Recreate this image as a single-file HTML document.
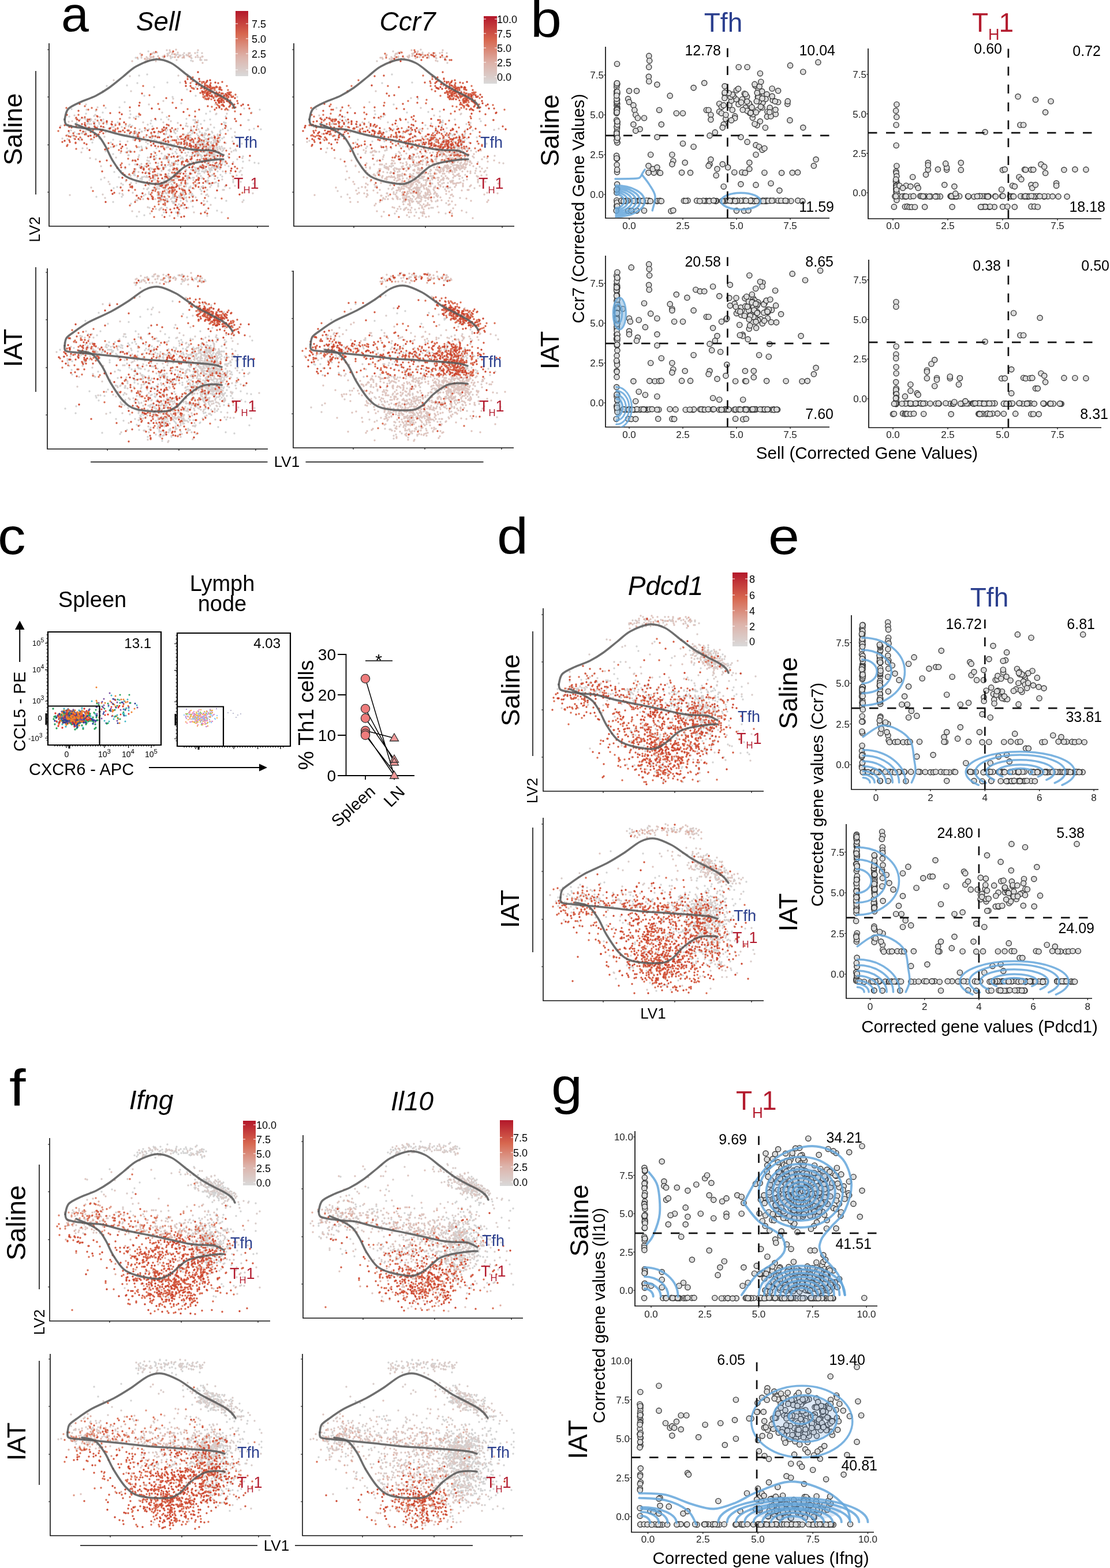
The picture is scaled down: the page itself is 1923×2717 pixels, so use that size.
<!DOCTYPE html><html><head><meta charset="utf-8"><style>html,body{margin:0;padding:0;background:#fff;overflow:hidden}svg{display:block}text{font-family:"Liberation Sans",Arial,sans-serif}</style></head><body>
<svg width="1923" height="2717" viewBox="0 0 1923 2717">
<rect width="1923" height="2717" fill="#fff"/>
<text transform="translate(106 54) scale(1.0 1)" font-size="86">a</text>
<text transform="translate(919 64) scale(1.09 1)" font-size="89">b</text>
<text transform="translate(-4 960) scale(1.09 1)" font-size="89">c</text>
<text transform="translate(861 960) scale(1.09 1)" font-size="89">d</text>
<text transform="translate(1331 960) scale(1.09 1)" font-size="89">e</text>
<text transform="translate(16 1916) scale(1.15 1)" font-size="89">f</text>
<text transform="translate(955 1912) scale(1.09 1)" font-size="89">g</text>
<path d="M85 75V392H466" fill="none" stroke="#111" stroke-width="1.6"/>
<path d="M85 86h-3M85 168h-3M85 251h-3M85 333h-3M189 392v3M313 392v3M446 392v3" stroke="#111" stroke-width="1.2"/>
<path d="M266 104h0m-31 -4h0m22 -11h0m75 12h0m-78 6h0m54 -8h0m23 6h0m-23 -11h0m-12 7h0m15 -4h0m36 6h0m-5 -12h0m7 13h0m-50 -5h0m-6 -7h0m-19 5h0m-35 5h0m128 59h0m20 4h0m11 14h0m-43 -13h0m29 4h0m-11 11h0m38 -13h0m-40 -16h0m3 17h0m-18 1h0m-11 -34h0m30 22h0m-8 1h0m8 8h0m19 5h0m-6 -9h0m20 1h0m-96 -21h0m70 19h0m-92 -19h0m-105 6h0m114 19h0m-116 19h0m156 -21h0m-89 0h0m-43 20h0m48 -57h0m-77 29h0m166 -9h0m-20 6h0m-10 24h0m-76 -35h0m-18 4h0m16 54h0m-20 -25h0m-67 20h0m190 -46h0m-176 50h0m78 -70h0m-4 101h0m-71 -40h0m102 50h0m-96 -29h0m170 38h0m-108 -24h0m134 3h0m-61 7h0m-67 -7h0m-34 -2h0m47 -4h0m-33 9h0m84 -2h0m-86 -13h0m89 9h0m-84 -9h0m-73 -9h0m19 10h0m57 -21h0m58 23h0m68 24h0m-107 -17h0m26 16h0m-40 -13h0m-53 -36h0m115 42h0m31 2h0m36 11h0m-205 -29h0m16 -9h0m56 8h0m69 24h0m-115 -23h0m166 30h0m-122 -47h0m98 2h0m-165 1h0m175 24h0m-69 -12h0m-79 -4h0m123 32h0m-50 -10h0m65 15h0m-53 -44h0m-119 7h0m129 12h0m80 29h0m-65 -20h0m-21 -5h0m-126 -25h0m165 41h0m-134 -40h0m-21 1h0m75 23h0m-8 -3h0m-21 -16h0m-46 3h0m174 27h0m33 14h0m-24 -5h0m-79 -21h0m24 3h0m71 8h0m-96 -27h0m-19 23h0m-48 -17h0m160 18h0m-225 -9h0m9 -11h0m26 -6h0m-11 1h0m7 34h0m-10 -22h0m-33 9h0m22 -27h0m44 55h0m-59 -73h0m26 45h0m-16 -2h0m7 8h0m5 -12h0m33 -3h0m-16 10h0m-10 -9h0m-15 17h0m19 -1h0m-27 -6h0m25 -1h0m17 5h0m-57 -23h0m5 -15h0m42 23h0m-10 -2h0m-27 12h0m-5 -5h0m21 1h0m20 11h0m3 -26h0m-5 12h0m143 22h0m8 89h0m72 -36h0m-86 -53h0m-9 -10h0m1 32h0m0 -16h0m-43 -2h0m128 89h0m-133 -88h0m76 25h0m31 48h0m6 -72h0m-15 -43h0m-71 30h0m111 78h0m-167 -101h0m23 84h0m-9 16h0m38 -80h0m-30 62h0m37 -28h0m-29 -19h0m109 16h0m-144 36h0m52 29h0m43 -44h0m-79 -23h0m102 -35h0m-26 80h0m-7 -36h0m-60 -36h0m50 95h0m-85 -82h0m-4 0h0m68 42h0m34 -1h0m29 -1h0m-1 22h0m23 -50h0m-2 34h0m-41 7h0m15 -33h0m-88 4h0m13 11h0m-4 16h0m13 -18h0m3 11h0m56 68h0m-3 -10h0m-60 -50h0m87 -48h0m81 39h0m-100 -12h0m-52 7h0m48 49h0m-17 -107h0m-34 56h0m33 -7h0m-1 17h0m-19 0h0m-20 -46h0m-11 -10h0m17 76h0m123 -64h0m-180 -5h0m-6 -10h0m170 79h0m-92 -33h0m16 -63h0m-30 48h0m56 6h0m-8 1h0m-98 16h0m25 -3h0m-38 33h0m74 -57h0m110 -41h0m-33 17h0m-72 30h0m-30 36h0m21 -160h0m5 173h0m-34 -16h0m198 -113h0m-238 103h0m65 32h0m-45 -66h0m-1 28h0m56 13h0m40 -30h0m-9 -12h0m-15 -60h0m-18 54h0m81 -13h0m-50 99h0m11 -3h0m-18 -14h0m12 -28h0m44 25h0m-126 -62h0m-29 89h0m110 -84h0m-27 -59h0m83 32h0m-56 82h0m52 -69h0m-108 54h0m-39 35h0m77 -113h0m102 58h0m-122 -34h0m-93 59h0m65 -109h0m41 82h0m4 -11h0m-3 17h0m35 -9h0m-10 10h0m-53 -3h0m78 -8h0m-135 -51h0m94 44h0m42 -2h0m-130 53h0m40 -63h0m159 44h0m-16 -48h0m-20 36h0m-8 -9h0m-149 40h0m135 -27h0m-75 14h0m60 -82h0m-44 44h0m-17 33h0m35 -25h0m-40 -45h0m-34 -18h0m56 72h0m-51 -5h0m93 -2h0m18 7h0m-69 32h0m-52 -37h0m31 -2h0m123 3h0m-101 -40h0m-18 114h0m-14 -117h0m45 31h0m95 10h0m-97 -9h0m4 20h0m54 -27h0m-80 25h0m-25 -24h0m39 55h0m139 -75h0m-111 36h0m-141 56h0m174 -109h0m19 83h0m-55 -15h0m-21 -8h0m70 -83h0m-162 38h0m99 30h0m40 -20h0m-72 50h0m-37 -45h0m70 55h0m67 12h0m-146 -9h0m43 -71h0m67 -12h0m-77 20h0m-50 10h0m166 24h0m-52 9h0m-16 -6h0m97 -81h0m-90 13h0m-70 9h0m105 23h0m-68 52h0m-44 -76h0m120 5h0m-124 18h0m82 16h0m-2 -17h0m9 52h0m-84 -92h0m121 13h0m-106 115h0m28 -26h0m17 -46h0m46 -49h0m-9 97h0m24 -19h0m-138 -56h0m55 -11h0m-31 69h0m52 -54h0m36 1h0m-29 -5h0m-17 38h0m5 61h0m23 8h0m-28 -19h0m28 -52h0m-5 47h0m-13 -1h0m-27 -1h0m31 -8h0m1 42h0m18 -69h0m-8 30h0m-23 2h0m-33 -13h0m75 18h0m-17 11h0m-23 23h0m30 12h0m15 -27h0m-57 -35h0m0 13h0m65 24h0m-29 -10h0m-1 -38h0m-25 38h0m59 0h0m-35 1h0m30 -31h0m-30 33h0m92 6h0m-117 -12h0m-19 8h0m-29 9h0m53 -15h0m54 20h0m-51 -65h0m66 38h0m-65 -12h0m41 -1h0m-67 15h0m5 8h0m71 6h0m-97 28h0m63 -36h0m5 5h0m-59 -9h0m37 0h0m6 -6h0m-63 -25h0m77 45h0m31 -41h0m-89 1h0m72 24h0m-32 8h0m26 29h0m-11 -55h0m-10 35h0m38 -14h0m-41 -47h0m-3 23h0m-12 15h0m41 7h0m-8 34h0m22 -60h0m1 17h0m-44 43h0m5 -45h0m28 32h0m-19 -12h0m2 7h0m-19 23h0m-1 -30h0m6 -18h0m0 31h0m43 -22h0m-38 -29h0m39 20h0m2 14h0m1 -3h0m-44 12h0m-12 -9h0m20 -20h0m53 -10h0m-37 39h0m40 -51h0m-103 76h0m-4 -65h0m46 41h0m31 -7h0m-95 -33h0m102 14h0m-26 -14h0m15 33h0m-2 -7h0m-41 12h0m47 -42h0m3 0h0m-40 -3h0m-6 58h0m-2 -11h0m-11 -21h0m7 11h0m102 26h0m5 -96h0m-18 -11h0m2 7h0m-22 -23h0m29 50h0m-24 -23h0m37 -7h0m-24 -38h0m19 22h0m8 -34h0m-10 106h0m-9 -49h0m-23 -41h0m25 50h0m-28 -66h0m18 75h0m-7 -18h0m-28 15h0m16 -29h0m22 43h0m4 -22h0m-28 -11h0m-6 29h0m16 -7h0m16 7h0m-14 -46h0m8 26h0m10 15h0m-4 -25h0m12 27h0m-46 -45h0m54 83h0m-35 -65h0m31 -38h0m-33 49h0m6 -13h0m41 -71h0m-38 77h0m9 -15h0m19 27h0m-72 -16h0m78 -44h0m-51 61h0m35 -30h0m-61 31h0m106 -11h0m-34 -3h0m-19 35h0m14 -72h0m-28 33h0m-15 27h0m52 9h0m-11 -113h0m-32 28h0m2 72h0m64 24h0m-68 -33h0m25 27h0m-10 13h0m1 -73h0m12 -2h0m-4 44h0m-7 -20h0m11 19h0m-6 -19h0m-49 -19h0m50 33h0m-29 -15h0m20 10h0m4 -83h0m-15 79h0m14 -3h0m-6 -19h0m14 10h0m-24 9h0m13 12h0m-45 -8h0m24 -5h0m57 20h0m-31 4h0m4 -26h0m35 50h0m-50 -24h0m5 22h0m-2 -35h0m-21 -31h0m32 40h0m-18 9h0m7 -71h0m0 68h0m19 -36h0m19 -32h0m-23 46h0m-23 -9h0m6 0h0m1 -22h0m-22 -15h0m37 -5h0m4 57h0m5 -24h0m-36 2h0m61 5h0m-28 36h0m-19 -52h0m7 60h0m9 -107h0m-43 96h0m25 2h0m20 -41h0m-50 31h0m63 -70h0m-30 68h0m18 -49h0m8 5h0m-4 -2h0m-34 49h0m-7 -35h0m0 39h0m20 -25h0m-34 -35h0m38 -24h0m-10 36h0m57 8h0m-44 44h0m-7 -31h0m-13 -10h0m-23 55h0m57 -66h0m-4 65h0m-7 -17h0m-11 58h0m18 -99h0m-13 -17h0m-3 42h0m2 -19h0m-16 5h0m17 -7h0m3 32h0m-3 9h0m26 -14h0m13 25h0m-78 5h0m28 -65h0m20 18h0m-13 -39h0m49 36h0m-39 10h0m-5 -24h0m-21 8h0m-6 -2h0m52 26h0m-32 -22h0m19 3h0m-24 65h0m14 -86h0m-6 74h0m8 -63h0m-29 28h0m13 -23h0m-3 33h0m15 -49h0m9 30h0m-28 -19h0m24 5h0m-12 2h0m-32 7h0m27 -16h0m-8 -2h0m-12 22h0m27 8h0m-10 -45h0m29 58h0m-50 -18h0m66 0h0m-35 -36h0m9 33h0m-32 22h0m48 16h0m-10 -32h0m-23 16h0m15 -26h0m-1 -15h0m-31 -41h0m-16 25h0m83 5h0m-60 21h0m28 8h0m-61 4h0m40 -22h0m8 -52h0m64 83h0m19 -57h0m-36 91h0m26 -106h0m18 75h0m-9 35h0m-8 -110h0m-26 41h0m45 -59h0m-9 92h0m11 -58h0m-30 123h0m-31 -145h0" stroke="#d2d2d2" stroke-width="3.4" stroke-linecap="round"/>
<path d="M327 92h0m4 4h0m12 3h0m-80 5h0m28 -8h0m43 10h0m-79 -2h0m64 -12h0m0 8h0m-21 -6h0m52 -2h0m-61 -5h0m7 12h0m-6 -6h0m-45 7h0m18 -1h0m20 0h0m-38 -3h0m11 10h0m-4 0h0m4 -5h0m6 -8h0m9 9h0m1 -11h0m51 4h0m-39 5h0m21 -5h0m0 1h0m24 2h0m-12 -3h0m38 9h0m-5 -6h0m-84 2h0m47 -4h0m45 8h0m-39 -7h0m-51 -5h0m38 12h0m80 79h0m-17 -27h0m-9 -2h0m-28 -12h0m18 18h0m54 26h0m-49 -14h0m27 5h0m-11 -14h0m1 5h0m-110 41h0m21 3h0m-114 -26h0m140 -55h0m-82 27h0m31 23h0m-33 -49h0m-28 7h0m86 36h0m17 -4h0m-150 19h0m75 2h0m-60 7h0m70 31h0m118 4h0m-95 -10h0m114 18h0m-98 -6h0m73 16h0m-170 -26h0m20 -6h0m45 4h0m-96 -19h0m176 38h0m-10 7h0m-156 -40h0m174 24h0m15 3h0m-57 -5h0m-52 -3h0m-79 -23h0m105 31h0m49 13h0m-9 -21h0m38 -4h0m-118 2h0m118 23h0m-107 -22h0m51 -8h0m-52 -16h0m19 22h0m2 11h0m-53 -22h0m124 26h0m26 9h0m-127 -31h0m87 23h0m-14 -32h0m-50 18h0m-84 -17h0m173 42h0m-99 -17h0m118 15h0m-31 -37h0m-151 1h0m136 8h0m-128 -11h0m-5 13h0m94 12h0m20 -16h0m-89 8h0m108 11h0m-17 7h0m-118 -44h0m18 25h0m131 -10h0m14 30h0m-181 -33h0m203 26h0m-188 -8h0m-65 -15h0m62 3h0m16 8h0m-65 -13h0m33 41h0m37 -34h0m-55 -11h0m16 8h0m-6 11h0m-14 -31h0m19 30h0m-31 11h0m34 -20h0m-3 7h0m28 -18h0m-53 16h0m-4 -15h0m44 8h0m18 18h0m-73 3h0m20 0h0m37 -33h0m-16 -26h0m-8 83h0m-16 -54h0m6 -5h0m12 52h0m-11 -39h0m128 65h0m23 -8h0m9 -20h0m-62 79h0m78 -42h0m11 69h0m-42 -115h0m-24 0h0m-46 89h0m85 -128h0m106 119h0m-108 -6h0m-50 -48h0m83 -26h0m-142 62h0m99 -12h0m71 -3h0m10 47h0m-63 -87h0m14 17h0m1 -10h0m-49 -22h0m79 72h0m-74 -34h0m44 -14h0m-10 33h0m-37 8h0m32 -20h0m-177 55h0m174 -50h0m-47 -76h0m39 36h0m-131 26h0m111 -46h0m55 66h0m-99 9h0m-35 12h0m171 59h0m12 -57h0m-47 -81h0m-11 85h0m-33 -55h0m-122 59h0m169 -45h0m-73 25h0m-20 -9h0m123 1h0m12 -36h0m-37 -2h0m-76 14h0m67 3h0m23 13h0m-53 17h0m-37 -23h0m2 -4h0m117 -82h0m-89 78h0m-63 -6h0m67 -14h0m1 63h0m21 40h0m-91 -113h0m138 51h0m-68 -29h0m-14 47h0m12 -10h0m7 -45h0m-29 4h0m-101 13h0m161 29h0m17 -41h0m-56 59h0m-52 -6h0m55 -31h0m-82 -21h0m-8 8h0m68 3h0m-43 29h0m33 -10h0m-3 12h0m60 -34h0m-9 36h0m32 33h0m12 -99h0m-124 74h0m14 50h0m113 -98h0m-98 -53h0m48 79h0m-66 -62h0m124 42h0m-37 -56h0m38 51h0m-49 50h0m50 4h0m-28 3h0m-108 -64h0m93 2h0m-56 38h0m13 -74h0m20 58h0m-2 39h0m-33 -34h0m43 29h0m2 -43h0m-96 58h0m100 -78h0m-14 1h0m-6 12h0m16 -58h0m-6 13h0m21 44h0m22 25h0m-55 -41h0m-6 -9h0m98 32h0m-78 7h0m36 -22h0m-39 21h0m56 82h0m-55 -73h0m-25 10h0m9 -32h0m9 16h0m-40 -8h0m81 90h0m-100 -83h0m-61 3h0m35 30h0m59 27h0m41 -21h0m-75 23h0m-7 -24h0m99 5h0m-82 -44h0m-21 -80h0m22 88h0m106 31h0m-41 -24h0m-12 0h0m0 -33h0m-13 43h0m51 -12h0m37 -52h0m-78 -18h0m-1 88h0m58 -60h0m-122 43h0m100 -21h0m-84 13h0m46 -72h0m64 98h0m25 -57h0m-104 102h0m20 -79h0m110 -23h0m-132 75h0m53 -48h0m-81 59h0m-59 -123h0m73 48h0m-80 73h0m104 -37h0m-4 -54h0m83 16h0m-23 3h0m-43 29h0m3 3h0m-112 16h0m2 -31h0m72 25h0m101 42h0m-65 -64h0m107 31h0m-92 -8h0m-45 -78h0m100 7h0m-132 104h0m49 -13h0m24 -75h0m80 63h0m-78 19h0m-32 -146h0m81 60h0m48 49h0m-192 10h0m62 -69h0m-102 92h0m151 -99h0m61 85h0m-122 -18h0m64 -31h0m-29 42h0m-74 50h0m114 -157h0m14 60h0m-115 18h0m24 -15h0m27 6h0m1 96h0m6 -45h0m-67 -30h0m43 65h0m56 -28h0m4 -16h0m-51 28h0m15 4h0m-44 7h0m30 -7h0m5 -20h0m-15 31h0m86 -45h0m-59 8h0m-15 9h0m-14 15h0m2 -4h0m1 -13h0m21 16h0m7 -9h0m-15 5h0m-7 -4h0m-24 -29h0m-19 -14h0m56 47h0m-19 -42h0m37 -4h0m-68 8h0m54 20h0m-27 7h0m12 15h0m1 -21h0m-14 -12h0m87 21h0m-110 -10h0m66 -1h0m-40 1h0m13 -7h0m12 16h0m-9 -2h0m19 -13h0m43 27h0m-84 -43h0m44 38h0m36 -7h0m-6 -42h0m-21 49h0m-6 -7h0m6 -13h0m-64 -22h0m43 32h0m-2 3h0m-4 -29h0m16 33h0m44 14h0m-107 -64h0m109 48h0m-25 -37h0m-14 32h0m-21 1h0m-44 -36h0m73 62h0m-31 -48h0m-19 8h0m-24 17h0m32 -17h0m11 -11h0m-46 30h0m-36 -1h0m47 32h0m13 -32h0m-15 -19h0m33 20h0m-14 9h0m-2 -26h0m1 5h0m41 10h0m-40 -45h0m-22 36h0m123 -5h0m-76 -7h0m82 52h0m-84 -32h0m35 -24h0m-48 32h0m37 5h0m-72 -28h0m-16 18h0m79 17h0m-5 -2h0m-57 -47h0m39 9h0m-22 46h0m50 -24h0m21 -118h0m25 49h0m-25 -48h0m-14 18h0m26 16h0m5 11h0m9 -38h0m-43 41h0m79 -24h0m-60 -10h0m5 26h0m-4 50h0m18 -78h0m-3 17h0m14 -9h0m-34 53h0m38 -61h0m-35 85h0m28 -16h0m-13 -28h0m75 -49h0m-88 25h0m49 -53h0m-51 69h0m-1 39h0m19 -82h0m-9 57h0m11 1h0m38 -58h0m-32 16h0m-18 42h0m-16 -53h0m52 -4h0m-28 28h0m5 42h0m-8 -20h0m0 -40h0m29 43h0m-23 31h0m27 21h0m-21 -68h0m-37 -16h0m21 5h0m24 26h0m-16 37h0m-17 -96h0m39 76h0m-14 -3h0m-45 -41h0m82 62h0m-97 -3h0m100 -79h0m-82 50h0m26 29h0m-13 -100h0m37 84h0m-18 -60h0m15 58h0m-6 -44h0m-19 8h0m-6 -7h0m-18 -8h0m54 21h0m-1 -4h0m-7 11h0m-16 -23h0m-24 55h0m34 -18h0m17 -24h0m-32 48h0m1 -59h0m-9 51h0m7 -19h0m38 33h0m-20 -95h0m9 48h0m-32 -14h0m33 3h0m-32 16h0m24 -31h0m-16 -2h0m-13 32h0m53 -20h0m-47 -24h0m21 37h0m-42 -20h0m37 1h0m11 25h0m-21 24h0m-11 -33h0m68 -22h0m-50 20h0m20 -9h0m-38 -36h0m40 74h0m-13 -9h0m2 -4h0m-43 36h0m19 -62h0m-16 4h0m35 31h0m-5 -24h0m29 3h0m-30 0h0m21 -24h0m-8 12h0m-64 11h0m60 59h0m-35 -98h0m55 77h0m-35 -6h0m33 -37h0m-30 -8h0m15 17h0m2 -28h0m-34 63h0m80 17h0m-72 -23h0m39 -7h0m-22 -17h0m19 5h0m-9 37h0m29 -47h0m-49 12h0m67 28h0m-83 5h0m19 -77h0m17 25h0m-18 43h0m57 -23h0m-29 8h0m-46 -22h0m36 8h0m-22 11h0m2 -30h0m5 45h0m-24 -32h0m6 -7h0m37 -6h0m-22 3h0m29 36h0m-18 -13h0m-15 -16h0m14 -8h0m8 4h0m-10 -17h0m-63 85h0m72 -79h0m-49 55h0m36 -22h0m16 37h0m-14 -68h0m14 -1h0m-49 9h0m50 18h0m-24 -21h0m4 38h0m14 -31h0m30 40h0m-68 -61h0m17 -5h0m1 90h0m68 -28h0m3 54h0m18 -15h0m-15 -147h0m-35 50h0m32 36h0m-31 -17h0m10 0h0m5 24h0m16 10h0m-32 -23h0m44 10h0" stroke="#d8cbc8" stroke-width="3.4" stroke-linecap="round"/>
<path d="M311 96h0m-50 4h0m34 -3h0m-35 0h0m31 -2h0m-9 3h0m-53 8h0m65 -19h0m1 3h0m0 7h0m34 -5h0m-77 16h0m72 -12h0m-70 7h0m20 -5h0m53 -5h0m-11 7h0m31 0h0m-88 2h0m26 -6h0m53 -4h0m1 7h0m-69 7h0m61 -6h0m-23 -9h0m43 7h0m-47 -4h0m1 -8h0m-62 7h0m83 3h0m-62 -3h0m83 11h0m-5 -8h0m-80 3h0m-17 -2h0m45 0h0m53 -10h0m-89 12h0m97 10h0m-85 -18h0" stroke="#dec4be" stroke-width="3.4" stroke-linecap="round"/>
<path d="M299 91h0m-33 7h0m62 0h0m-90 2h0m71 -1h0m-58 3h0m52 -3h0m-1 -5h0m16 5h0" stroke="#deada0" stroke-width="3.4" stroke-linecap="round"/>
<path d="M246 95h0m30 6h0m58 39h0m51 31h0m-7 2h0m-14 -18h0m-16 -2h0m27 8h0m-17 1h0m49 31h0m-9 -31h0m-45 7h0m4 -26h0m9 29h0m28 18h0m-60 -56h0m36 26h0m4 -9h0m1 0h0m5 1h0m-4 29h0m-41 -41h0m32 45h0m26 -20h0m-36 -8h0m-2 -4h0m18 10h0m17 9h0m-55 -19h0m61 23h0m-24 -20h0m-31 -12h0m10 17h0m6 0h0m10 -8h0m-8 14h0m24 8h0m10 -26h0m-37 22h0m39 5h0m-13 -24h0m10 15h0m-14 -5h0m-44 -9h0m59 15h0m-9 -6h0m-24 -3h0m-28 -7h0m46 31h0m12 7h0m-9 -24h0m-5 1h0m3 -3h0m-27 4h0m10 -6h0m-6 -4h0m39 -2h0m-45 -12h0m10 27h0m48 -7h0m-29 12h0m20 -2h0m-34 -18h0m0 3h0m4 9h0m35 -1h0m-24 17h0m0 -30h0m4 28h0m-54 -38h0m49 29h0m-15 -26h0m-3 16h0m8 -10h0m15 36h0m19 -2h0m-9 -22h0m5 17h0m-16 -10h0m-33 -30h0m32 23h0m12 7h0m-58 -18h0m69 32h0m-146 -21h0m66 -32h0m-77 16h0m90 44h0m-52 32h0m-117 -16h0m103 13h0m55 13h0m-65 -5h0m3 6h0m-24 -38h0m-94 5h0m173 45h0m-35 -7h0m-106 -27h0m193 23h0m-12 10h0m-152 -41h0m46 28h0m-38 -5h0m-9 -13h0m-60 -32h0m92 49h0m-6 -2h0m-65 -30h0m157 34h0m13 5h0m31 13h0m-78 -9h0m-56 -38h0m136 56h0m-171 -45h0m104 7h0m-11 -23h0m-93 23h0m41 -27h0m-23 18h0m16 7h0m-30 1h0m125 20h0m-12 -10h0m-36 -5h0m0 -4h0m-48 4h0m77 19h0m-106 -25h0m-81 -4h0m62 -6h0m-70 23h0m38 -45h0m-20 17h0m-16 44h0m50 -61h0m-25 30h0m-6 -21h0m22 42h0m-1 -12h0m37 -18h0m-79 -24h0m32 26h0m-15 45h0m-1 -11h0m47 -22h0m-39 13h0m20 -51h0m-27 50h0m48 -54h0m-52 52h0m33 -9h0m-60 1h0m319 107h0m-128 -53h0m63 -2h0m20 -28h0m-37 64h0m-43 -90h0m19 11h0m61 52h0m-69 -41h0m-3 90h0m13 -26h0m-70 -51h0m97 51h0m-94 -73h0m56 41h0m-54 -57h0m57 28h0m35 19h0m-118 51h0m11 -67h0m-6 47h0m61 20h0m26 -79h0m-129 16h0m120 14h0m-54 -14h0m31 59h0m49 -21h0m-75 22h0m13 -13h0m-74 -51h0m36 76h0m86 -74h0m-44 7h0m-7 3h0m48 87h0m-50 -81h0m-40 -51h0m6 43h0m36 30h0m75 15h0m-1 -51h0m-81 -26h0m-40 44h0m71 66h0m100 -58h0m-187 -23h0m74 21h0m-6 -101h0m61 63h0m18 45h0m-95 5h0m-19 -56h0m29 -8h0m-43 127h0m81 -64h0m26 -20h0m-68 -36h0m46 20h0m-36 59h0m-82 -28h0m11 4h0m51 -2h0m20 -35h0m54 -54h0m-11 80h0m18 37h0m-36 -74h0m59 26h0m-41 60h0m36 -85h0m-15 19h0m-34 37h0m-69 -21h0m118 -25h0m-129 48h0m77 -16h0m-2 -108h0m79 68h0m-165 54h0m72 -41h0m-124 72h0m164 -142h0m-88 66h0m-17 9h0m88 106h0m63 -98h0m-161 -10h0m2 68h0m-1 -47h0m64 71h0m-32 -9h0m55 -46h0m55 56h0m-39 -38h0m70 27h0m-3 -61h0m-99 -29h0m19 52h0m1 11h0m71 -12h0m-75 7h0m-37 -3h0m58 14h0m15 -35h0m61 90h0m-114 -43h0m-18 31h0m29 -39h0m14 -8h0m-13 15h0m5 0h0m7 15h0m8 -13h0m-38 13h0m-7 9h0m7 -65h0m18 39h0m-19 1h0m-1 -20h0m38 -7h0m-47 38h0m5 -13h0m45 25h0m1 -28h0m-29 24h0m-67 -40h0m95 26h0m-29 3h0m-10 -5h0m29 -1h0m-41 -1h0m75 -35h0m-68 29h0m38 32h0m-7 -35h0m-18 38h0m56 -40h0m-54 8h0m-10 6h0m26 -6h0m-32 -28h0m10 43h0m12 -37h0m-5 46h0m-3 -30h0m35 -16h0m-15 31h0m25 2h0m-61 34h0m30 -50h0m6 -21h0m60 -35h0m-21 -8h0m-16 -23h0m66 22h0m-21 40h0m-7 -36h0m9 29h0m18 -14h0m-20 -27h0m11 27h0m-14 6h0m-8 12h0m-16 -59h0m-3 -27h0m36 28h0m-8 12h0m22 45h0m-30 -19h0m30 -46h0m-53 24h0m35 27h0m-20 -8h0m26 -36h0m-50 62h0m36 -26h0m-27 -35h0m23 43h0m36 -16h0m-57 -42h0m71 67h0m24 -96h0" stroke="#da6c50" stroke-width="3.4" stroke-linecap="round"/>
<path d="M300 89h0m-39 5h0m9 -4h0m15 8h0m90 69h0m-3 23h0m15 -16h0m-6 -4h0m-3 -4h0m-11 -1h0m-5 5h0m13 -10h0m33 26h0m-50 -24h0m-3 -17h0m-5 7h0m5 15h0m25 -12h0m-25 -9h0m20 4h0m7 16h0m3 8h0m-1 -12h0m0 -6h0m-11 10h0m23 -4h0m36 26h0m-54 -44h0m-26 20h0m34 -2h0m-3 7h0m-28 -11h0m34 8h0m-8 -15h0m6 19h0m-8 1h0m-15 -19h0m39 16h0m-29 10h0m-8 -24h0m15 23h0m0 -2h0m-21 9h0m13 -22h0m-13 -13h0m37 36h0m-9 -1h0m-8 -6h0m-18 -20h0m6 1h0m-9 -8h0m-34 -14h0m55 23h0m31 15h0m-57 -21h0m40 7h0m-36 11h0m18 -21h0m6 4h0m15 5h0m21 23h0m-72 -42h0m18 21h0m34 22h0m-38 -24h0m3 -2h0m37 7h0m-42 -23h0m18 20h0m24 18h0m1 -12h0m-32 -16h0m25 19h0m-47 -10h0m3 -3h0m15 -8h0m-4 22h0m24 -30h0m7 46h0m-9 -22h0m-6 0h0m-6 -14h0m-3 0h0m7 35h0m-10 -27h0m-7 3h0m48 18h0m-41 -23h0m47 21h0m-40 -26h0m-7 -9h0m-16 6h0m25 28h0m-4 -8h0m-12 -22h0m40 30h0m-39 -12h0m24 1h0m-25 -11h0m-4 5h0m32 20h0m14 -21h0m-55 30h0m-103 -12h0m73 -5h0m-69 -11h0m99 28h0m-57 -20h0m-82 58h0m-37 -26h0m151 41h0m-113 -29h0m132 41h0m-34 -12h0m-82 -17h0m82 18h0m45 -10h0m-176 -9h0m95 11h0m-78 -40h0m-27 23h0m57 7h0m71 20h0m-28 -22h0m2 -1h0m81 28h0m-64 -8h0m-129 -22h0m53 -26h0m124 48h0m-118 -17h0m78 12h0m-112 -18h0m119 2h0m31 30h0m-1 1h0m-4 -2h0m-115 -23h0m51 10h0m15 -10h0m-50 3h0m121 10h0m-68 -12h0m-51 0h0m108 25h0m-128 -39h0m-52 -8h0m-3 0h0m-36 -8h0m63 32h0m-31 -13h0m-18 23h0m33 -3h0m4 -2h0m-4 2h0m-55 8h0m28 -54h0m14 58h0m-28 -13h0m-6 16h0m4 -33h0m24 8h0m29 52h0m-35 -100h0m-1 52h0m5 -17h0m0 27h0m5 -9h0m-23 -12h0m18 -6h0m-3 11h0m-18 20h0m-2 -10h0m12 12h0m1 -44h0m-20 13h0m30 25h0m31 -13h0m-2 4h0m-25 15h0m3 -16h0m-29 11h0m12 -24h0m2 -12h0m-7 24h0m173 63h0m25 -14h0m-76 12h0m-17 5h0m29 -51h0m61 33h0m-27 -21h0m55 -36h0m-53 50h0m-58 33h0m76 -41h0m29 60h0m-77 -30h0m55 -57h0m62 -22h0m-54 61h0m-44 10h0m-98 -38h0m125 -31h0m1 32h0m23 21h0m-7 63h0m-88 -89h0m-44 90h0m163 -75h0m-69 -42h0m-3 -1h0m67 62h0m-1 90h0m-103 -47h0m66 -61h0m20 -58h0m-23 82h0m-119 -58h0m103 106h0m8 -38h0m-74 -1h0m123 32h0m-126 -47h0m17 21h0m101 71h0m-132 -67h0m18 -25h0m45 -24h0m47 -13h0m-100 22h0m-49 34h0m106 -4h0m-73 -3h0m83 -22h0m-4 6h0m-28 63h0m-44 -47h0m56 -52h0m88 64h0m-40 -5h0m-69 3h0m-27 -114h0m59 71h0m-75 29h0m136 23h0m-69 -120h0m-79 65h0m120 58h0m66 -26h0m-167 -64h0m119 60h0m-58 -7h0m60 -45h0m-23 146h0m-26 -61h0m13 -31h0m-116 -6h0m104 -6h0m19 29h0m-34 14h0m76 -34h0m4 51h0m-20 -6h0m-67 -50h0m45 25h0m-83 24h0m68 -88h0m-13 -5h0m-39 57h0m69 -48h0m38 85h0m-11 -68h0m-24 72h0m4 -12h0m14 -23h0m-101 -52h0m38 46h0m-49 41h0m63 -24h0m-51 -65h0m162 32h0m-135 -6h0m93 14h0m-90 17h0m98 7h0m-168 -55h0m124 0h0m-17 49h0m32 -34h0m-51 -22h0m19 118h0m-45 -16h0m54 -18h0m3 -80h0m93 42h0m-55 28h0m38 -95h0m-32 55h0m-51 -5h0m-28 -23h0m22 76h0m-2 4h0m13 -69h0m-32 26h0m-18 -34h0m113 -3h0m-136 27h0m59 55h0m23 -15h0m-48 -24h0m48 -37h0m-78 -56h0m-17 125h0m-16 -67h0m136 20h0m-10 -58h0m-66 99h0m4 -9h0m20 16h0m27 -20h0m-76 36h0m56 -29h0m-44 7h0m98 24h0m-86 -23h0m41 -14h0m-23 16h0m15 56h0m-19 -87h0m-3 49h0m18 -16h0m23 9h0m-47 10h0m60 -2h0m-39 22h0m-30 -21h0m98 -24h0m-57 -13h0m-23 41h0m27 17h0m-47 -23h0m58 -27h0m-33 8h0m-34 -37h0m56 28h0m49 58h0m-125 -20h0m81 -12h0m-8 4h0m-13 -11h0m-26 -6h0m-59 0h0m97 -33h0m-8 33h0m13 -29h0m-71 47h0m94 5h0m5 -27h0m17 -7h0m-70 11h0m-7 -22h0m7 44h0m31 -38h0m-61 35h0m24 -5h0m-15 23h0m96 -1h0m-71 -12h0m-7 5h0m45 -46h0m-12 35h0m1 -35h0m-80 31h0m66 -10h0m19 7h0m35 -82h0m22 10h0m-25 13h0m15 -18h0m-18 27h0m38 -39h0m-65 1h0m58 42h0m-7 -8h0m29 24h0m-38 -41h0m15 -31h0m-38 12h0m4 43h0m29 0h0m-34 -12h0m17 -28h0m-11 13h0m5 0h0m-18 -16h0m5 16h0m28 -10h0m-39 32h0m11 -30h0m17 5h0m-8 -16h0m24 18h0m-11 -28h0m-1 18h0m11 -12h0m5 5h0m9 27h0m-33 39h0m-22 -57h0m116 -34h0m-38 -9h0m-2 -4h0m10 11h0" stroke="#d2573e" stroke-width="3.4" stroke-linecap="round"/>
<path d="M391 163h0m5 5h0m-32 -29h0m16 47h0m4 -9h0m-22 -26h0m18 24h0m-5 -13h0m-11 -14h0m15 30h0m14 -3h0m-16 -1h0m-26 -14h0m47 18h0m-26 -4h0m35 -4h0m-86 -29h0m34 8h0m-10 -2h0m7 12h0m-7 -22h0m-3 17h0m-2 -8h0m23 20h0m21 7h0m-43 -27h0m18 15h0m8 6h0m-2 -9h0m-6 -18h0m-5 12h0m25 24h0m-13 -9h0m14 -1h0m-50 -17h0m47 16h0m20 -1h0m-4 1h0m-33 -1h0m-30 -6h0m91 23h0m-78 -56h0m10 17h0m77 40h0m-99 -45h0m86 61h0m-29 -32h0m-1 17h0m-14 -40h0m15 34h0m-30 -12h0m-36 -21h0m0 5h0m-81 34h0m22 5h0m-52 10h0m-17 18h0m89 10h0m4 19h0m15 -2h0m-150 -33h0m115 19h0m29 -1h0m43 23h0m-10 -2h0m22 9h0m-82 -52h0m-84 4h0m56 20h0m-50 -8h0m97 0h0m-98 1h0m-15 -4h0m197 19h0m-179 -23h0m138 37h0m2 -11h0m-12 -2h0m-146 -31h0m-18 27h0m-2 25h0m-13 -56h0m26 18h0m-21 -6h0m-11 25h0m28 -8h0m-45 -6h0m-15 -6h0m61 0h0m-53 23h0m41 -8h0m-16 -27h0m39 18h0m-13 -13h0m206 43h0m-51 44h0m-31 1h0m-19 -5h0m-5 17h0m-80 36h0m228 -97h0m-173 32h0m63 -14h0m-62 -35h0m27 13h0m-54 59h0m158 -46h0m-51 -17h0m17 39h0m-78 16h0m-76 -41h0m107 48h0m-9 10h0m-39 -76h0m-42 -14h0m120 59h0m25 -30h0m-63 53h0m22 -4h0m-85 -54h0m182 45h0m-156 -5h0m148 -86h0m-118 87h0m-25 2h0m27 -56h0m-61 -26h0m90 -25h0m-21 34h0m119 63h0m-210 46h0m15 -80h0m156 36h0m-169 50h0m122 -113h0m40 52h0m-45 -38h0m-55 50h0m63 68h0m-18 -63h0m-46 -49h0m41 125h0m31 -78h0m-30 35h0m10 -19h0m-20 0h0m-23 2h0m111 22h0m-164 -76h0m180 67h0m-114 1h0m130 -25h0m-152 -71h0m-1 90h0m113 1h0m-109 -11h0m56 -25h0m-6 -3h0m9 -84h0m-59 107h0m2 -29h0m50 -17h0m2 57h0m102 -40h0m-105 34h0m-41 -53h0m35 102h0m41 -38h0m-22 43h0m-35 8h0m31 7h0m-72 -40h0m30 8h0m-12 -13h0m42 -8h0m-1 24h0m18 -69h0m25 75h0m-41 16h0m-1 -8h0m-2 -36h0m15 6h0m-2 15h0m-53 -40h0m76 42h0m-56 29h0m-4 -55h0m25 11h0m-36 -50h0m12 50h0m5 32h0m-22 -19h0m15 -23h0m-51 1h0m99 7h0m12 -18h0m3 -20h0m-13 9h0m61 -83h0m-59 57h0m20 16h0m25 -21h0m5 0h0m-31 -20h0m-7 62h0m11 -42h0m-24 -15h0m38 -3h0m-36 38h0m12 -46h0m34 69h0m-12 -48h0m5 10h0m-41 -49h0m32 38h0m8 23h0m-10 -46h0m-12 49h0m33 -12h0m-31 -21h0m6 32h0m44 3h0m32 -22h0m-18 67h0m-10 -88h0" stroke="#cb422c" stroke-width="3.4" stroke-linecap="round"/>
<path d="M112 207C113 204 113.5 194 118 189C122.5 184 131 180.8 139 177C147 173.2 157.7 170.2 166 166C174.3 161.8 181.2 157.5 189 152C196.8 146.5 205.2 139.2 213 133C220.8 126.8 226.7 120 236 115C245.3 110 259 104 269 103C279 102 287 104.7 296 109C305 113.3 314.5 122.7 323 129C331.5 135.3 339.2 141.8 347 147C354.8 152.2 363.5 156.5 370 160C376.5 163.5 381.5 165.5 386 168C390.5 170.5 394.2 172.8 397 175C399.8 177.2 401.5 179 403 181C404.5 183 405.5 186 406 187" fill="none" stroke="#5a5a5a" stroke-opacity="0.88" stroke-width="3.5" stroke-linecap="round"/>
<path d="M112 207C112.5 208.5 112 213.8 115 216C118 218.2 123.5 218.8 130 220C136.5 221.2 146.2 222.2 154 223C161.8 223.8 168.2 223.3 177 225C185.8 226.7 197.2 230.7 207 233C216.8 235.3 226.2 237 236 239C245.8 241 255.7 242.8 266 245C276.3 247.2 288.2 249.8 298 252C307.8 254.2 317.5 256.7 325 258C332.5 259.3 335.7 259.5 343 260C350.3 260.5 361.7 259.5 369 261C376.3 262.5 384 267.7 387 269" fill="none" stroke="#5a5a5a" stroke-opacity="0.88" stroke-width="3.5" stroke-linecap="round"/>
<path d="M131 215C134.8 216.7 147.3 221.5 154 225C160.7 228.5 166.2 231.2 171 236C175.8 240.8 179 247 183 254C187 261 190 270 195 278C200 286 206.2 296.2 213 302C219.8 307.8 226.2 310.2 236 313C245.8 315.8 263 319 272 319C281 319 285.3 315.2 290 313C294.7 310.8 295 310 300 306C305 302 313.5 293 320 289C326.5 285 330.8 284 339 282C347.2 280 361 278 369 277C377 276 384 276.2 387 276" fill="none" stroke="#5a5a5a" stroke-opacity="0.88" stroke-width="3.5" stroke-linecap="round"/>
<path d="M509 75V392H891" fill="none" stroke="#111" stroke-width="1.6"/>
<path d="M509 86h-3M509 168h-3M509 251h-3M509 333h-3M613 392v3M737 392v3M870 392v3" stroke="#111" stroke-width="1.2"/>
<path d="M820 168h0m-21 -7h0m23 18h0m-12 -17h0m-12 -11h0m-15 0h0m17 11h0m-1 -4h0m33 6h0m-118 -21h0m-7 69h0m-28 -83h0m3 52h0m-20 -37h0m62 27h0m38 22h0m-73 43h0m-7 -12h0m-111 -21h0m221 27h0m-48 18h0m-141 -34h0m126 30h0m55 3h0m-68 -1h0m-66 -48h0m-69 8h0m88 22h0m94 23h0m-46 -14h0m-139 -16h0m177 22h0m16 8h0m-124 -32h0m10 12h0m-65 -30h0m78 27h0m92 12h0m-187 -25h0m178 37h0m-6 -38h0m37 42h0m-56 -32h0m-30 7h0m-14 7h0m29 -17h0m-114 -2h0m190 37h0m-24 -5h0m-50 -4h0m-118 -44h0m160 38h0m-100 -13h0m-29 -6h0m-34 11h0m-22 -15h0m9 17h0m10 1h0m-47 -16h0m33 -7h0m14 -23h0m-25 30h0m0 -5h0m-18 -26h0m26 45h0m8 7h0m-7 -20h0m28 4h0m-43 16h0m-4 -37h0m46 21h0m-13 -18h0m-6 -20h0m-25 20h0m30 9h0m-5 12h0m133 27h0m-15 -9h0m45 -9h0m-55 6h0m117 -28h0m-71 2h0m1 32h0m-72 -5h0m-1 11h0m38 -1h0m-58 -9h0m21 0h0m-46 -3h0m152 3h0m-151 9h0m42 -17h0m123 2h0m-74 -11h0m-20 24h0m-28 -50h0m62 24h0m-28 28h0m23 -17h0m17 4h0m15 -12h0m-94 12h0m-23 13h0m207 -5h0m-123 -22h0m-3 -9h0m-62 17h0m87 -41h0m28 35h0m-65 -34h0m-12 58h0m51 -3h0m23 -41h0m-2 11h0m12 35h0m-10 -13h0m14 12h0m-13 -4h0m24 -11h0m-13 -5h0m-13 -17h0m15 15h0m9 14h0m-35 9h0m22 -11h0m28 -10h0m-40 -22h0m34 41h0m20 -27h0m-61 0h0m43 21h0m-1 8h0m-22 -12h0m27 0h0m-50 -23h0m40 15h0m-7 19h0m-2 -21h0m5 6h0m9 12h0m-22 3h0m18 3h0m-26 -7h0m28 -3h0m-14 -12h0m42 3h0m7 -28h0m-4 39h0" stroke="#d2d2d2" stroke-width="3.4" stroke-linecap="round"/>
<path d="M690 104h0m-5 -4h0m73 6h0m-77 -17h0m-2 15h0m-1 3h0m65 -7h0m-90 6h0m121 -14h0m-26 4h0m-63 -2h0m50 3h0m-28 2h0m-38 -3h0m82 -3h0m-71 8h0m15 1h0m37 -11h0m-4 3h0m1 -8h0m-54 16h0m78 -4h0m-67 1h0m4 1h0m85 9h0m-66 -11h0m-19 -7h0m37 8h0m15 0h0m66 63h0m-7 12h0m1 -12h0m-6 6h0m-12 3h0m-177 16h0m44 -29h0m117 -9h0m-128 28h0m72 -7h0m-125 31h0m123 24h0m-61 -33h0m117 59h0m-148 -35h0m113 21h0m-33 -1h0m-68 -8h0m144 6h0m-81 2h0m38 -9h0m-110 -7h0m45 4h0m42 -3h0m-48 8h0m104 -4h0m-133 -9h0m44 10h0m-80 -14h0m56 8h0m102 29h0m-129 -34h0m25 -11h0m39 15h0m44 28h0m17 -12h0m44 18h0m-78 -9h0m-56 -38h0m119 45h0m-113 -21h0m-50 -8h0m122 25h0m-138 -22h0m154 18h0m17 -2h0m-65 -13h0m-54 1h0m54 -5h0m-77 -12h0m-13 16h0m130 11h0m36 2h0m-21 7h0m-161 -40h0m8 21h0m-75 17h0m21 -46h0m19 30h0m-14 2h0m42 -22h0m-8 12h0m-3 -1h0m-53 23h0m20 -25h0m9 45h0m20 -38h0m-18 31h0m118 -11h0m61 33h0m-27 -21h0m13 34h0m42 -70h0m-63 80h0m95 1h0m-9 40h0m25 -17h0m-51 2h0m-24 -82h0m-55 51h0m38 -50h0m24 29h0m-84 -16h0m66 10h0m31 40h0m-80 -70h0m38 31h0m-53 -59h0m39 36h0m-48 -12h0m-16 67h0m13 -50h0m120 25h0m-32 -42h0m-66 100h0m43 -44h0m17 -32h0m20 -58h0m31 59h0m-173 -35h0m97 80h0m-33 -9h0m62 20h0m-66 -34h0m100 42h0m19 -128h0m-73 111h0m-120 -49h0m135 16h0m-70 24h0m-18 -20h0m13 11h0m106 80h0m-94 -71h0m35 5h0m7 -45h0m-33 34h0m48 49h0m-17 -107h0m50 21h0m-84 35h0m21 18h0m11 -8h0m-1 -15h0m-82 -21h0m99 15h0m-75 -17h0m-36 63h0m124 -29h0m-14 12h0m-33 -17h0m77 -49h0m-133 21h0m-1 28h0m97 28h0m-99 -108h0m90 -25h0m-89 35h0m68 -1h0m29 119h0m-6 -42h0m-79 -35h0m37 40h0m31 23h0m10 -5h0m-17 -49h0m17 20h0m-42 -56h0m-52 100h0m152 -50h0m-90 29h0m-99 -4h0m79 -22h0m58 12h0m16 -101h0m-21 91h0m-53 -3h0m30 -56h0m-39 57h0m-48 -60h0m94 44h0m-48 -12h0m74 -38h0m-5 14h0m-55 50h0m129 -30h0m-28 12h0m-122 16h0m61 83h0m-122 -80h0m94 57h0m-1 -39h0m-5 -70h0m134 37h0m-112 17h0m42 -7h0m-65 -16h0m93 14h0m-10 9h0m-69 32h0m-52 -37h0m66 -11h0m-77 26h0m53 -7h0m-25 -24h0m-74 72h0m-6 -10h0m31 -84h0m139 30h0m0 -20h0m51 2h0m-104 102h0m45 -124h0m6 49h0m78 3h0m-55 28h0m-109 28h0m-47 -78h0m169 1h0m-65 23h0m91 -78h0m-90 13h0m-2 103h0m16 -15h0m-6 -6h0m4 33h0m-11 -24h0m-63 -41h0m-61 61h0m154 -63h0m-89 -75h0m-1 88h0m24 -15h0m-40 52h0m-16 -67h0m69 87h0m21 -15h0m-26 4h0m30 22h0m-4 -3h0m-8 -25h0m-1 5h0m32 28h0m-24 -39h0m-12 1h0m-13 28h0m2 -4h0m42 -18h0m-40 34h0m27 -22h0m26 9h0m-41 -4h0m-7 -4h0m18 -40h0m34 38h0m-58 -36h0m-31 4h0m49 56h0m-46 -36h0m57 -22h0m-23 -12h0m42 25h0m-62 23h0m20 5h0m17 -7h0m5 5h0m-59 -9h0m-20 -31h0m88 34h0m-45 -33h0m80 47h0m-46 -3h0m-58 -40h0m9 -25h0m56 28h0m18 24h0m-41 -47h0m-24 45h0m42 34h0m0 -44h0m22 -16h0m-12 30h0m-26 -15h0m-21 2h0m30 18h0m2 7h0m-2 -25h0m10 35h0m-22 -4h0m40 4h0m-40 -35h0m0 22h0m47 -11h0m-48 40h0m-4 -55h0m-32 18h0m11 31h0m90 -61h0m-44 23h0m-15 7h0m22 9h0m-37 -21h0m41 10h0m-62 -9h0m129 40h0m-92 -19h0m8 -13h0m-72 -27h0m102 14h0m-26 -14h0m-52 12h0m51 19h0m25 2h0m-5 -37h0m5 25h0m-58 32h0m-33 -23h0m66 -10h0m-25 20h0m68 -121h0m-3 -16h0m-1 43h0m20 -22h0m29 -15h0m-51 47h0m-6 29h0m39 -53h0m-21 7h0m-10 70h0m0 -56h0m28 40h0m-10 -28h0m10 15h0m-13 -15h0m9 -10h0m66 -39h0m-106 14h0m66 22h0m-10 -35h0m7 21h0m-48 58h0m26 -52h0m-53 11h0m62 -13h0m-25 -1h0m33 27h0m-2 -46h0m-52 14h0m45 31h0m-2 18h0m-14 19h0m21 -126h0m-36 125h0m18 -67h0m-55 63h0m67 -22h0m-2 4h0m-32 -24h0m7 -12h0m-6 -7h0m30 13h0m-32 8h0m30 -2h0m35 50h0m-60 -77h0m33 1h0m-30 49h0m29 -31h0m-25 -22h0m-3 26h0m26 -64h0m-6 74h0m9 -37h0m-52 73h0m60 -68h0m-6 73h0m-39 -22h0m33 -8h0m-10 -2h0m-6 -21h0m7 -53h0m4 45h0m-44 57h0m53 -1h0m0 -58h0m40 65h0m-72 -23h0m17 -24h0m19 5h0m-9 37h0m-8 -15h0m55 8h0m-47 -47h0m18 23h0m-29 34h0m-22 -56h0m11 4h0m14 -8h0m-11 2h0m-31 46h0m48 -46h0m-44 9h0m51 -20h0m-16 39h0m38 17h0m-68 -61h0m21 51h0m15 -26h0m-18 60h0m52 -32h0m16 4h0m23 -73h0m-10 -15h0m18 75h0m-44 -2h0m29 -11h0m-26 -64h0" stroke="#d8cbc8" stroke-width="3.4" stroke-linecap="round"/>
<path d="M670 95h0m65 1h0m-76 4h0m108 -1h0m-44 -8h0m-36 13h0m3 -6h0m25 -2h0m28 -4h0m13 9h0m-32 -12h0m-5 8h0m-35 0h0m31 -2h0m-9 3h0m26 1h0m23 6h0m-42 -18h0m7 12h0m0 2h0m-6 -8h0m-36 10h0m2 3h0m-18 -6h0m109 0h0m-95 6h0m18 -16h0m15 6h0m57 -5h0m7 13h0m-11 -12h0m-76 1h0m69 7h0m-38 -8h0m58 6h0m-67 2h0m-20 -7h0m83 11h0m-57 -7h0m53 -10h0m-89 12h0m65 -2h0m-45 0h0m2 4h0m-37 1h0m132 160h0m-111 21h0m160 51h0m-51 -77h0m-69 37h0m55 -15h0m-72 -4h0m-34 17h0m69 9h0m-86 -4h0m-2 37h0m89 27h0m-22 -89h0m-58 33h0m71 34h0m5 -75h0m-27 8h0m56 52h0m-137 11h0m60 -41h0m71 21h0m-48 5h0m-50 -48h0m76 8h0m-135 28h0m197 13h0m-98 -25h0m95 -8h0m-24 5h0m10 47h0m-58 -3h0m-40 -23h0m-80 36h0m133 -39h0m-30 -25h0m27 -26h0m30 51h0m-109 -7h0m4 -19h0m99 -15h0m-112 50h0m78 -25h0m-37 8h0m64 30h0m-32 -50h0m-177 55h0m77 -4h0m35 -32h0m37 -28h0m91 -15h0m-66 29h0m-139 -14h0m187 -5h0m-21 25h0m-97 26h0m-37 -5h0m162 -44h0m-138 37h0m159 9h0m-141 -17h0m-24 7h0m164 -45h0m-57 59h0m-33 -55h0m11 54h0m-133 5h0m169 -45h0m-75 41h0m84 -37h0m-82 21h0m-32 -36h0m135 28h0m-59 17h0m-7 -36h0m24 6h0m-34 53h0m42 -61h0m23 13h0m-47 43h0m-5 -36h0m29 -1h0m-16 -1h0m36 7h0m-110 -8h0m25 -14h0m-4 -22h0m-24 21h0m55 38h0m4 -9h0m-66 -38h0m-7 34h0m64 14h0m-42 -11h0m13 -18h0m59 79h0m-19 -49h0m43 -23h0m-75 22h0m53 41h0m-40 -54h0m87 -8h0m-52 61h0m-16 -90h0m-44 40h0m-21 -44h0m8 66h0m181 -31h0m-96 -12h0m-4 0h0m-48 -23h0m-101 13h0m103 -11h0m58 40h0m17 -41h0m-167 33h0m116 -13h0m-10 9h0m20 12h0m14 47h0m-107 -62h0m63 11h0m15 22h0m1 -49h0m-53 43h0m146 -60h0m-121 80h0m105 -16h0m-92 -33h0m-57 2h0m99 -11h0m-47 14h0m-59 3h0m151 6h0m-126 -9h0m109 15h0m-75 -32h0m2 -7h0m-45 36h0m50 -30h0m-24 25h0m-6 11h0m38 -54h0m-12 67h0m-13 -29h0m34 46h0m-55 -33h0m18 -1h0m144 -11h0m-61 46h0m-95 -51h0m149 -8h0m-187 -23h0m139 49h0m-147 -11h0m82 -17h0m-17 49h0m-22 37h0m32 -62h0m40 -30h0m41 -6h0m-50 26h0m-55 -1h0m113 -19h0m-45 37h0m66 -26h0m-30 2h0m11 36h0m-29 -42h0m-33 61h0m-25 -68h0m18 51h0m41 1h0m-15 -62h0m-63 28h0m-65 37h0m32 -69h0m-29 89h0m110 -84h0m8 110h0m-16 -89h0m-73 69h0m63 -41h0m13 -31h0m-38 8h0m-78 -14h0m121 43h0m-56 -15h0m58 -28h0m24 -6h0m-24 29h0m-97 40h0m179 -55h0m-40 -5h0m4 51h0m-42 -74h0m-14 1h0m-6 12h0m-18 44h0m-82 -28h0m11 4h0m78 -7h0m64 11h0m-150 41h0m109 -52h0m36 -22h0m-58 28h0m19 -7h0m56 82h0m-40 -85h0m15 0h0m3 37h0m17 9h0m-149 -2h0m99 -32h0m100 13h0m-45 -30h0m-16 -17h0m-46 28h0m25 69h0m-65 -77h0m62 51h0m19 39h0m30 -75h0m-64 -1h0m15 38h0m18 -35h0m23 -11h0m-149 40h0m129 -61h0m-66 26h0m-49 41h0m121 -33h0m-75 14h0m-59 7h0m94 -18h0m-69 -21h0m93 11h0m-30 35h0m12 -1h0m-86 -22h0m77 -16h0m2 -5h0m-75 42h0m6 -38h0m31 13h0m43 8h0m55 -1h0m-36 23h0m-82 -44h0m43 22h0m-33 -23h0m123 3h0m-119 74h0m-13 -68h0m106 31h0m-87 -15h0m46 -9h0m74 -15h0m-97 -9h0m11 24h0m0 -33h0m-7 29h0m54 -27h0m-60 41h0m90 21h0m-39 -33h0m-57 27h0m5 -65h0m23 26h0m-6 14h0m58 16h0m-65 0h0m10 -15h0m-85 -36h0m172 57h0m-84 49h0m-77 -72h0m60 -21h0m-13 45h0m-31 -32h0m161 7h0m-37 -25h0m-112 35h0m43 54h0m55 -45h0m-135 -54h0m70 55h0m67 12h0m-102 16h0m-47 -83h0m45 54h0m43 -34h0m70 35h0m-155 3h0m98 7h0m-99 3h0m64 4h0m-28 11h0m-37 -62h0m-29 60h0m64 -86h0m29 97h0m-16 -48h0m56 -25h0m-6 -3h0m-11 21h0m44 -28h0m-43 29h0m54 55h0m9 -64h0m-60 12h0m-112 16h0m120 -19h0m4 17h0m-122 -29h0m72 25h0m101 42h0m-71 -61h0m113 28h0m-106 3h0m83 19h0m-48 -86h0m-68 52h0m44 -50h0m-53 41h0m43 -28h0m79 10h0m-120 -11h0m-23 75h0m2 -3h0m73 -32h0m-26 22h0m24 -75h0m80 63h0m-111 -36h0m135 -14h0m-147 46h0m33 -12h0m109 -2h0m-192 10h0m155 -9h0m-63 1h0m-25 -34h0m13 59h0m23 -15h0m-48 -24h0m49 28h0m24 -19h0m44 22h0m-122 -18h0m30 7h0m-37 -3h0m42 7h0m-74 50h0m90 -43h0m15 -35h0m-41 -10h0m-19 5h0m72 -6h0m-52 97h0m8 -22h0m-69 -53h0m43 65h0m-6 -46h0m125 60h0m-121 -69h0m7 26h0m-18 31h0m69 -30h0m4 -16h0m-51 28h0m9 -23h0m-38 34h0m30 -7h0m20 -33h0m-9 9h0m-4 6h0m-9 -7h0m37 -22h0m24 12h0m-69 46h0m-31 -22h0m56 -29h0m-3 22h0m-41 -15h0m98 24h0m7 -25h0m-93 2h0m34 6h0m-46 0h0m53 -20h0m-5 43h0m-17 -31h0m25 18h0m-38 13h0m14 11h0m-1 -25h0m-20 23h0m8 -35h0m26 55h0m-59 -68h0m40 -19h0m-3 49h0m18 9h0m3 -10h0m7 35h0m15 -27h0m-57 -35h0m8 21h0m-8 -8h0m22 43h0m14 -29h0m-43 -27h0m39 12h0m-25 -11h0m46 62h0m-79 -77h0m36 41h0m-29 -4h0m49 10h0m25 -12h0m-21 7h0m30 -31h0m-56 34h0m26 -1h0m-23 1h0m23 -16h0m-27 7h0m12 15h0m26 -43h0m23 35h0m58 7h0m-106 -20h0m-11 8h0m-11 8h0m-8 0h0m-29 9h0m53 -15h0m54 20h0m-62 -42h0m-7 26h0m98 -24h0m-4 19h0m-94 -7h0m42 -8h0m-38 9h0m46 -5h0m-40 1h0m39 29h0m1 -28h0m-29 24h0m2 -32h0m61 11h0m-65 -12h0m16 17h0m-42 -3h0m76 14h0m-43 -13h0m-54 41h0m69 -29h0m4 -25h0m-27 14h0m70 13h0m-64 -19h0m21 34h0m3 -20h0m21 -35h0m15 28h0m-64 5h0m-10 -5h0m-12 4h0m58 -27h0m-13 55h0m35 -74h0m-21 49h0m-6 -7h0m6 -13h0m-5 10h0m-59 -32h0m27 40h0m26 29h0m-23 -49h0m12 -6h0m1 18h0m3 2h0m3 25h0m52 10h0m-69 -20h0m9 -14h0m-15 -24h0m11 -5h0m-23 20h0m41 7h0m-2 6h0m44 14h0m-107 -64h0m109 48h0m-123 12h0m104 -51h0m-31 43h0m13 -12h0m-26 1h0m38 -30h0m-4 24h0m-44 43h0m-14 -40h0m-61 -3h0m109 8h0m-1 22h0m-36 18h0m25 -81h0m-26 51h0m38 2h0m-32 -20h0m25 -29h0m-71 47h0m13 -45h0m48 27h0m33 23h0m-5 -14h0m10 -13h0m-44 -9h0m-19 8h0m80 -6h0m-91 -9h0m19 15h0m-5 -17h0m4 60h0m34 -54h0m22 14h0m-48 -18h0m50 42h0m-85 -3h0m39 -35h0m35 16h0m2 14h0m-52 0h0m5 -8h0m4 17h0m-12 -9h0m20 -20h0m-84 19h0m88 -7h0m-28 7h0m-4 -35h0m-11 16h0m19 29h0m-7 -66h0m5 40h0m78 -25h0m-88 65h0m96 -1h0m-84 -69h0m13 57h0m-8 -17h0m96 -9h0m-91 41h0m15 -48h0m-56 -8h0m45 1h0m44 3h0m-48 32h0m-4 10h0m3 1h0m-3 -30h0m41 24h0m-5 -7h0m-54 3h0m15 -23h0m37 13h0m-88 -12h0m47 24h0m-40 -8h0m79 17h0m1 -13h0m-6 11h0m-13 -28h0m20 -18h0m-64 -1h0m50 -2h0m-11 11h0m34 -11h0m-40 -3h0m-6 58h0m60 -48h0m-18 24h0m-55 -8h0m7 11h0m46 -1h0m56 27h0m-13 -107h0m2 7h0m-22 27h0m20 -22h0m-33 31h0m28 -35h0m14 26h0m-24 -23h0m30 49h0m-7 -40h0m-10 9h0m-7 -18h0m-28 15h0m38 14h0m-20 13h0m24 -35h0m-36 -1h0m20 16h0m-2 -4h0m27 -17h0m-11 24h0m-27 0h0m30 -35h0m9 32h0m-27 -5h0m35 43h0m-35 -65h0m-2 11h0m-7 -9h0m29 35h0m-13 -33h0m28 12h0m-24 1h0m-21 0h0m9 0h0m-35 1h0m48 12h0m-8 -20h0m9 -9h0m4 38h0m-7 5h0m-7 -44h0m34 65h0m-6 -39h0m-43 1h0m52 9h0m-10 -7h0m-14 -3h0m-17 -3h0m64 24h0m-43 -6h0m4 -23h0m16 -2h0m-30 38h0m43 -7h0m-49 -41h0m15 17h0m-19 21h0m12 -41h0m5 0h0m7 25h0m-6 -11h0m-9 -5h0m-11 -4h0m33 8h0m22 26h0m-36 -20h0m9 -26h0m-11 5h0m-19 4h0m13 29h0m9 -31h0m-54 6h0m81 15h0m-31 4h0m-36 7h0m34 -18h0m-9 11h0m5 22h0m-11 -9h0m9 -26h0m-17 18h0m7 -19h0m21 10h0m17 23h0m-35 -14h0m26 -8h0m-19 5h0m-14 -25h0m29 3h0m-23 -9h0m16 -2h0m26 36h0m-30 -19h0m10 -11h0m4 11h0m2 19h0m-12 8h0m-34 -11h0m19 -3h0m-11 -33h0m40 27h0m-26 -23h0m-20 28h0m33 -14h0m-40 10h0m33 -2h0m-12 3h0m20 -22h0m-7 1h0m27 -6h0m-47 2h0m32 13h0m-66 -16h0m61 36h0m-7 -31h0m6 54h0m4 -27h0m-41 -7h0m57 13h0m-27 52h0m-8 -58h0m6 -32h0m12 4h0m-8 12h0m-24 23h0m47 -13h0m-17 1h0m23 -5h0m13 25h0m-2 -43h0m-76 48h0m48 -47h0m36 -3h0m-73 47h0m34 -37h0m3 -10h0m-19 38h0m57 -23h0m-29 8h0m-5 -24h0m-20 36h0m-4 29h0m-20 -61h0m38 23h0m12 3h0m-18 -13h0m-66 48h0m41 -47h0m9 12h0m1 -2h0m32 -10h0m-8 38h0m-14 -40h0m26 -5h0m-7 18h0m-50 -18h0m66 0h0m-40 20h0m14 -31h0m-16 50h0m22 -36h0m22 -7h0m-40 22h0m13 -22h0m51 13h0m-1 70h0m18 -15h0m-34 -21h0m7 -22h0m9 -18h0m19 44h0m2 -36h0m-21 9h0m2 56h0m-7 -10h0m-27 -69h0m44 10h0" stroke="#dec4be" stroke-width="3.4" stroke-linecap="round"/>
<path d="M755 96h0m-2 -4h0m-21 2h0m-3 2h0m-60 1h0" stroke="#deada0" stroke-width="3.4" stroke-linecap="round"/>
<path d="M718 87h0m-42 21h0m-7 -8h0m18 -1h0m46 0h0m-10 0h0m-27 -8h0m-29 2h0m74 2h0m38 9h0m-42 -8h0m21 44h0m41 27h0m-3 23h0m6 -17h0m3 -3h0m-3 -4h0m2 20h0m6 -3h0m-22 -28h0m-2 15h0m22 7h0m-26 -15h0m9 -1h0m13 14h0m-25 -30h0m20 17h0m-25 -10h0m30 3h0m-5 -5h0m23 12h0m-13 12h0m-28 -31h0m39 19h0m-17 16h0m4 -9h0m-13 -9h0m-19 0h0m28 11h0m-4 -20h0m-40 -11h0m72 30h0m-40 15h0m-10 -28h0m16 6h0m17 9h0m-55 -19h0m46 24h0m-21 7h0m-8 -25h0m8 -10h0m37 36h0m-46 -24h0m53 25h0m-36 -27h0m-43 -22h0m38 29h0m17 -6h0m-22 12h0m35 -23h0m-34 12h0m15 8h0m-18 1h0m3 -30h0m21 26h0m-2 17h0m1 -19h0m-17 -2h0m-6 -4h0m11 1h0m12 17h0m20 -2h0m-34 -15h0m39 8h0m-33 -15h0m9 2h0m-12 -2h0m7 35h0m31 -6h0m-22 1h0m-23 -19h0m11 -10h0m-23 -3h0m81 32h0m-46 7h0m-14 -19h0m29 12h0m-1 -4h0m-16 -16h0m6 4h0m-34 -5h0m46 -1h0m-12 17h0m17 9h0m-220 -37h0m57 29h0m80 -34h0m-7 29h0m7 -24h0m17 17h0m-30 -35h0m-102 55h0m-29 -28h0m146 -3h0m1 -22h0m-11 46h0m-78 23h0m-87 -5h0m48 -58h0m66 49h0m-15 -39h0m35 26h0m-117 17h0m106 30h0m-66 6h0m121 7h0m-92 -5h0m-1 -3h0m7 -29h0m-18 28h0m124 26h0m-127 -19h0m84 -2h0m-127 -5h0m195 11h0m-149 -19h0m-54 1h0m-13 -9h0m52 -4h0m137 31h0m7 8h0m-81 -1h0m-17 -10h0m93 17h0m13 -1h0m-121 -17h0m-32 -38h0m89 49h0m-115 -23h0m143 20h0m-28 -31h0m39 43h0m-11 -2h0m-124 -27h0m108 -1h0m-128 -11h0m95 16h0m3 1h0m30 11h0m24 2h0m-70 -12h0m-107 -15h0m0 -8h0m-39 -8h0m63 32h0m6 -19h0m-18 9h0m-16 36h0m-36 -22h0m1 18h0m34 -28h0m-33 9h0m19 -35h0m21 30h0m-15 -14h0m-27 -28h0m26 53h0m6 -27h0m-24 13h0m24 -10h0m16 19h0m-10 -9h0m-15 17h0m43 -6h0m-62 -1h0m12 12h0m24 -13h0m-43 -18h0m8 -15h0m22 40h0m11 -6h0m-1 -13h0m-3 -42h0m-3 67h0m-21 -13h0m12 -26h0m12 23h0m31 -49h0m-19 59h0m-33 -7h0m35 -21h0m162 66h0m-23 -30h0m-6 0h0m-9 -10h0m-42 14h0m93 -41h0m-24 23h0m-16 17h0m-87 -33h0m53 18h0m-76 10h0m117 31h0m3 -29h0m-41 -22h0m92 146h0m-40 -129h0m-2 -4h0m-121 14h0m60 18h0m89 -6h0m-55 -12h0m-13 59h0m49 -73h0m-50 21h0m-74 -10h0m179 -24h0m-38 29h0m-27 16h0m-60 -57h0m-18 17h0m38 5h0m49 -19h0m38 51h0m-85 -41h0m45 41h0m-46 32h0m76 -58h0m0 10h0m-124 -36h0m16 25h0m74 7h0m15 15h0m20 -56h0m-71 34h0m-27 -17h0m0 23h0m-67 -27h0m73 48h0m24 36h0m104 -84h0m-32 55h0m-88 -41h0m30 20h0m70 -13h0m-108 9h0m113 -3h0m-46 -11h0m-121 7h0m55 -11h0m28 11h0m-14 88h0m-58 -21h0m33 25h0m23 0h0m-25 36h0m78 -65h0m-61 68h0m114 -107h0m-12 0h0m-26 -34h0m11 42h0m-22 -31h0m60 -26h0m-10 50h0m5 -2h0m-39 -53h0m-2 63h0m-8 -70h0m25 61h0m-40 -30h0m53 17h0m4 1h0m-37 -11h0m-7 2h0m6 29h0m29 -56h0m20 11h0m-32 17h0m48 -13h0m-68 -25h0m50 5h0m-61 34h0m12 2h0m18 5h0m-32 -26h0m52 5h0m33 15h0m-71 3h0m14 -8h0m10 -13h0m-1 23h0m-14 -13h0m4 3h0m2 -15h0m-17 22h0m-2 9h0m14 19h0m2 -30h0m6 6h0m-29 44h0m36 -62h0m9 30h0m-14 -21h0m-22 -8h0m-5 28h0m-8 -12h0m25 -25h0m25 43h0m-9 -25h0m-35 4h0m26 -56h0m42 60h0m6 -8h0m45 -59h0m-59 12h0m26 15h0" stroke="#da6c50" stroke-width="3.4" stroke-linecap="round"/>
<path d="M751 92h0m-32 -2h0m-21 8h0m42 2h0m23 -1h0m-16 -4h0m3 1h0m-21 -1h0m37 1h0m8 2h0m8 6h0m-52 0h0m-4 -10h0m89 69h0m-6 8h0m2 3h0m-23 -35h0m3 26h0m41 21h0m-60 -33h0m14 -2h0m7 5h0m18 9h0m-29 -3h0m-3 -16h0m52 47h0m-54 -24h0m31 -13h0m-29 10h0m9 -18h0m68 40h0m-54 -44h0m6 26h0m-11 11h0m-39 -47h0m59 41h0m-4 -9h0m-9 -14h0m-4 29h0m-4 -7h0m-8 -22h0m39 16h0m-82 -27h0m34 8h0m16 3h0m3 26h0m-29 -31h0m0 -10h0m-4 7h0m16 17h0m-7 -1h0m30 18h0m-13 -25h0m-12 19h0m7 -14h0m20 19h0m-42 -31h0m1 0h0m53 15h0m-12 -6h0m15 5h0m-14 15h0m-27 -4h0m62 12h0m-72 -42h0m49 35h0m3 8h0m-38 -24h0m22 -8h0m-15 15h0m-2 -9h0m35 22h0m-7 -12h0m-39 -16h0m30 10h0m-5 14h0m-19 -17h0m6 8h0m3 -15h0m-39 -3h0m15 -13h0m32 29h0m20 -1h0m-3 7h0m-1 -6h0m-3 25h0m-9 -24h0m-5 1h0m-24 1h0m8 -4h0m-30 -6h0m20 0h0m15 -8h0m30 6h0m-45 -12h0m42 44h0m-9 -22h0m-40 -41h0m22 31h0m-12 -14h0m24 24h0m-2 1h0m19 5h0m-14 12h0m-15 -24h0m-7 3h0m-28 -19h0m49 29h0m9 -10h0m-24 -16h0m1 -3h0m43 20h0m-39 -11h0m-38 -16h0m86 61h0m-23 -33h0m-82 -22h0m62 35h0m9 -6h0m0 -5h0m-25 -11h0m24 9h0m4 16h0m8 -9h0m-7 11h0m-14 -40h0m-37 11h0m-74 55h0m-93 -23h0m90 -21h0m-9 1h0m-4 -4h0m-21 -30h0m16 51h0m-91 7h0m91 -59h0m-4 101h0m-65 -19h0m90 17h0m91 4h0m-142 -36h0m161 44h0m-165 -28h0m76 12h0m22 17h0m-131 -18h0m-28 -20h0m141 40h0m-123 -26h0m-14 -10h0m71 17h0m81 17h0m-150 -33h0m112 14h0m66 10h0m-63 -5h0m-36 2h0m65 -3h0m15 22h0m-133 -55h0m162 55h0m-107 -22h0m50 15h0m1 -23h0m-137 -36h0m85 20h0m92 35h0m-71 -2h0m-98 -16h0m178 10h0m-42 7h0m59 12h0m1 8h0m-41 -16h0m-52 -5h0m12 -29h0m-91 12h0m90 -14h0m11 21h0m13 -26h0m-145 5h0m140 16h0m-84 1h0m-14 0h0m-32 -15h0m42 21h0m33 2h0m102 23h0m-177 -39h0m128 18h0m-79 -18h0m115 3h0m-128 2h0m164 21h0m-4 -3h0m-202 -31h0m3 53h0m8 -22h0m-45 -22h0m18 -24h0m28 20h0m24 11h0m-55 -11h0m-11 25h0m31 -47h0m-4 30h0m-16 -13h0m40 73h0m-13 -33h0m-22 -67h0m-1 52h0m2 -25h0m3 35h0m41 20h0m-36 -29h0m-23 -12h0m70 -10h0m-48 17h0m2 0h0m-29 -17h0m20 15h0m-18 20h0m-2 -19h0m-11 13h0m64 0h0m-44 0h0m45 -11h0m-2 4h0m-32 5h0m-19 5h0m12 -6h0m44 -10h0m-45 -22h0m-30 22h0m31 -9h0m160 63h0m-4 -25h0m-35 -10h0m39 -39h0m61 49h0m-58 -31h0m116 28h0m-162 -15h0m2 -16h0m15 27h0m23 -33h0m66 152h0m-121 -72h0m90 -62h0m-93 8h0m-39 13h0m140 4h0m-144 -2h0m98 18h0m-45 -34h0m-43 12h0m122 2h0m-53 16h0m26 -3h0m-34 53h0m-32 -101h0m33 53h0m13 -35h0m-11 -7h0m5 -80h0m-42 35h0m-3 89h0m-13 11h0m227 -91h0m-44 10h0m-118 -25h0m-47 137h0m77 -54h0m31 -20h0m-46 -40h0m-13 -14h0m-5 68h0m132 27h0m-124 -77h0m58 23h0m-27 26h0m24 70h0m-26 -113h0m-18 41h0m-6 -9h0m1 28h0m97 4h0m-153 48h0m88 -44h0m-18 -38h0m-43 0h0m65 75h0m-87 -75h0m51 30h0m1 33h0m-51 41h0m64 -169h0m-75 26h0m154 42h0m-183 4h0m146 -18h0m-16 -43h0m-88 66h0m47 37h0m124 -33h0m-94 -12h0m-7 25h0m-28 -23h0m-55 -15h0m120 5h0m-124 18h0m91 -2h0m51 0h0m-82 -10h0m51 -22h0m-10 32h0m-89 48h0m52 -54h0m73 20h0m-55 12h0m5 10h0m-32 2h0m18 39h0m21 -33h0m10 -22h0m-27 57h0m-18 12h0m44 -4h0m43 -73h0m-25 -48h0m-14 18h0m40 -11h0m18 34h0m-5 -16h0m23 -1h0m-15 -33h0m-40 49h0m31 3h0m-20 -14h0m18 -17h0m-22 29h0m41 -71h0m-36 32h0m40 0h0m-66 5h0m87 43h0m-63 -19h0m16 -9h0m33 -14h0m-82 50h0m-6 -31h0m45 -55h0m-4 88h0m5 -65h0m9 48h0m-32 -14h0m25 -12h0m-29 30h0m17 -5h0m1 -22h0m-33 0h0m57 13h0m25 7h0m-36 -9h0m-11 -7h0m-1 11h0m-1 40h0m-11 -52h0m36 -6h0m-43 18h0m15 19h0m-18 -29h0m35 2h0m-23 6h0m32 -15h0m5 15h0m-37 7h0m5 14h0m8 -50h0m5 22h0m-21 8h0m28 15h0m-3 -20h0m-8 1h0m0 -10h0m11 -2h0m-10 1h0m9 6h0m-13 11h0m0 22h0m-5 -31h0m-2 9h0m14 18h0m-20 -29h0m24 22h0m-21 -34h0m-6 25h0m-33 12h0m40 -22h0m98 -30h0m-58 38h0m42 -49h0" stroke="#d2573e" stroke-width="3.4" stroke-linecap="round"/>
<path d="M722 94h0m-3 3h0m33 1h0m-69 4h0m88 1h0m-77 3h0m-2 -14h0m107 68h0m-20 7h0m5 -13h0m22 12h0m-50 -24h0m34 30h0m28 18h0m-21 -24h0m-21 -2h0m59 4h0m-56 -10h0m26 -7h0m6 19h0m11 8h0m-5 -13h0m-38 -12h0m11 1h0m30 22h0m-15 -1h0m-9 -19h0m1 6h0m-31 -8h0m46 30h0m-17 -21h0m-12 4h0m25 6h0m27 2h0m-57 -21h0m22 -3h0m-12 11h0m-1 -4h0m37 7h0m-42 -23h0m34 25h0m-58 -14h0m67 15h0m-69 -16h0m15 9h0m74 20h0m-60 -9h0m24 -30h0m-16 26h0m-4 -10h0m47 21h0m-9 8h0m-45 -39h0m1 18h0m-9 -24h0m8 23h0m-13 25h0m-46 -22h0m-79 -20h0m125 42h0m-6 -39h0m-71 91h0m-99 -33h0m-4 -10h0m4 3h0m151 41h0m19 12h0m-99 -25h0m45 11h0m-32 -17h0m-35 -6h0m-27 -22h0m131 47h0m-10 7h0m-24 -18h0m-22 -9h0m-4 14h0m-46 -8h0m86 0h0m-80 -2h0m101 -21h0m-165 1h0m55 19h0m-28 -11h0m138 37h0m-161 -41h0m136 11h0m-62 14h0m-36 -19h0m-15 -7h0m143 43h0m-33 -17h0m-123 -21h0m37 13h0m32 -31h0m-23 18h0m16 7h0m-9 9h0m-46 -24h0m90 30h0m48 -4h0m55 5h0m-147 -10h0m-32 -13h0m138 37h0m-21 -5h0m-49 -33h0m-19 23h0m-119 -19h0m6 11h0m-24 -11h0m25 23h0m33 -3h0m-25 -20h0m12 32h0m-6 -22h0m-27 23h0m26 -20h0m-26 10h0m25 -37h0m22 29h0m-1 -14h0m-31 39h0m25 -16h0m-53 -21h0m27 26h0m-1 -11h0m-15 -19h0m47 8h0m-42 5h0m21 1h0m-16 -21h0m2 21h0m248 20h0m-135 4h0m29 21h0m44 -14h0m-21 -45h0m-34 83h0m50 -29h0m-74 7h0m-35 -51h0m135 32h0m-81 -4h0m37 -30h0m-89 48h0m17 -22h0m134 -7h0m-1 79h0m-143 -73h0m60 -21h0m90 23h0m-91 24h0m66 -5h0m-47 -1h0m-9 -24h0m97 -1h0m-21 10h0m-71 -3h0m-57 -36h0m57 38h0m54 -35h0m-18 90h0m43 -85h0m-37 45h0m69 -72h0m-42 83h0m35 -56h0m-19 37h0m-43 -13h0m27 2h0m-29 -1h0m49 4h0m-14 -3h0m-8 -4h0m20 6h0m-12 -26h0m34 22h0m-47 -24h0m16 18h0m-16 14h0m0 -10h0m-13 -20h0m32 38h0m-12 -11h0m-14 37h0m48 16h0m-50 -98h0m-16 25h0m21 -8h0m83 -37h0m-35 50h0m47 -42h0m17 28h0" stroke="#cb422c" stroke-width="3.4" stroke-linecap="round"/>
<path d="M536 207C537 204 537.5 194 542 189C546.5 184 555 180.8 563 177C571 173.2 581.7 170.2 590 166C598.3 161.8 605.2 157.5 613 152C620.8 146.5 629.2 139.2 637 133C644.8 126.8 650.7 120 660 115C669.3 110 683 104 693 103C703 102 711 104.7 720 109C729 113.3 738.5 122.7 747 129C755.5 135.3 763.2 141.8 771 147C778.8 152.2 787.5 156.5 794 160C800.5 163.5 805.5 165.5 810 168C814.5 170.5 818.2 172.8 821 175C823.8 177.2 825.5 179 827 181C828.5 183 829.5 186 830 187" fill="none" stroke="#5a5a5a" stroke-opacity="0.88" stroke-width="3.5" stroke-linecap="round"/>
<path d="M536 207C536.5 208.5 536 213.8 539 216C542 218.2 547.5 218.8 554 220C560.5 221.2 570.2 222.2 578 223C585.8 223.8 592.2 223.3 601 225C609.8 226.7 621.2 230.7 631 233C640.8 235.3 650.2 237 660 239C669.8 241 679.7 242.8 690 245C700.3 247.2 712.2 249.8 722 252C731.8 254.2 741.5 256.7 749 258C756.5 259.3 759.7 259.5 767 260C774.3 260.5 785.7 259.5 793 261C800.3 262.5 808 267.7 811 269" fill="none" stroke="#5a5a5a" stroke-opacity="0.88" stroke-width="3.5" stroke-linecap="round"/>
<path d="M555 215C558.8 216.7 571.3 221.5 578 225C584.7 228.5 590.2 231.2 595 236C599.8 240.8 603 247 607 254C611 261 614 270 619 278C624 286 630.2 296.2 637 302C643.8 307.8 650.2 310.2 660 313C669.8 315.8 687 319 696 319C705 319 709.3 315.2 714 313C718.7 310.8 719 310 724 306C729 302 737.5 293 744 289C750.5 285 754.8 284 763 282C771.2 280 785 278 793 277C801 276 808 276.2 811 276" fill="none" stroke="#5a5a5a" stroke-opacity="0.88" stroke-width="3.5" stroke-linecap="round"/>
<path d="M82 465V778H464" fill="none" stroke="#111" stroke-width="1.6"/>
<path d="M82 472h-3M82 554h-3M82 637h-3M82 719h-3M186 778v3M310 778v3M443 778v3" stroke="#111" stroke-width="1.2"/>
<path d="M286 482h0m-11 -4h0m-30 8h0m47 3h0m-38 -8h0m-12 8h0m114 -2h0m-92 -8h0m-29 15h0m103 -11h0m17 2h0m-6 4h0m-33 -1h0m-14 -8h0m14 8h0m24 -4h0m-31 -7h0m5 1h0m71 70h0m-16 -13h0m-17 -8h0m36 27h0m0 -1h0m-11 -12h0m-11 7h0m22 -7h0m1 25h0m-7 -8h0m8 3h0m-47 -24h0m-18 -17h0m19 11h0m-82 14h0m3 -12h0m37 35h0m-131 -26h0m153 8h0m-25 -28h0m-77 73h0m-74 -39h0m169 -12h0m-61 -8h0m-21 38h0m8 -25h0m43 30h0m-42 5h0m-21 -26h0m-9 25h0m141 34h0m-194 -8h0m183 18h0m-132 -28h0m-36 12h0m87 -4h0m84 19h0m-157 -20h0m59 12h0m35 -5h0m4 2h0m-110 -6h0m188 0h0m-143 1h0m139 20h0m-93 -19h0m99 12h0m-158 -25h0m-42 -17h0m163 34h0m-146 -18h0m149 12h0m-42 -18h0m-71 9h0m72 -15h0m-27 23h0m-83 -7h0m122 4h0m-110 5h0m119 3h0m-120 -4h0m-20 -35h0m7 34h0m30 1h0m114 17h0m-122 -11h0m50 -11h0m10 -4h0m-85 6h0m168 5h0m-17 4h0m-31 4h0m50 -19h0m-91 6h0m-56 7h0m-53 -16h0m61 5h0m-56 -23h0m85 37h0m128 -1h0m-114 -18h0m106 14h0m-81 8h0m79 5h0m-164 -23h0m152 3h0m-155 -11h0m10 0h0m8 -5h0m65 18h0m-21 1h0m-27 -9h0m140 -8h0m-74 17h0m1 5h0m-95 -4h0m32 -1h0m-40 -8h0m164 30h0m-28 -11h0m33 12h0m-208 -27h0m170 15h0m-153 -7h0m126 -6h0m-15 -7h0m-59 -14h0m-12 16h0m-19 6h0m42 -12h0m100 21h0m-34 -2h0m10 -10h0m-42 11h0m-55 -3h0m106 -22h0m2 4h0m28 32h0m-41 -14h0m-143 -17h0m-7 15h0m37 15h0m-80 -6h0m46 -23h0m-38 34h0m7 -3h0m15 -27h0m7 29h0m-43 -22h0m45 10h0m6 7h0m-38 -1h0m0 3h0m56 5h0m-32 -15h0m37 -7h0m-50 -5h0m-3 46h0m32 -47h0m-4 0h0m7 13h0m-38 -28h0m1 28h0m15 2h0m-17 6h0m3 18h0m194 -27h0m-18 48h0m-18 -12h0m9 26h0m-74 -97h0m92 75h0m-36 20h0m-57 -50h0m-12 31h0m100 70h0m-99 -104h0m65 90h0m-33 -63h0m-18 -28h0m121 -7h0m-27 37h0m11 11h0m45 -10h0m-92 7h0m-145 46h0m139 -35h0m-61 36h0m52 -76h0m-24 -5h0m2 -4h0m-109 96h0m139 13h0m-24 -141h0m-29 84h0m-30 3h0m-15 -62h0m111 8h0m101 39h0m-218 26h0m129 -29h0m-95 11h0m24 -31h0m125 32h0m-78 39h0m64 -106h0m-107 38h0m125 6h0m14 24h0m-26 33h0m4 -3h0m-62 -6h0m123 57h0m-79 -126h0m-55 53h0m67 -41h0m-57 64h0m19 -99h0m-84 94h0m49 -24h0m47 76h0m-73 -32h0m77 -112h0m-103 80h0m56 69h0m-105 -100h0m133 -16h0m-61 9h0m-21 26h0m212 10h0m-82 -54h0m-107 37h0m42 -24h0m46 -44h0m-44 22h0m-23 15h0m-26 92h0m-57 24h0m79 -87h0m98 1h0m-81 -51h0m91 33h0m-40 -44h0m-90 38h0m77 -41h0m18 44h0m18 30h0m-79 14h0m43 -57h0m101 -15h0m-123 76h0m24 -52h0m8 52h0m-77 31h0m27 -136h0m-49 121h0m169 42h0m-68 -59h0m-37 -39h0m-29 6h0m36 88h0m-73 0h0m20 -48h0m-69 -3h0m168 43h0m-46 -67h0m-20 -31h0m37 -20h0m-14 74h0m91 -7h0m-57 -99h0m-57 4h0m37 0h0m21 115h0m-150 -20h0m84 14h0m35 -71h0m30 -15h0m-28 116h0m-128 -45h0m99 -11h0m45 23h0m-81 39h0m40 20h0m14 -127h0m-86 12h0m111 26h0m-14 12h0m-4 16h0m-39 39h0m-14 -63h0m99 5h0m97 31h0m-143 -64h0m-64 -51h0m-64 52h0m196 66h0m-211 -32h0m95 -26h0m-11 -43h0m28 -6h0m4 82h0m31 38h0m-86 -21h0m-23 -96h0m24 52h0m142 -15h0m-32 -9h0m-5 9h0m-2 86h0m-44 -78h0m33 1h0m-72 34h0m-50 -125h0m98 107h0m74 -31h0m-111 19h0m35 77h0m77 -59h0m-44 -28h0m0 17h0m-83 32h0m78 -77h0m-11 82h0m22 -18h0m17 -12h0m-113 -2h0m104 -17h0m-163 38h0m149 29h0m-16 -11h0m-79 -43h0m113 2h0m23 -33h0m-156 93h0m46 -76h0m-11 53h0m-46 -75h0m27 41h0m126 -9h0m-56 16h0m-31 34h0m87 -47h0m-37 -7h0m-71 2h0m22 -90h0m25 84h0m-10 -22h0m-52 0h0m43 54h0m-12 -44h0m55 -26h0m-26 37h0m-5 -60h0m-1 75h0m-73 2h0m32 -5h0m-25 6h0m114 8h0m-54 5h0m-28 -98h0m2 54h0m21 18h0m62 54h0m-95 -55h0m162 -40h0m-97 81h0m-4 25h0m19 -9h0m41 13h0m-118 -66h0m42 -35h0m97 5h0m-86 23h0m-38 -32h0m-40 22h0m162 30h0m-86 9h0m52 -70h0m-18 114h0m-109 -28h0m132 -76h0m-124 72h0m118 -49h0m-124 21h0m-98 43h0m133 -51h0m60 86h0m-66 -105h0m35 63h0m14 -15h0m-5 63h0m7 -59h0m-51 23h0m49 -58h0m89 85h0m-89 -17h0m16 -58h0m0 61h0m-17 4h0m-40 -27h0m70 18h0m-67 -9h0m13 -1h0m12 37h0m-3 -6h0m16 -6h0m-16 -1h0m-2 -14h0m24 4h0m60 -37h0m-58 16h0m11 6h0m-27 -1h0m-21 -7h0m24 -8h0m-21 -23h0m62 37h0m7 -17h0m4 -1h0m-28 25h0m-14 -44h0m-69 47h0m95 -7h0m-27 -4h0m-14 -5h0m13 47h0m-49 -22h0m104 5h0m-88 12h0m30 -32h0m-4 24h0m39 -7h0m-63 -44h0m-18 35h0m87 -51h0m-31 43h0m-53 6h0m41 -12h0m-73 23h0m65 19h0m-6 -55h0m11 40h0m35 1h0m-29 -18h0m19 -12h0m44 12h0m-35 5h0m14 -19h0m-37 44h0m31 0h0m-48 -43h0m-23 17h0m62 11h0m-59 -50h0m-50 71h0m119 -33h0m-58 -2h0m30 5h0m-11 -6h0m41 12h0m-18 -40h0m-59 35h0m88 29h0m-83 -49h0m40 54h0m-31 -57h0m61 -1h0m-46 65h0m46 -39h0m-27 2h0m2 -3h0m-15 2h0m2 -24h0m-24 2h0m-4 37h0m24 -29h0m-16 -24h0m47 38h0m-12 6h0m-36 -25h0m-27 38h0m64 -11h0m-20 -8h0m10 17h0m-39 14h0m21 -43h0m-86 1h0m130 14h0m-56 -11h0m29 -5h0m-26 -8h0m45 32h0m-26 -34h0m-2 36h0m39 -40h0m-2 0h0m54 -113h0m14 46h0m-12 -45h0m-21 85h0m-6 -62h0m15 37h0m-5 -21h0m29 5h0m-30 -32h0m14 27h0m2 -7h0m-39 21h0m4 -7h0m7 -14h0m14 -11h0m14 16h0m-38 19h0m18 -42h0m22 8h0m-56 -4h0m25 20h0m-16 0h0m40 -21h0m-24 -30h0m18 25h0m37 6h0m-11 34h0m-24 -7h0m12 -17h0m-32 11h0m16 32h0m-13 -27h0m-9 13h0m20 -40h0m41 45h0m-41 -21h0m19 -20h0m-18 28h0m19 -17h0m11 28h0m-30 -64h0m18 31h0m-12 16h0m-33 -1h0m-3 21h0m22 -25h0m6 16h0m3 -35h0m-10 30h0m11 -15h0m2 7h0m0 3h0m-22 -12h0m7 12h0m-22 5h0m43 -5h0m9 -21h0m-20 63h0m-14 -5h0m-6 -54h0m50 9h0m-9 19h0m25 -23h0m-33 9h0m-11 5h0m-8 -19h0m6 26h0m2 -31h0m37 19h0m-31 -15h0m-8 2h0m0 -7h0m0 1h0m-16 25h0m21 -15h0m10 7h0m12 -17h0m-31 20h0m-22 34h0m12 -53h0m20 33h0m3 -32h0m0 18h0m-65 -43h0m77 63h0m-4 -2h0m6 -30h0m7 48h0m-25 -34h0m17 8h0m-27 -6h0m40 -3h0m-71 10h0m37 12h0m-22 -35h0m50 29h0m-32 -28h0m54 19h0m-52 -1h0m-3 -6h0m-40 -19h0m37 31h0m10 -22h0m-10 6h0m-2 9h0m32 18h0m-21 -52h0m-4 36h0m-23 -25h0m-3 -8h0m17 17h0m51 24h0m-46 -38h0m21 33h0m-18 -11h0m31 -10h0m-31 -12h0m18 56h0m-20 -46h0m36 -25h0m-26 25h0m-6 4h0m-3 -12h0m11 -41h0m-6 68h0m-30 -22h0m41 9h0m-46 52h0m16 -26h0m0 -24h0m4 -17h0m46 9h0m-62 52h0m47 -40h0m-18 6h0m24 -35h0m-36 31h0m-2 6h0m18 -32h0m-15 -9h0m19 23h0m-13 -7h0m-14 9h0m23 -30h0m25 7h0m-9 13h0m13 20h0m-6 -22h0m-17 -14h0m-15 73h0m14 -24h0m0 -22h0m5 48h0m-33 -37h0m15 22h0m46 -41h0m-52 -20h0m4 33h0m20 -12h0m25 13h0m10 -3h0m-50 2h0m15 -14h0m-46 18h0m54 -3h0m-18 16h0m18 17h0m29 -6h0m-43 -38h0m3 35h0m14 10h0m-27 -9h0m35 23h0m-37 9h0m-16 -54h0m37 43h0m-31 19h0m7 -60h0m17 51h0m18 -29h0m-7 14h0m-6 -7h0m0 -18h0m1 14h0m-14 20h0m30 49h0m-63 -63h0m38 14h0m-12 -30h0m22 -14h0m7 -25h0m-58 134h0m62 -60h0m-32 19h0m17 -31h0m-49 4h0m37 -9h0m18 8h0m2 18h0m-13 -8h0m-6 -7h0m-29 7h0m28 25h0m29 -28h0m-33 -18h0m8 33h0m19 -15h0m-17 -45h0m16 78h0m-32 -39h0m6 -32h0m-18 62h0m31 -47h0m-25 43h0m48 -15h0m-40 4h0m-17 -8h0m2 10h0m-13 -22h0m32 13h0m27 6h0m-1 -7h0m-36 -54h0m5 62h0m21 -5h0m1 -45h0m11 28h0m-24 15h0m71 -37h0m-69 -12h0m5 25h0m10 -38h0m-2 39h0m-14 40h0m-31 -41h0m72 21h0m-28 9h0m-5 -10h0m-3 -8h0m-23 -14h0m8 2h0m-5 21h0m14 17h0m-40 -25h0m14 56h0m45 -84h0m-25 65h0m62 -31h0m-63 1h0m-2 12h0m-12 -27h0m26 10h0m26 -21h0m-40 41h0m18 -9h0m-20 -16h0m-4 64h0m28 -36h0m7 -28h0m-9 39h0m-14 -39h0m38 31h0m-15 -14h0m-19 -41h0m7 29h0m18 -1h0m13 7h0m-58 -10h0m55 1h0m-20 -20h0m-13 19h0m-13 11h0m30 0h0m-1 19h0m-4 -22h0m-15 -5h0m19 6h0m-3 -49h0m5 27h0m-11 -10h0m0 30h0m-7 -2h0m11 5h0m1 8h0m-19 19h0m-2 -46h0m-17 8h0m35 -2h0m-7 7h0m-19 15h0m21 -56h0m-69 32h0m73 -21h0m-6 75h0m-14 -89h0m23 40h0m-25 2h0m16 -49h0m-3 3h0m-28 27h0m12 -1h0m9 63h0m5 -46h0m24 12h0m-29 -1h0m6 -22h0m46 10h0m-45 21h0m-4 -19h0m51 40h0m-58 -33h0m-8 -15h0m-9 7h0m55 23h0m-39 -9h0m2 13h0m27 -50h0m-26 -35h0m-11 96h0m33 5h0m11 -53h0m-7 -18h0m-13 29h0m-7 10h0m20 -11h0m20 17h0m-6 -43h0m-32 53h0m-12 -81h0m70 26h0m-47 50h0m-15 -7h0m-16 -18h0m31 -1h0m-58 -25h0m26 63h0m29 -30h0m-26 29h0m44 0h0m-26 -11h0m7 -32h0m-16 18h0m15 5h0m21 -35h0m43 90h0m-7 -41h0m-7 -3h0m19 -103h0m-2 93h0m-32 7h0m20 -38h0m-32 -30h0m-3 49h0m14 -97h0m1 123h0" stroke="#d2d2d2" stroke-width="3.4" stroke-linecap="round"/>
<path d="M236 493h0m39 -14h0m11 9h0m64 -1h0m-59 -11h0m-56 8h0m112 -1h0m-89 0h0m61 -5h0m29 1h0m-53 2h0m-12 -5h0m-34 9h0m6 -5h0m4 10h0m62 -7h0m22 5h0m-50 -5h0m-27 -4h0m-13 11h0m63 -14h0m5 9h0m-26 -3h0m-51 -4h0m29 5h0m-30 16h0m7 -12h0m65 -11h0m-44 13h0m43 3h0m45 36h0m-13 26h0m44 -4h0m-47 -10h0m12 -1h0m35 30h0m-33 -34h0m-23 12h0m29 -10h0m40 27h0m-37 -35h0m-32 59h0m-92 -74h0m62 49h0m-28 -22h0m54 26h0m-67 -31h0m-85 -9h0m30 30h0m114 -41h0m-65 63h0m-67 -53h0m148 57h0m-196 0h0m43 19h0m-15 1h0m174 -1h0m-18 24h0m-49 -8h0m60 -13h0m-168 5h0m-3 -2h0m-19 -23h0m160 38h0m33 6h0m-3 -10h0m7 -11h0m-79 -20h0m-113 15h0m87 0h0m111 -1h0m-103 11h0m86 5h0m-104 -4h0m-25 -8h0m132 17h0m-62 -4h0m81 -3h0m-20 -7h0m-24 -14h0m0 15h0m-99 -7h0m-58 -15h0m168 34h0m40 -3h0m-178 -21h0m115 10h0m-126 -1h0m192 21h0m-139 -12h0m52 -6h0m30 15h0m29 -1h0m-188 -50h0m146 45h0m1 -4h0m-100 -15h0m150 7h0m-196 1h0m126 14h0m-110 -21h0m-3 6h0m77 -28h0m8 34h0m29 1h0m-125 -15h0m120 18h0m56 -19h0m-166 -13h0m137 38h0m-9 -1h0m-51 -22h0m-3 -4h0m106 33h0m-219 -28h0m38 47h0m-22 -66h0m4 52h0m-14 -41h0m31 44h0m-23 16h0m19 -36h0m-4 -5h0m-5 13h0m-35 -31h0m34 32h0m15 -21h0m-5 -9h0m-36 38h0m46 -23h0m-68 -1h0m24 8h0m170 74h0m-19 1h0m-29 -54h0m13 100h0m2 -50h0m71 -60h0m-103 -9h0m30 23h0m66 -36h0m-106 62h0m72 -76h0m-31 66h0m-49 9h0m-4 11h0m27 -36h0m141 34h0m-95 80h0m11 -101h0m-13 -9h0m-60 -14h0m86 62h0m-54 -64h0m76 10h0m-83 58h0m13 -26h0m-63 -14h0m50 -2h0m135 47h0m7 -47h0m-122 2h0m57 -78h0m24 101h0m-52 -29h0m-41 66h0m-7 -32h0m13 -12h0m29 -38h0m20 46h0m-34 -46h0m-19 27h0m-6 15h0m72 40h0m-116 -32h0m106 -102h0m-22 29h0m33 81h0m-56 6h0m23 -46h0m-86 -11h0m72 3h0m-52 36h0m-3 -2h0m33 65h0m33 -97h0m-8 75h0m-55 -70h0m120 23h0m-76 16h0m70 0h0m23 -9h0m-55 -17h0m51 46h0m-29 -119h0m-90 57h0m74 50h0m-28 -37h0m-49 -45h0m-57 1h0m118 110h0m17 -88h0m-24 90h0m34 -7h0m-169 -117h0m236 75h0m-155 -56h0m43 44h0m30 27h0m56 -42h0m-65 8h0m-81 -31h0m125 38h0m-49 1h0m124 34h0m-123 -46h0m-70 0h0m111 39h0m-147 -20h0m12 5h0m-12 33h0m74 -65h0m-99 -73h0m170 87h0m-166 -14h0m93 110h0m-11 -112h0m37 -20h0m-67 -51h0m78 118h0m87 -13h0m-53 -26h0m-94 -33h0m85 86h0m-68 -16h0m83 6h0m-23 -74h0m-25 21h0m37 23h0m34 -1h0m-144 46h0m11 -26h0m79 0h0m-28 37h0m93 -27h0m-122 -33h0m-66 -33h0m183 83h0m-33 -52h0m15 -53h0m-51 86h0m-62 -8h0m58 -43h0m-6 -32h0m-20 20h0m-38 57h0m41 -57h0m45 -58h0m-51 88h0m-2 -60h0m-10 56h0m-21 -57h0m24 21h0m62 14h0m-77 9h0m13 18h0m86 35h0m32 -37h0m-63 53h0m-129 -114h0m124 93h0m-71 -68h0m122 59h0m-146 -16h0m39 -24h0m11 -14h0m67 72h0m-50 -10h0m-94 -34h0m194 1h0m-43 1h0m-11 56h0m9 -10h0m-6 -54h0m-127 -44h0m-27 13h0m94 81h0m61 -54h0m-111 49h0m131 -68h0m-3 107h0m-48 -106h0m85 -71h0m-55 146h0m34 -29h0m-54 -22h0m9 -8h0m17 82h0m-105 -58h0m89 41h0m61 -109h0m-143 74h0m103 -27h0m-3 26h0m-30 -15h0m-32 52h0m8 -1h0m31 -55h0m-21 64h0m-45 -87h0m41 31h0m-77 2h0m153 31h0m31 -7h0m-96 4h0m57 -80h0m11 9h0m-145 69h0m64 -121h0m82 104h0m-157 -75h0m172 63h0m-193 -56h0m130 113h0m22 -49h0m-164 11h0m182 -36h0m-111 64h0m3 -40h0m90 65h0m35 -97h0m12 38h0m-123 34h0m-11 -60h0m122 15h0m-50 60h0m-61 -115h0m24 6h0m35 21h0m-96 21h0m11 10h0m24 -16h0m32 7h0m-154 8h0m106 -37h0m108 -15h0m-90 24h0m69 -23h0m-45 119h0m22 -97h0m51 81h0m-100 -38h0m77 15h0m-48 -57h0m-41 41h0m34 41h0m-37 -16h0m40 14h0m-38 15h0m70 -19h0m-8 23h0m16 -13h0m6 -15h0m-46 1h0m2 41h0m-20 -61h0m91 16h0m-63 24h0m23 0h0m-13 -7h0m38 -23h0m-35 1h0m26 40h0m-27 -31h0m-79 19h0m105 -12h0m8 17h0m-62 1h0m7 -39h0m28 24h0m-25 5h0m-74 20h0m74 5h0m13 -73h0m6 41h0m10 35h0m-36 -60h0m19 20h0m68 0h0m-72 47h0m51 -63h0m-26 33h0m-32 -20h0m-9 24h0m46 -42h0m14 12h0m-42 -36h0m-56 21h0m48 58h0m33 -32h0m-15 20h0m-38 -17h0m15 -37h0m52 35h0m-15 7h0m-22 -32h0m36 54h0m-17 3h0m-58 -58h0m35 25h0m18 20h0m-20 -13h0m88 -28h0m-81 57h0m-52 -57h0m59 46h0m-23 -14h0m-12 -13h0m45 12h0m-29 -12h0m-34 29h0m-11 -18h0m2 -4h0m50 -14h0m-12 17h0m50 -18h0m-52 7h0m33 -52h0m-25 36h0m29 22h0m-36 10h0m28 -8h0m-31 21h0m33 9h0m-15 -20h0m-82 -33h0m25 2h0m21 46h0m51 -27h0m1 -14h0m-34 47h0m47 -43h0m-45 1h0m13 53h0m23 -42h0m23 -13h0m-58 -14h0m-2 12h0m-29 16h0m84 -9h0m-54 9h0m86 -22h0m-30 58h0m-10 -12h0m-26 -30h0m8 -17h0m77 -73h0m9 -49h0m-40 58h0m11 -7h0m6 -13h0m1 -11h0m-49 40h0m31 -19h0m-7 43h0m10 -33h0m-4 2h0m10 -3h0m-18 6h0m30 -37h0m-9 6h0m-23 -9h0m6 18h0m17 -12h0m-7 25h0m-15 7h0m11 -25h0m20 40h0m-16 -50h0m27 3h0m23 8h0m-55 -21h0m23 -15h0m1 36h0m0 -6h0m-50 4h0m15 7h0m16 34h0m-34 -43h0m8 22h0m24 -11h0m31 20h0m-25 9h0m6 -15h0m-8 -34h0m-22 25h0m-9 12h0m31 -25h0m4 34h0m8 -49h0m-5 2h0m-1 36h0m1 36h0m10 -56h0m-15 22h0m-12 22h0m6 -38h0m-13 27h0m2 5h0m20 -37h0m-8 1h0m-9 16h0m26 -32h0m-17 16h0m-8 15h0m-21 -11h0m36 7h0m-7 16h0m7 1h0m-28 -43h0m39 -22h0m31 32h0m-66 -1h0m12 14h0m52 -38h0m-17 58h0m-37 -4h0m-14 4h0m14 -10h0m45 -5h0m-17 9h0m-15 -33h0m1 33h0m-27 -2h0m29 -9h0m-8 -14h0m-9 -5h0m11 3h0m-18 39h0m5 -28h0m13 -15h0m13 26h0m-24 -17h0m2 4h0m-8 21h0m14 -61h0m2 8h0m-32 8h0m57 13h0m11 31h0m-15 -15h0m-10 -38h0m-1 35h0m40 11h0m-55 -5h0m20 14h0m3 -9h0m-39 -17h0m35 4h0m-12 6h0m31 -6h0m-1 -31h0m-16 43h0m-69 -1h0m71 29h0m25 -79h0m-54 38h0m52 24h0m-24 -56h0m-4 6h0m-29 23h0m21 18h0m4 19h0m-1 -33h0m-4 2h0m4 -1h0m-17 -23h0m23 32h0m-14 0h0m-6 -47h0m0 55h0m-12 -39h0m72 -8h0m-41 0h0m-3 47h0m21 -54h0m-9 67h0m-5 -35h0m24 5h0m-7 -23h0m-48 -1h0m39 20h0m-3 -10h0m-3 31h0m-6 -2h0m18 11h0m-6 -4h0m-32 -5h0m-34 -3h0m57 -14h0m-30 9h0m24 16h0m-12 -23h0m-9 -4h0m55 -1h0m-39 -5h0m26 31h0m-23 -43h0m17 17h0m-26 -5h0m77 4h0m-75 -24h0m6 52h0m12 -38h0m-59 2h0m47 6h0m-31 35h0m62 -36h0m-41 -9h0m-33 -15h0m25 43h0m-37 20h0m69 -53h0m-23 -6h0m-2 51h0m-8 7h0m24 42h0m5 -68h0m11 31h0m-29 9h0m-8 -30h0m29 68h0m-30 1h0m12 -36h0m10 -28h0m-37 24h0m46 -7h0m-28 8h0m11 20h0m40 -27h0m-9 -30h0m-45 51h0m52 -31h0m-51 -12h0m11 25h0m1 5h0m-38 27h0m57 -60h0m-60 43h0m66 -5h0m-46 23h0m28 -25h0m-24 0h0m30 -1h0m-23 1h0m-3 8h0m-4 -34h0m31 -2h0m-21 -33h0m-1 53h0m11 -19h0m5 47h0m4 32h0m-15 -79h0m0 72h0m7 -75h0m24 13h0m-24 -19h0m10 36h0m-10 -10h0m34 59h0m-11 -28h0m-13 -49h0m-42 36h0m61 32h0m-34 -23h0m-13 -19h0m-12 1h0m30 -31h0m19 11h0m-18 3h0m5 -5h0m-15 40h0m19 11h0m-2 -10h0m21 -24h0m-5 21h0m-5 -19h0m-34 21h0m22 -49h0m33 81h0m10 -78h0m-39 -20h0m24 53h0m-84 50h0m7 -84h0m49 65h0m-24 -46h0m29 -6h0m-12 19h0m29 -25h0m-36 15h0m26 -14h0m-1 22h0m-41 -11h0m36 -24h0m-25 5h0m58 -3h0m0 20h0m-55 -3h0m-9 3h0m39 23h0m-53 -35h0m44 26h0m25 -58h0m-43 74h0m4 3h0m-8 -74h0m-20 34h0m29 -22h0m12 24h0m26 25h0m-45 -9h0m13 -36h0m-42 64h0m29 -14h0m15 -4h0m9 21h0m16 0h0m-70 -72h0m103 16h0m-87 16h0m6 9h0m49 -30h0m-30 35h0m3 -23h0m5 -8h0m-11 7h0m-28 79h0m32 -57h0m3 38h0m-28 -17h0m18 -29h0m-17 -18h0m9 20h0m0 26h0m5 -29h0m13 -23h0m32 58h0m-37 -7h0m42 -22h0m-38 -29h0m11 14h0m1 -2h0m-8 12h0m18 -20h0m-14 40h0m-18 -27h0m1 -42h0m19 56h0m-34 -18h0m17 9h0m-27 3h0m40 1h0m-40 12h0m41 -5h0m-17 -26h0m39 -18h0m-16 43h0m-19 -56h0m-24 42h0m10 18h0m9 10h0m-8 -9h0m16 -8h0m15 -24h0m-43 25h0m43 -18h0m-57 9h0m36 4h0m-2 -26h0m16 25h0m-21 30h0m10 -16h0m6 5h0m19 7h0m-22 -49h0m25 8h0m-18 44h0m-30 11h0m26 -42h0m5 10h0m-21 15h0m39 32h0m15 -60h0m-7 -88h0m-13 148h0m28 -57h0m18 59h0m-2 -142h0m-8 85h0m-12 -45h0m36 58h0m-41 -73h0m-2 -28h0" stroke="#d8cbc8" stroke-width="3.4" stroke-linecap="round"/>
<path d="M346 485h0m-109 -2h0m80 2h0m-13 0h0m-16 4h0m62 -7h0m-16 3h0m-65 -10h0m50 12h0m-50 -3h0m-2 -8h0m38 7h0m-69 7h0m56 -10h0m-41 7h0m0 -6h0m53 1h0m-31 -4h0m0 1h0m68 2h0m-62 4h0m46 0h0m-42 -2h0m12 3h0m-62 4h0m12 -2h0m3 -3h0m78 8h0m-49 -2h0m-13 -1h0m71 -4h0m-9 -2h0m-43 0h0m5 -6h0m43 -5h0" stroke="#dec4be" stroke-width="3.4" stroke-linecap="round"/>
<path d="M300 482h0m50 7h0m-94 -6h0m59 1h0m2 -4h0m-35 5h0m29 -8h0m21 4h0m-7 -2h0" stroke="#deada0" stroke-width="3.4" stroke-linecap="round"/>
<path d="M295 480h0m52 -1h0m-63 3h0m62 5h0m19 71h0m31 -20h0m-55 -7h0m63 28h0m-33 0h0m18 2h0m-38 -21h0m-4 -6h0m30 20h0m-1 5h0m-20 -10h0m18 5h0m-43 -23h0m43 33h0m30 -8h0m-3 23h0m-41 -42h0m-15 -13h0m-1 32h0m19 5h0m25 0h0m13 -19h0m-26 8h0m-12 -13h0m-7 6h0m-10 0h0m-35 -20h0m98 48h0m-57 -35h0m13 10h0m50 21h0m-55 -22h0m17 18h0m7 -11h0m-23 3h0m44 2h0m-46 -10h0m-6 -12h0m-7 -10h0m9 14h0m5 14h0m3 -1h0m18 6h0m-9 2h0m-18 -23h0m30 9h0m-1 0h0m-14 -4h0m8 17h0m3 -13h0m-27 -11h0m19 16h0m4 21h0m10 -29h0m-27 11h0m-26 -22h0m34 18h0m-5 -6h0m-16 -8h0m16 6h0m4 -9h0m27 34h0m10 -11h0m-46 -30h0m46 41h0m-60 -30h0m56 23h0m-24 -7h0m10 9h0m-19 -13h0m23 3h0m-40 -14h0m50 28h0m-43 -22h0m-4 -9h0m53 38h0m-65 -34h0m-15 -21h0m42 39h0m-2 3h0m-132 -44h0m102 49h0m-50 29h0m30 -46h0m9 60h0m-91 9h0m20 -24h0m-51 7h0m38 1h0m94 27h0m-75 -15h0m-15 -28h0m-28 28h0m77 -2h0m-144 -1h0m49 -8h0m-16 -11h0m181 12h0m-81 10h0m-32 6h0m85 -2h0m-56 -23h0m54 11h0m-67 13h0m64 -28h0m40 14h0m-93 13h0m-33 -31h0m10 26h0m-118 28h0m4 -29h0m21 40h0m-45 -35h0m23 -4h0m-18 -9h0m-13 34h0m49 -16h0m-32 -49h0m-12 40h0m17 2h0m40 4h0m-30 -32h0m15 -2h0m4 39h0m-23 -22h0m30 24h0m-4 -55h0m0 50h0m0 -10h0m-33 23h0m44 17h0m-69 -29h0m26 -31h0m12 -1h0m0 60h0m-14 -57h0m-10 41h0m185 -25h0m-64 70h0m44 -13h0m-73 40h0m79 -108h0m-38 93h0m27 -36h0m56 7h0m5 -17h0m-159 35h0m114 22h0m45 -1h0m-106 -27h0m59 39h0m-32 4h0m-17 -38h0m52 -36h0m69 92h0m-10 -32h0m-126 -25h0m87 -59h0m-40 97h0m4 -71h0m20 -7h0m-6 22h0m-86 -40h0m40 68h0m84 -91h0m-14 50h0m-26 52h0m70 -59h0m-152 40h0m104 39h0m7 -37h0m-80 0h0m-27 -16h0m33 64h0m64 -70h0m-52 -4h0m27 -13h0m47 51h0m-14 15h0m-81 -89h0m96 73h0m-9 -40h0m-52 31h0m63 -12h0m-154 26h0m-10 -44h0m155 12h0m-28 -43h0m44 129h0m-4 -107h0m-24 76h0m96 -60h0m-113 50h0m-53 -53h0m94 -6h0m-16 31h0m-11 -52h0m39 45h0m-46 36h0m-5 -92h0m57 86h0m-18 -3h0m-38 -32h0m52 57h0m-132 -104h0m95 32h0m-8 -86h0m28 120h0m-65 30h0m-16 -33h0m11 -42h0m-33 -24h0m-24 4h0m129 125h0m-121 -89h0m25 -58h0m7 60h0m25 58h0m119 -107h0m-110 71h0m-22 -58h0m7 124h0m-38 -35h0m95 35h0m-12 -5h0m-30 1h0m-4 -65h0m11 33h0m-43 -5h0m51 16h0m5 -15h0m-36 9h0m-5 42h0m14 -58h0m33 53h0m30 -62h0m-48 25h0m-14 7h0m39 4h0m-63 -29h0m91 -8h0m-3 35h0m-59 32h0m-7 -49h0m18 -18h0m-13 -5h0m12 18h0m-5 16h0m-25 23h0m36 -18h0m-26 6h0m27 -42h0m-2 37h0m-18 7h0m38 -29h0m-48 32h0m20 -15h0m34 21h0m-35 -11h0m2 -49h0m52 33h0m26 -91h0m-19 21h0m0 -41h0m41 41h0m-11 -14h0m15 -13h0m-42 -25h0m31 32h0m16 29h0m-39 -32h0m-14 66h0m38 -11h0m-15 -29h0m25 11h0m-32 -8h0m14 -8h0" stroke="#da6c50" stroke-width="3.4" stroke-linecap="round"/>
<path d="M333 484h0m10 12h0m-59 -4h0m34 -13h0m35 9h0m-116 2h0m20 -5h0m35 -9h0m2 11h0m49 -9h0m48 66h0m2 7h0m-35 -12h0m-10 2h0m25 9h0m-26 -1h0m19 -9h0m0 6h0m27 0h0m-38 -7h0m42 23h0m-61 -39h0m30 10h0m-23 15h0m12 -1h0m14 -6h0m-11 -1h0m14 -14h0m-3 18h0m17 17h0m2 -16h0m-33 -21h0m35 41h0m-32 -15h0m5 -9h0m40 36h0m-25 -16h0m6 -12h0m-2 1h0m-7 -9h0m0 1h0m-1 2h0m-19 2h0m-24 -16h0m22 15h0m38 15h0m-29 -33h0m49 27h0m-12 13h0m-35 -22h0m15 5h0m6 5h0m-31 -24h0m38 46h0m-31 -39h0m15 25h0m-11 11h0m16 -34h0m16 21h0m9 2h0m-30 -16h0m-25 0h0m12 -13h0m-8 -1h0m14 30h0m-15 -20h0m24 15h0m-33 -14h0m67 26h0m-45 -30h0m-3 14h0m-3 -8h0m6 -2h0m-39 -7h0m25 11h0m31 1h0m30 28h0m-13 -17h0m-8 -9h0m-41 -14h0m65 25h0m-46 0h0m2 -14h0m-12 -5h0m24 7h0m15 7h0m-54 -39h0m-5 28h0m34 6h0m26 13h0m-26 -11h0m-3 1h0m-12 -5h0m18 5h0m-32 -18h0m-7 -18h0m14 18h0m-24 -20h0m61 31h0m-32 -9h0m9 9h0m28 16h0m-49 -25h0m-18 -13h0m-47 41h0m-9 -4h0m-49 -20h0m10 45h0m-26 3h0m55 -27h0m64 -4h0m-165 36h0m103 -12h0m-61 -57h0m-30 78h0m189 12h0m-116 -3h0m-26 -2h0m102 8h0m-10 -3h0m-155 -37h0m21 26h0m95 -5h0m48 24h0m-28 -8h0m15 -8h0m-42 5h0m-69 -18h0m24 4h0m40 9h0m68 12h0m-147 -57h0m-19 35h0m205 -9h0m-210 14h0m-6 -23h0m205 21h0m-60 19h0m-115 -12h0m151 2h0m-167 -11h0m101 6h0m82 -19h0m-59 32h0m-99 -6h0m101 3h0m-106 -4h0m129 -15h0m-2 12h0m-12 7h0m-166 -9h0m-19 -3h0m29 -11h0m16 16h0m-2 -8h0m-13 22h0m7 -32h0m-3 14h0m18 12h0m-33 1h0m5 -29h0m7 0h0m-4 18h0m-21 16h0m12 17h0m-1 -57h0m-2 40h0m33 -27h0m-22 31h0m-22 -24h0m29 22h0m15 -15h0m-16 15h0m-4 6h0m-8 -54h0m8 36h0m-36 13h0m63 -7h0m-22 11h0m-19 15h0m14 -70h0m-21 38h0m0 33h0m16 -47h0m-20 -13h0m23 15h0m6 15h0m1 7h0m-17 -30h0m-21 17h0m32 19h0m-16 -14h0m34 15h0m-15 10h0m-13 12h0m8 -42h0m148 65h0m-51 -17h0m49 -31h0m135 41h0m-138 17h0m-54 18h0m68 6h0m18 -26h0m-17 7h0m41 -28h0m-52 55h0m-12 -20h0m14 -90h0m-67 42h0m152 -2h0m-63 -3h0m-34 1h0m60 58h0m-48 -10h0m-64 -77h0m29 54h0m24 5h0m-52 56h0m-9 16h0m157 -65h0m-92 43h0m-89 -46h0m101 10h0m-69 -18h0m32 -71h0m12 38h0m-4 61h0m85 -21h0m-11 -3h0m-77 35h0m88 -45h0m-72 30h0m65 -97h0m-53 109h0m-65 -40h0m19 64h0m108 -80h0m-129 -18h0m107 -1h0m-28 116h0m-58 -61h0m159 10h0m-102 -24h0m12 -43h0m24 15h0m-63 51h0m15 -70h0m6 35h0m63 32h0m-121 -60h0m30 -46h0m97 63h0m3 -3h0m-115 48h0m47 59h0m-53 -119h0m61 102h0m-23 -62h0m3 -3h0m-31 17h0m11 -15h0m32 67h0m5 -53h0m-63 -4h0m130 -57h0m-104 86h0m38 -21h0m27 -12h0m-64 -46h0m120 -37h0m-118 122h0m13 -67h0m-74 2h0m158 -34h0m-69 -1h0m-81 39h0m-16 -25h0m162 -13h0m-130 -4h0m76 13h0m46 60h0m-58 61h0m-8 -92h0m66 66h0m-44 29h0m93 -172h0m-130 63h0m-117 82h0m94 -72h0m46 -48h0m-31 50h0m-38 88h0m73 -121h0m-29 34h0m-8 5h0m50 25h0m26 -16h0m-70 -51h0m35 67h0m-47 -89h0m-5 73h0m19 -1h0m34 -34h0m4 18h0m-27 49h0m-49 -85h0m49 36h0m-32 70h0m6 -95h0m6 93h0m-3 -44h0m38 -12h0m36 33h0m-59 11h0m-10 31h0m18 -54h0m-1 30h0m-45 -13h0m109 1h0m-10 13h0m-23 -8h0m-5 1h0m-56 37h0m54 -43h0m-105 28h0m120 -45h0m-8 41h0m-54 26h0m58 -46h0m-14 10h0m-44 1h0m108 -7h0m-39 -14h0m-122 5h0m94 13h0m-6 -5h0m-31 -6h0m-41 59h0m59 -39h0m21 -60h0m1 50h0m-39 10h0m-9 -11h0m32 34h0m-9 -11h0m55 -48h0m-27 10h0m5 31h0m-31 7h0m34 -21h0m-107 -37h0m111 59h0m-79 -1h0m10 -30h0m131 -61h0m-31 23h0m25 -24h0m-16 13h0m0 -16h0m-16 -12h0m-5 -22h0m39 -20h0m-22 88h0m40 -11h0m-19 2h0m-27 11h0m34 -16h0m-21 16h0m-28 -27h0m39 22h0m30 -61h0m10 45h0m-5 56h0m16 -133h0m-40 59h0m12 63h0m27 -56h0m-41 -17h0m7 -57h0" stroke="#d2573e" stroke-width="3.4" stroke-linecap="round"/>
<path d="M240 486h0m130 69h0m-37 -28h0m15 25h0m28 4h0m-16 -20h0m0 5h0m-3 -3h0m-11 -8h0m39 22h0m-13 4h0m4 8h0m20 15h0m-35 -9h0m-31 -46h0m38 34h0m2 -23h0m8 20h0m4 -2h0m-2 9h0m-9 -8h0m-27 -22h0m87 30h0m-87 -8h0m27 -4h0m7 -2h0m-13 2h0m29 -9h0m-14 16h0m-24 -3h0m21 -8h0m-34 -1h0m38 26h0m19 -28h0m13 32h0m-50 -23h0m-8 -17h0m7 20h0m2 -6h0m-8 -9h0m33 7h0m3 3h0m-6 16h0m-11 -21h0m2 1h0m-15 7h0m-7 3h0m40 -1h0m-8 10h0m-34 -30h0m53 37h0m-27 -36h0m-15 11h0m11 -2h0m17 15h0m-37 -20h0m41 25h0m-22 -1h0m13 -13h0m-3 -11h0m-6 -2h0m-27 -14h0m-161 5h0m69 49h0m-77 -40h0m172 72h0m-191 -14h0m155 28h0m-17 0h0m26 -3h0m-183 -18h0m145 20h0m-18 -18h0m100 23h0m-86 -35h0m87 25h0m-152 -5h0m133 -16h0m-92 11h0m55 12h0m-111 -29h0m43 4h0m42 25h0m4 0h0m-144 -26h0m-4 26h0m-2 -21h0m-42 20h0m19 -33h0m50 35h0m5 -19h0m-62 28h0m7 -24h0m15 14h0m-25 -2h0m40 3h0m-15 -6h0m-5 -53h0m-10 42h0m28 7h0m-35 2h0m37 -11h0m-33 -4h0m2 25h0m135 49h0m22 15h0m84 -6h0m-62 -23h0m97 7h0m-143 -3h0m34 36h0m105 -74h0m-154 24h0m132 -10h0m-86 40h0m6 -15h0m-65 -9h0m-27 8h0m133 17h0m-73 -15h0m113 23h0m-111 -53h0m-3 99h0m82 -5h0m-59 -86h0m-48 14h0m123 26h0m-146 -72h0m98 81h0m-94 -81h0m37 106h0m129 -45h0m-106 -14h0m107 15h0m-123 20h0m4 67h0m-27 -116h0m73 50h0m-95 -29h0m111 -36h0m-50 67h0m-10 -74h0m118 31h0m-20 55h0m-152 -84h0m51 67h0m-68 -43h0m70 26h0m74 -34h0m-34 18h0m-23 67h0m46 -70h0m-40 22h0m72 18h0m5 -26h0m-55 -15h0m-34 24h0m23 -39h0m-59 43h0m39 51h0m-14 -106h0m39 -9h0m42 43h0m-46 -13h0m33 29h0m16 -15h0m-111 31h0m97 -21h0m29 -11h0m-58 -11h0m-68 49h0m-54 -51h0m-44 54h0m192 9h0m7 48h0m-60 -51h0m12 31h0m11 10h0m-52 -33h0m49 9h0m14 3h0m-22 26h0m-11 -12h0m108 -46h0m-104 37h0m-58 -20h0m90 4h0m-20 5h0m-6 -25h0m-9 57h0m51 -31h0m-89 -16h0m36 -26h0m-32 46h0m62 -36h0m-44 39h0m42 26h0m-51 -38h0m129 11h0m-84 -46h0m-15 64h0m-3 -34h0m-29 5h0m55 -17h0m-11 7h0m34 -10h0m-45 10h0m-13 -5h0m72 -1h0m-37 3h0m5 -14h0m-20 47h0m-25 -4h0m66 0h0m-42 2h0m101 -85h0m-22 -43h0m-7 -17h0m16 61h0m-6 -25h0m15 -41h0m-7 97h0m-33 10h0m93 -70h0m-13 42h0" stroke="#cb422c" stroke-width="3.4" stroke-linecap="round"/>
<path d="M112 599C112.5 596.8 112.5 589.8 115 586C117.5 582.2 120.5 580.7 127 576C133.5 571.3 143.2 564 154 558C164.8 552 180.7 546 192 540C203.3 534 212.2 528.3 222 522C231.8 515.7 242.2 506.2 251 502C259.8 497.8 266.2 496 275 497C283.8 498 295.7 503.8 304 508C312.3 512.2 318.5 517.7 325 522C331.5 526.3 335.5 529.7 343 534C350.5 538.3 362.8 544.2 370 548C377.2 551.8 381.7 554.2 386 557C390.3 559.8 393.2 562.2 396 565C398.8 567.8 401.8 572.5 403 574" fill="none" stroke="#5a5a5a" stroke-opacity="0.88" stroke-width="3.5" stroke-linecap="round"/>
<path d="M112 599C112.3 600.5 110.5 606 114 608C117.5 610 124.3 610 133 611C141.7 612 153.7 612.8 166 614C178.3 615.2 192.8 616.5 207 618C221.2 619.5 236.2 621.7 251 623C265.8 624.3 281.2 625 296 626C310.8 627 327.7 628 340 629C352.3 630 362.7 630.8 370 632C377.3 633.2 381.7 635.3 384 636" fill="none" stroke="#5a5a5a" stroke-opacity="0.88" stroke-width="3.5" stroke-linecap="round"/>
<path d="M137 608C140.8 609 153.3 609.5 160 614C166.7 618.5 171.7 626.7 177 635C182.3 643.3 186 654.2 192 664C198 673.8 205.7 686.5 213 694C220.3 701.5 224.7 705.8 236 709C247.3 712.2 269.7 713.5 281 713C292.3 712.5 296.7 710.7 304 706C311.3 701.3 317.5 691.2 325 685C332.5 678.8 341.2 672.2 349 669C356.8 665.8 366.2 666.3 372 666C377.8 665.7 382 666.8 384 667" fill="none" stroke="#5a5a5a" stroke-opacity="0.88" stroke-width="3.5" stroke-linecap="round"/>
<path d="M508 469V776H890" fill="none" stroke="#111" stroke-width="1.6"/>
<path d="M508 470h-3M508 552h-3M508 635h-3M508 717h-3M612 776v3M736 776v3M869 776v3" stroke="#111" stroke-width="1.2"/>
<path d="M791 556h0m32 4h0m-40 -24h0m-13 18h0m19 -15h0m-19 13h0m2 0h0m44 -4h0m-11 0h0m-28 -3h0m12 5h0m6 11h0m15 -17h0m5 1h0m-44 -3h0m-83 1h0m-20 -31h0m62 49h0m-28 -22h0m-69 50h0m-59 -35h0m169 -12h0m-82 30h0m-45 -45h0m33 29h0m-53 45h0m177 23h0m-25 -6h0m32 -10h0m-131 0h0m121 -2h0m-71 -7h0m-7 7h0m-45 -8h0m93 13h0m20 15h0m-9 -2h0m-96 -12h0m-85 -11h0m145 20h0m22 -28h0m18 20h0m-181 -18h0m174 25h0m-70 -25h0m44 18h0m-146 -7h0m42 -7h0m100 15h0m-2 -9h0m-13 7h0m36 -5h0m-52 -1h0m5 10h0m28 2h0m-31 -6h0m53 -21h0m-156 1h0m1 54h0m-21 -37h0m6 12h0m-6 -34h0m-6 51h0m-13 -37h0m35 14h0m1 4h0m7 -25h0m6 22h0m-30 -32h0m9 44h0m-10 -31h0m23 21h0m-42 14h0m9 -1h0m4 19h0m-11 -34h0m-4 15h0m114 10h0m-13 -23h0m-3 13h0m32 -2h0m-15 20h0m113 -23h0m-38 14h0m-35 -29h0m91 33h0m-74 -20h0m-11 18h0m20 -7h0m24 -9h0m-13 -9h0m-44 16h0m-8 -30h0m38 33h0m-42 -5h0m105 4h0m-84 7h0m55 7h0m8 -7h0m-27 -14h0m-12 -11h0m7 -5h0m-26 37h0m-22 -38h0m17 11h0m-27 -4h0m-40 22h0m50 0h0m83 -21h0m-6 23h0m17 -6h0m-31 9h0m40 -10h0m-14 -16h0m31 -12h0m-7 -5h0m20 35h0m-68 -26h0m14 16h0m22 -13h0m-27 34h0m21 -14h0m-6 1h0m16 -5h0m19 10h0m-23 1h0m41 -15h0m-35 4h0m19 -15h0m-59 23h0m23 -19h0m-31 -10h0m55 14h0m2 12h0m-27 -13h0m52 24h0m-57 -27h0m10 22h0m-12 -39h0m3 21h0m4 -17h0m46 9h0m-10 5h0m0 26h0m19 -25h0m-13 26h0m0 -51h0m-20 46h0m0 -22h0m8 -10h0m-59 2h0m29 24h0m27 -25h0m8 15h0m-3 -23h0m-8 47h0m-22 -11h0m-9 -10h0m40 8h0m-36 10h0m3 -21h0m25 15h0m-9 -9h0m15 -13h0m-25 24h0m17 -8h0m7 14h0m21 -8h0m-32 -20h0m6 21h0m-25 8h0m7 -41h0m21 34h0m45 -4h0m-31 6h0m34 5h0" stroke="#d2d2d2" stroke-width="3.4" stroke-linecap="round"/>
<path d="M712 480h0m14 0h0m50 7h0m-17 -5h0m-49 8h0m-15 -8h0m81 3h0m-114 3h0m15 -3h0m97 -8h0m-97 2h0m6 4h0m25 0h0m-42 1h0m52 -10h0m-26 3h0m18 3h0m32 -6h0m16 5h0m-89 18h0m40 -15h0m19 -4h0m-8 7h0m61 60h0m5 -11h0m28 9h0m-8 17h0m-3 1h0m15 14h0m-16 -30h0m-42 0h0m45 -11h0m-51 -10h0m6 62h0m1 -23h0m-13 -49h0m-66 20h0m-13 13h0m95 34h0m-52 -4h0m-42 5h0m-62 -46h0m-21 71h0m102 -2h0m-85 2h0m-9 1h0m165 -1h0m16 -7h0m-176 -28h0m30 32h0m49 -2h0m45 15h0m-146 -38h0m119 24h0m77 -5h0m-175 7h0m185 4h0m-12 -4h0m-56 12h0m-124 -18h0m85 6h0m113 -17h0m-168 18h0m86 5h0m75 17h0m-195 -45h0m130 20h0m-2 17h0m-72 -38h0m-31 22h0m52 -6h0m-34 -9h0m-70 16h0m-33 12h0m23 7h0m51 -24h0m-45 21h0m11 4h0m36 -19h0m-21 -6h0m3 13h0m-11 -4h0m13 -41h0m-35 45h0m46 35h0m-52 -27h0m7 -31h0m129 147h0m-30 -119h0m76 -12h0m-12 68h0m-2 -83h0m20 61h0m-36 20h0m11 11h0m-80 -30h0m51 17h0m34 -16h0m10 34h0m-22 -3h0m-1 10h0m-144 7h0m170 -9h0m-61 4h0m-110 17h0m203 -55h0m-44 32h0m0 -40h0m-73 19h0m9 -56h0m53 59h0m-9 -38h0m-43 94h0m-47 -52h0m114 22h0m-9 -46h0m-25 61h0m71 -37h0m-60 29h0m-5 -9h0m-17 47h0m102 -68h0m-68 16h0m18 -27h0m-75 0h0m19 64h0m62 -30h0m-37 52h0m-40 -134h0m-14 53h0m139 10h0m-74 -41h0m37 84h0m-16 -52h0m83 10h0m-82 15h0m56 -42h0m-21 -11h0m0 26h0m-42 -10h0m-7 11h0m124 34h0m-123 -46h0m-1 31h0m24 -52h0m67 33h0m-51 -6h0m-85 56h0m-81 -70h0m93 110h0m1 -105h0m-19 -24h0m-67 61h0m97 -107h0m52 94h0m-2 30h0m69 -25h0m-56 20h0m-84 -71h0m61 102h0m-8 -108h0m61 78h0m-76 -59h0m-62 42h0m77 51h0m5 -53h0m-46 46h0m85 -58h0m-165 -42h0m183 83h0m79 -10h0m-97 -95h0m-46 31h0m-13 -1h0m8 56h0m13 -6h0m-81 0h0m35 -27h0m129 -68h0m-150 12h0m63 48h0m-23 67h0m5 -72h0m18 71h0m-53 -57h0m86 35h0m-8 -67h0m-28 -15h0m68 45h0m-34 28h0m-105 -64h0m-26 5h0m32 -17h0m76 13h0m-62 27h0m69 63h0m-19 -97h0m107 -41h0m-153 73h0m87 16h0m-5 -4h0m-98 37h0m107 -43h0m-34 -11h0m17 82h0m-16 -17h0m-54 -4h0m-28 -31h0m16 -22h0m84 21h0m-30 -15h0m45 -3h0m-13 16h0m-15 11h0m-41 27h0m10 9h0m48 -52h0m55 22h0m-103 10h0m-81 -100h0m172 63h0m-60 -11h0m-80 43h0m77 25h0m-49 -67h0m89 -7h0m-108 24h0m90 65h0m35 -97h0m-111 72h0m12 6h0m-23 -66h0m7 33h0m65 42h0m-28 -7h0m60 4h0m-130 -64h0m19 -28h0m18 -4h0m-145 79h0m169 30h0m0 -54h0m17 -18h0m-24 35h0m14 -15h0m-5 63h0m-44 -36h0m36 -3h0m-36 -2h0m65 -43h0m-17 65h0m24 -12h0m-48 -7h0m25 25h0m23 9h0m35 -40h0m-39 5h0m-8 17h0m29 18h0m-19 -18h0m-29 -27h0m7 53h0m-28 2h0m43 -33h0m-7 -5h0m21 17h0m-41 4h0m1 3h0m59 -33h0m-17 11h0m-53 3h0m-20 -4h0m47 3h0m3 -26h0m-82 34h0m65 19h0m11 -22h0m-45 -28h0m19 8h0m17 24h0m34 0h0m-1 -1h0m-63 17h0m1 -45h0m-10 23h0m53 22h0m-3 -36h0m-14 -7h0m-16 26h0m-9 -12h0m28 43h0m30 -72h0m-59 35h0m5 -20h0m40 54h0m-18 -69h0m28 36h0m-3 -8h0m-24 -4h0m-43 -9h0m14 14h0m18 -29h0m29 3h0m-20 22h0m-10 25h0m-27 7h0m44 -19h0m49 -36h0m-78 67h0m51 -57h0m-30 14h0m11 9h0m-10 2h0m-70 -45h0m105 57h0m-22 0h0m-4 -4h0m0 -30h0m2 -19h0m17 18h0m77 -73h0m9 -49h0m-2 51h0m-40 39h0m26 -46h0m-38 19h0m18 -42h0m19 -20h0m-10 18h0m11 18h0m-19 39h0m6 2h0m-4 1h0m27 -15h0m-5 -25h0m-19 -36h0m18 31h0m-32 -8h0m20 24h0m-7 11h0m-6 -16h0m9 -4h0m-8 0h0m-9 47h0m-20 -43h0m29 23h0m21 -5h0m-10 0h0m16 -4h0m-27 -6h0m3 -17h0m13 22h0m-14 -20h0m-2 -33h0m2 8h0m11 -1h0m-1 35h0m-14 -1h0m19 21h0m-13 -16h0m-27 -27h0m68 41h0m-25 -5h0m-18 -33h0m34 -15h0m-26 25h0m1 41h0m-10 -49h0m-5 -21h0m37 1h0m-14 32h0m-27 10h0m1 -35h0m-11 13h0m28 -3h0m17 17h0m-26 -5h0m39 1h0m-46 -25h0m22 32h0m-18 1h0m-26 4h0m31 -7h0m11 75h0m-2 -82h0m10 92h0m-1 -35h0m-26 -3h0m11 20h0m-13 -49h0m12 30h0m15 -14h0m-56 24h0m68 1h0m-64 -8h0m9 9h0m31 -36h0m-7 15h0m8 33h0m18 18h0m10 -28h0m-33 6h0m-22 0h0m19 -9h0m18 20h0m-25 -11h0m82 -46h0m-56 14h0m-14 40h0m-20 -36h0m34 4h0m-15 29h0m-5 -38h0m-21 69h0m12 -66h0m8 47h0m-3 -18h0m11 4h0m-8 -74h0m9 12h0m-14 36h0m24 28h0m-17 -24h0m15 10h0m-10 -38h0m-20 25h0m55 34h0m0 -33h0m-33 -1h0m-3 3h0m19 6h0m3 -16h0m-12 -16h0m-16 14h0m-17 8h0m33 -14h0m5 -8h0m-29 42h0m-10 44h0m35 -19h0m-28 -17h0m10 -1h0m5 -29h0m4 -41h0m-7 89h0m5 -46h0m43 33h0m4 -34h0m-45 21h0m-4 -19h0m-15 -8h0m37 13h0m-30 8h0m-14 -14h0m0 13h0m43 -41h0m-13 29h0m-16 10h0m1 1h0m-26 -16h0m18 37h0m25 -43h0m-1 23h0m-13 9h0m54 -28h0m-6 -50h0m10 45h0m-29 -18h0m53 -50h0m-2 135h0m-2 -142h0m2 100h0m-32 7h0m10 -67h0m-24 -50h0" stroke="#d8cbc8" stroke-width="3.4" stroke-linecap="round"/>
<path d="M772 483h0m-109 -2h0m80 2h0m-29 4h0m62 -7h0m-75 -4h0m-30 8h0m24 -11h0m23 5h0m-38 1h0m-12 8h0m76 -10h0m23 2h0m-58 -5h0m73 11h0m-31 -2h0m-42 -2h0m-46 7h0m84 -7h0m-4 -3h0m26 8h0m-110 2h0m31 -11h0m31 1h0m52 -1h0m-26 6h0m-44 6h0m-13 -1h0m74 -7h0m17 2h0m-111 -7h0m29 5h0m52 -4h0m21 8h0m-31 -11h0m-27 2h0m28 10h0m-45 1h0m-129 94h0m111 10h0m-106 -8h0m21 -4h0m97 7h0m27 3h0m1 -6h0m-111 -21h0m186 26h0m-214 -2h0m-1 -9h0m91 6h0m-95 -11h0m33 17h0m167 -4h0m-150 6h0m8 -5h0m33 -9h0m90 11h0m-16 -1h0m-25 86h0m3 17h0m-54 -34h0m62 4h0m-27 31h0m-14 -4h0m-42 -20h0m22 9h0m19 -19h0m25 6h0m-74 3h0m213 0h0m-205 -89h0m-12 100h0m99 46h0m69 -48h0m-143 26h0m-20 2h0m60 6h0m28 -2h0m-20 48h0m38 -74h0m24 -21h0m-16 -1h0m-36 56h0m-11 -59h0m-6 11h0m-61 36h0m151 -24h0m-107 -8h0m-63 -14h0m60 31h0m125 14h0m-98 -50h0m105 3h0m-122 2h0m57 -78h0m-19 77h0m97 7h0m-143 -3h0m34 36h0m-17 31h0m72 -47h0m-96 -94h0m3 131h0m6 -49h0m-13 17h0m13 -12h0m49 8h0m-117 -8h0m64 -11h0m-33 83h0m27 -68h0m72 40h0m-33 -41h0m6 -15h0m-65 -9h0m159 6h0m-183 27h0m82 38h0m-89 -46h0m101 10h0m-129 -3h0m141 -101h0m-109 77h0m97 -5h0m44 43h0m-139 -32h0m118 27h0m-56 6h0m-36 -30h0m66 41h0m-73 -29h0m130 -14h0m-106 9h0m124 -8h0m-109 -6h0m-42 17h0m125 22h0m4 -3h0m-71 24h0m97 -37h0m-31 -12h0m-121 -21h0m44 56h0m76 -33h0m12 -12h0m-88 28h0m70 0h0m23 -9h0m-77 11h0m127 56h0m-42 -17h0m-73 -27h0m-19 -29h0m10 23h0m72 1h0m-2 11h0m-95 20h0m-40 -37h0m122 32h0m-73 -56h0m47 76h0m-85 -71h0m12 39h0m-8 -60h0m-18 28h0m65 -20h0m-114 -11h0m126 77h0m137 -48h0m-125 66h0m-58 -61h0m-6 -22h0m165 32h0m-120 35h0m-50 -6h0m73 -35h0m-130 59h0m79 -87h0m17 8h0m-23 45h0m44 -52h0m-19 51h0m79 -51h0m-79 32h0m104 -25h0m-111 16h0m5 -30h0m-53 3h0m111 39h0m-38 -40h0m-46 28h0m-63 -8h0m12 5h0m-12 33h0m107 -19h0m-132 -119h0m162 112h0m-64 1h0m102 1h0m-88 -107h0m-49 121h0m169 42h0m-68 -59h0m-62 69h0m32 -14h0m-73 0h0m-5 -166h0m25 118h0m67 -4h0m32 44h0m-46 -40h0m87 -13h0m-168 -20h0m81 6h0m34 -12h0m-14 60h0m-40 -23h0m-33 -14h0m10 14h0m-37 -30h0m83 28h0m34 -106h0m-20 4h0m-64 138h0m7 -34h0m47 59h0m-119 -68h0m84 14h0m68 1h0m-48 -26h0m37 -4h0m-20 59h0m-128 -45h0m99 -11h0m83 -4h0m-99 19h0m61 8h0m-50 -23h0m-56 42h0m90 -26h0m-25 66h0m-3 -29h0m-14 -37h0m50 -31h0m57 41h0m-109 -45h0m58 12h0m-14 12h0m-4 16h0m-53 -28h0m-3 17h0m87 -19h0m-95 -73h0m-3 98h0m37 23h0m65 -33h0m33 30h0m-55 -133h0m-156 101h0m107 -5h0m9 46h0m-23 -58h0m23 24h0m61 8h0m-116 9h0m109 -48h0m-108 4h0m68 18h0m33 32h0m-14 9h0m-5 -21h0m58 -2h0m5 -26h0m-12 19h0m-146 -16h0m103 -18h0m-89 5h0m102 71h0m-47 -52h0m-1 6h0m63 -12h0m-14 34h0m-84 -19h0m34 9h0m-84 -134h0m98 107h0m-108 -7h0m4 36h0m190 -35h0m-15 27h0m-28 -26h0m-157 -10h0m112 80h0m77 -59h0m-70 -16h0m66 66h0m-30 -15h0m-14 44h0m14 -88h0m-6 -10h0m-60 50h0m56 -42h0m-83 32h0m-23 5h0m-52 26h0m142 -26h0m42 51h0m-75 -95h0m55 26h0m-96 -14h0m-59 21h0m149 29h0m-16 -11h0m14 13h0m24 19h0m72 -79h0m-189 4h0m16 17h0m138 -119h0m-99 170h0m-75 -6h0m119 -18h0m34 -29h0m-54 -22h0m-83 12h0m4 4h0m76 37h0m-32 -48h0m57 20h0m-56 33h0m77 -52h0m-37 -7h0m-71 2h0m22 -90h0m89 93h0m-5 10h0m-36 -12h0m45 16h0m-46 36h0m-41 -27h0m-28 8h0m45 -25h0m-77 2h0m153 31h0m5 -40h0m-5 45h0m-18 -3h0m-47 -5h0m-16 -106h0m25 79h0m-86 25h0m60 -29h0m-73 2h0m53 3h0m19 -1h0m-40 -7h0m119 64h0m-144 -58h0m152 9h0m-38 -1h0m-54 5h0m39 -113h0m27 105h0m-164 11h0m70 -101h0m85 126h0m-84 3h0m43 -59h0m-54 1h0m105 34h0m46 -10h0m-86 17h0m74 -28h0m-59 44h0m-77 -53h0m-1 12h0m-95 30h0m233 -29h0m-86 9h0m-32 43h0m85 25h0m-81 -94h0m32 7h0m-154 8h0m184 55h0m-109 -28h0m8 -4h0m-1 -33h0m-5 5h0m53 57h0m-18 -65h0m2 5h0m25 58h0m82 2h0m-100 -38h0m77 15h0m-65 51h0m-6 -72h0m45 65h0m-63 -60h0m34 41h0m-48 -9h0m62 -25h0m-2 -35h0m0 68h0m-9 -1h0m-38 15h0m63 -11h0m-39 15h0m-18 -38h0m70 18h0m-34 -34h0m-33 25h0m73 38h0m-48 -2h0m-3 -6h0m10 -25h0m-10 18h0m56 -25h0m-58 11h0m24 4h0m41 33h0m19 -70h0m-35 40h0m-82 -24h0m99 14h0m-11 -5h0m-44 33h0m-6 -39h0m38 3h0m-17 -6h0m-17 10h0m19 34h0m-37 -54h0m19 15h0m9 25h0m23 0h0m-35 -53h0m60 23h0m-35 1h0m-1 9h0m-18 -20h0m-21 -23h0m62 37h0m-72 40h0m-6 -33h0m49 9h0m-73 9h0m105 -12h0m4 -30h0m-130 42h0m134 -43h0m-47 24h0m33 -26h0m-48 51h0m34 -24h0m-14 -44h0m20 58h0m-5 -5h0m-25 5h0m-74 20h0m15 -31h0m59 36h0m13 -73h0m-51 28h0m67 48h0m-36 -60h0m20 28h0m21 -16h0m46 8h0m-60 2h0m-44 1h0m32 44h0m76 -51h0m-48 -2h0m-27 -4h0m50 -6h0m-64 1h0m23 8h0m-17 4h0m100 -19h0m-93 54h0m30 -53h0m-79 31h0m104 5h0m-88 12h0m35 -72h0m-5 40h0m-66 0h0m62 24h0m-47 -43h0m86 36h0m-58 -10h0m-5 42h0m0 -76h0m-18 35h0m43 31h0m44 -82h0m-17 47h0m-106 -12h0m92 8h0m5 27h0m-23 -54h0m52 35h0m-15 7h0m-31 -21h0m14 11h0m14 35h0m-58 -58h0m35 25h0m16 37h0m2 -17h0m-23 -43h0m51 -2h0m-60 59h0m100 -55h0m-49 24h0m-39 -3h0m7 36h0m-2 -43h0m-22 -19h0m11 40h0m-8 -7h0m28 18h0m15 -10h0m-79 -28h0m50 10h0m-21 1h0m84 -1h0m-68 1h0m-62 48h0m53 -85h0m56 22h0m-92 26h0m4 -2h0m82 20h0m-44 -20h0m24 -36h0m-26 37h0m37 4h0m-59 -50h0m-50 71h0m96 3h0m36 -27h0m-10 -19h0m52 19h0m-55 -9h0m-58 -2h0m30 5h0m-11 -6h0m-10 0h0m51 12h0m-18 -64h0m29 88h0m-42 -70h0m-24 29h0m9 35h0m9 -53h0m-6 7h0m17 -34h0m12 56h0m-49 -22h0m61 -1h0m-48 33h0m2 32h0m10 -58h0m36 19h0m-51 20h0m10 -23h0m14 5h0m-39 18h0m48 9h0m-15 -20h0m-82 -33h0m90 23h0m-44 25h0m13 -16h0m-15 -18h0m33 -13h0m-1 47h0m-23 -45h0m-4 37h0m48 -19h0m1 -14h0m-25 4h0m-9 43h0m19 -48h0m34 -10h0m-13 29h0m-12 6h0m19 -20h0m-27 16h0m-18 7h0m38 -29h0m-48 1h0m16 0h0m21 27h0m-26 4h0m16 5h0m-4 23h0m23 -42h0m23 -13h0m-58 -14h0m33 34h0m-35 -22h0m-6 -7h0m-23 23h0m-57 -10h0m131 29h0m-41 -6h0m34 -21h0m6 12h0m-56 -11h0m67 -2h0m11 -15h0m-49 12h0m12 -9h0m-38 1h0m96 -2h0m-53 -13h0m23 71h0m-49 -22h0m-19 -6h0m66 0h0m-13 6h0m-79 -1h0m84 11h0m-74 -41h0m40 27h0m34 -36h0m17 18h0m-43 2h0m24 -20h0m54 -113h0m2 1h0m-21 85h0m-12 -1h0m2 -97h0m19 101h0m-17 -12h0m-5 -6h0m17 16h0m13 -89h0m29 7h0m-68 72h0m-30 -77h0m86 79h0m-50 -10h0m43 -2h0m-8 12h0m25 -79h0m-25 77h0m-1 -71h0m-7 -24h0m-41 107h0m53 -19h0m-49 13h0m33 -78h0m34 65h0m-43 12h0m19 2h0m-40 -15h0m22 0h0m-46 3h0m67 -69h0m-31 68h0m41 -72h0m-5 76h0m-37 29h0m10 -13h0m31 -15h0m-29 9h0m28 -9h0m8 14h0m-37 9h0m-8 25h0m12 -36h0m-14 19h0m-13 -23h0m46 -7h0m-9 21h0m32 -20h0m-54 21h0m52 -31h0m-5 12h0m-7 -11h0m-28 12h0m21 2h0m-6 -7h0m-52 37h0m39 -21h0m24 -1h0m6 50h0m-63 -63h0m38 14h0m-27 22h0m28 -25h0m-24 0h0m30 -1h0m-23 1h0m32 4h0m-35 4h0m-22 60h0m30 -41h0m17 -31h0m6 3h0m2 18h0m-28 -25h0m15 17h0m-6 -7h0m-1 32h0m29 -28h0m-17 46h0m-15 -7h0m26 -39h0m-33 -6h0m38 -17h0m-14 17h0m-10 -10h0m-26 40h0m60 19h0m-29 -66h0m18 38h0m-55 -13h0m61 32h0m-41 -25h0m27 -8h0m-33 -9h0m-12 1h0m1 8h0m48 -28h0m-59 16h0m41 -13h0m-10 35h0m28 -3h0m-1 -7h0m-31 8h0m21 -5h0m0 8h0m21 -24h0m-5 21h0m-4 -22h0m-1 3h0m-23 12h0m7 -24h0m-37 0h0m72 21h0m-3 -1h0m-84 50h0m56 -19h0m-24 -46h0m27 25h0m2 -31h0m-12 19h0m-7 -10h0m26 -14h0m-14 26h0m-3 -8h0m16 4h0m-39 -18h0m8 2h0m-5 21h0m2 -1h0m62 -17h0m-90 10h0m72 -11h0m-7 24h0m-9 -9h0m-23 3h0m5 13h0m-19 -28h0m26 10h0m-31 -19h0m17 39h0m18 -9h0m-24 48h0m30 -76h0m26 25h0m-30 26h0m-44 -7h0m30 -32h0m3 -16h0m35 47h0m-39 -13h0m24 -1h0m0 18h0m-12 -30h0m18 -1h0m13 7h0m-49 1h0m30 0h0m-1 19h0m-37 -36h0m6 9h0m27 5h0m6 -21h0m-11 20h0m-7 -2h0m11 5h0m1 8h0m-19 19h0m16 -40h0m-5 11h0m-2 -4h0m-4 5h0m-63 -14h0m67 54h0m-1 -65h0m4 22h0m6 -6h0m-25 2h0m12 -4h0m-8 2h0m-7 22h0m20 3h0m42 -22h0m-24 8h0m-29 -1h0m6 -22h0m20 0h0m28 52h0m-58 -33h0m23 -9h0m4 20h0m-18 -27h0m-26 8h0m55 23h0m-43 -35h0m17 9h0m-11 30h0m24 -26h0m-34 37h0m35 -30h0m9 -18h0m-3 17h0m-24 4h0m-19 -18h0m39 7h0m20 17h0m-40 4h0m8 -17h0m-28 1h0m22 22h0m21 -40h0m-21 13h0m11 22h0m-31 -25h0m31 -1h0m3 3h0m-6 5h0m-5 9h0m6 5h0m17 15h0m2 -8h0m-28 -3h0m-9 -14h0m40 -24h0m-20 21h0m2 23h0m-30 11h0m26 -42h0m5 10h0m56 61h0m-24 -23h0m-6 -139h0m22 6h0m1 115h0m-7 -3h0m-29 30h0m28 -57h0m8 2h0m-29 35h0m53 -22h0m-22 -17h0m-39 7h0m15 26h0m3 -117h0" stroke="#dec4be" stroke-width="3.4" stroke-linecap="round"/>
<path d="M662 491h0m98 -8h0m-48 3h0m61 -5h0m-28 -5h0m-46 0h0m42 6h0m-20 -3h0m-36 9h0m-11 -5h0m47 -3h0m31 2h0m5 -11h0m-17 19h0" stroke="#deada0" stroke-width="3.4" stroke-linecap="round"/>
<path d="M718 487h0m12 -7h0m49 6h0m-118 6h0m18 -4h0m73 3h0m9 -7h0m5 -2h0m53 67h0m-35 -12h0m-25 -12h0m14 22h0m57 10h0m-56 -7h0m37 -4h0m-19 -15h0m-19 1h0m25 -8h0m-17 -2h0m8 37h0m-5 -11h0m30 11h0m-13 -11h0m-19 -7h0m14 -8h0m12 15h0m-27 -4h0m27 7h0m-23 -25h0m-15 4h0m-33 -9h0m98 48h0m-57 -35h0m79 26h0m-43 -9h0m-4 -1h0m-30 -21h0m1 8h0m26 1h0m-25 14h0m-13 -14h0m0 5h0m63 18h0m-18 -22h0m1 25h0m-27 -11h0m2 -6h0m-1 3h0m18 6h0m-27 -15h0m24 15h0m12 11h0m-13 -10h0m35 11h0m-32 -24h0m12 4h0m-25 -6h0m-39 -7h0m58 6h0m7 8h0m-3 10h0m-38 -24h0m-19 -5h0m84 30h0m-55 -9h0m38 4h0m-34 -24h0m-41 -13h0m32 6h0m44 39h0m2 2h0m-60 -30h0m32 16h0m10 9h0m-21 -15h0m11 -2h0m-20 -5h0m11 9h0m-27 -30h0m57 46h0m-9 -14h0m12 15h0m-33 -37h0m29 35h0m-17 -26h0m-27 -14h0m-26 -6h0m42 39h0m-2 3h0m-132 -44h0m48 51h0m-110 -25h0m101 21h0m52 -13h0m6 17h0m-68 -3h0m23 30h0m-95 -68h0m-5 76h0m177 15h0m-113 1h0m88 -13h0m25 25h0m-55 -7h0m5 -6h0m-102 -19h0m-32 8h0m140 18h0m-116 -24h0m38 1h0m34 18h0m61 -10h0m-24 1h0m-110 3h0m8 -11h0m90 6h0m-117 1h0m44 7h0m140 -1h0m-29 9h0m-70 -18h0m5 0h0m-48 -8h0m67 14h0m-105 0h0m42 -5h0m-8 6h0m132 16h0m-80 -12h0m7 -23h0m36 3h0m13 1h0m-29 25h0m-22 -6h0m-33 -31h0m51 27h0m-142 -4h0m-3 -15h0m11 57h0m-16 -58h0m8 -2h0m-3 14h0m-7 2h0m-21 16h0m25 5h0m-43 -22h0m33 47h0m-4 -70h0m19 29h0m3 11h0m-38 2h0m13 -11h0m6 6h0m-16 -17h0m53 27h0m-62 -12h0m30 -3h0m7 10h0m-12 -10h0m-5 -53h0m40 57h0m-15 -23h0m-33 17h0m25 3h0m-26 -29h0m39 43h0m-38 -15h0m-19 6h0m-6 -11h0m146 29h0m-39 -18h0m71 26h0m14 -40h0m-52 17h0m2 -4h0m152 4h0m-109 -3h0m87 17h0m-146 -1h0m47 10h0m24 -5h0m49 -44h0m-84 36h0m41 -32h0m22 -8h0m-8 24h0m-91 15h0m74 4h0m-61 9h0m90 -49h0m-44 22h0m-49 21h0m95 3h0m-122 -24h0m205 -4h0m-130 15h0m-73 49h0m24 -54h0m77 2h0m-73 109h0m-32 -95h0m58 -6h0m-36 -31h0m-17 50h0m26 -6h0m123 -5h0m-184 -40h0m68 44h0m81 5h0m-26 98h0m23 -99h0m-23 -45h0m-69 138h0m128 -111h0m-167 -5h0m112 -5h0m-1 -6h0m30 35h0m-111 -22h0m19 6h0m68 0h0m-125 -26h0m60 28h0m150 -23h0m-110 4h0m90 10h0m-86 23h0m31 -12h0m-52 4h0m71 -33h0m12 7h0m-64 24h0m94 98h0m-90 -2h0m65 -28h0m-93 -8h0m47 3h0m-26 27h0m37 -11h0m72 -89h0m-23 -6h0m7 0h0m2 -7h0m-39 21h0m27 -31h0m-7 25h0m-15 7h0m15 -35h0m19 5h0m-9 21h0m-17 -1h0m-19 4h0m71 14h0m-41 4h0m19 -45h0m-18 28h0m30 11h0m-64 -6h0m35 9h0m-28 -21h0m31 -26h0m10 16h0m-13 -13h0m-21 46h0m47 -5h0m-23 -16h0m-10 -10h0m22 12h0m-37 -19h0m52 6h0m-2 3h0m-56 -17h0m4 9h0m35 13h0m-19 -14h0m36 36h0m-46 -16h0m31 -8h0m12 -17h0m6 25h0m-24 -23h0m-22 2h0m42 33h0m-31 -34h0m-9 13h0m33 -11h0m11 31h0m-40 -3h0m-17 -21h0m26 -20h0m28 24h0m-55 -13h0m33 -5h0m-14 0h0m7 -17h0m1 49h0m3 -14h0m-4 2h0m-30 -13h0m41 9h0m-2 -27h0m-3 47h0m31 -17h0m-7 -23h0m-14 26h0m6 -29h0m-6 51h0m-1 -8h0m-9 -24h0m-51 21h0m27 -5h0m12 -7h0m37 3h0m-6 -22h0m-28 -11h0m-18 35h0m33 -18h0m-15 12h0m16 20h0m-10 -2h0m0 -6h0m-8 4h0m8 0h0m6 9h0m-48 -7h0m71 7h0m8 -34h0m-21 51h0m-54 -37h0m50 -2h0m-15 -11h0m21 30h0m40 -2h0m-32 -25h0" stroke="#da6c50" stroke-width="3.4" stroke-linecap="round"/>
<path d="M701 477h0m44 8h0m-14 -4h0m-14 -7h0m-56 8h0m23 -1h0m15 -4h0m-18 1h0m38 3h0m-48 5h0m66 -11h0m5 11h0m-66 -1h0m59 -10h0m34 1h0m27 77h0m21 -11h0m5 -6h0m-23 12h0m-32 -19h0m25 9h0m5 19h0m5 -3h0m-21 -17h0m-4 1h0m-15 -17h0m40 36h0m-2 -5h0m-43 -23h0m73 25h0m-44 -15h0m41 38h0m-16 -27h0m-25 -15h0m12 19h0m4 8h0m-31 -40h0m45 41h0m-29 5h0m8 -35h0m-39 -11h0m71 18h0m-38 -5h0m40 40h0m-35 -19h0m16 -9h0m-6 6h0m-3 -13h0m-1 2h0m-21 1h0m38 15h0m-29 -33h0m-16 16h0m19 3h0m23 8h0m-17 -4h0m7 -2h0m-13 2h0m34 17h0m16 0h0m-21 -26h0m-9 14h0m-24 0h0m-2 -8h0m-13 -22h0m30 38h0m-11 11h0m-5 -21h0m40 -10h0m13 32h0m-58 -36h0m0 -6h0m-1 4h0m15 5h0m-5 12h0m-3 -8h0m-8 2h0m23 24h0m38 5h0m-28 -11h0m15 -6h0m-44 -25h0m20 11h0m-31 -10h0m25 26h0m-16 -6h0m6 -13h0m24 7h0m-42 -13h0m52 18h0m-33 -13h0m1 -5h0m30 30h0m10 -11h0m-57 -38h0m29 34h0m0 2h0m-3 1h0m27 5h0m7 12h0m-46 -22h0m18 5h0m-25 -18h0m-4 1h0m-20 -21h0m61 31h0m13 16h0m-47 -20h0m-4 -9h0m32 5h0m21 33h0m-38 -25h0m-21 -9h0m-44 29h0m-79 -25h0m76 -21h0m-77 73h0m11 -7h0m-55 -61h0m148 33h0m-118 -3h0m49 22h0m7 5h0m-61 -57h0m56 51h0m56 -30h0m9 60h0m-151 -3h0m60 12h0m111 10h0m-132 -28h0m132 3h0m-98 12h0m-70 -3h0m150 15h0m-136 -20h0m150 23h0m28 -6h0m-211 -43h0m174 35h0m-10 10h0m-158 -29h0m22 1h0m-33 6h0m87 0h0m-56 -2h0m122 4h0m-39 9h0m-69 -18h0m-2 14h0m-1 -1h0m139 9h0m-122 -9h0m90 15h0m-40 -15h0m68 12h0m-2 0h0m-164 -22h0m15 7h0m168 5h0m-87 2h0m-101 -9h0m213 24h0m-14 -26h0m5 17h0m-65 2h0m-59 -5h0m95 -5h0m-55 -1h0m30 15h0m-159 -15h0m128 9h0m79 5h0m-61 -5h0m-99 -19h0m80 22h0m68 -18h0m-153 9h0m57 0h0m-60 -14h0m62 20h0m-98 -20h0m183 18h0m18 -20h0m-20 8h0m-14 13h0m-113 -18h0m110 20h0m54 -16h0m-141 -10h0m25 18h0m-6 -17h0m57 8h0m-69 -7h0m54 24h0m11 -4h0m41 13h0m-219 -28h0m13 39h0m-20 -36h0m30 16h0m-30 -4h0m45 -7h0m-51 9h0m8 11h0m50 -12h0m-33 1h0m12 -29h0m-4 45h0m-14 -41h0m11 6h0m-1 13h0m21 25h0m-11 -21h0m-24 -44h0m22 53h0m-34 -13h0m4 10h0m4 -16h0m43 4h0m-13 11h0m-7 10h0m2 -5h0m-2 -13h0m11 -29h0m-47 42h0m17 23h0m28 -47h0m-32 2h0m9 41h0m29 -22h0m-15 -48h0m-8 26h0m30 24h0m-47 -39h0m-5 27h0m35 10h0m-38 -13h0m32 19h0m-5 -12h0m8 23h0m-22 1h0m6 -51h0m12 -1h0m24 22h0m-25 -1h0m-23 -12h0m2 25h0m198 -9h0m12 15h0m-73 14h0m66 -36h0m-86 41h0m132 3h0m-45 -10h0m-35 -44h0m-27 32h0m50 15h0m-34 1h0m61 -1h0m-1 59h0m-54 -66h0m-46 11h0m-66 -35h0m113 1h0m-86 30h0m71 -6h0m65 -36h0m18 44h0m-71 3h0m45 -24h0m12 12h0m-59 5h0m37 -38h0m36 47h0m-22 -19h0m-17 -2h0m-101 -20h0m17 17h0m-17 6h0m134 40h0m-36 -43h0m20 -34h0m-14 50h0m-59 6h0m103 -13h0m-116 11h0m41 1h0m-52 -8h0m39 -4h0m95 8h0m-95 -56h0m108 61h0m-172 -29h0m36 48h0m127 -44h0m-83 20h0m-6 -32h0m-113 29h0m22 3h0m59 -22h0m62 14h0m-120 -33h0m44 13h0m85 24h0m-46 8h0m33 1h0m55 -32h0m-48 26h0m-123 -35h0m-27 13h0m145 -6h0m30 14h0m-51 1h0m-43 17h0m15 -24h0m25 50h0m-14 -19h0m65 -6h0m-67 -31h0m1 10h0m-21 10h0m97 -23h0m11 9h0m-81 -52h0m33 80h0m-8 -5h0m-122 -2h0m27 -23h0m33 -22h0m19 24h0m-20 12h0m64 103h0m-22 14h0m50 -6h0m-57 -46h0m68 -10h0m-78 33h0m32 1h0m-10 -1h0m19 -26h0m75 -53h0m-30 -37h0m15 37h0m3 -29h0m-9 -19h0m-8 29h0m3 10h0m-4 2h0m-10 -7h0m7 -14h0m14 -11h0m-19 35h0m30 -37h0m-32 -3h0m12 13h0m-31 -11h0m53 41h0m-2 10h0m-26 -31h0m55 -20h0m-23 10h0m-53 0h0m15 7h0m20 -18h0m0 24h0m10 -27h0m-17 24h0m6 16h0m6 -13h0m-2 -8h0m-13 11h0m22 -26h0m-25 31h0m24 -5h0m9 -21h0m24 6h0m-44 24h0m25 9h0m-23 -40h0m6 4h0m-20 32h0m12 -37h0m-26 41h0m31 -30h0m-17 20h0m-2 -29h0m23 19h0m-7 14h0m15 4h0m-12 -16h0m30 -1h0m-34 22h0m-22 -35h0m6 10h0m-4 19h0m18 -10h0m-34 -35h0m31 29h0m-4 3h0m11 -13h0m12 18h0m-24 -3h0m7 2h0m-54 -1h0m45 -15h0m6 -4h0m4 4h0m6 5h0m-8 9h0m4 1h0m-19 13h0m69 -53h0m-52 39h0m20 -23h0m-9 29h0m11 -14h0m7 25h0m-43 -15h0m18 -32h0m10 21h0m-6 25h0m-13 -39h0m-8 12h0m-6 -3h0m22 -3h0m17 -7h0m54 11h0m-64 -27h0m-5 55h0m0 -30h0m-10 -10h0m-33 -15h0m87 30h0m-55 25h0m21 -19h0m36 24h0m-53 -2h0m12 -7h0m-17 -13h0m40 1h0m-16 0h0m-9 16h0m-14 -36h0m15 81h0m-11 -47h0m-13 53h0m30 -54h0m-1 -7h0m31 84h0m-29 -98h0m2 14h0m33 2h0m-19 11h0m-24 -20h0m4 11h0m-20 -14h0m-18 22h0m11 -2h0m-10 3h0m36 -9h0m22 4h0m-17 64h0m24 -79h0m-35 -13h0m29 23h0m-34 0h0m-2 41h0m-43 -44h0m26 63h0m53 20h0m46 -101h0m-58 8h0" stroke="#d2573e" stroke-width="3.4" stroke-linecap="round"/>
<path d="M730 483h0m39 11h0m-76 -20h0m-11 7h0m23 2h0m-30 0h0m46 1h0m54 3h0m-35 -11h0m34 63h0m18 5h0m27 0h0m-4 15h0m-12 -7h0m-34 -6h0m13 1h0m18 15h0m-5 -23h0m-11 -1h0m11 4h0m-23 -14h0m40 31h0m10 18h0m-18 -18h0m-3 -20h0m-23 -14h0m19 27h0m-40 -24h0m80 24h0m-34 -13h0m-17 4h0m4 0h0m16 12h0m25 0h0m-44 -19h0m-8 -3h0m44 26h0m-20 -15h0m4 25h0m-15 -23h0m-11 -13h0m8 -1h0m19 24h0m-10 2h0m-16 -20h0m27 6h0m-16 -6h0m-14 -5h0m19 16h0m12 -2h0m-25 5h0m16 -9h0m-8 5h0m-5 -6h0m11 4h0m-32 -2h0m46 19h0m-34 -30h0m39 25h0m-46 -23h0m43 15h0m-15 12h0m-16 -25h0m-18 0h0m4 -8h0m-79 2h0m-2 3h0m-102 60h0m53 -13h0m141 34h0m-78 1h0m-57 -6h0m64 1h0m4 2h0m-122 -7h0m200 1h0m-97 2h0m68 8h0m-44 -2h0m-72 -17h0m87 9h0m-61 4h0m-66 -5h0m22 7h0m133 8h0m-73 -23h0m92 16h0m-143 -13h0m45 3h0m28 -13h0m-101 5h0m32 15h0m77 -2h0m72 17h0m-199 -28h0m32 2h0m-9 -9h0m174 10h0m9 15h0m-209 -11h0m161 11h0m-175 -15h0m17 8h0m111 -13h0m52 17h0m-121 -4h0m136 14h0m-41 -14h0m-164 -29h0m5 17h0m46 25h0m-31 -23h0m-3 -6h0m-35 -9h0m50 35h0m-57 9h0m-6 7h0m4 -43h0m37 31h0m-21 -22h0m8 -26h0m25 28h0m-38 41h0m19 -45h0m-10 -8h0m30 17h0m-11 -8h0m-9 47h0m140 1h0m5 -23h0m-71 -3h0m124 -11h0m-27 37h0m-90 -1h0m18 8h0m134 -10h0m0 35h0m-142 -9h0m25 -73h0m-30 40h0m-55 -20h0m36 -10h0m51 24h0m-111 -26h0m175 -6h0m-13 -3h0m54 51h0m-102 -29h0m67 -7h0m-42 58h0m3 -43h0m-22 5h0m-19 18h0m17 -49h0m69 36h0m32 -19h0m3 -15h0m-74 42h0m-15 5h0m24 35h0m-47 -89h0m-39 25h0m15 -5h0m-3 2h0m95 -1h0m-23 22h0m88 -28h0m-57 86h0m-26 12h0m27 27h0m-7 -39h0m-20 5h0m-54 16h0m108 -89h0m7 -24h0m-9 19h0m3 -14h0m20 -3h0m-53 16h0m76 -8h0m-59 30h0m4 -51h0m-5 30h0m-6 18h0m14 -20h0m12 14h0m-8 -34h0m6 35h0m-21 -20h0m-15 17h0m34 13h0m44 -30h0m-56 -24h0m0 34h0m12 4h0m-2 -18h0m0 -6h0m-4 20h0m5 -19h0m-26 31h0m21 -23h0m25 31h0m30 -12h0m-33 -7h0m29 8h0m-18 -44h0m-32 35h0m31 -10h0m-18 -21h0m-22 5h0m23 32h0m-28 -33h0m7 41h0m-8 -12h0m59 -17h0m-3 14h0m-35 16h0m-8 -45h0m19 45h0m-20 4h0m29 -39h0m-23 57h0m6 -30h0m48 10h0m-35 -2h0m-47 6h0m84 28h0m13 -30h0m-47 8h0m-3 -10h0m-19 5h0m-11 -36h0m5 83h0m13 -53h0m34 -71h0m6 34h0" stroke="#cb422c" stroke-width="3.4" stroke-linecap="round"/>
<path d="M538 597C538.5 594.8 538.5 587.8 541 584C543.5 580.2 546.5 578.7 553 574C559.5 569.3 569.2 562 580 556C590.8 550 606.7 544 618 538C629.3 532 638.2 526.3 648 520C657.8 513.7 668.2 504.2 677 500C685.8 495.8 692.2 494 701 495C709.8 496 721.7 501.8 730 506C738.3 510.2 744.5 515.7 751 520C757.5 524.3 761.5 527.7 769 532C776.5 536.3 788.8 542.2 796 546C803.2 549.8 807.7 552.2 812 555C816.3 557.8 819.2 560.2 822 563C824.8 565.8 827.8 570.5 829 572" fill="none" stroke="#5a5a5a" stroke-opacity="0.88" stroke-width="3.5" stroke-linecap="round"/>
<path d="M538 597C538.3 598.5 536.5 604 540 606C543.5 608 550.3 608 559 609C567.7 610 579.7 610.8 592 612C604.3 613.2 618.8 614.5 633 616C647.2 617.5 662.2 619.7 677 621C691.8 622.3 707.2 623 722 624C736.8 625 753.7 626 766 627C778.3 628 788.7 628.8 796 630C803.3 631.2 807.7 633.3 810 634" fill="none" stroke="#5a5a5a" stroke-opacity="0.88" stroke-width="3.5" stroke-linecap="round"/>
<path d="M563 606C566.8 607 579.3 607.5 586 612C592.7 616.5 597.7 624.7 603 633C608.3 641.3 612 652.2 618 662C624 671.8 631.7 684.5 639 692C646.3 699.5 650.7 703.8 662 707C673.3 710.2 695.7 711.5 707 711C718.3 710.5 722.7 708.7 730 704C737.3 699.3 743.5 689.2 751 683C758.5 676.8 767.2 670.2 775 667C782.8 663.8 792.2 664.3 798 664C803.8 663.7 808 664.8 810 665" fill="none" stroke="#5a5a5a" stroke-opacity="0.88" stroke-width="3.5" stroke-linecap="round"/>
<path d="M941 1054V1371H1323" fill="none" stroke="#111" stroke-width="1.6"/>
<path d="M941 1065h-3M941 1147h-3M941 1230h-3M941 1312h-3M1045 1371v3M1169 1371v3M1302 1371v3" stroke="#111" stroke-width="1.2"/>
<path d="M1118 1075h0m48 2h0m38 0h0m-91 10h0m52 -13h0m-37 4h0m23 -2h0m85 56h0m14 23h0m-23 -9h0m-13 -2h0m-12 -19h0m59 25h0m-47 8h0m2 -25h0m21 18h0m11 -13h0m-47 -5h0m41 3h0m-11 -7h0m2 -1h0m-22 3h0m-3 10h0m24 -7h0m1 12h0m-38 -19h0m44 17h0m-19 0h0m29 6h0m-17 -11h0m-8 5h0m32 19h0m-29 -33h0m3 17h0m-4 -10h0m1 -15h0m4 15h0m9 -2h0m-37 -16h0m-6 16h0m38 6h0m17 -7h0m0 14h0m-31 -12h0m3 13h0m-15 -16h0m55 24h0m-9 -15h0m-53 10h0m16 -15h0m10 15h0m-178 27h0m53 -59h0m31 -8h0m30 28h0m-89 7h0m-11 21h0m0 -10h0m42 -30h0m115 109h0m-187 -41h0m168 0h0m-119 0h0m80 27h0m10 6h0m-48 -15h0m98 21h0m-161 -33h0m33 -1h0m89 7h0m-82 -2h0m15 6h0m110 -2h0m-160 -12h0m82 13h0m-50 2h0m99 17h0m3 -5h0m-36 -4h0m-72 -22h0m109 20h0m-127 -12h0m119 -4h0m-173 -16h0m80 -8h0m106 52h0m-116 -23h0m125 29h0m-93 -20h0m87 -2h0m-12 20h0m-97 -22h0m-72 -45h0m168 68h0m-36 -20h0m-6 4h0m19 5h0m-60 -17h0m114 3h0m-62 4h0m-41 -5h0m-102 -17h0m181 -5h0m-11 34h0m-36 4h0m13 -7h0m-80 -24h0m78 30h0m-56 -9h0m-20 -12h0m126 5h0m-107 -17h0m98 19h0m-33 19h0m-137 -31h0m78 1h0m42 1h0m14 24h0m-2 -22h0m-65 -8h0m56 21h0m0 13h0m-86 -20h0m-23 -30h0m1 23h0m20 7h0m-6 -4h0m64 16h0m-33 -24h0m-82 -6h0m-24 0h0m58 2h0m-46 -3h0m5 9h0m22 0h0m-30 -6h0m6 -10h0m-3 6h0m-17 -17h0m3 18h0m9 3h0m-1 1h0m-12 -13h0m47 1h0m-35 15h0m-4 11h0m13 -16h0m5 4h0m-35 15h0m-12 -17h0m52 28h0m-11 -44h0m154 106h0m-26 3h0m-11 -80h0m-29 66h0m55 -75h0m-41 36h0m38 67h0m27 -101h0m-10 -1h0m-72 68h0m13 38h0m-60 -83h0m243 44h0m-129 -75h0m-5 47h0m-53 36h0m32 -17h0m-5 12h0m54 -50h0m-97 -3h0m70 78h0m-29 20h0m42 -114h0m3 89h0m28 3h0m-56 -119h0m67 150h0m-22 -42h0m-23 -36h0m-72 21h0m45 8h0m-37 -12h0m-31 -86h0m132 55h0m6 -20h0m36 54h0m-54 -11h0m-87 -30h0m40 71h0m-35 -110h0m12 52h0m47 -39h0m45 78h0m-98 -18h0m60 -39h0m-81 68h0m142 -74h0m-94 45h0m-76 -16h0m84 112h0m-15 -80h0m57 -56h0m14 -20h0m-109 49h0m-27 -14h0m72 47h0m64 13h0m-66 -1h0m-11 -88h0m-13 58h0m-1 33h0m40 -18h0m81 44h0m-192 -86h0m103 53h0m-28 12h0m64 29h0m-34 2h0m13 -73h0m22 97h0m-86 -58h0m113 34h0m-67 -54h0m-32 51h0m124 -42h0m-41 -1h0m-23 24h0m-57 -14h0m26 21h0m0 22h0m33 -33h0m-32 -7h0m3 -17h0m-45 45h0m68 -11h0m-15 -10h0m-17 3h0m39 5h0m-39 24h0m18 -18h0m59 34h0m-67 -27h0m-32 22h0m-7 -59h0m51 37h0m-15 -75h0m28 47h0m-33 26h0m-8 2h0m-19 -47h0m75 -37h0m72 -2h0m-34 41h0m-52 -44h0m73 47h0m-55 -77h0m24 15h0m7 33h0m56 -52h0m-80 35h0m29 4h0m-17 -44h0m-16 65h0m31 -5h0m-17 16h0m20 -96h0m-35 -4h0m47 50h0m-59 31h0m27 -45h0m21 62h0m-38 -69h0m19 70h0m20 -30h0m-11 9h0m-19 -13h0m39 46h0m-66 -48h0m13 28h0m25 -42h0m14 -14h0m0 93h0m6 -57h0m9 -21h0m7 2h0m6 -13h0m-86 34h0m27 -10h0m9 6h0m34 9h0m-10 -25h0m-6 35h0m16 -35h0m-21 36h0m38 -27h0m-25 -36h0m-11 6h0m9 19h0m-20 -18h0m-25 18h0m26 1h0m4 -20h0m-10 -10h0m39 32h0m-49 -4h0m-12 -17h0m-21 52h0m65 -37h0m-24 -43h0m24 59h0m-18 -25h0m10 -18h0m25 42h0m-43 -11h0m-6 -28h0m52 -11h0m-49 106h0m42 -96h0m13 15h0m-21 38h0m-29 -41h0m-21 5h0m50 26h0m-13 34h0m-36 -9h0m38 -6h0m27 -43h0m-4 -2h0m-7 37h0m-13 -17h0m27 11h0m-21 14h0m-57 -35h0m95 25h0m-57 23h0m29 -10h0m5 -28h0m-23 -41h0m-7 73h0m17 0h0m-16 -45h0m-1 0h0m8 -11h0m26 -2h0m-49 36h0m28 -23h0m-42 110h0m54 -93h0m-28 53h0m11 -65h0m-1 42h0m5 -7h0m36 -36h0m-46 38h0m7 -3h0m0 15h0m49 18h0m-65 -39h0m-1 -26h0m-13 -3h0m23 8h0m14 -33h0m9 63h0m-19 4h0m-34 -32h0m4 37h0m52 -50h0m-42 20h0m-1 53h0m8 -77h0m36 -22h0m-35 27h0m19 -14h0m-24 34h0m41 35h0m-30 -67h0m27 -18h0m-59 43h0m44 15h0m-11 -4h0m-37 25h0m43 12h0m-2 -35h0m24 -43h0m-50 46h0m25 -28h0m3 9h0m3 66h0m-10 -92h0m-2 65h0m-28 -59h0m22 10h0m12 41h0m-7 4h0m8 -68h0m17 -2h0m-4 33h0m-10 38h0m-2 -81h0m-14 43h0m-20 43h0m107 12h0m6 18h0m-12 1h0m-29 7h0m31 -105h0m-14 -16h0m14 64h0m-16 -59h0m-8 94h0m24 -100h0m-40 10h0m-1 32h0m1 1h0m15 0h0m39 59h0m-27 -86h0m15 6h0m-43 -9h0m54 104h0m-35 -50h0" stroke="#d2d2d2" stroke-width="3.4" stroke-linecap="round"/>
<path d="M1162 1076h0m-43 -4h0m71 16h0m8 -12h0m-56 4h0m62 -5h0m-43 0h0m27 5h0m-4 1h0m24 18h0m-109 -19h0m105 3h0m-55 -4h0m3 5h0m-22 -2h0m23 -6h0m-13 0h0m24 0h0m-37 2h0m-31 -3h0m115 5h0m-79 1h0m3 -6h0m31 -4h0m-59 4h0m6 7h0m83 -9h0m-5 10h0m-101 -1h0m55 -8h0m-42 2h0m40 8h0m-51 -4h0m104 -7h0m-80 6h0m44 -5h0m-24 9h0m-17 2h0m-17 0h0m94 -7h0m-44 -9h0m-45 10h0m7 -10h0m-13 6h0m89 -3h0m-10 3h0m-53 10h0m99 65h0m-7 -21h0m2 0h0m32 20h0m-15 1h0m11 8h0m-10 -18h0m-36 9h0m24 -23h0m-12 11h0m6 -15h0m-17 4h0m-10 -7h0m5 4h0m40 32h0m0 -15h0m12 29h0m-14 -43h0m-11 4h0m40 22h0m-37 -19h0m-19 -6h0m38 28h0m-28 -17h0m48 11h0m-31 -1h0m-10 -21h0m-24 15h0m55 19h0m-41 -23h0m39 0h0m-34 4h0m17 7h0m-33 -13h0m7 5h0m15 -6h0m34 18h0m-37 -5h0m-10 -14h0m13 16h0m-5 -20h0m-10 -12h0m16 39h0m-10 -18h0m-16 -9h0m27 14h0m6 20h0m12 -9h0m-63 -18h0m56 20h0m-34 -26h0m36 7h0m11 15h0m-41 -12h0m24 8h0m-5 7h0m-7 -8h0m12 19h0m4 -11h0m-6 -13h0m12 -2h0m-40 -18h0m20 27h0m29 -13h0m-39 2h0m27 10h0m-8 -10h0m-15 -5h0m19 13h0m6 -6h0m-34 -12h0m15 14h0m-11 -14h0m8 18h0m7 6h0m13 0h0m-11 -17h0m3 22h0m-8 -16h0m32 12h0m-21 -3h0m-4 -6h0m3 3h0m-18 -24h0m19 33h0m6 -2h0m-17 -12h0m-4 0h0m17 -14h0m1 27h0m10 8h0m-28 -34h0m26 19h0m-11 -1h0m12 -6h0m-24 -1h0m57 26h0m-65 -42h0m20 33h0m-6 -8h0m-26 -18h0m20 12h0m-6 -16h0m-12 13h0m39 11h0m15 28h0m5 -10h0m-17 -13h0m24 10h0m-48 -49h0m8 23h0m-11 -4h0m46 29h0m-47 -32h0m3 -4h0m-22 0h0m24 4h0m16 14h0m20 15h0m-32 -21h0m24 10h0m-10 -6h0m-120 -12h0m-15 33h0m-27 -20h0m-49 28h0m158 3h0m-129 -31h0m19 -28h0m40 69h0m-24 -21h0m-78 -33h0m164 42h0m-107 -55h0m-27 -13h0m118 29h0m-4 54h0m64 45h0m-215 -42h0m176 31h0m-66 -16h0m-35 -7h0m-31 7h0m123 7h0m-133 -53h0m74 57h0m55 -6h0m-38 -4h0m54 12h0m-82 -6h0m-8 -3h0m32 4h0m-49 -12h0m56 16h0m71 14h0m-2 -20h0m-72 -20h0m53 35h0m-39 -12h0m7 -16h0m-140 -26h0m78 40h0m-1 -13h0m-76 -3h0m206 31h0m-212 -41h0m196 39h0m-18 -10h0m-151 -13h0m37 -2h0m24 -14h0m32 11h0m0 18h0m71 14h0m-148 -30h0m-17 -6h0m54 13h0m-71 -7h0m101 -11h0m-5 13h0m12 7h0m-79 -31h0m34 15h0m39 12h0m-114 -16h0m28 7h0m135 24h0m-58 -34h0m-30 5h0m140 38h0m-136 -31h0m-29 8h0m-22 -23h0m184 31h0m-134 -20h0m49 -1h0m-67 -12h0m-43 14h0m-27 29h0m17 -13h0m-38 -21h0m41 18h0m-22 -16h0m19 26h0m4 -39h0m-21 30h0m-15 -48h0m-4 32h0m7 -3h0m-14 12h0m40 -28h0m-24 23h0m-19 27h0m48 -43h0m-25 9h0m26 -20h0m177 99h0m-66 -23h0m-38 20h0m117 70h0m-26 -73h0m-1 -70h0m-36 126h0m49 -26h0m-33 -91h0m-65 59h0m-6 20h0m58 -15h0m73 -26h0m-43 5h0m5 7h0m-18 -57h0m-2 38h0m-11 -51h0m-59 29h0m64 -33h0m-54 87h0m93 -33h0m-61 34h0m2 -76h0m41 52h0m-52 -31h0m-39 -57h0m14 42h0m11 10h0m-2 -11h0m33 37h0m35 39h0m-37 -10h0m22 -5h0m-33 49h0m10 -35h0m-24 -85h0m-9 107h0m65 -46h0m-80 -56h0m18 91h0m73 -14h0m-12 5h0m-123 -61h0m98 114h0m-56 -16h0m65 -138h0m-26 55h0m-17 63h0m-34 -75h0m41 48h0m33 75h0m54 -170h0m-133 50h0m158 15h0m-154 52h0m55 -24h0m-23 -11h0m-91 45h0m134 -37h0m-8 -32h0m-87 22h0m76 6h0m10 -20h0m-70 56h0m60 18h0m43 10h0m-4 5h0m49 -18h0m-19 -46h0m-5 55h0m-115 9h0m51 -37h0m2 49h0m-9 -15h0m3 -17h0m-15 -3h0m92 -21h0m-50 27h0m-16 18h0m28 -47h0m-24 58h0m67 -20h0m-95 16h0m22 -50h0m1 28h0m110 -105h0m-40 43h0m6 -17h0m-5 2h0m2 -17h0m7 84h0m-32 -95h0m56 -6h0m-25 24h0m-30 18h0m22 17h0m11 11h0m32 -49h0m-37 -7h0m11 37h0m-2 -22h0m-15 32h0m17 11h0m4 -29h0m-45 2h0m2 -14h0m51 11h0m8 -9h0m-21 11h0m25 2h0m-50 -50h0m8 39h0m-34 19h0m24 -70h0m35 42h0m-3 3h0m9 16h0m-49 -48h0m9 -2h0m33 -19h0m-23 85h0m4 -26h0m0 12h0m-4 -54h0m-10 14h0m4 95h0m-35 -21h0m43 -63h0m13 -1h0m10 -8h0m6 42h0m-46 -9h0m20 -12h0m-5 -21h0m12 -11h0m2 45h0m-12 -20h0m-2 41h0m-3 -39h0m21 51h0m-10 -33h0m1 9h0m-8 -5h0m-23 -21h0m32 -31h0m14 109h0m-53 -107h0m28 80h0m15 -53h0m-4 23h0m-15 -11h0m11 12h0m1 46h0m2 -25h0m-49 -39h0m11 -24h0m15 54h0m32 35h0m3 -125h0m2 59h0m-22 -18h0m4 16h0m-33 -15h0m26 27h0m6 -25h0m-17 22h0m41 -48h0m-40 72h0m21 -34h0m20 -45h0m-23 60h0m15 15h0m-33 -20h0m22 22h0m7 -67h0m15 21h0m-42 -7h0m6 11h0m28 16h0m-20 18h0m-4 2h0m7 4h0m16 -24h0m-39 40h0m50 -10h0m-62 -53h0m28 1h0m4 -4h0m21 26h0m-65 -20h0m3 56h0m38 -31h0m7 -12h0m-16 44h0m0 -37h0m2 13h0m25 23h0m8 -10h0m-25 -51h0m-24 55h0m24 -37h0m-14 13h0m-5 71h0m-2 -100h0m45 -36h0m-6 77h0m-5 12h0m-18 -22h0m-11 6h0m54 -1h0m3 72h0m22 -50h0m17 -83h0m13 -12h0m-49 44h0m43 -12h0m-39 88h0m-5 -18h0m16 -96h0m10 25h0m15 115h0m2 -46h0" stroke="#d8cbc8" stroke-width="3.4" stroke-linecap="round"/>
<path d="M1090 1080h0m39 -13h0m46 5h0m-4 5h0m-13 -8h0m26 5h0m9 2h0m-97 6h0m35 -12h0m34 4h0m37 9h0m-47 -1h0m13 1h0m-36 0h0m-41 6h0m33 -14h0m3 -2h0m70 3h0m-77 4h0m45 -6h0m-38 6h0m19 5h0m-36 -18h0m65 6h0m-51 3h0m-1 4h0m16 -11h0m1 7h0m47 1h0m-77 -10h0m57 13h0m-13 -4h0m-50 2h0m80 3h0m-47 -4h0m29 -8h0m0 7h0m-63 4h0m4 -8h0m81 -3h0m14 52h0m25 13h0m-27 -18h0m32 25h0m-21 -11h0m31 11h0m36 4h0m-41 12h0m3 -25h0m-42 14h0m30 11h0m-8 -19h0m-2 12h0m2 -27h0m6 29h0m18 -7h0m-39 -25h0m32 41h0m-16 -28h0m16 6h0m-34 -8h0m-3 4h0m14 8h0m-35 -19h0m4 -3h0m36 -2h0m24 40h0m-17 -8h0m17 -5h0m-26 1h0m1 -13h0m16 10h0m0 -4h0m-20 -1h0m22 4h0m-38 5h0m41 -2h0m13 10h0m-16 10h0m-10 -39h0m22 18h0m-8 5h0m-19 3h0m-2 -21h0m11 21h0m-11 -4h0m2 -3h0m-2 -11h0m-21 -14h0m0 19h0m60 11h0m-26 -11h0m15 -14h0m-30 10h0m27 -4h0m-40 5h0m21 22h0m30 -9h0m-17 -12h0m-3 1h0m-47 -5h0m41 17h0m-5 -4h0m-23 -19h0m30 4h0m-5 16h0m20 -2h0m-35 -29h0m18 14h0m24 35h0m-23 -22h0m21 0h0m-16 1h0m-20 -15h0m23 -1h0m-108 -14h0m52 36h0m-72 5h0m52 -3h0m-32 21h0m-73 6h0m-16 4h0m16 -75h0m-42 59h0m83 0h0" stroke="#dec4be" stroke-width="3.4" stroke-linecap="round"/>
<path d="M1192 1085h0m-89 1h0m45 -11h0m-55 5h0m23 -7h0m77 -3h0m-15 1h0m-1 1h0m-20 4h0m38 -2h0m-63 4h0m63 -4h0" stroke="#deada0" stroke-width="3.4" stroke-linecap="round"/>
<path d="M1140 1077h0m93 61h0m-22 9h0m16 -2h0m11 -5h0m27 21h0m-42 -14h0m-5 -12h0m16 7h0m-16 -10h0m-34 -10h0m-46 -15h0m-67 45h0m72 -38h0m-126 57h0m211 60h0m-198 -34h0m52 11h0m21 -21h0m-68 6h0m88 -6h0m73 48h0m-107 -36h0m-60 -4h0m174 28h0m3 1h0m-139 -24h0m-64 -4h0m116 3h0m110 33h0m-94 -16h0m-14 -1h0m-77 -15h0m-34 -16h0m81 26h0m40 13h0m-39 -29h0m116 38h0m-182 -61h0m85 43h0m-67 -51h0m184 72h0m-102 -24h0m-123 -38h0m130 29h0m-17 7h0m-14 -38h0m-79 34h0m-21 -6h0m-10 29h0m3 -19h0m-16 21h0m8 -40h0m-10 16h0m2 23h0m32 -17h0m-26 43h0m28 -43h0m37 -11h0m-37 10h0m-34 -18h0m8 -20h0m44 45h0m7 10h0m-25 -14h0m-1 4h0m-14 -19h0m-38 16h0m36 -5h0m-7 25h0m-22 -25h0m36 27h0m146 6h0m-52 49h0m57 2h0m2 -20h0m-70 -17h0m56 -17h0m36 21h0m-101 -14h0m98 69h0m-47 -56h0m28 35h0m-66 -10h0m69 -24h0m-15 29h0m-5 -67h0m80 65h0m-51 -76h0m-160 32h0m65 -6h0m105 75h0m-14 2h0m-40 -40h0m-69 -25h0m40 -21h0m57 99h0m79 -104h0m-18 33h0m-88 3h0m63 25h0m-147 -2h0m61 -2h0m47 55h0m-72 -48h0m85 -4h0m-90 29h0m98 -55h0m-130 31h0m139 -44h0m-62 11h0m44 -77h0m24 90h0m33 38h0m-18 44h0m31 -142h0m-159 110h0m110 -1h0m-68 -105h0m-36 139h0m-11 -104h0m88 34h0m-33 33h0m-24 -32h0m41 60h0m129 -132h0m-156 70h0m6 58h0m91 -102h0m20 54h0m-95 -6h0m-42 16h0m50 -157h0m-3 121h0m-28 -42h0m80 -30h0m-56 93h0m-60 -31h0m185 -62h0m-155 -12h0m64 41h0m-117 0h0m55 52h0m-62 -43h0m105 45h0m29 20h0m-46 -90h0m53 76h0m0 7h0m-37 -94h0m-54 52h0m5 20h0m-10 -47h0m-17 14h0m37 46h0m-40 -35h0m135 0h0m23 -37h0m-4 91h0m-123 -18h0m110 40h0m-93 -14h0m14 -21h0m22 -5h0m-16 -46h0m-43 52h0m41 -9h0m48 13h0m-56 -73h0m-36 5h0m8 -30h0m53 101h0m-36 -37h0m98 44h0m-93 26h0m71 -44h0m-158 30h0m219 -95h0m-70 64h0m-49 23h0m-78 -2h0m25 13h0m124 -37h0m-75 73h0m-14 -109h0m114 18h0m-61 -49h0m-73 61h0m82 22h0m-115 -30h0m19 9h0m85 37h0m-115 -31h0m85 -66h0m12 58h0m25 39h0m-52 -47h0m12 -9h0m4 18h0m38 8h0m-107 -9h0m93 -53h0m-69 31h0m87 16h0m-17 -14h0m62 12h0m-22 24h0m-71 -36h0m122 -13h0m-146 -13h0m69 -15h0m-5 26h0m-141 4h0m85 -27h0m125 137h0m-134 -31h0m68 -122h0m-60 86h0m58 -65h0m-49 99h0m11 -79h0m-22 -6h0m-58 57h0m26 4h0m154 -4h0m-110 -20h0m17 -32h0m-41 21h0m25 21h0m32 24h0m-21 -14h0m4 -31h0m82 -41h0m-137 0h0m73 15h0m-121 1h0m84 26h0m16 -30h0m24 30h0m-79 -44h0m104 49h0m-109 -7h0m81 61h0m21 -45h0m-12 -33h0m-25 45h0m24 -97h0m-49 65h0m31 22h0m87 -27h0m-127 -2h0m31 -56h0m94 59h0m-93 -7h0m52 49h0m-72 16h0m-9 -2h0m-7 21h0m75 -15h0m-25 2h0m25 1h0m-29 -20h0m-36 60h0m68 -33h0m-35 -11h0m-5 6h0m1 19h0m1 -31h0m3 0h0m5 -15h0m37 28h0m0 -27h0m-74 46h0m29 -39h0m-44 -3h0m73 3h0m-7 29h0m-28 -17h0m41 44h0m-21 -71h0m12 48h0m-43 -59h0m-7 28h0m37 42h0m6 -48h0m31 43h0m-48 2h0m-9 5h0m35 -70h0m0 22h0m-29 10h0m10 9h0m1 -31h0m-32 38h0m34 26h0m23 -26h0m-106 7h0m102 -11h0m-15 21h0m-49 -41h0m45 -17h0m-14 12h0m-3 19h0m-11 -11h0m-27 -19h0m34 44h0m15 16h0m-36 -60h0m88 20h0m-65 -32h0m58 68h0m-23 -14h0m17 -18h0m-12 30h0m-19 -60h0m-4 35h0m26 -9h0m9 -6h0m-65 24h0m36 -31h0m11 29h0m-11 5h0m-24 12h0m-73 -27h0m72 -14h0m-1 6h0m40 31h0m-33 -10h0m16 -44h0m-42 -4h0m18 43h0m-25 -62h0m45 66h0m-11 -6h0m-20 25h0m-36 -7h0m45 -25h0m9 21h0m30 -17h0m-32 -31h0m36 32h0m-43 -35h0m11 65h0m66 -47h0m-19 25h0m-42 -4h0m-11 23h0m42 14h0m-66 -35h0m110 5h0m-25 -94h0m46 27h0m-11 19h0m4 8h0m-29 1h0m30 -45h0m-20 -47h0m18 17h0m-1 24h0m-11 37h0m9 -10h0m-17 42h0m29 -49h0m11 24h0m-84 -44h0m73 44h0m-42 -32h0m19 -10h0m-32 27h0m22 15h0m-18 -37h0m11 16h0m51 -16h0m-21 12h0m18 -36h0m-35 -3h0m0 46h0m1 -67h0m34 38h0m-77 19h0m22 -28h0m35 18h0m-29 3h0m23 13h0m-3 -22h0m-17 17h0m2 -32h0m-14 71h0m30 -67h0m-3 20h0m-57 15h0m23 -80h0m18 92h0m43 -28h0m-19 12h0m0 11h0m-32 34h0m21 -50h0m-52 -45h0m82 62h0m-77 -33h0m41 13h0m30 -4h0m-6 7h0m-38 -10h0m30 -2h0m-56 24h0m80 4h0m-65 -11h0m117 10h0" stroke="#da6c50" stroke-width="3.4" stroke-linecap="round"/>
<path d="M1248 1152h0m-31 -26h0m3 13h0m13 9h0m-10 -12h0m34 27h0m-40 -41h0m-207 32h0m143 -30h0m14 -12h0m-51 32h0m64 -35h0m-4 118h0m-131 -23h0m172 -12h0m-170 9h0m91 -6h0m-96 -2h0m160 42h0m-1 0h0m-114 -27h0m-58 -6h0m87 17h0m-50 -29h0m58 30h0m-34 -17h0m19 3h0m-43 -11h0m4 9h0m74 4h0m57 18h0m-150 -36h0m0 -8h0m148 44h0m-118 -32h0m-39 12h0m72 0h0m59 25h0m-42 -23h0m-105 -19h0m108 30h0m-87 -22h0m26 10h0m28 7h0m-77 -19h0m36 1h0m153 40h0m-178 -33h0m3 -17h0m-6 -6h0m1 0h0m153 30h0m-179 -25h0m17 -2h0m120 33h0m-104 -57h0m-57 45h0m49 1h0m-41 -18h0m7 41h0m-11 -3h0m14 -19h0m27 -11h0m-30 -9h0m0 3h0m16 12h0m-40 18h0m25 4h0m-3 -3h0m-18 9h0m49 -42h0m1 39h0m-20 -15h0m-51 19h0m61 -13h0m-8 6h0m-20 -35h0m47 -1h0m-23 28h0m-20 -21h0m-21 18h0m57 -45h0m-41 42h0m4 -6h0m21 -36h0m-31 59h0m-20 -23h0m56 -28h0m-60 34h0m7 -8h0m56 -42h0m1 77h0m-23 -10h0m-2 12h0m40 -50h0m-15 13h0m-11 10h0m-14 -2h0m15 -1h0m-23 3h0m22 11h0m-32 -23h0m11 -8h0m6 8h0m33 20h0m68 65h0m3 -67h0m8 80h0m-4 10h0m-23 -39h0m-4 13h0m46 -77h0m61 94h0m-28 -52h0m-26 26h0m-14 0h0m-49 -38h0m190 -5h0m-138 85h0m98 -90h0m-65 47h0m-49 -47h0m39 110h0m-28 -54h0m-8 18h0m114 23h0m-105 -87h0m139 38h0m-109 21h0m24 -30h0m-143 40h0m77 -25h0m129 13h0m-33 -97h0m-89 91h0m53 10h0m107 -84h0m-90 37h0m-33 33h0m-28 -57h0m60 37h0m-33 24h0m56 -18h0m-125 -73h0m35 67h0m11 -82h0m121 52h0m-79 110h0m42 -20h0m-86 -12h0m92 -38h0m-77 74h0m-54 -114h0m91 11h0m-108 -13h0m183 -17h0m35 29h0m-222 8h0m126 25h0m-150 -79h0m8 129h0m83 -39h0m-56 -18h0m140 -102h0m-3 101h0m-90 -9h0m38 -12h0m-60 -16h0m35 65h0m-12 -101h0m29 57h0m-71 4h0m25 32h0m43 -28h0m51 13h0m37 13h0m-134 20h0m-47 -47h0m177 -33h0m-105 44h0m120 32h0m-50 -94h0m-35 46h0m-16 -26h0m-66 18h0m19 -60h0m69 112h0m-35 -51h0m53 47h0m-95 -30h0m90 -70h0m-108 123h0m49 -46h0m54 -5h0m-120 -102h0m113 164h0m-30 -68h0m36 93h0m27 -103h0m-17 34h0m-67 28h0m15 -74h0m-69 29h0m63 -91h0m0 54h0m36 43h0m8 -10h0m-19 -6h0m38 -37h0m-42 4h0m-26 65h0m49 -46h0m-154 -16h0m131 0h0m-45 37h0m-5 25h0m-26 -36h0m100 49h0m27 -53h0m-72 33h0m80 -25h0m-37 42h0m-59 -36h0m35 -75h0m-22 54h0m-19 -1h0m23 -3h0m78 -3h0m-159 112h0m22 -63h0m15 44h0m79 -114h0m-100 25h0m36 51h0m87 -33h0m-88 -29h0m-26 68h0m178 -33h0m-99 26h0m-1 70h0m121 -53h0m-174 8h0m44 -63h0m39 -5h0m54 18h0m-53 -30h0m64 53h0m-57 -27h0m-80 20h0m37 -35h0m-53 61h0m46 -73h0m35 -1h0m-75 47h0m52 64h0m-31 -75h0m46 -58h0m-23 126h0m-61 -120h0m108 34h0m42 32h0m-119 3h0m94 -44h0m-41 33h0m32 -6h0m-7 63h0m-10 -70h0m32 30h0m-77 -6h0m-74 -12h0m57 62h0m-9 -6h0m81 -29h0m-11 -58h0m11 36h0m-83 50h0m-25 -74h0m46 23h0m45 24h0m-38 -86h0m-118 21h0m160 57h0m-30 -5h0m-33 32h0m-30 -55h0m-30 -72h0m148 130h0m-149 -41h0m71 -64h0m3 58h0m-51 -28h0m0 -28h0m94 70h0m-106 0h0m14 -4h0m99 -77h0m-95 46h0m166 -12h0m-97 -12h0m-15 72h0m33 44h0m2 -80h0m-60 61h0m77 -71h0m-1 49h0m20 -8h0m-79 -56h0m12 -39h0m-68 126h0m71 -7h0m-16 -79h0m95 56h0m-136 -89h0m31 6h0m-27 39h0m62 -2h0m-97 -30h0m52 47h0m38 19h0m51 6h0m74 -67h0m-121 19h0m57 36h0m-12 -42h0m31 23h0m-78 -35h0m25 8h0m35 -11h0m-148 35h0m110 41h0m-22 -35h0m-71 -24h0m141 -27h0m-107 -8h0m1 126h0m-119 -106h0m199 78h0m-43 -14h0m-20 -25h0m89 -8h0m-78 24h0m-1 1h0m93 -16h0m-186 81h0m117 -65h0m65 -78h0m-141 69h0m16 -46h0m-37 9h0m-14 -16h0m156 107h0m-153 -102h0m65 3h0m83 31h0m-129 -41h0m33 10h0m36 74h0m0 -91h0m-15 31h0m130 4h0m-99 38h0m-35 -2h0m13 -11h0m51 -17h0m-41 76h0m-52 -31h0m27 22h0m7 -26h0m35 -13h0m-14 24h0m-10 -2h0m2 -25h0m3 38h0m31 -26h0m-29 16h0m17 24h0m-8 -2h0m51 -49h0m-69 38h0m-34 -22h0m55 21h0m60 -48h0m-53 42h0m-64 23h0m17 -70h0m18 27h0m-3 32h0m30 -41h0m15 60h0m-22 -35h0m-34 -19h0m6 -7h0m25 53h0m-2 5h0m36 8h0m-78 -61h0m-3 26h0m103 -19h0m-39 -6h0m15 61h0m-72 -28h0m59 -31h0m32 0h0m-77 35h0m8 -31h0m-2 35h0m-20 -3h0m63 0h0m-11 -8h0m-21 -28h0m5 36h0m16 -12h0m-33 -19h0m44 -7h0m-77 -30h0m62 80h0m6 12h0m-14 -34h0m46 -40h0m-43 37h0m-22 32h0m37 -26h0m-13 26h0m3 -20h0m17 -11h0m-62 3h0m73 -37h0m-45 51h0m52 -21h0m-29 20h0m-24 -27h0m51 3h0m-86 38h0m-4 -63h0m80 32h0m-42 30h0m68 12h0m-53 -58h0m-15 11h0m-19 3h0m69 14h0m-12 -3h0m-57 -11h0m5 -15h0m2 14h0m7 -11h0m32 -8h0m43 43h0m-137 -16h0m78 -1h0m1 38h0m39 -15h0m-70 -37h0m0 -4h0m57 43h0m-62 -3h0m36 -28h0m56 -19h0m-95 56h0m36 -11h0m39 -25h0m38 27h0m-96 -61h0m-12 78h0m3 -14h0m7 -65h0m27 40h0m25 -14h0m-28 8h0m-31 -34h0m-9 71h0m98 -42h0m-58 -24h0m37 49h0m-32 -18h0m35 4h0m-39 -12h0m10 -4h0m-25 21h0m48 -37h0m-18 43h0m8 -28h0m-59 18h0m58 11h0m-23 11h0m15 -12h0m-66 6h0m48 18h0m-23 -23h0m2 -42h0m27 47h0m-29 1h0m31 2h0m-18 3h0m73 -92h0m-9 -16h0m5 3h0m-30 89h0m42 -48h0m38 -15h0m-52 8h0m-8 -52h0m18 9h0m59 43h0m-53 -26h0m-23 7h0m-16 -4h0m4 -8h0m70 23h0m-46 11h0m-10 -12h0m1 0h0m-28 -30h0m49 -44h0m-28 42h0m7 29h0m49 -42h0m-52 43h0m11 -13h0m-36 0h0m20 4h0m19 -18h0m51 31h0m-60 29h0m-1 -20h0m0 -51h0m30 -65h0m-2 36h0m23 57h0m-7 21h0m-10 -12h0m-29 -1h0m5 24h0m-2 -38h0m17 24h0m-23 77h0m8 -81h0m19 -25h0m-37 64h0m22 -41h0m-36 58h0m22 -61h0m45 1h0m-8 2h0m-9 40h0m-9 -52h0m-19 17h0m-42 -81h0m21 68h0m38 -16h0m-15 -8h0m12 -6h0m16 28h0m-27 34h0m27 6h0m16 -45h0m-39 19h0m-8 -46h0m36 36h0m-39 1h0m49 -1h0m-23 -11h0m7 6h0m-8 8h0m17 -23h0m-24 9h0m-26 -11h0m9 20h0" stroke="#d2573e" stroke-width="3.4" stroke-linecap="round"/>
<path d="M1119 1082h0m2 -9h0m0 -1h0m123 65h0m3 18h0m36 12h0m-248 23h0m156 -79h0m-64 100h0m29 11h0m-90 -17h0m7 -8h0m-7 -4h0m57 -7h0m-73 20h0m77 3h0m-10 1h0m-101 -28h0m38 24h0m-6 -16h0m55 20h0m42 11h0m14 2h0m17 -5h0m-124 -10h0m54 -4h0m12 5h0m50 12h0m-92 -17h0m4 1h0m-34 0h0m107 21h0m-135 -12h0m12 21h0m-11 -48h0m26 -6h0m-52 30h0m-6 -33h0m-4 28h0m-4 -2h0m29 -8h0m8 12h0m-28 -3h0m-9 -1h0m6 -10h0m12 10h0m-21 8h0m55 -30h0m-25 25h0m25 -1h0m-25 -4h0m1 17h0m1 -34h0m-40 25h0m44 30h0m46 -52h0m128 -22h0m16 95h0m-16 42h0m-12 -42h0m-39 -30h0m74 86h0m-74 -75h0m-79 -31h0m15 24h0m137 71h0m-64 -45h0m51 -65h0m-29 0h0m-112 99h0m156 -1h0m-116 -69h0m-4 90h0m13 -49h0m121 39h0m-55 -112h0m-58 54h0m11 8h0m29 -51h0m-19 45h0m48 -38h0m32 -1h0m-60 -23h0m-35 1h0m-4 53h0m-42 36h0m59 10h0m-75 -15h0m170 27h0m-77 -37h0m-68 -20h0m58 72h0m33 -68h0m-84 -28h0m29 -10h0m42 54h0m22 -32h0m44 -22h0m-192 3h0m138 73h0m-44 -44h0m65 -16h0m-93 71h0m56 -57h0m84 -13h0m-125 -30h0m-147 15h0m162 32h0m-35 -47h0m42 34h0m88 26h0m-75 -10h0m86 30h0m-111 -37h0m54 60h0m-31 0h0m55 -44h0m51 59h0m-106 -79h0m-75 29h0m99 6h0m-42 27h0m44 -8h0m34 5h0m-49 -14h0m77 -58h0m-75 86h0m22 -59h0m-75 42h0m84 18h0m-7 -19h0m-68 -42h0m122 15h0m-98 -28h0m120 99h0m-14 -29h0m-78 -41h0m8 -13h0m-37 46h0m-26 41h0m-76 -91h0m145 -27h0m11 56h0m-18 -37h0m-27 -25h0m123 8h0m-183 41h0m44 -24h0m3 1h0m-89 45h0m39 7h0m44 0h0m66 -63h0m-63 6h0m-37 35h0m98 8h0m-34 -42h0m-11 69h0m-3 -9h0m-48 -9h0m180 -59h0m-94 37h0m58 12h0m-152 0h0m46 -42h0m-96 71h0m90 -18h0m16 -74h0m-24 146h0m31 -191h0m-2 114h0m21 38h0m50 2h0m-44 -69h0m-131 -44h0m-7 38h0m120 51h0m-63 -55h0m115 36h0m-94 -31h0m-35 16h0m64 -29h0m3 19h0m-21 -21h0m22 -39h0m-15 101h0m67 -25h0m-101 -50h0m27 -28h0m-2 97h0m-13 -65h0m35 31h0m-1 93h0m-3 -48h0m62 -65h0m-92 75h0m35 15h0m-14 -25h0m-38 28h0m84 -6h0m-96 -28h0m81 -2h0m-37 27h0m-2 -3h0m46 24h0m-64 -32h0m91 -31h0m-59 68h0m-12 -47h0m45 7h0m40 5h0m-55 18h0m-13 -30h0m29 0h0m-7 -8h0m-25 2h0m10 42h0m-24 -43h0m47 23h0m-54 -50h0m2 45h0m23 -17h0m-20 11h0m27 -2h0m8 6h0m2 26h0m34 -47h0m0 11h0m-49 3h0m15 -39h0m-16 42h0m-23 -40h0m50 78h0m-55 -44h0m-2 19h0m63 -1h0m-26 -16h0m-32 -5h0m44 7h0m43 39h0m-12 -45h0m-32 0h0m-32 37h0m42 -33h0m-38 17h0m-2 -26h0m-10 33h0m86 8h0m-70 -35h0m15 17h0m-39 -29h0m41 20h0m-4 -10h0m83 -38h0m-35 -29h0m9 71h0m-19 -43h0m51 -32h0m-42 78h0m-3 -60h0m-12 11h0m-2 -38h0m39 56h0m43 -25h0m-51 11h0m-27 -51h0m50 15h0m-3 -10h0m-19 63h0m17 -31h0m-73 20h0m15 -21h0m53 11h0m-12 -24h0m30 22h0m15 -37h0m-52 10h0m-9 -13h0m21 42h0m-39 -39h0m35 57h0m-2 -2h0m16 -8h0m-3 -11h0m6 18h0m47 14h0" stroke="#cb422c" stroke-width="3.4" stroke-linecap="round"/>
<path d="M968 1186C969 1183 969.5 1173 974 1168C978.5 1163 987 1159.8 995 1156C1003 1152.2 1013.7 1149.2 1022 1145C1030.3 1140.8 1037.2 1136.5 1045 1131C1052.8 1125.5 1061.2 1118.2 1069 1112C1076.8 1105.8 1082.7 1099 1092 1094C1101.3 1089 1115 1083 1125 1082C1135 1081 1143 1083.7 1152 1088C1161 1092.3 1170.5 1101.7 1179 1108C1187.5 1114.3 1195.2 1120.8 1203 1126C1210.8 1131.2 1219.5 1135.5 1226 1139C1232.5 1142.5 1237.5 1144.5 1242 1147C1246.5 1149.5 1250.2 1151.8 1253 1154C1255.8 1156.2 1257.5 1158 1259 1160C1260.5 1162 1261.5 1165 1262 1166" fill="none" stroke="#5a5a5a" stroke-opacity="0.88" stroke-width="3.5" stroke-linecap="round"/>
<path d="M968 1186C968.5 1187.5 968 1192.8 971 1195C974 1197.2 979.5 1197.8 986 1199C992.5 1200.2 1002.2 1201.2 1010 1202C1017.8 1202.8 1024.2 1202.3 1033 1204C1041.8 1205.7 1053.2 1209.7 1063 1212C1072.8 1214.3 1082.2 1216 1092 1218C1101.8 1220 1111.7 1221.8 1122 1224C1132.3 1226.2 1144.2 1228.8 1154 1231C1163.8 1233.2 1173.5 1235.7 1181 1237C1188.5 1238.3 1191.7 1238.5 1199 1239C1206.3 1239.5 1217.7 1238.5 1225 1240C1232.3 1241.5 1240 1246.7 1243 1248" fill="none" stroke="#5a5a5a" stroke-opacity="0.88" stroke-width="3.5" stroke-linecap="round"/>
<path d="M987 1194C990.8 1195.7 1003.3 1200.5 1010 1204C1016.7 1207.5 1022.2 1210.2 1027 1215C1031.8 1219.8 1035 1226 1039 1233C1043 1240 1046 1249 1051 1257C1056 1265 1062.2 1275.2 1069 1281C1075.8 1286.8 1082.2 1289.2 1092 1292C1101.8 1294.8 1119 1298 1128 1298C1137 1298 1141.3 1294.2 1146 1292C1150.7 1289.8 1151 1289 1156 1285C1161 1281 1169.5 1272 1176 1268C1182.5 1264 1186.8 1263 1195 1261C1203.2 1259 1217 1257 1225 1256C1233 1255 1240 1255.2 1243 1255" fill="none" stroke="#5a5a5a" stroke-opacity="0.88" stroke-width="3.5" stroke-linecap="round"/>
<path d="M941 1417V1734H1323" fill="none" stroke="#111" stroke-width="1.6"/>
<path d="M941 1428h-3M941 1510h-3M941 1593h-3M941 1675h-3M1045 1734v3M1169 1734v3M1302 1734v3" stroke="#111" stroke-width="1.2"/>
<path d="M1207 1444h0m-116 0h0m111 -5h0m-80 -5h0m46 0h0m-77 2h0m134 44h0m30 24h0m-40 4h0m78 20h0m-65 -44h0m14 25h0m-25 -18h0m29 37h0m-47 -42h0m62 37h0m6 13h0m-59 -31h0m-3 -14h0m11 10h0m25 21h0m-14 -18h0m1 -9h0m-9 2h0m54 29h0m-39 -30h0m12 16h0m-7 -21h0m-11 1h0m-24 15h0m38 1h0m-38 -14h0m10 -10h0m3 17h0m15 3h0m19 -5h0m-17 6h0m-6 -13h0m17 28h0m-46 -38h0m21 22h0m-2 -18h0m19 28h0m31 6h0m-33 -10h0m-44 -29h0m64 37h0m-8 11h0m18 6h0m-57 -41h0m49 18h0m-2 -3h0m0 -4h0m-29 10h0m-12 -17h0m0 -4h0m21 14h0m25 13h0m-44 -22h0m25 18h0m23 25h0m-24 -18h0m5 -2h0m27 2h0m-82 -43h0m43 51h0m-14 -29h0m1 2h0m-60 30h0m13 -10h0m-122 -13h0m91 6h0m-140 2h0m112 -41h0m-56 -4h0m153 94h0m-172 -2h0m-31 -17h0m203 31h0m-2 -13h0m-83 1h0m19 2h0m-36 -1h0m52 -14h0m17 -3h0m-148 -11h0m67 24h0m80 9h0m-167 -37h0m148 37h0m-156 -27h0m225 29h0m-14 -12h0m-43 9h0m-130 -43h0m-25 22h0m47 7h0m118 5h0m-60 -8h0m-44 4h0m120 12h0m-115 -4h0m148 2h0m-125 -2h0m95 -8h0m6 23h0m-158 -55h0m13 42h0m23 -11h0m46 0h0m55 20h0m-66 -9h0m53 8h0m-139 -18h0m101 17h0m19 1h0m11 -1h0m-66 -25h0m131 22h0m-59 6h0m-135 -24h0m96 5h0m-60 -3h0m131 14h0m13 1h0m-32 1h0m-70 -10h0m95 9h0m-84 -16h0m-1 8h0m-30 -15h0m102 21h0m-162 -16h0m14 11h0m127 0h0m53 13h0m-43 -12h0m-43 8h0m-108 -21h0m-29 5h0m179 18h0m-152 -28h0m-26 33h0m-2 -19h0m27 -6h0m-42 -7h0m7 25h0m-12 -23h0m-15 2h0m59 -11h0m-37 -7h0m37 32h0m-9 -16h0m-12 -20h0m-21 16h0m-9 -11h0m16 17h0m11 42h0m-12 -33h0m15 41h0m-27 -42h0m-7 -21h0m46 -4h0m-27 6h0m1 3h0m41 43h0m-34 -18h0m25 -17h0m92 67h0m57 -9h0m9 -49h0m4 60h0m-38 -14h0m53 29h0m-117 -45h0m39 64h0m13 -137h0m-47 80h0m117 49h0m-154 -47h0m181 -67h0m-79 89h0m-86 71h0m67 -84h0m27 -61h0m-34 110h0m20 -63h0m-55 -38h0m67 5h0m-53 38h0m54 25h0m-82 -2h0m77 42h0m-18 49h0m17 -10h0m-4 -113h0m-3 21h0m29 1h0m-57 33h0m70 -48h0m-110 -2h0m125 12h0m-73 -53h0m-45 115h0m45 -70h0m-68 82h0m84 -27h0m51 -40h0m75 31h0m-128 -116h0m-49 29h0m41 78h0m-81 16h0m81 -48h0m30 1h0m-4 -2h0m-63 26h0m83 57h0m-23 -71h0m-10 -63h0m-104 75h0m183 -35h0m-64 21h0m-1 -92h0m-69 150h0m-45 -86h0m88 42h0m62 -25h0m-19 -51h0m-93 73h0m95 -14h0m-69 -39h0m43 43h0m105 24h0m-171 38h0m-4 -9h0m91 -31h0m-30 17h0m-18 49h0m20 -11h0m12 20h0m12 -51h0m-38 -2h0m9 10h0m-19 31h0m9 -30h0m21 34h0m17 -50h0m-53 25h0m60 -14h0m7 6h0m-70 -28h0m58 53h0m-27 -25h0m49 4h0m12 -17h0m-80 -7h0m-1 -1h0m25 -32h0m-17 29h0m103 -63h0m-6 1h0m-39 -2h0m19 -17h0m1 14h0m-4 -7h0m34 0h0m4 -26h0m-31 43h0m30 25h0m-9 9h0m-24 -51h0m-11 -9h0m-5 14h0m2 -9h0m-10 13h0m30 1h0m-11 -46h0m62 29h0m-56 -9h0m-1 16h0m9 -13h0m-13 5h0m26 24h0m-51 -9h0m55 -5h0m-20 23h0m6 -27h0m41 17h0m-59 -69h0m14 58h0m-36 -27h0m45 74h0m-40 -48h0m34 1h0m-18 -19h0m8 9h0m-16 -4h0m39 6h0m26 25h0m-35 -22h0m12 34h0m-47 2h0m32 -44h0m11 5h0m-5 -7h0m-27 33h0m21 -58h0m17 51h0m-12 6h0m8 -23h0m-23 -24h0m-40 4h0m42 38h0m-4 -18h0m-25 39h0m-11 -56h0m28 28h0m-42 -17h0m56 26h0m18 5h0m-18 -37h0m-4 16h0m37 -1h0m-62 -20h0m81 -15h0m-31 18h0m-38 10h0m-15 -14h0m16 11h0m33 8h0m-28 21h0m47 -38h0m-11 0h0m-14 6h0m-8 45h0m8 -56h0m-36 -7h0m26 67h0m1 -35h0m16 20h0m-47 -29h0m42 17h0m4 -24h0m32 -4h0m-62 46h0m-12 -15h0m17 -10h0m8 31h0m-2 -26h0m11 11h0m6 8h0m-37 -36h0m4 32h0m26 -56h0m-11 31h0m22 -13h0m-12 38h0m-6 17h0m24 -26h0m-15 18h0m17 -39h0m-25 -23h0m-1 36h0m20 11h0m14 -8h0m-51 6h0m52 -2h0m-15 -9h0m-18 8h0m-16 -62h0m29 64h0m-13 14h0m-13 37h0m52 -47h0m-41 -59h0m7 20h0m-27 22h0m31 8h0m-32 3h0m23 -5h0m-3 -5h0m22 9h0m-50 -12h0m37 28h0m5 -14h0m-11 -9h0m10 -13h0m5 19h0m18 -23h0m-48 -7h0m35 91h0m-1 -90h0m-11 10h0m-20 -5h0m35 42h0m-40 0h0m34 -35h0m-19 -7h0m-22 27h0m3 -31h0m25 38h0m22 -29h0m-7 -19h0m-33 28h0m34 -9h0m-9 -13h0m-26 17h0m23 14h0m-19 25h0m-25 -40h0m-7 12h0m61 -1h0m-6 -12h0m6 47h0m-31 -34h0m32 4h0m-43 -1h0m8 -32h0m40 26h0m-24 1h0m9 70h0m-5 -34h0m33 42h0m-39 -64h0m27 4h0m-46 7h0m43 43h0m-34 -19h0m18 35h0m-46 -78h0m54 47h0m-45 3h0m8 32h0m-11 -26h0m39 -7h0m-28 26h0m29 -77h0m-35 47h0m42 -49h0m6 70h0m-37 -1h0m3 -47h0m23 34h0m29 -9h0m-63 -42h0m-1 33h0m50 -17h0m-20 28h0m21 -3h0m16 13h0m-61 -54h0m-4 75h0m6 -54h0m-18 13h0m73 -1h0m-41 33h0m-3 -3h0m32 -17h0m3 34h0m-14 -47h0m-7 4h0m16 15h0m-22 -45h0m-16 39h0m26 -16h0m4 10h0m-13 0h0m6 37h0m11 -13h0m-4 -59h0m-15 -17h0m26 46h0m-42 -7h0m6 35h0m21 -15h0m-19 -13h0m26 25h0m-33 -40h0m-7 64h0m31 -37h0m-9 6h0m11 5h0m29 -25h0m-52 -13h0m30 -16h0m-23 43h0m-9 -2h0m48 -36h0m-21 -1h0m-30 -3h0m-9 19h0m45 37h0m-31 -11h0m37 -56h0m-35 37h0m25 31h0m-13 23h0m7 -93h0m37 36h0m-46 1h0m12 -4h0m-38 -7h0m28 46h0m-22 -18h0m45 26h0m-56 -45h0m66 37h0m-26 19h0m-9 -12h0m-6 -38h0m13 -12h0m-49 8h0m49 33h0m11 -46h0m-2 6h0m6 20h0m-63 13h0m43 0h0m17 -31h0m-31 9h0m48 -18h0m-11 68h0m-11 -36h0m-25 -25h0m-12 25h0m15 -17h0m-5 -13h0m-25 47h0m38 -53h0m-1 65h0m33 -60h0m-21 -31h0m-35 98h0m-50 -75h0m94 40h0m-7 -5h0m28 -11h0m1 20h0m-74 -51h0m51 37h0m3 -19h0m-10 43h0m10 -1h0m-27 2h0m14 -6h0m31 -15h0m3 38h0m-61 -65h0m2 65h0m82 -121h0m-14 21h0m3 68h0m-19 -77h0m-5 -3h0m38 55h0m-24 72h0m41 -97h0m-3 62h0m-53 -102h0m-3 126h0m-6 5h0m27 -88h0m12 -29h0m-14 58h0" stroke="#d2d2d2" stroke-width="3.4" stroke-linecap="round"/>
<path d="M1122 1436h0m-11 1h0m84 3h0m1 -2h0m-38 1h0m41 -3h0m-46 -8h0m11 13h0m-37 -2h0m29 4h0m-43 1h0m17 -5h0m-25 4h0m63 -5h0m11 0h0m-55 -7h0m86 16h0m-111 -6h0m74 -3h0m-9 0h0m-69 0h0m69 -2h0m3 4h0m39 -4h0m-111 6h0m111 2h0m-5 -9h0m-20 0h0m-55 -3h0m67 11h0m-107 -3h0m36 4h0m17 -7h0m38 4h0m-60 -3h0m85 15h0m-6 -17h0m-29 3h0m32 6h0m-64 2h0m43 -7h0m23 6h0m-29 -4h0m103 89h0m-61 -30h0m31 8h0m2 -16h0m-33 18h0m35 15h0m-50 -33h0m22 19h0m-3 -13h0m21 16h0m0 1h0m33 9h0m10 6h0m-43 -26h0m-1 -8h0m-31 -17h0m36 36h0m-26 -12h0m6 -22h0m21 48h0m14 3h0m3 -19h0m-27 -10h0m-24 -26h0m12 41h0m3 -15h0m-36 -35h0m34 51h0m4 -31h0m4 31h0m12 -4h0m-20 -27h0m35 19h0m29 13h0m-36 -28h0m-14 16h0m15 17h0m-10 -1h0m-28 -22h0m27 10h0m-35 -43h0m17 28h0m-1 0h0m32 22h0m-7 -18h0m-42 -3h0m30 6h0m-57 -22h0m32 14h0m10 2h0m40 29h0m-30 -38h0m39 41h0m-18 -20h0m-9 5h0m8 20h0m-17 -23h0m-22 -7h0m-7 -14h0m22 14h0m-5 -8h0m40 14h0m-36 -18h0m6 -1h0m49 29h0m-78 -34h0m15 13h0m-5 18h0m15 -23h0m13 4h0m-11 -5h0m19 33h0m-29 -45h0m17 21h0m35 23h0m-29 -41h0m-11 23h0m1 -3h0m19 11h0m-2 -2h0m-23 1h0m21 -3h0m2 -5h0m-58 -9h0m14 3h0m29 -1h0m-34 -22h0m26 32h0m37 15h0m-43 -36h0m4 29h0m29 8h0m-33 -21h0m61 24h0m-42 -14h0m-123 15h0m-27 -38h0m-87 45h0m2 -25h0m139 -34h0m-65 57h0m97 -54h0m-29 2h0m-32 49h0m43 -59h0m36 21h0m-114 13h0m30 40h0m-47 -1h0m-18 14h0m179 -17h0m-104 19h0m71 6h0m33 4h0m-148 -8h0m80 11h0m-141 -15h0m163 14h0m13 -8h0m-129 -13h0m-55 4h0m84 5h0m-66 -3h0m15 -3h0m123 -3h0m-93 5h0m141 4h0m-120 -17h0m83 17h0m-135 -3h0m114 19h0m-57 -10h0m37 -2h0m98 16h0m-192 -26h0m175 14h0m-44 8h0m-136 -17h0m170 11h0m4 11h0m15 0h0m-26 0h0m4 -8h0m-117 -6h0m120 7h0m-99 -5h0m63 2h0m-14 4h0m-42 -8h0m-49 1h0m119 -17h0m-12 10h0m-124 -13h0m27 7h0m104 1h0m4 3h0m15 1h0m-29 7h0m-33 4h0m56 5h0m14 -1h0m-36 -13h0m41 3h0m-124 -18h0m73 14h0m-78 2h0m111 7h0m-186 -19h0m-3 4h0m-12 13h0m8 -10h0m-27 -18h0m50 40h0m-53 -13h0m14 -6h0m-8 -42h0m22 35h0m-10 17h0m-9 -24h0m1 44h0m44 -10h0m-68 -33h0m50 9h0m-40 2h0m58 -4h0m-14 2h0m-11 -2h0m-24 15h0m18 8h0m195 -24h0m-51 -10h0m-34 89h0m29 -6h0m-56 -70h0m-9 126h0m156 -78h0m-52 20h0m-28 67h0m27 -80h0m-104 -7h0m170 60h0m-103 17h0m33 -6h0m-86 -133h0m43 84h0m-11 -61h0m55 -34h0m-89 53h0m73 64h0m4 -106h0m79 167h0m-79 -72h0m-31 -1h0m-18 -27h0m-50 -36h0m175 31h0m-94 12h0m-40 1h0m66 -1h0m3 -22h0m-15 -55h0m87 118h0m-48 -48h0m-96 -25h0m61 48h0m67 -31h0m8 1h0m-110 47h0m120 12h0m-144 -9h0m56 -65h0m89 -30h0m-119 110h0m124 -45h0m-46 -105h0m-123 74h0m113 78h0m59 -7h0m-109 -66h0m121 -27h0m-64 30h0m-102 73h0m40 12h0m-39 -23h0m89 43h0m-55 -31h0m-14 -17h0m45 21h0m-10 27h0m-10 -84h0m-18 -1h0m18 41h0m-8 -27h0m50 58h0m-9 -6h0m-9 -2h0m-22 -37h0m16 -2h0m95 45h0m-130 22h0m18 -48h0m2 -4h0m10 -18h0m-54 32h0m116 15h0m18 -10h0m-13 9h0m5 -108h0m36 11h0m-23 4h0m-37 -2h0m42 13h0m-38 -28h0m17 -8h0m-3 -16h0m2 31h0m12 26h0m-7 -34h0m-26 -55h0m28 68h0m21 -50h0m-56 35h0m17 -2h0m11 -15h0m-44 35h0m41 4h0m-1 -23h0m32 18h0m-20 -9h0m-38 25h0m55 -12h0m-2 -20h0m-28 4h0m-11 21h0m30 4h0m19 -56h0m-40 41h0m39 6h0m-34 -30h0m9 6h0m5 33h0m-10 -38h0m-41 -6h0m52 23h0m-23 -8h0m38 5h0m12 -4h0m-19 -26h0m17 35h0m-67 7h0m31 24h0m-2 -58h0m-5 18h0m-23 16h0m13 -17h0m-16 15h0m19 -29h0m-29 -9h0m78 13h0m-35 26h0m13 34h0m-11 -40h0m0 15h0m30 -43h0m-16 31h0m-19 -35h0m13 4h0m2 26h0m-7 -27h0m9 31h0m-9 -6h0m-10 35h0m0 -32h0m0 -30h0m-9 -20h0m24 21h0m-26 -9h0m18 50h0m13 -2h0m-34 -23h0m2 13h0m-13 -5h0m22 14h0m11 -28h0m-24 4h0m-7 -22h0m54 62h0m-14 -20h0m-17 7h0m21 -23h0m6 -32h0m0 62h0m-34 2h0m25 -45h0m-11 -6h0m-14 34h0m40 -17h0m-47 -9h0m25 1h0m11 4h0m6 2h0m-17 -26h0m-14 46h0m-14 -32h0m27 42h0m-49 -15h0m38 -23h0m23 27h0m-30 -21h0m-13 40h0m20 -45h0m33 -4h0m-10 13h0m-12 -1h0m-21 31h0m13 -19h0m15 -18h0m14 36h0m-44 -23h0m57 1h0m-32 -17h0m24 -21h0m-33 44h0m25 -1h0m-45 -8h0m18 19h0m1 17h0m1 -9h0m-14 -27h0m7 30h0m6 -8h0m-34 -17h0m42 19h0m6 7h0m-15 -56h0m11 41h0m-6 -12h0m-31 -7h0m24 4h0m13 18h0m7 -20h0m-56 -26h0m68 48h0m-60 -53h0m38 5h0m-33 24h0m53 24h0m-65 -16h0m28 -6h0m10 20h0m26 -19h0m-61 33h0m14 -11h0m47 -15h0m-6 -11h0m-56 9h0m76 38h0m-18 -8h0m15 -20h0m-44 17h0m0 10h0m-5 48h0m19 -60h0m15 30h0m-11 -31h0m-9 29h0m-13 -63h0m14 33h0m15 13h0m-9 13h0m0 -10h0m-20 -37h0m65 19h0m-58 24h0m15 -12h0m20 55h0m-5 -1h0m-20 -17h0m-4 -32h0m-17 9h0m44 20h0m6 2h0m26 -22h0m-27 -2h0m-45 -8h0m36 8h0m-4 42h0m-5 -71h0m-31 6h0m28 -26h0m-26 61h0m60 -11h0m-53 -26h0m22 47h0m0 -27h0m7 6h0m-47 -16h0m66 0h0m-8 -10h0m-2 20h0m-46 28h0m9 -60h0m32 35h0m-45 25h0m46 -19h0m-12 1h0m23 -9h0m-42 2h0m-25 13h0m26 -17h0m-6 23h0m50 2h0m-38 -5h0m22 -8h0m-9 -8h0m-9 -5h0m-31 39h0m32 -37h0m25 -16h0m21 22h0m-35 -15h0m-3 17h0m-35 -10h0m54 -1h0m-50 -7h0m34 -25h0m-17 56h0m18 1h0m-38 0h0m-13 4h0m51 -85h0m-17 47h0m15 33h0m-51 -35h0m2 9h0m37 -3h0m15 -6h0m-30 -17h0m15 34h0m3 19h0m9 -23h0m-54 -36h0m68 94h0m32 -32h0m-26 33h0m23 -27h0m-14 23h0m-23 -39h0m64 14h0m-6 13h0m-17 -117h0m-22 47h0m-5 -69h0m2 166h0m49 -107h0m-53 87h0m22 13h0m25 -78h0" stroke="#d8cbc8" stroke-width="3.4" stroke-linecap="round"/>
<path d="M1117 1445h0m73 -6h0m-18 3h0m22 3h0m2 6h0m-3 -5h0m-99 1h0m121 -5h0m-58 -6h0m-19 -4h0m54 9h0m-56 -2h0m-32 12h0m36 -18h0m-23 6h0m98 14h0m-52 -17h0m28 -4h0m-66 12h0m76 -3h0m-94 5h0m40 -7h0m-17 -1h0m58 3h0m-89 9h0m89 -20h0m-33 11h0m44 1h0m-16 -9h0m5 12h0m-80 -5h0m26 3h0m75 -3h0m-78 0h0m47 -4h0m-70 11h0m49 -17h0m54 8h0m-90 13h0m82 -6h0m81 79h0m-40 -9h0m-26 -16h0m17 7h0m-7 -7h0m-34 6h0m45 14h0m-29 -34h0m42 15h0m-13 21h0m16 -10h0m-58 -8h0m28 1h0m19 20h0m-30 -21h0m-7 -3h0m18 7h0m41 20h0m-37 -22h0m-1 2h0m-9 -9h0m8 15h0m-30 -12h0m39 4h0m14 -11h0m-48 13h0m18 -7h0m2 -8h0m20 20h0m36 2h0m-79 -8h0m69 11h0m-3 4h0m-27 -17h0m-25 -33h0m0 30h0m29 11h0m15 12h0m-9 -17h0m-6 3h0m-6 -9h0m-22 -16h0m1 34h0m9 -17h0m1 -14h0m-5 3h0m10 30h0m-2 -15h0m12 -3h0m-25 -9h0m28 21h0m-21 -25h0m24 33h0m-5 -12h0m-23 0h0m-11 -11h0m22 -5h0m18 19h0m-39 -18h0m19 -1h0m-24 -1h0m55 30h0m-30 -28h0m-10 10h0m2 -11h0m-18 -11h0m28 17h0m-7 12h0m-6 -27h0m-34 -8h0m20 6h0m21 15h0m-3 -3h0m0 20h0m-19 -9h0m-2 -31h0m72 39h0m-42 -19h0m-10 -4h0m42 29h0m-35 -7h0m18 -8h0m-12 -14h0m24 35h0m11 -6h0m-39 -11h0m-65 -27h0m-152 66h0m117 -14h0m32 14h0m-37 -10h0m-53 -34h0m7 43h0m93 -48h0m-6 -24h0m-142 66h0m151 -33h0m-2 14h0m-9 18h0m-32 -39h0m-92 -23h0m54 67h0m73 -57h0" stroke="#dec4be" stroke-width="3.4" stroke-linecap="round"/>
<path d="M1113 1439h0m0 4h0m8 -1h0m29 -4h0m41 4h0m-67 -2h0m28 -5h0m27 1h0m-79 12h0m49 -12h0m7 11h0m42 -7h0m-71 5h0m43 -3h0m-5 -1h0m28 1h0m-96 0h0" stroke="#deada0" stroke-width="3.4" stroke-linecap="round"/>
<path d="M1253 1528h0m-5 -12h0m-31 -26h0m34 22h0m-18 -5h0m-126 23h0m32 48h0m-89 -11h0m73 -9h0m-93 2h0m130 20h0m-42 -10h0m-31 -6h0m3 -3h0m89 7h0m-164 -17h0m80 22h0m91 5h0m-84 -27h0m-24 16h0m15 7h0m47 -5h0m-31 -3h0m18 4h0m-119 -11h0m152 -9h0m9 14h0m-90 -14h0m136 8h0m-199 -2h0m156 13h0m-133 -26h0m44 22h0m144 21h0m-113 -14h0m-108 -20h0m147 17h0m-138 -48h0m154 18h0m-68 33h0m-128 -9h0m41 5h0m-34 14h0m-12 1h0m43 -30h0m-11 43h0m46 -10h0m-21 -1h0m-66 -44h0m50 2h0m27 75h0m-20 -33h0m10 -32h0m-16 28h0m12 -6h0m-64 -4h0m46 10h0m-4 -7h0m-4 10h0m-15 -12h0m28 -25h0m-15 1h0m36 51h0m-30 -44h0m-6 9h0m19 11h0m-34 3h0m25 26h0m-13 -47h0m20 14h0m14 -9h0m-24 -16h0m171 59h0m-24 35h0m76 6h0m-53 -16h0m26 23h0m-62 -24h0m73 12h0m-21 -33h0m-35 31h0m12 -46h0m-10 74h0m-27 -64h0m54 1h0m1 53h0m-31 2h0m14 -37h0m30 -10h0m-56 56h0m-1 -10h0m104 -63h0m-174 71h0m97 -19h0m-17 -76h0m2 18h0m-87 70h0m74 20h0m39 -95h0m-56 39h0m46 41h0m-34 -91h0m26 74h0m75 -15h0m-159 50h0m37 -27h0m39 33h0m57 -72h0m-174 -12h0m121 38h0m17 36h0m62 -89h0m-7 3h0m-30 65h0m-125 -11h0m101 7h0m-40 -12h0m3 12h0m-72 -30h0m104 13h0m-48 8h0m2 -34h0m1 47h0m71 -87h0m-53 86h0m13 -19h0m36 78h0m75 -62h0m-126 -37h0m-27 -19h0m-16 -15h0m195 -14h0m-116 8h0m-24 7h0m43 69h0m-36 -84h0m1 4h0m-32 64h0m-4 35h0m-83 -39h0m0 2h0m152 -48h0m-51 29h0m-36 -61h0m51 73h0m-135 2h0m102 6h0m75 -15h0m-66 -11h0m55 48h0m20 -29h0m-70 32h0m-54 -18h0m121 30h0m-18 -16h0m-56 -22h0m-24 -32h0m64 -31h0m-143 10h0m205 14h0m-90 -6h0m-11 62h0m-2 10h0m41 -72h0m-65 85h0m39 -33h0m-92 -8h0m191 7h0m-76 26h0m94 10h0m-140 10h0m135 -80h0m-126 80h0m39 -100h0m-50 81h0m60 -23h0m-50 -26h0m2 54h0m24 -151h0m46 139h0m-108 -36h0m47 -16h0m-53 45h0m-16 -6h0m148 -74h0m34 24h0m-107 30h0m65 -22h0m-64 25h0m-58 27h0m38 -86h0m83 95h0m-43 -69h0m23 29h0m-98 -24h0m21 30h0m-8 -2h0m103 1h0m-24 -5h0m-38 -34h0m-96 58h0m125 -65h0m78 89h0m-58 9h0m49 -47h0m-112 -56h0m-14 48h0m75 -44h0m-86 38h0m26 0h0m15 58h0m-48 -121h0m27 55h0m67 -21h0m4 53h0m-31 -43h0m-142 1h0m181 52h0m-76 21h0m-16 -54h0m-48 -6h0m106 -7h0m-7 65h0m0 -88h0m48 -13h0m-61 -6h0m-67 76h0m101 -107h0m14 61h0m-105 51h0m114 40h0m-47 -78h0m-61 -66h0m53 117h0m26 -14h0m12 18h0m-34 -42h0m-8 -8h0m26 63h0m1 -6h0m-143 -75h0m123 75h0m25 -38h0m-30 -22h0m-28 0h0m4 8h0m49 -52h0m-47 53h0m133 -82h0m-65 35h0m-77 87h0m54 -87h0m-66 35h0m-22 -35h0m55 37h0m-54 42h0m154 -45h0m-62 79h0m21 -13h0m47 -23h0m-187 -42h0m94 -31h0m15 19h0m-53 -19h0m130 64h0m-116 6h0m33 34h0m-41 -8h0m21 7h0m-53 -16h0m90 23h0m8 -4h0m-69 -19h0m40 27h0m-52 -24h0m117 52h0m-4 -103h0m-93 53h0m31 1h0m-14 6h0m29 -32h0m-54 29h0m35 -3h0m-37 -33h0m26 47h0m-15 -39h0m-17 1h0m45 20h0m-5 18h0m39 6h0m-70 6h0m8 -12h0m44 -43h0m6 20h0m-58 -9h0m4 -24h0m-12 51h0m98 14h0m-57 -5h0m0 4h0m17 -42h0m-46 34h0m64 -55h0m-46 52h0m-37 -17h0m90 30h0m-45 -37h0m12 -2h0m-4 -5h0m48 50h0m-2 -24h0m5 22h0m-45 -15h0m-10 4h0m22 2h0m-3 -36h0m-25 13h0m27 -3h0m-66 20h0m59 -3h0m-12 -21h0m24 17h0m-70 3h0m10 17h0m23 -26h0m3 -4h0m56 28h0m-66 -44h0m34 59h0m-36 -8h0m-5 -6h0m6 14h0m-14 -50h0m58 -15h0m-38 14h0m16 3h0m-24 -2h0m-2 8h0m7 13h0m47 -4h0m-32 18h0m-25 -11h0m-12 16h0m1 -38h0m-5 -21h0m25 61h0m6 -30h0m-34 6h0m166 -52h0m-78 -28h0m24 -8h0m-6 -17h0m26 -19h0m-17 22h0m-47 18h0m65 -35h0m-32 47h0m13 -35h0m24 48h0m-13 -18h0m40 48h0m-108 -69h0m60 15h0m-13 -12h0m19 -12h0m-37 5h0m14 19h0m-3 -25h0m21 -2h0m12 82h0m-38 -30h0m-8 -16h0m-16 70h0m46 -63h0m-2 32h0m10 8h0m-25 -27h0m13 -33h0m-20 30h0m22 -14h0m1 51h0m-19 14h0m23 -39h0m-29 -49h0m38 52h0m-22 -24h0m19 11h0m11 10h0m-28 14h0m19 2h0m-1 -41h0m1 49h0m-26 -33h0m58 13h0m-21 -41h0m-30 30h0m-16 31h0m27 15h0m5 -52h0m12 11h0m-12 -14h0m-11 9h0m3 21h0m62 -42h0m-96 44h0m86 6h0m-20 -39h0m-39 -11h0m29 12h0m9 14h0m-10 -24h0m-6 -3h0m-43 -4h0m-2 1h0m12 38h0m20 -19h0" stroke="#da6c50" stroke-width="3.4" stroke-linecap="round"/>
<path d="M1169 1429h0m-66 11h0m138 65h0m-11 21h0m-2 -43h0m22 19h0m-2 11h0m-17 -11h0m9 -2h0m-20 3h0m28 13h0m-45 -32h0m62 26h0m-149 -16h0m68 31h0m-149 -10h0m94 16h0m-66 19h0m-25 -17h0m42 38h0m84 -7h0m-103 -12h0m112 14h0m-60 0h0m-72 -5h0m60 1h0m105 12h0m-197 -38h0m105 39h0m20 -10h0m94 9h0m-125 -37h0m-19 34h0m-49 -17h0m179 23h0m-15 4h0m-134 -17h0m26 5h0m113 14h0m-137 -28h0m14 14h0m58 -13h0m-115 1h0m61 3h0m133 9h0m-116 0h0m39 1h0m-71 -19h0m-33 -1h0m-20 7h0m131 13h0m-32 -16h0m9 19h0m9 -6h0m-83 -11h0m3 9h0m169 8h0m-118 -6h0m-38 -7h0m-50 -16h0m28 18h0m54 7h0m11 -2h0m114 20h0m-168 -18h0m4 -4h0m-52 -4h0m138 -13h0m-116 -5h0m162 26h0m-65 -7h0m-78 7h0m92 9h0m-175 -39h0m24 52h0m-7 -7h0m18 -36h0m-32 17h0m40 40h0m11 -55h0m-26 31h0m-11 -23h0m16 58h0m22 1h0m-37 -19h0m46 -24h0m-11 9h0m-25 2h0m-24 -12h0m66 -3h0m-55 -3h0m28 4h0m3 -4h0m13 -6h0m-49 16h0m18 5h0m-9 15h0m-6 -28h0m58 -5h0m-46 -4h0m40 21h0m-58 19h0m33 -5h0m1 -16h0m-43 -14h0m55 1h0m-45 3h0m33 7h0m10 -3h0m-20 23h0m-32 -11h0m51 -5h0m-3 -4h0m-10 8h0m-5 -26h0m94 58h0m11 35h0m-7 -16h0m114 -2h0m-31 -46h0m-48 42h0m-56 -3h0m157 -31h0m-192 -56h0m43 114h0m-35 -11h0m145 -15h0m-96 -23h0m78 -29h0m24 55h0m-43 52h0m51 -94h0m-64 49h0m40 22h0m-43 -101h0m-10 31h0m-23 2h0m70 76h0m-71 -79h0m50 -15h0m26 -18h0m-74 79h0m9 -6h0m18 -44h0m-72 73h0m117 -101h0m-103 68h0m85 17h0m-105 -40h0m104 35h0m-109 -67h0m120 4h0m-41 32h0m-59 103h0m48 -78h0m8 34h0m4 -28h0m-46 -14h0m38 -7h0m-32 -32h0m30 42h0m-43 -10h0m155 43h0m-89 -23h0m31 -10h0m16 -68h0m-88 21h0m66 20h0m-71 46h0m3 -30h0m-70 14h0m88 -51h0m-18 35h0m44 -41h0m10 91h0m-74 -90h0m104 52h0m-66 9h0m68 1h0m-37 -23h0m-37 -17h0m69 81h0m-30 -40h0m-3 14h0m-41 -77h0m5 69h0m-10 -48h0m142 79h0m-43 13h0m-86 -99h0m0 -14h0m105 82h0m-64 50h0m35 -54h0m-70 20h0m44 -51h0m-78 9h0m99 -16h0m-27 -66h0m82 115h0m-94 -18h0m41 -41h0m-53 43h0m20 -54h0m-39 30h0m17 -17h0m-28 -5h0m91 53h0m-90 -14h0m-18 -27h0m39 65h0m-7 -61h0m21 44h0m-32 -28h0m18 13h0m167 52h0m-195 -113h0m11 69h0m17 -38h0m90 70h0m-73 -29h0m-6 43h0m-63 -90h0m9 79h0m64 -90h0m-96 49h0m103 -16h0m33 18h0m-94 -26h0m-2 -31h0m-38 98h0m90 -95h0m-71 61h0m24 66h0m9 -95h0m33 20h0m-87 29h0m210 -95h0m-138 14h0m63 23h0m35 -23h0m-112 68h0m53 -37h0m-84 -6h0m-30 48h0m-5 -28h0m75 -8h0m17 50h0m-47 -82h0m15 48h0m27 -55h0m-19 -10h0m54 101h0m7 -36h0m-78 35h0m62 -39h0m-44 -2h0m-65 -61h0m136 37h0m-61 31h0m63 -17h0m-99 -10h0m34 13h0m25 -58h0m-44 90h0m103 -69h0m-60 -21h0m24 33h0m-45 86h0m-19 -57h0m54 -15h0m-71 54h0m44 -67h0m-7 18h0m-59 31h0m82 35h0m-6 -129h0m-152 135h0m202 11h0m-54 -120h0m66 0h0m-83 -11h0m27 61h0m-3 -93h0m24 93h0m-30 -51h0m58 1h0m-110 102h0m99 -66h0m-151 3h0m27 28h0m99 -41h0m-22 27h0m-48 -19h0m-20 35h0m-19 -55h0m120 68h0m53 -83h0m-109 15h0m33 72h0m-150 -19h0m115 13h0m48 48h0m-26 -41h0m7 -78h0m27 40h0m-55 -63h0m103 40h0m-81 10h0m19 -20h0m-19 70h0m-23 -19h0m46 -36h0m-69 20h0m97 14h0m-65 -5h0m18 -42h0m-5 54h0m9 -46h0m-5 6h0m16 81h0m48 -89h0m-125 10h0m60 -48h0m33 91h0m-68 -75h0m56 -8h0m57 84h0m-145 -24h0m155 30h0m0 -53h0m-41 -3h0m-22 59h0m4 -9h0m122 -70h0m-178 -23h0m88 28h0m45 -29h0m-88 56h0m-12 38h0m34 8h0m-104 -63h0m120 65h0m-73 -15h0m22 -55h0m6 26h0m-51 -42h0m132 55h0m-78 -11h0m-31 -77h0m-3 21h0m8 26h0m2 8h0m20 1h0m-83 18h0m112 29h0m-76 -103h0m54 116h0m-53 -21h0m32 4h0m21 -52h0m-107 4h0m22 72h0m87 -85h0m-119 55h0m108 -4h0m-49 5h0m42 -57h0m41 45h0m-120 -78h0m180 47h0m-102 14h0m-21 -20h0m37 61h0m-38 -73h0m56 31h0m-42 50h0m52 -1h0m-47 9h0m33 -34h0m40 53h0m-72 -26h0m-23 -25h0m56 -19h0m-6 80h0m-10 -25h0m80 11h0m-86 -7h0m-17 0h0m12 -36h0m-5 10h0m34 53h0m-38 -17h0m-19 -42h0m37 -1h0m-21 8h0m17 27h0m47 21h0m-42 -25h0m-23 -20h0m61 52h0m-78 -61h0m61 5h0m14 30h0m-42 -14h0m-11 15h0m-23 -43h0m50 -20h0m-40 61h0m16 -22h0m-23 -12h0m-14 29h0m28 6h0m25 -37h0m41 53h0m-55 -34h0m29 11h0m-9 15h0m-7 -55h0m24 49h0m-76 -37h0m53 25h0m1 -29h0m17 24h0m-29 3h0m60 -26h0m-47 11h0m6 25h0m-6 -12h0m-16 -2h0m62 2h0m-105 15h0m44 -31h0m24 1h0m4 27h0m28 -19h0m-32 -10h0m-7 22h0m-13 31h0m3 -25h0m65 -44h0m-65 46h0m53 -3h0m-27 -53h0m-11 52h0m-21 -1h0m-21 -15h0m-9 -28h0m38 9h0m27 -4h0m-67 33h0m11 -14h0m24 0h0m6 10h0m-10 -3h0m38 -5h0m-28 22h0m12 -21h0m3 2h0m-62 -7h0m46 18h0m-12 10h0m14 -24h0m-37 -4h0m60 -13h0m-60 -11h0m26 27h0m-92 3h0m136 -35h0m-47 71h0m69 -26h0m-57 5h0m1 -33h0m46 -8h0m-74 34h0m31 29h0m-3 -38h0m-38 0h0m54 37h0m-21 -43h0m-28 24h0m26 14h0m43 -28h0m-11 33h0m-41 -7h0m5 -35h0m-15 15h0m43 -39h0m-27 62h0m56 -64h0m-45 10h0m7 -5h0m-65 -2h0m-1 61h0m86 -29h0m-3 -9h0m-43 -5h0m68 40h0m-92 -8h0m4 -19h0m30 35h0m-15 -11h0m12 -16h0m-41 -21h0m95 -9h0m-66 4h0m77 21h0m-62 -14h0m11 12h0m-54 18h0m29 10h0m-8 -20h0m64 12h0m-19 -30h0m-42 29h0m40 -7h0m-45 -21h0m9 -1h0m6 33h0m124 -80h0m-19 -45h0m-3 -34h0m-1 15h0m-28 12h0m-22 -4h0m38 14h0m-15 -1h0m-11 46h0m7 -42h0m1 9h0m10 -2h0m56 19h0m-23 -8h0m-1 -34h0m-35 19h0m10 -36h0m30 -1h0m-42 13h0m34 38h0m-41 -37h0m3 45h0m26 50h0m-1 -13h0m-17 -32h0m45 37h0m-15 31h0m-33 -2h0m13 -20h0m-1 -41h0m-13 -10h0m-26 -8h0m84 65h0m-32 -34h0m-22 -28h0m-8 26h0m13 11h0m0 -38h0m6 38h0m6 -4h0m-24 -16h0m43 -35h0m-37 43h0m42 -15h0m-49 -10h0m13 93h0m8 -44h0m23 -25h0m4 -9h0m-17 7h0m7 29h0m-35 -20h0m-1 -33h0m23 38h0m-9 -7h0m-36 1h0m27 -19h0m9 4h0m-19 -28h0m-3 22h0m15 24h0m43 3h0m-54 -32h0m-3 44h0m-30 18h0m49 -54h0m-27 34h0m37 18h0m0 -41h0m-28 -1h0m-7 23h0m10 -24h0m-8 26h0m14 -46h0m8 7h0m18 5h0m-6 20h0m-11 -16h0m-11 -8h0m64 -8h0m15 38h0" stroke="#d2573e" stroke-width="3.4" stroke-linecap="round"/>
<path d="M1147 1435h0m-54 14h0m107 45h0m-72 50h0m-77 2h0m61 -1h0m27 26h0m87 -11h0m-75 -3h0m-1 0h0m-48 12h0m-92 -33h0m219 51h0m-75 -15h0m-70 -30h0m30 15h0m42 15h0m-79 -29h0m-46 22h0m50 1h0m110 18h0m-162 -29h0m2 14h0m-42 18h0m17 -18h0m-12 38h0m-17 -39h0m3 29h0m3 -11h0m-15 -25h0m36 28h0m43 -24h0m-31 18h0m12 20h0m-56 -24h0m225 0h0m-100 46h0m-22 -11h0m137 32h0m-92 8h0m6 -47h0m49 -17h0m-33 34h0m4 -12h0m-22 -12h0m44 62h0m18 24h0m-29 -106h0m2 8h0m-70 -3h0m138 -15h0m-104 55h0m12 3h0m-3 -98h0m4 97h0m5 10h0m-43 28h0m38 6h0m85 -54h0m-118 -81h0m80 33h0m-43 5h0m-18 54h0m103 -61h0m-126 104h0m63 -116h0m-67 84h0m77 -62h0m-47 97h0m91 -64h0m14 -13h0m-153 29h0m112 -28h0m-47 31h0m-28 -10h0m-52 28h0m91 25h0m94 -91h0m-127 28h0m49 26h0m111 -11h0m-186 -20h0m42 9h0m1 56h0m53 -19h0m-50 -27h0m-11 -22h0m71 -11h0m5 36h0m-138 -15h0m94 32h0m-1 -49h0m69 3h0m-95 -58h0m15 88h0m-50 -83h0m4 41h0m86 88h0m-8 -1h0m-57 17h0m-1 -114h0m10 25h0m-16 28h0m51 -44h0m29 38h0m-43 -30h0m42 32h0m-58 -39h0m-49 85h0m105 -25h0m-117 -60h0m113 4h0m-72 84h0m57 -35h0m-87 52h0m-6 -47h0m89 -39h0m-21 -32h0m-1 52h0m55 74h0m5 -94h0m-99 -96h0m13 121h0m129 16h0m-166 17h0m63 16h0m-35 -22h0m75 -46h0m-45 -13h0m34 24h0m-115 -34h0m66 23h0m13 45h0m-39 -62h0m91 45h0m-95 10h0m73 63h0m-39 -96h0m-26 -49h0m24 35h0m-44 66h0m-3 -72h0m123 -13h0m-101 32h0m90 20h0m-73 -15h0m-21 42h0m-17 -30h0m118 -5h0m6 -34h0m-104 8h0m155 39h0m-147 58h0m63 -34h0m-14 -62h0m59 -34h0m-15 -5h0m-108 33h0m-57 15h0m174 -61h0m-174 104h0m74 -26h0m2 -4h0m57 35h0m-58 -43h0m38 15h0m-55 23h0m113 -68h0m-69 48h0m115 -64h0m-109 110h0m-52 -83h0m24 23h0m1 -6h0m25 42h0m73 -43h0m-77 -74h0m-106 70h0m104 62h0m0 1h0m57 -2h0m-30 -3h0m-45 55h0m94 -49h0m-30 -5h0m-74 -1h0m30 1h0m-7 -28h0m57 23h0m-5 -12h0m-62 23h0m49 -15h0m-15 -42h0m-33 37h0m0 27h0m21 -28h0m1 41h0m45 -26h0m-47 -13h0m-5 9h0m85 26h0m-28 -13h0m-39 -19h0m-21 -3h0m17 45h0m-48 -25h0m44 -3h0m24 13h0m-53 -34h0m14 46h0m14 10h0m20 9h0m-33 -17h0m35 -13h0m-95 5h0m105 -29h0m-13 -9h0m-79 -8h0m60 13h0m-37 29h0m20 -13h0m64 27h0m-80 -5h0m-6 -39h0m120 35h0m-67 -17h0m-6 -2h0m-59 16h0m26 -16h0m40 -6h0m-2 23h0m-22 16h0m19 -29h0m-70 -4h0m48 17h0m45 27h0m-88 -43h0m64 -25h0m68 -58h0m3 2h0m-15 -38h0m-34 8h0m12 23h0m4 3h0m18 -28h0m-29 -10h0m65 12h0m-1 11h0m-21 23h0m-4 42h0m-18 -44h0m-4 50h0m38 -59h0m-30 7h0m6 7h0m-5 0h0m50 64h0m-20 -49h0m-20 3h0m17 -21h0m9 29h0m0 50h0m-37 -34h0m-20 -25h0m5 29h0m15 -64h0m56 59h0m-97 -39h0m5 9h0m46 39h0m21 3h0m28 -58h0m-28 44h0m-1 22h0m1 -17h0m2 12h0m-15 40h0m11 -70h0m25 -31h0m-54 30h0m30 39h0m-38 -52h0m34 29h0m-39 -42h0m3 35h0m14 4h0m58 52h0m11 -19h0" stroke="#cb422c" stroke-width="3.4" stroke-linecap="round"/>
<path d="M971 1555C971.5 1552.8 971.5 1545.8 974 1542C976.5 1538.2 979.5 1536.7 986 1532C992.5 1527.3 1002.2 1520 1013 1514C1023.8 1508 1039.7 1502 1051 1496C1062.3 1490 1071.2 1484.3 1081 1478C1090.8 1471.7 1101.2 1462.2 1110 1458C1118.8 1453.8 1125.2 1452 1134 1453C1142.8 1454 1154.7 1459.8 1163 1464C1171.3 1468.2 1177.5 1473.7 1184 1478C1190.5 1482.3 1194.5 1485.7 1202 1490C1209.5 1494.3 1221.8 1500.2 1229 1504C1236.2 1507.8 1240.7 1510.2 1245 1513C1249.3 1515.8 1252.2 1518.2 1255 1521C1257.8 1523.8 1260.8 1528.5 1262 1530" fill="none" stroke="#5a5a5a" stroke-opacity="0.88" stroke-width="3.5" stroke-linecap="round"/>
<path d="M971 1555C971.3 1556.5 969.5 1562 973 1564C976.5 1566 983.3 1566 992 1567C1000.7 1568 1012.7 1568.8 1025 1570C1037.3 1571.2 1051.8 1572.5 1066 1574C1080.2 1575.5 1095.2 1577.7 1110 1579C1124.8 1580.3 1140.2 1581 1155 1582C1169.8 1583 1186.7 1584 1199 1585C1211.3 1586 1221.7 1586.8 1229 1588C1236.3 1589.2 1240.7 1591.3 1243 1592" fill="none" stroke="#5a5a5a" stroke-opacity="0.88" stroke-width="3.5" stroke-linecap="round"/>
<path d="M996 1564C999.8 1565 1012.3 1565.5 1019 1570C1025.7 1574.5 1030.7 1582.7 1036 1591C1041.3 1599.3 1045 1610.2 1051 1620C1057 1629.8 1064.7 1642.5 1072 1650C1079.3 1657.5 1083.7 1661.8 1095 1665C1106.3 1668.2 1128.7 1669.5 1140 1669C1151.3 1668.5 1155.7 1666.7 1163 1662C1170.3 1657.3 1176.5 1647.2 1184 1641C1191.5 1634.8 1200.2 1628.2 1208 1625C1215.8 1621.8 1225.2 1622.3 1231 1622C1236.8 1621.7 1241 1622.8 1243 1623" fill="none" stroke="#5a5a5a" stroke-opacity="0.88" stroke-width="3.5" stroke-linecap="round"/>
<path d="M86 1972V2289H468" fill="none" stroke="#111" stroke-width="1.6"/>
<path d="M86 1983h-3M86 2065h-3M86 2148h-3M86 2230h-3M190 2289v3M314 2289v3M447 2289v3" stroke="#111" stroke-width="1.2"/>
<path d="M340 1999h0m-27 -8h0m-16 2h0m8 -3h0m-39 -3h0m-13 9h0m99 0h0m-2 10h0m-69 -14h0m-32 9h0m-16 1h0m10 -4h0m-5 -1h0m119 -2h0m-79 7h0m63 -17h0m-89 17h0m53 -7h0m-47 -1h0m61 -3h0m3 -3h0m11 3h0m-43 -8h0m64 21h0m-30 -6h0m29 -6h0m-92 1h0m53 5h0m-38 -3h0m12 -3h0m-19 -4h0m37 -1h0m-44 11h0m66 3h0m-55 -2h0m57 3h0m20 2h0m-102 -13h0m82 -1h0m-28 6h0m21 -5h0m-36 4h0m30 0h0m-63 4h0m10 -4h0m-18 0h0m-7 6h0m67 -4h0m41 -1h0m-16 2h0m-81 4h0m100 -11h0m-72 3h0m4 3h0m-45 7h0m108 -7h0m-67 -10h0m-10 12h0m41 1h0m-6 -5h0m-3 3h0m-31 8h0m49 -8h0m23 -3h0m-20 3h0m29 47h0m7 5h0m30 -1h0m-10 26h0m-5 -14h0m-35 -3h0m33 5h0m26 -2h0m-26 -2h0m23 5h0m-11 -2h0m-40 -13h0m39 18h0m-20 -18h0m35 11h0m-49 -11h0m31 0h0m-14 6h0m-2 12h0m42 1h0m-43 -12h0m41 23h0m-43 -21h0m27 17h0m-16 -8h0m8 -8h0m12 16h0m-15 -15h0m-40 -26h0m31 20h0m-2 -7h0m14 7h0m9 6h0m-29 4h0m-29 -33h0m48 28h0m1 -1h0m-18 -8h0m-1 9h0m18 2h0m-64 -26h0m64 23h0m-7 -3h0m4 1h0m16 2h0m8 7h0m-39 8h0m20 -5h0m-26 -25h0m24 14h0m6 0h0m-13 13h0m25 9h0m-24 -8h0m-28 -35h0m-5 24h0m40 -16h0m-9 9h0m18 11h0m-12 -8h0m-3 15h0m10 -8h0m-20 -6h0m-3 -9h0m15 10h0m32 25h0m-16 -20h0m-33 -17h0m9 12h0m13 14h0m52 10h0m-29 -10h0m-67 -36h0m31 15h0m9 3h0m-19 -1h0m16 13h0m-4 -15h0m-1 2h0m38 14h0m-21 2h0m-7 0h0m-26 -4h0m-7 -10h0m4 -9h0m39 12h0m-13 -1h0m-3 -8h0m-26 -8h0m-9 -19h0m2 22h0m37 12h0m18 9h0m-5 6h0m-18 0h0m44 16h0m-61 -22h0m33 -10h0m-12 4h0m-7 6h0m-29 -11h0m56 5h0m-20 7h0m-6 0h0m-13 -22h0m32 27h0m0 -3h0m-4 -10h0m-35 -5h0m9 12h0m26 9h0m4 -11h0m-6 -3h0m15 0h0m-32 12h0m15 5h0m-48 -24h0m58 12h0m-27 -19h0m37 18h0m-41 -24h0m-34 -9h0m58 34h0m-12 8h0m4 -18h0m-17 -6h0m5 26h0m34 -6h0m-13 -19h0m17 25h0m-7 -10h0m-20 3h0m18 0h0m-34 -20h0m-167 -22h0m43 33h0m79 -32h0m-136 38h0m18 -4h0m48 -12h0m-12 17h0m38 -24h0m-111 24h0m205 87h0m-36 -16h0m2 -23h0m-151 1h0m105 12h0m-133 -14h0m139 -2h0m69 29h0m0 5h0m-131 -46h0m-72 7h0m4 14h0m15 17h0m28 -36h0m35 23h0m81 80h0m-13 8h0m-11 -41h0m-4 75h0m32 -25h0m-49 14h0m4 0h0m52 6h0m-76 -37h0m40 44h0m82 -1h0m-37 2h0m8 -138h0m57 62h0m-44 -2h0m2 -22h0m15 -5h0m-66 16h0m44 -20h0m-34 58h0m7 -38h0m61 -55h0m-5 45h0m-12 -32h0m-9 36h0m-13 1h0m12 6h0m-12 -8h0m-2 -2h0m-11 39h0m22 -8h0m6 15h0m15 -50h0m1 38h0m5 40h0m16 -95h0m-18 57h0m-48 -50h0m26 8h0m40 53h0m-30 -57h0m-16 45h0m22 -91h0m28 39h0m-34 25h0m11 -4h0m-30 -9h0m-33 17h0m41 -58h0m15 71h0m19 -16h0m-68 55h0m30 13h0m30 -111h0m14 47h0m-51 -4h0m-8 -5h0m27 26h0m18 -6h0m-5 -55h0m-21 31h0m8 -16h0m46 22h0m-39 22h0m-2 -4h0m-22 -31h0m7 44h0m8 -33h0m18 -3h0m-25 45h0m1 -54h0m19 16h0m-29 21h0m37 -40h0m-23 -16h0m14 -11h0m-31 12h0m13 32h0m20 21h0m-2 -14h0m-13 -5h0m30 -30h0m-42 24h0m13 -11h0m11 -46h0m-64 37h0m27 20h0m16 -8h0m39 -56h0m-13 73h0m6 -8h0m-26 -56h0m-22 97h0m21 -15h0m4 27h0m4 -124h0m-10 55h0m58 90h0m-98 -41h0m28 29h0m19 -76h0m30 18h0m-20 -54h0m8 73h0m-22 5h0m16 -23h0m-45 30h0m25 -49h0m-16 -16h0m-6 88h0m-21 -11h0m37 -60h0m-10 33h0m53 -11h0m-41 -35h0m17 118h0m-4 -95h0m9 37h0m-26 -15h0m-4 -43h0m21 -18h0m-23 65h0m16 -19h0m-13 -14h0m63 -37h0m-46 12h0m-29 67h0m28 -47h0m12 -8h0m-14 17h0m-12 39h0m-6 -30h0m35 -23h0m-37 26h0m7 -45h0m17 12h0m-30 14h0m-9 19h0m43 -20h0m-5 -9h0m-5 18h0m-2 16h0m-11 -3h0m34 -82h0m2 77h0m-8 -31h0m6 53h0m-35 -47h0m16 82h0m-15 -56h0m49 -10h0m-61 2h0m56 39h0m-10 -53h0m-28 35h0m36 58h0m-38 -80h0m18 47h0m16 3h0m-24 -66h0m28 -1h0m-32 39h0m10 -36h0m24 7h0m-49 18h0m10 -5h0m35 -26h0m-1 27h0m-23 33h0m15 -1h0m-12 -83h0m-18 94h0m65 -32h0m-19 2h0m-73 -40h0m39 58h0m-15 -28h0m46 -12h0m-22 8h0m60 -3h0m-6 61h0m-31 -41h0m27 -73h0m1 75h0m27 -2h0m-44 20h0m42 -107h0m-38 143h0m13 -1h0m21 -54h0m4 -40h0" stroke="#d2d2d2" stroke-width="3.4" stroke-linecap="round"/>
<path d="M304 1994h0m-62 17h0m68 -18h0m33 3h0m-85 -7h0m92 6h0m-81 -3h0m6 10h0m50 -8h0m9 5h0m12 -6h0m-104 5h0m112 5h0m-113 -10h0m49 0h0m46 8h0m-94 -3h0m51 -6h0m-42 3h0m37 -4h0m9 3h0m-24 -2h0m69 9h0m-55 -5h0m18 -4h0m-11 1h0m-34 -2h0m18 8h0m11 -5h0m-42 10h0m0 0h0m23 -14h0m79 2h0m-82 -3h0m29 10h0m3 -5h0m-51 7h0m16 -8h0m-17 4h0m78 -1h0m17 2h0m-10 3h0m16 0h0m-9 -14h0m-10 6h0m66 67h0m-19 4h0m32 12h0m37 27h0m-65 -34h0m-8 -32h0m-6 15h0m-13 3h0m39 18h0m14 -1h0m-76 -36h0m51 11h0m0 7h0m-10 10h0m14 -1h0m3 12h0m-22 -36h0m42 36h0m-21 -10h0m-8 -8h0m24 21h0m-25 -12h0m2 -12h0m-22 3h0m10 -4h0m16 24h0m-6 -6h0m-28 -18h0m30 8h0m-24 -4h0m28 3h0m-2 8h0m0 -15h0m40 28h0m-72 -52h0m51 36h0m-28 -20h0m-2 19h0m-34 -40h0m29 25h0m-1 21h0m20 -10h0m-41 3h0m66 10h0m-40 -17h0m-14 -5h0m26 11h0m9 13h0m-10 -11h0m-3 -12h0m52 32h0m-72 -40h0m34 21h0m4 13h0m-15 -9h0m20 4h0m-52 -28h0m10 -3h0m12 6h0m19 15h0m18 6h0m-29 1h0m3 -9h0m-5 -4h0m-5 4h0m-2 -7h0m-9 -6h0m3 21h0m15 -21h0m12 14h0m8 29h0m-60 -42h0m33 14h0m-10 -9h0m3 11h0m27 10h0m-21 5h0m-50 -45h0m92 48h0m-26 -6h0m-5 -3h0m6 -9h0m-15 -7h0m12 28h0m-26 -21h0m3 -22h0m-2 19h0m-18 -12h0m26 14h0m4 -2h0m-5 7h0m18 1h0m14 5h0m-32 -23h0m-24 8h0m53 18h0m-27 -24h0m-8 10h0m23 5h0m-11 -18h0m28 18h0m-13 15h0m-13 -37h0m10 18h0m-37 -15h0m50 19h0m-6 21h0m-26 -52h0m-27 20h0m46 -7h0m21 16h0m9 26h0m-31 -31h0m-29 1h0m40 3h0m-40 -14h0m10 -3h0m-21 -6h0m32 30h0m-3 -22h0m12 24h0m6 -10h0m6 1h0m-51 -37h0m29 32h0m-7 -4h0m-120 47h0m78 -50h0m-175 -10h0m146 -11h0m-121 10h0m54 -17h0m115 65h0m-115 -5h0m49 13h0m-94 8h0m81 -10h0m68 9h0m-135 -61h0m22 -2h0m-1 25h0m72 30h0m67 51h0m-128 -43h0m19 26h0m-15 -7h0m-48 -14h0m153 22h0m-135 -25h0m64 12h0m-63 -14h0m85 11h0m49 32h0m-179 -36h0m150 6h0m-41 -22h0m1 18h0m-24 18h0m123 5h0m-126 -8h0m-86 -13h0m204 23h0m-5 13h0m-79 -25h0m39 21h0m-38 -15h0m14 -24h0m-50 12h0m44 21h0m42 -2h0m-33 -14h0m21 4h0m-70 -7h0m91 6h0m-187 -51h0m16 41h0m48 8h0m88 16h0m20 -19h0m-111 -5h0m126 15h0m-164 -37h0m80 34h0m-41 -14h0m0 -26h0m-1 34h0m27 -11h0m-69 -3h0m-3 8h0m10 -20h0m-65 1h0m43 23h0m-27 -4h0m35 12h0m-47 -8h0m32 -20h0m-1 34h0m-4 -34h0m7 15h0m-4 3h0m-15 9h0m31 -8h0m-43 -7h0m28 0h0m13 5h0m-9 7h0m-26 -26h0m3 -2h0m16 37h0m31 -29h0m-49 -11h0m-6 26h0m35 1h0m193 0h0m-57 13h0m12 -14h0m-38 4h0m90 -6h0m-83 4h0m114 -15h0m-37 22h0m-46 -7h0m-25 1h0m28 2h0m23 -15h0m-132 -8h0m71 34h0m-137 -2h0m247 -28h0m-84 1h0m-45 22h0m64 -12h0m13 -2h0m-76 -10h0m132 29h0m-72 0h0m-25 -4h0m39 -42h0m-101 46h0m-10 -42h0m155 30h0m-50 131h0m-7 -56h0m2 29h0m33 -6h0m-130 9h0m87 -21h0m84 -21h0m-21 -54h0m-19 17h0m-6 8h0m-10 -42h0m51 0h0m-8 34h0m-4 9h0m-39 -22h0m59 4h0m-46 -13h0m19 15h0m35 37h0m20 6h0m-30 -57h0m-27 52h0m-19 -4h0m-1 -49h0m12 36h0m-1 -5h0m8 31h0m-13 -38h0m-2 42h0m26 2h0m-16 -61h0m-33 53h0m30 -36h0m42 -24h0m-54 28h0m-15 -4h0m18 8h0m10 -29h0m38 -1h0m-5 27h0m38 45h0m-96 -74h0m28 32h0m3 -2h0m-11 20h0m-7 -43h0m18 51h0m-4 -26h0m-17 -3h0m58 4h0m-52 -2h0m24 29h0m6 -34h0m-9 -1h0m18 27h0m-43 -13h0m-2 -10h0m-5 3h0m24 -17h0m40 16h0m-42 -53h0m54 92h0m-22 -51h0m-9 15h0m32 -13h0m-14 -17h0m-32 38h0m12 -61h0m-22 55h0m-4 -55h0m30 90h0m-32 -30h0m15 -26h0m-17 51h0m5 -43h0m59 -1h0m-82 2h0m31 28h0m14 -15h0m-33 -12h0m16 -29h0m18 -21h0m16 39h0m-8 -4h0m-38 -5h0m22 7h0m15 36h0m-36 -46h0m32 -18h0m-19 19h0m19 22h0m-22 -15h0m0 31h0m15 -30h0m46 86h0m-98 -108h0m6 75h0m42 -36h0m24 -28h0m-14 30h0m12 20h0m-17 -40h0m-1 92h0m-30 -53h0m11 -49h0m-1 21h0m73 -21h0m-88 -16h0m42 46h0m-6 -8h0m-13 38h0m-36 -57h0m49 50h0m-25 -54h0m-3 4h0m32 0h0m-1 40h0m-36 -13h0m-5 -11h0m22 -11h0m-5 0h0m10 -25h0m8 48h0m-23 9h0m-24 -27h0m37 33h0m23 -18h0m-17 -20h0m-15 8h0m8 8h0m-17 -32h0m6 76h0m21 -36h0m16 8h0m-26 -29h0m22 15h0m-18 20h0m47 -15h0m-51 17h0m10 -30h0m8 13h0m-34 20h0m29 -10h0m-9 -52h0m-42 45h0m30 -20h0m-17 -13h0m21 65h0m-2 -45h0m29 0h0m-25 -1h0m50 32h0m-30 -27h0m-11 -20h0m-24 -8h0m28 27h0m-16 -68h0m-8 92h0m49 3h0m-12 -10h0m35 -26h0m-12 -12h0m46 97h0m0 -132h0m-49 46h0m9 51h0m-1 34h0m1 -17h0m33 -93h0m-20 108h0m-6 -22h0m-18 -48h0m-8 -65h0m56 119h0m-3 -16h0m-54 -115h0m21 161h0m-17 -161h0m13 81h0m22 -4h0" stroke="#d8cbc8" stroke-width="3.4" stroke-linecap="round"/>
<path d="M163 2085h0m110 21h0m38 -75h0m-89 -7h0m18 61h0m-60 -15h0m-19 7h0m164 -43h0m-132 -3h0m-10 42h0m158 -24h0m-177 51h0m111 -23h0m-13 -50h0m-63 36h0m-51 -20h0m66 63h0m150 38h0m-49 -4h0m-100 -35h0m58 31h0m-46 -12h0m142 34h0m-79 -46h0m-15 20h0m-127 -45h0m25 29h0m139 14h0m-115 -19h0m106 32h0m-8 -6h0m56 18h0m-62 -20h0m7 6h0m-37 -11h0m45 -4h0m49 6h0m-110 -5h0m80 19h0m-163 -45h0m192 47h0m-110 -13h0m122 20h0m-111 -41h0m32 24h0m58 8h0m-31 -2h0m-138 -23h0m123 23h0m-17 -3h0m59 9h0m-17 -15h0m9 -4h0m-2 18h0m36 -11h0m-213 -25h0m205 10h0m-167 -16h0m-9 10h0m103 26h0m36 -24h0m-70 13h0m-65 -21h0m85 23h0m-102 -33h0m146 35h0m29 10h0m-18 -5h0m-33 -16h0m-130 -11h0m5 -6h0m83 24h0m-96 -25h0m-11 22h0m28 -24h0m-20 23h0m-14 -30h0m-1 37h0m18 -13h0m-16 -11h0m40 14h0m-22 -5h0m11 16h0m-23 -29h0m2 5h0m-9 -17h0m28 13h0m-47 11h0m12 -12h0m-14 12h0m21 13h0m11 -6h0m-22 -2h0m36 12h0m-30 -13h0m7 5h0m0 0h0m-20 -12h0m29 14h0m-14 -25h0m23 16h0m112 4h0m-13 -11h0m27 24h0m-11 -28h0m-9 -13h0m43 24h0m-24 100h0m-46 -96h0m113 95h0m-69 -105h0m6 17h0m85 -6h0m-165 -18h0m76 110h0m-54 -142h0m54 62h0m-86 -14h0m89 9h0m36 -19h0m109 1h0m-59 -14h0m-149 29h0m21 -5h0m107 -5h0m-41 15h0m-26 3h0m68 -13h0m-52 26h0m36 -13h0m32 -24h0m-95 13h0m-18 -28h0m16 16h0m57 22h0m-32 -28h0m60 -10h0m-78 29h0m84 -28h0m-74 16h0m-1 19h0m25 49h0m16 -53h0m13 -7h0" stroke="#dec4be" stroke-width="3.4" stroke-linecap="round"/>
<path d="M348 2121h0m16 32h0m-11 -7h0m-187 -29h0m190 32h0m-183 -60h0m67 42h0m-69 -49h0m-1 30h0m128 3h0m22 18h0m-159 -18h0m90 19h0m115 24h0m-122 -35h0m-130 25h0m29 -49h0m-16 21h0m26 1h0m-24 12h0m1 -19h0m26 4h0m-8 -19h0m11 31h0m176 23h0m-1 52h0m-104 -48h0m64 -13h0m20 -4h0m55 65h0m-86 -16h0m0 57h0m17 -74h0m115 36h0m-150 -3h0m47 -35h0m-86 36h0m137 -19h0m-70 44h0m-73 -36h0m141 -17h0m-62 7h0m34 8h0m-84 35h0m-51 -50h0m79 10h0m15 -5h0m33 12h0m-1 -4h0m20 7h0m-86 37h0m-16 -74h0m32 30h0m6 -48h0m-54 5h0m124 -59h0m-24 93h0m-18 3h0m-49 45h0m20 -74h0m-25 8h0m154 67h0m-120 15h0m2 -18h0m8 -84h0m-12 36h0m82 15h0m-142 -20h0m139 -63h0m-100 89h0m19 55h0m-59 -91h0m54 -26h0m34 75h0m-30 -50h0m53 3h0m22 42h0m-24 -45h0m-24 -31h0m-59 53h0m-45 -52h0m65 -5h0m-71 79h0m64 -63h0m-29 55h0m48 4h0m104 -22h0m-88 0h0m22 -31h0m-10 28h0m0 -23h0m-53 47h0m-35 -42h0m32 84h0m122 -103h0m-97 93h0m-32 -49h0m-31 -27h0" stroke="#deada0" stroke-width="3.4" stroke-linecap="round"/>
<path d="M184 2123h0m76 5h0m-82 -32h0m35 30h0m-8 -26h0m-59 0h0m169 33h0m-123 -42h0m157 60h0m-159 -58h0m-11 20h0m65 22h0m0 -29h0m-46 16h0m-30 30h0m-49 -51h0m35 7h0m-37 6h0m53 -26h0m-46 20h0m49 -1h0m-35 4h0m17 -2h0m-9 1h0m-28 11h0m6 -15h0m35 1h0m22 25h0m-49 39h0m135 40h0m77 -18h0m-49 -21h0m-95 18h0m45 35h0m92 -137h0m-6 10h0m-94 47h0m92 83h0m-38 -139h0m-23 90h0m52 20h0m-44 -38h0m91 71h0m-56 -68h0m12 -37h0m-60 70h0m-29 -17h0m43 -3h0m54 35h0m-113 -27h0m2 40h0m126 17h0m-96 -143h0m66 164h0m14 -98h0m-11 88h0m-80 -38h0m-22 -76h0m38 -20h0m-84 -9h0m168 28h0m28 -16h0m-49 -23h0m56 67h0m5 49h0m-59 -64h0m70 13h0m-137 15h0" stroke="#df9682" stroke-width="3.4" stroke-linecap="round"/>
<path d="M360 2141h0m-181 -26h0m115 23h0m-87 -21h0m0 -17h0m27 8h0m99 35h0m-129 -19h0m-27 -32h0m-31 -3h0m168 33h0m-105 -18h0m7 26h0m32 4h0m-42 -11h0m-54 -8h0m79 11h0m113 2h0m-176 -20h0m97 10h0m-17 10h0m29 12h0m71 2h0m-66 -17h0m-150 -24h0m50 16h0m-42 -15h0m26 -26h0m1 54h0m-19 9h0m-5 -36h0m-30 22h0m5 -2h0m45 2h0m-61 -19h0m75 28h0m-64 -5h0m82 -19h0m-63 -17h0m-7 29h0m142 -4h0m109 -12h0m-25 23h0m-54 0h0m-74 -8h0m38 3h0m83 3h0m-73 9h0m-46 -26h0m33 25h0m-46 -4h0m135 -12h0m-101 4h0m27 8h0m-54 3h0m174 2h0m28 -12h0m-49 -3h0m-54 -19h0m-46 7h0m-49 25h0m63 -10h0m10 1h0m-4 -16h0" stroke="#dc8169" stroke-width="3.4" stroke-linecap="round"/>
<path d="M337 2051h0m-112 -8h0m4 -8h0m-74 72h0m-4 0h0m117 3h0m-61 9h0m-40 -15h0m98 35h0m-86 -18h0m-8 -12h0m120 29h0m-57 -22h0m-28 -9h0m-8 -2h0m159 32h0m-136 -34h0m-36 21h0m-1 -3h0m173 33h0m-146 -42h0m152 33h0m-139 -35h0m104 37h0m-59 -15h0m-73 -22h0m132 20h0m-107 1h0m-7 -4h0m-17 -12h0m-31 -28h0m59 38h0m27 -13h0m52 23h0m-42 -28h0m-108 3h0m-55 15h0m30 -22h0m39 15h0m13 8h0m-2 14h0m-27 -28h0m10 11h0m6 29h0m-28 1h0m3 -34h0m14 -34h0m-55 36h0m20 23h0m-18 -15h0m31 -27h0m6 25h0m-14 22h0m2 -7h0m-12 9h0m29 -54h0m-43 43h0m40 -33h0m174 44h0m-53 4h0m-17 29h0m-74 -24h0m174 34h0m17 -14h0m-48 -5h0m-33 1h0m-31 2h0m146 -23h0m-99 -4h0m50 9h0m-26 41h0m-63 -52h0m30 123h0m108 -109h0m-79 1h0m-76 45h0m36 12h0m-23 -43h0m126 62h0m-155 -60h0m36 40h0m58 48h0m-84 -52h0m71 -76h0m-70 32h0m37 37h0m-78 25h0m124 -61h0m-84 -41h0m28 85h0m16 -24h0m-96 -98h0m174 98h0m-91 17h0m73 18h0m-71 -63h0m27 77h0m15 -102h0m-40 18h0m-11 65h0m108 32h0m-78 -38h0m-166 53h0m36 -94h0m59 20h0m113 -33h0m-12 61h0m30 0h0m-67 -14h0m5 -70h0m-32 40h0m51 -42h0m-38 15h0m-48 38h0m117 -60h0m-54 86h0m-9 4h0m-10 -3h0m32 -19h0m39 24h0m-32 -6h0m-58 -29h0m-95 13h0m82 -66h0m57 10h0m-31 34h0m-7 21h0m75 10h0m-71 31h0m19 -68h0m11 79h0m-2 -40h0m-131 -34h0m162 -19h0m-17 74h0m-61 -14h0m-65 -46h0m103 42h0m-39 22h0m71 -65h0m-67 -11h0m33 48h0m-1 -23h0m19 26h0m-17 -51h0m58 29h0m-118 -18h0m53 35h0m-2 10h0m33 -60h0m59 9h0m-165 20h0m56 28h0m18 -38h0m-84 47h0m183 -32h0m-135 -33h0m101 76h0m-71 -70h0m-2 68h0m96 -32h0m-51 -37h0m-30 -13h0m-17 24h0m19 45h0m-42 11h0m43 -61h0m-17 9h0m83 -48h0m-136 61h0m98 -43h0m-59 101h0m118 -64h0m-51 -81h0m10 93h0m-135 -60h0m215 21h0m-133 -47h0m12 60h0m35 7h0m-28 -11h0m-30 39h0m55 -66h0m-40 43h0m-60 26h0m24 -44h0m29 -11h0m47 64h0m-55 24h0m15 27h0m-99 -87h0m146 -30h0m-90 47h0m121 -13h0m-34 65h0m-59 -123h0m46 93h0m-11 15h0m71 -34h0m-61 26h0m-56 -42h0m146 -30h0m-132 41h0m-16 -2h0m-9 -7h0m145 -26h0m-23 74h0m-16 -37h0m-31 -53h0m-25 28h0m-41 -18h0m146 49h0m13 38h0m-44 -25h0m-38 32h0m-23 -33h0m12 27h0m-73 -9h0m69 -24h0m-25 45h0m58 -48h0m-63 51h0m14 -37h0m2 -22h0m-55 39h0m62 -13h0m25 8h0m-66 11h0m114 -8h0m-53 -27h0m-31 34h0m25 -26h0m-47 54h0m13 -53h0m0 7h0m-24 -9h0m11 -17h0m74 -1h0m-62 51h0m21 25h0m19 -41h0m-85 -19h0m47 28h0m13 -24h0m38 33h0m-49 -11h0m7 -13h0m12 -6h0m-48 7h0m28 -41h0m64 53h0m-26 -23h0m-48 16h0m30 12h0m27 -16h0m-39 -12h0m14 13h0m-28 0h0m49 14h0m-32 -6h0m4 -32h0m32 56h0m-69 -9h0m47 -20h0m-1 -10h0m-73 17h0m96 -8h0m18 -27h0m-67 55h0m-30 -12h0m85 -34h0m-30 46h0m39 -27h0m-32 -31h0m-3 66h0m-20 -29h0m-36 6h0m17 -13h0m75 -8h0m-35 23h0m16 -8h0m-42 -42h0m49 30h0m-31 4h0m-29 14h0m42 -27h0m-86 27h0m24 -7h0m59 -8h0m19 19h0m-45 -21h0m7 13h0m7 -19h0m51 -6h0m-64 2h0m-20 20h0m4 -4h0m41 1h0m-12 27h0m-25 0h0m41 -42h0m-54 1h0m63 17h0m-53 -7h0m32 9h0m-16 -23h0m20 18h0m-21 -19h0m-1 20h0m0 10h0m-37 0h0m60 -33h0m31 13h0m-20 18h0m-44 -29h0m27 27h0m-7 22h0m-4 -25h0m56 -44h0m-23 -22h0m101 10h0m-67 9h0m-39 45h0m55 -63h0m-27 24h0m16 -1h0m10 -79h0m-24 86h0m-16 -10h0m9 -17h0m7 -8h0m9 1h0m-14 8h0m23 -3h0m50 22h0m-89 -33h0m36 20h0m-43 32h0m37 -62h0m3 -9h0m9 10h0m-12 57h0m2 -44h0m-5 -3h0m-22 7h0m29 0h0m9 -38h0m3 58h0m5 -33h0m-28 19h0m19 -8h0m-31 25h0m9 -7h0m30 41h0m-34 -60h0m-4 32h0m17 -9h0m-4 -51h0m16 -19h0m-3 43h0m-26 1h0" stroke="#da6c50" stroke-width="3.4" stroke-linecap="round"/>
<path d="M235 2069h0m-75 37h0m156 41h0m-56 -17h0m86 3h0m-131 -32h0m-19 23h0m31 -8h0m99 28h0m44 12h0m-155 -43h0m99 11h0m-147 -26h0m76 -3h0m-68 4h0m-19 -13h0m37 38h0m177 28h0m-33 -9h0m-50 -6h0m-42 -3h0m-61 -27h0m55 11h0m58 15h0m-67 -7h0m-60 -26h0m-6 -14h0m35 29h0m50 10h0m-81 -27h0m1 13h0m81 12h0m-34 -8h0m-25 24h0m-44 0h0m-8 6h0m23 4h0m-45 1h0m13 -6h0m-10 -4h0m31 29h0m-31 -27h0m16 9h0m2 3h0m-6 14h0m22 -9h0m-25 -16h0m175 131h0m18 -70h0m-18 -21h0m27 -5h0m4 0h0m22 5h0m-76 -20h0m-37 6h0m77 -8h0m-52 1h0m57 54h0m-16 -44h0m53 30h0m-20 -36h0m-16 59h0m-132 -50h0m135 38h0m6 -30h0m44 31h0m-157 38h0m14 -69h0m121 14h0m-101 -52h0m89 21h0m-86 -13h0m50 87h0m-40 -28h0m19 -42h0m-36 -24h0m-17 111h0m41 -51h0m46 -25h0m-102 26h0m64 7h0m-64 -44h0m164 103h0m-120 -85h0m7 -26h0m53 78h0m-31 -22h0m13 13h0m21 -49h0m-89 26h0m14 -46h0m14 53h0m-13 3h0m-69 -21h0m153 -16h0m-72 -27h0m44 3h0m41 -1h0m-120 47h0m13 15h0m56 -23h0m47 18h0m-100 -40h0m6 0h0m185 16h0m-204 2h0m41 -28h0m96 25h0m-93 -39h0m-9 24h0m65 36h0m-85 -22h0m103 34h0m-75 -46h0m116 66h0m-89 -19h0m0 -39h0m-16 -22h0m1 -3h0m11 -2h0m28 73h0m-128 -78h0m99 56h0m-65 -39h0m121 36h0m-81 -34h0m-45 76h0m-1 -55h0m99 15h0m-58 -1h0m-18 -35h0m111 10h0m-10 35h0m-72 -14h0m78 5h0m8 -51h0m17 29h0m-79 -20h0m-53 8h0m-16 5h0m7 -6h0m-89 -12h0m99 48h0m-30 -39h0m33 24h0m83 16h0m-63 1h0m27 -69h0m-34 67h0m24 8h0m40 -43h0m-20 25h0m61 1h0m-54 -34h0m-17 62h0m126 41h0m-138 -115h0m-32 18h0m94 33h0m-29 15h0m25 -17h0m17 -20h0m-5 44h0m-34 -37h0m-113 14h0m128 19h0m80 -24h0m-163 11h0m29 22h0m113 6h0m-116 -37h0m-43 -9h0m4 -17h0m96 -12h0m-49 -7h0m104 -4h0m-44 12h0m-18 15h0m-70 77h0m49 -112h0m9 64h0m-97 54h0m16 -85h0m130 13h0m-180 -5h0m63 -3h0m48 -40h0m-65 41h0m-29 -19h0m43 33h0m24 20h0m-9 -16h0m-66 -37h0m138 115h0m-32 -130h0m-87 67h0m3 -26h0m114 62h0m-55 -81h0m6 86h0m-7 -15h0m-26 -56h0m65 35h0m-16 -42h0m-60 -12h0m64 -23h0m-49 26h0m-22 -23h0m49 4h0m52 33h0m38 -14h0m-22 32h0m-21 -42h0m-63 71h0m71 -65h0m-75 3h0m30 -15h0m53 18h0m-56 24h0m81 -44h0m-124 28h0m-17 -1h0m54 88h0m-16 -86h0m107 38h0m-122 -36h0m68 22h0m-70 -28h0m59 -13h0m-129 58h0m172 -58h0m-108 83h0m60 -41h0m10 -5h0m-90 -6h0m36 -26h0m37 6h0m-9 0h0m55 19h0m-89 -3h0m142 33h0m7 -70h0m-204 14h0m131 -9h0m-26 44h0m-2 25h0m29 -13h0m1 -24h0m-98 7h0m44 -17h0m71 -32h0m73 24h0m-121 11h0m20 43h0m23 -84h0m-55 15h0m51 28h0m-26 14h0m24 -47h0m-52 39h0m72 -2h0m-86 -8h0m-21 22h0m30 -8h0m-28 23h0m146 -28h0m-60 -24h0m49 41h0m-164 -13h0m97 -19h0m-56 43h0m-79 -61h0m30 12h0m100 -2h0m-76 40h0m67 -14h0m10 31h0m-98 36h0m36 -15h0m41 -5h0m-6 -14h0m9 -4h0m-30 11h0m45 4h0m33 5h0m-45 -2h0m37 -5h0m-5 20h0m-15 -23h0m-19 -4h0m7 -7h0m22 37h0m-16 -12h0m-42 -2h0m46 -12h0m-44 7h0m30 -32h0m-29 23h0m59 14h0m-27 -31h0m-60 22h0m89 10h0m-5 13h0m-76 -13h0m105 -22h0m-101 -9h0m53 23h0m16 9h0m-5 -14h0m-34 4h0m-11 -28h0m-2 40h0m4 -22h0m-16 27h0m-54 -27h0m121 20h0m-40 9h0m-28 -21h0m9 -52h0m33 40h0m-75 -2h0m110 38h0m-50 -67h0m8 55h0m29 7h0m-56 -49h0m47 58h0m-16 -42h0m21 -5h0m-62 44h0m38 -71h0m9 35h0m-50 34h0m54 -27h0m-22 0h0m-14 -47h0m10 28h0m-27 66h0m26 -35h0m-17 -39h0m72 35h0m-144 -38h0m60 27h0m74 -14h0m-44 43h0m-52 0h0m99 0h0m-116 -38h0m96 14h0m14 22h0m-27 -2h0m-11 -33h0m34 -23h0m1 -6h0m-1 25h0m-20 26h0m-14 -41h0m4 60h0m24 -6h0m-26 -16h0m-11 -19h0m16 21h0m-7 -4h0m-67 -29h0m73 14h0m9 -9h0m13 11h0m-70 -11h0m118 59h0m-82 -33h0m-11 -10h0m76 44h0m-87 -54h0m55 18h0m-85 -11h0m68 4h0m-41 22h0m39 -69h0m19 -32h0m-54 29h0m66 82h0m19 -49h0m-9 -6h0m-77 23h0m75 26h0m-10 -49h0m-25 18h0m-57 1h0m95 26h0m-45 -57h0m70 34h0m-40 -35h0m2 47h0m-44 -6h0m67 -22h0m-73 32h0m-17 -8h0m43 -26h0m-33 -4h0m-60 6h0m134 20h0m-7 -13h0m-7 15h0m0 8h0m-55 19h0m-9 -13h0m9 -1h0m24 -64h0m-35 63h0m-43 -9h0m70 39h0m7 -25h0m-27 -10h0m17 0h0m-4 24h0m2 -44h0m-18 4h0m-36 -7h0m81 51h0m-3 -106h0m-38 44h0m-23 10h0m101 -8h0m26 24h0m22 -69h0m-32 37h0m16 -72h0m-20 40h0m-29 27h0m19 -46h0m2 -25h0m-23 62h0m31 -21h0m9 12h0m-12 -22h0m-4 7h0m-6 21h0m27 54h0m-29 -38h0m13 -8h0m44 -17h0m-52 0h0m-29 28h0m2 -12h0m43 -43h0m-21 71h0m8 -51h0m7 25h0m-13 -14h0m35 17h0m-30 28h0m25 -45h0m-41 -52h0m-29 19h0m25 24h0m25 38h0m-27 -43h0m26 18h0m9 -40h0m-20 62h0m28 -41h0m6 4h0m-39 22h0m-11 3h0m1 -14h0m0 6h0m15 30h0m38 -18h0m-40 -10h0m11 -5h0m-5 -7h0m-7 41h0m27 -47h0m-10 23h0m28 -11h0m-9 -7h0m-30 9h0m-8 30h0m8 -68h0m40 -32h0m0 -23h0" stroke="#d2573e" stroke-width="3.4" stroke-linecap="round"/>
<path d="M172 2104h0m27 7h0m-64 33h0m8 9h0m-9 -1h0m-14 -9h0m142 33h0m34 53h0m79 -46h0m-94 69h0m34 -61h0m-106 -3h0m49 34h0m86 -10h0m37 19h0m-53 -66h0m-21 -11h0m-5 -1h0m67 18h0m-145 48h0m60 -76h0m83 44h0m-134 -9h0m16 17h0m59 17h0m7 -15h0m-3 28h0m-44 -59h0m39 31h0m42 12h0m-8 -30h0m-35 51h0m-1 -75h0m-97 14h0m92 -17h0m13 41h0m-4 -40h0m-3 11h0m-58 19h0m47 27h0m-55 -69h0m110 37h0m-190 -6h0m108 21h0m80 18h0m-91 -23h0m-15 28h0m76 -42h0m-44 44h0m54 -71h0m-122 99h0m51 24h0m40 -21h0m-17 -28h0m-39 23h0m174 28h0m-153 -29h0m10 -83h0m25 14h0m-82 -12h0m23 20h0m60 -24h0m-26 -16h0m62 79h0m31 -53h0m-136 9h0m47 65h0m9 -90h0m45 97h0m-51 -75h0m-16 19h0m40 36h0m130 -65h0m-168 5h0m-34 -11h0m88 1h0m-44 19h0m42 -1h0m11 73h0m-78 -78h0m76 93h0m-42 -53h0m-107 -42h0m27 -30h0m91 47h0m-7 -18h0m-1 -26h0m28 38h0m23 29h0m5 -23h0m-31 5h0m0 -42h0m24 64h0m-61 -61h0m-33 36h0m-12 48h0m6 -18h0m86 40h0m-101 -97h0m98 22h0m-42 30h0m70 -69h0m-41 65h0m-6 36h0m33 -81h0m-6 31h0m-100 41h0m106 -47h0m-79 35h0m39 -27h0m-144 10h0m149 -47h0m-48 73h0m-31 -15h0m130 -34h0m-124 21h0m47 34h0m65 -40h0m0 -13h0m-31 -18h0m23 -27h0m-144 92h0m46 -17h0m-1 -5h0m81 26h0m-14 -5h0m1 21h0m-77 -41h0m-3 32h0m112 31h0m-11 -37h0m-4 14h0m-26 -1h0m10 -25h0m-6 25h0m58 -72h0m-38 96h0m-50 -49h0m56 -10h0m-48 46h0m-1 -52h0m33 7h0m-6 13h0m33 -5h0m-111 18h0m60 -4h0m9 -38h0m7 3h0m19 11h0m-38 -9h0m60 13h0m-17 -1h0m-20 24h0m-12 -14h0m-12 8h0m-7 -18h0m22 9h0m-30 14h0m-13 -18h0m111 11h0m-106 -2h0m-1 27h0m104 -39h0m-54 39h0m27 -21h0m-26 -24h0m51 1h0m-44 10h0m-3 15h0m39 -7h0m-53 -26h0m-11 65h0m17 -25h0m-36 -23h0m8 -13h0m25 -27h0m3 58h0m-17 -13h0m94 -27h0m-62 22h0m-44 -1h0m48 16h0m22 22h0m-37 -28h0m-29 -16h0m51 30h0m-28 -3h0m58 -15h0m-87 -26h0m42 -10h0m0 65h0m9 -74h0m-26 58h0m34 -55h0m-8 -12h0m59 39h0m6 -33h0m-36 -3h0m3 32h0m18 -45h0m-32 35h0m22 -25h0m11 -27h0m-31 -32h0m0 73h0m15 15h0m14 0h0m23 -31h0m-29 22h0m-8 -12h0m-2 -5h0m-16 3h0m-3 -8h0m56 -5h0" stroke="#cb422c" stroke-width="3.4" stroke-linecap="round"/>
<path d="M113 2104C114 2101 114.5 2091 119 2086C123.5 2081 132 2077.8 140 2074C148 2070.2 158.7 2067.2 167 2063C175.3 2058.8 182.2 2054.5 190 2049C197.8 2043.5 206.2 2036.2 214 2030C221.8 2023.8 227.7 2017 237 2012C246.3 2007 260 2001 270 2000C280 1999 288 2001.7 297 2006C306 2010.3 315.5 2019.7 324 2026C332.5 2032.3 340.2 2038.8 348 2044C355.8 2049.2 364.5 2053.5 371 2057C377.5 2060.5 382.5 2062.5 387 2065C391.5 2067.5 395.2 2069.8 398 2072C400.8 2074.2 402.5 2076 404 2078C405.5 2080 406.5 2083 407 2084" fill="none" stroke="#5a5a5a" stroke-opacity="0.88" stroke-width="3.5" stroke-linecap="round"/>
<path d="M113 2104C113.5 2105.5 113 2110.8 116 2113C119 2115.2 124.5 2115.8 131 2117C137.5 2118.2 147.2 2119.2 155 2120C162.8 2120.8 169.2 2120.3 178 2122C186.8 2123.7 198.2 2127.7 208 2130C217.8 2132.3 227.2 2134 237 2136C246.8 2138 256.7 2139.8 267 2142C277.3 2144.2 289.2 2146.8 299 2149C308.8 2151.2 318.5 2153.7 326 2155C333.5 2156.3 336.7 2156.5 344 2157C351.3 2157.5 362.7 2156.5 370 2158C377.3 2159.5 385 2164.7 388 2166" fill="none" stroke="#5a5a5a" stroke-opacity="0.88" stroke-width="3.5" stroke-linecap="round"/>
<path d="M132 2112C135.8 2113.7 148.3 2118.5 155 2122C161.7 2125.5 167.2 2128.2 172 2133C176.8 2137.8 180 2144 184 2151C188 2158 191 2167 196 2175C201 2183 207.2 2193.2 214 2199C220.8 2204.8 227.2 2207.2 237 2210C246.8 2212.8 264 2216 273 2216C282 2216 286.3 2212.2 291 2210C295.7 2207.8 296 2207 301 2203C306 2199 314.5 2190 321 2186C327.5 2182 331.8 2181 340 2179C348.2 2177 362 2175 370 2174C378 2173 385 2173.2 388 2173" fill="none" stroke="#5a5a5a" stroke-opacity="0.88" stroke-width="3.5" stroke-linecap="round"/>
<path d="M525 1967V2284H906" fill="none" stroke="#111" stroke-width="1.6"/>
<path d="M525 1978h-3M525 2060h-3M525 2143h-3M525 2225h-3M629 2284v3M753 2284v3M886 2284v3" stroke="#111" stroke-width="1.2"/>
<path d="M681 2006h0m71 -20h0m-16 2h0m8 -3h0m45 5h0m-69 -3h0m-48 10h0m10 -4h0m91 1h0m-96 -2h0m119 -2h0m-79 7h0m-36 -4h0m99 -13h0m-89 17h0m-10 -4h0m51 -6h0m-3 -9h0m-2 8h0m65 1h0m-80 0h0m3 3h0m-7 -7h0m73 13h0m-12 -11h0m-28 6h0m-15 -1h0m30 0h0m-63 4h0m10 -4h0m-17 9h0m35 -7h0m14 2h0m-48 2h0m16 -8h0m-27 11h0m10 -7h0m56 -2h0m22 1h0m51 68h0m11 -15h0m21 27h0m37 27h0m-65 -34h0m-10 -6h0m0 -4h0m23 5h0m-1 9h0m4 -13h0m-32 -5h0m7 9h0m-9 3h0m23 -4h0m-24 -7h0m27 19h0m-9 -18h0m-1 9h0m2 -12h0m-2 5h0m-43 -25h0m47 34h0m-4 -14h0m9 6h0m-5 -7h0m-53 -22h0m42 33h0m-5 -15h0m-6 1h0m21 14h0m-7 -8h0m24 9h0m-17 4h0m-32 -24h0m28 12h0m-6 14h0m7 -27h0m1 4h0m-4 8h0m-3 15h0m19 -9h0m-19 1h0m20 12h0m-21 5h0m8 -8h0m-13 -21h0m6 15h0m15 11h0m1 -12h0m-11 4h0m-26 -4h0m34 21h0m3 -15h0m-18 0h0m44 16h0m-28 -32h0m-1 15h0m-42 -10h0m24 5h0m17 4h0m-10 -3h0m11 -1h0m-2 -7h0m9 32h0m-53 -32h0m56 8h0m-40 -14h0m2 -3h0m26 1h0m17 25h0m-7 -10h0m-36 -17h0m11 9h0m-31 -6h0m-186 -7h0m71 -20h0m8 2h0m0 60h0m45 -9h0m-76 -14h0m93 35h0m-62 -32h0m-75 41h0m113 3h0m-41 14h0m121 -3h0m-170 -25h0m82 34h0m43 13h0m-8 -6h0m-80 -36h0m138 45h0m-64 -11h0m64 -3h0m-146 -32h0m-47 1h0m55 12h0m137 35h0m-99 -34h0m-95 3h0m127 21h0m-108 -23h0m0 -23h0m66 30h0m86 19h0m-173 -55h0m214 66h0m-33 -9h0m-128 -39h0m108 27h0m22 19h0m-190 -37h0m3 2h0m87 3h0m5 17h0m26 -1h0m73 12h0m-81 -39h0m-111 21h0m3 -18h0m14 42h0m-54 -4h0m14 -28h0m26 -12h0m-7 31h0m19 -63h0m12 49h0m-39 20h0m29 7h0m-39 -19h0m-4 -31h0m21 8h0m16 26h0m-19 -33h0m-25 18h0m33 48h0m-38 -44h0m7 17h0m19 -14h0m5 9h0m-15 5h0m19 -12h0m29 4h0m-51 -37h0m-13 32h0m16 14h0m133 33h0m29 -39h0m52 29h0m-29 -26h0m-54 9h0m-4 29h0m39 -6h0m28 9h0m-11 -11h0m-74 2h0m111 -40h0m-21 50h0m-29 3h0m-114 -90h0m156 84h0m-71 -14h0m-23 8h0m6 0h0m118 15h0m-62 -35h0m-60 34h0m101 -9h0m-89 -54h0m-101 48h0m110 -19h0m69 -22h0m-54 2h0m65 -44h0m-24 93h0m36 -2h0m68 -65h0m-64 40h0m-58 30h0m21 -72h0m-74 79h0m-8 -4h0m-35 -57h0m90 9h0m-105 -35h0m46 20h0m-5 57h0m52 -30h0m-136 26h0m144 -34h0m67 37h0m-80 -29h0m-22 41h0m29 -39h0m-17 7h0m-10 8h0m87 -7h0m-19 28h0m-118 -18h0m150 -60h0m-62 65h0m29 -19h0m8 6h0m-28 -14h0m61 0h0m-103 -35h0m102 6h0m-17 41h0m-128 31h0m43 -82h0m-7 56h0m-88 15h0m84 -54h0m135 28h0m-90 26h0m-81 -21h0m66 29h0m60 -5h0m-38 -1h0m-24 -10h0m90 -32h0m-150 51h0m97 -19h0m-101 -37h0m-10 -42h0m174 95h0m-21 -54h0m-17 60h0m9 -25h0m17 -27h0m-49 30h0m5 -55h0m22 21h0m-27 20h0m61 -55h0m-13 48h0m-4 9h0m7 70h0m-59 -56h0m72 -32h0m-42 11h0m15 -9h0m35 37h0m-49 16h0m39 -67h0m-27 52h0m-19 -4h0m40 7h0m-48 -50h0m33 63h0m-14 -33h0m7 -22h0m23 -17h0m-49 67h0m13 -40h0m6 -6h0m-18 46h0m36 4h0m-1 -58h0m-15 -3h0m-33 53h0m82 -57h0m-60 44h0m37 -23h0m-30 15h0m-11 -11h0m-15 -4h0m34 -50h0m-12 74h0m46 -19h0m-50 3h0m10 -29h0m-28 81h0m30 13h0m44 -64h0m-51 -4h0m76 45h0m-74 -22h0m-22 -52h0m20 50h0m37 -6h0m-5 -55h0m-21 69h0m0 -38h0m-21 9h0m29 -25h0m46 22h0m-39 22h0m22 -15h0m-46 47h0m18 -20h0m9 46h0m-12 -81h0m-8 32h0m1 9h0m47 -23h0m-52 0h0m-13 -4h0m-7 -7h0m64 -1h0m-38 -19h0m19 16h0m31 42h0m-22 -51h0m-9 15h0m32 -13h0m-14 -17h0m-36 20h0m-11 25h0m20 -33h0m17 -7h0m-10 -28h0m1 1h0m-23 54h0m-8 -42h0m17 21h0m-4 11h0m13 -1h0m-12 57h0m17 -49h0m-29 54h0m14 -49h0m18 33h0m-23 -36h0m7 -7h0m30 -30h0m-46 43h0m-2 25h0m64 -44h0m-54 14h0m-20 34h0m40 -105h0m-3 39h0m21 -46h0m-21 79h0m-10 24h0m-23 -36h0m21 -58h0m-22 97h0m25 12h0m4 -124h0m-10 55h0m0 38h0m-2 -49h0m25 33h0m-35 56h0m7 -37h0m29 -38h0m-2 37h0m-5 -74h0m-18 36h0m-16 -16h0m-3 -7h0m43 62h0m-30 -38h0m-10 33h0m4 -41h0m32 -18h0m-19 19h0m19 22h0m-22 -15h0m0 31h0m-2 -44h0m17 14h0m-4 9h0m-48 -31h0m6 75h0m66 -64h0m-30 76h0m-15 -77h0m21 -18h0m22 69h0m-17 -40h0m-28 36h0m3 -33h0m24 89h0m-36 -47h0m28 -47h0m-12 13h0m-15 -37h0m3 75h0m10 14h0m23 -51h0m-18 52h0m-31 -71h0m28 55h0m21 -5h0m-25 -54h0m30 33h0m-16 -15h0m-17 -14h0m32 0h0m2 0h0m-37 26h0m7 -45h0m17 12h0m-30 14h0m-9 19h0m49 14h0m-41 -24h0m30 -19h0m27 43h0m-32 -25h0m-2 16h0m-24 27h0m18 -53h0m10 -25h0m8 48h0m-23 9h0m-12 13h0m46 -104h0m-58 64h0m60 13h0m-23 20h0m23 -18h0m-33 55h0m25 -88h0m-27 60h0m6 -12h0m27 5h0m-30 -32h0m13 44h0m28 -11h0m-50 -57h0m54 25h0m-37 -6h0m-6 40h0m28 -25h0m10 32h0m-38 -18h0m-9 31h0m7 -53h0m-6 63h0m14 -33h0m10 -30h0m-16 -5h0m32 55h0m-24 -66h0m28 -1h0m-46 50h0m29 -10h0m-15 -1h0m-6 -26h0m4 39h0m36 -42h0m-49 18h0m10 -5h0m35 -26h0m-14 -6h0m-18 74h0m-2 -45h0m10 37h0m3 -84h0m16 47h0m-25 -1h0m-4 28h0m54 4h0m-65 -55h0m-21 1h0m49 26h0m-16 -68h0m-8 92h0m49 3h0m-12 -10h0m-14 -17h0m60 -3h0m-23 -18h0m46 97h0m-60 -59h0m60 -73h0m-59 -10h0m-3 80h0m3 -76h0m53 103h0m-1 -111h0m-38 143h0m2 -66h0m22 -4h0m14 -25h0" stroke="#d2d2d2" stroke-width="3.4" stroke-linecap="round"/>
<path d="M743 1989h0m36 5h0m-30 -6h0m33 3h0m9 0h0m-2 10h0m-92 -17h0m-9 12h0m20 -9h0m6 10h0m50 -8h0m21 -1h0m8 10h0m-49 -8h0m-47 -1h0m61 -3h0m-78 2h0m49 0h0m46 8h0m-14 -13h0m11 3h0m-82 4h0m73 3h0m-27 -4h0m-36 -1h0m53 5h0m-26 -6h0m18 -5h0m-44 11h0m66 3h0m-55 -2h0m57 3h0m20 2h0m-63 -8h0m18 -4h0m18 -1h0m-29 2h0m-34 -2h0m29 3h0m-43 1h0m-7 6h0m67 -4h0m41 -1h0m-16 2h0m-81 4h0m100 -11h0m-72 3h0m-31 10h0m23 -14h0m79 2h0m-82 -3h0m32 5h0m46 3h0m-67 -10h0m-10 12h0m41 1h0m-9 -2h0m-31 8h0m73 -8h0m-10 3h0m-14 -3h0m30 3h0m-7 -6h0m-2 -8h0m-18 11h0m29 47h0m45 15h0m-18 15h0m-5 -14h0m-35 -3h0m35 -21h0m24 24h0m-14 1h0m-40 -13h0m39 18h0m-20 -18h0m-8 6h0m53 17h0m-76 -36h0m17 13h0m31 0h0m3 -2h0m0 7h0m23 14h0m-38 -29h0m42 36h0m-21 -10h0m16 13h0m-44 -20h0m-1 -1h0m10 -4h0m10 18h0m8 4h0m-36 -22h0m20 14h0m10 -6h0m10 14h0m-15 -15h0m-19 -3h0m10 -3h0m18 6h0m-20 -13h0m58 34h0m-72 -52h0m8 35h0m43 1h0m-28 -20h0m4 14h0m-40 -35h0m28 46h0m20 -10h0m-41 3h0m15 -4h0m18 2h0m33 12h0m-40 -17h0m-57 -21h0m43 16h0m26 11h0m9 13h0m-14 -17h0m-7 -3h0m8 -3h0m52 32h0m-72 -40h0m34 21h0m4 13h0m5 -5h0m-42 -31h0m0 31h0m12 -25h0m19 15h0m18 6h0m-29 1h0m3 -9h0m-29 -18h0m24 14h0m-5 4h0m11 -4h0m-13 -3h0m-9 -6h0m9 22h0m-27 -34h0m21 33h0m5 -16h0m13 10h0m17 28h0m-37 -34h0m-3 -9h0m15 10h0m-35 -9h0m26 16h0m41 18h0m-16 -20h0m-33 -17h0m-36 -11h0m45 23h0m65 24h0m-29 -10h0m-67 -36h0m40 18h0m-19 -1h0m12 -2h0m45 32h0m-46 -30h0m38 14h0m-21 2h0m-40 -14h0m29 3h0m-25 -12h0m39 12h0m-13 -1h0m-3 -8h0m-26 -8h0m-9 -19h0m23 43h0m-21 -21h0m24 -1h0m-2 19h0m15 -6h0m-33 -6h0m26 14h0m4 -2h0m-19 3h0m14 4h0m32 6h0m-25 -16h0m-7 -7h0m29 26h0m-35 -14h0m12 -13h0m-35 3h0m56 5h0m7 10h0m-13 15h0m-20 -18h0m-13 -22h0m32 27h0m-12 -24h0m12 21h0m-39 -18h0m9 15h0m41 4h0m-13 -18h0m-2 23h0m4 -11h0m-6 -3h0m15 0h0m10 7h0m-27 10h0m36 16h0m-84 -40h0m58 12h0m-27 -19h0m-7 17h0m44 1h0m-41 -24h0m24 25h0m-12 8h0m4 -18h0m-12 20h0m3 -26h0m-21 -6h0m32 30h0m-3 -22h0m23 18h0m-5 -4h0m6 1h0m-51 -37h0m29 32h0m-2 7h0m18 0h0m-156 1h0m-72 16h0m85 19h0m-23 -61h0m101 11h0m-53 52h0m6 -7h0m-99 -29h0m132 -43h0m-119 4h0m141 75h0m-135 -61h0m-23 20h0m86 -38h0m-20 22h0m122 95h0m-49 -4h0m-100 -35h0m58 31h0m-13 -8h0m-10 4h0m-71 -17h0m147 22h0m-36 -25h0m-55 13h0m129 28h0m-24 -20h0m-135 -25h0m60 31h0m-38 -23h0m77 10h0m52 23h0m-177 -28h0m147 23h0m-120 -38h0m-33 -17h0m150 57h0m-32 -8h0m-57 -22h0m77 3h0m17 -5h0m-130 -9h0m15 21h0m144 11h0m-136 -34h0m112 40h0m24 10h0m-152 -53h0m109 24h0m-147 -26h0m17 23h0m95 13h0m33 10h0m-69 -49h0m-68 4h0m122 45h0m-73 -34h0m63 33h0m41 4h0m-112 -17h0m99 3h0m-67 1h0m90 -4h0m-187 -51h0m10 36h0m70 11h0m-64 -6h0m198 18h0m-169 -28h0m-44 3h0m192 15h0m13 -5h0m-60 10h0m52 18h0m-159 -44h0m31 24h0m-31 -38h0m-11 20h0m33 7h0m154 38h0m-28 -23h0m-157 -18h0m69 15h0m-51 -17h0m126 26h0m-151 -43h0m118 27h0m-44 3h0m1 -3h0m-87 -11h0m5 -6h0m46 -16h0m-45 6h0m82 34h0m-38 -6h0m136 16h0m-132 -27h0m66 10h0m-139 4h0m28 -24h0m-34 -7h0m30 22h0m-24 -21h0m39 18h0m-46 18h0m-20 -11h0m-17 1h0m30 -22h0m39 15h0m-28 -16h0m8 2h0m-10 7h0m15 10h0m-6 17h0m-3 -31h0m-27 43h0m31 -11h0m14 -16h0m-25 -28h0m-17 45h0m17 -8h0m10 -16h0m1 10h0m3 2h0m-24 21h0m12 -21h0m24 -3h0m-31 43h0m43 -60h0m-21 51h0m5 -52h0m22 25h0m-64 19h0m15 20h0m14 -74h0m-21 25h0m30 2h0m162 27h0m-53 4h0m71 23h0m-162 -18h0m142 31h0m-71 -22h0m120 11h0m-155 8h0m107 -13h0m-6 -3h0m-11 -21h0m-104 24h0m133 -10h0m-105 87h0m84 -98h0m-70 29h0m42 38h0m-22 -76h0m3 8h0m48 -13h0m61 31h0m-116 -25h0m102 -25h0m-134 49h0m142 17h0m-130 -9h0m128 0h0m-108 -16h0m68 11h0m-85 -48h0m97 68h0m-65 -27h0m69 -78h0m-57 27h0m23 10h0m7 32h0m-18 26h0m-86 -75h0m99 47h0m-97 14h0m70 -43h0m-44 65h0m-11 -70h0m83 43h0m-58 19h0m76 8h0m-18 -63h0m-72 40h0m46 -25h0m-6 27h0m-17 18h0m-29 3h0m80 -53h0m-37 -2h0m-45 12h0m-4 43h0m29 -21h0m23 48h0m54 -71h0m30 59h0m25 -22h0m-115 -5h0m103 -78h0m-67 63h0m-24 57h0m-38 -50h0m-17 -61h0m27 97h0m-30 -39h0m0 -38h0m69 15h0m20 19h0m-43 43h0m0 -68h0m29 35h0m53 -54h0m-52 38h0m80 -49h0m-120 61h0m41 63h0m9 -61h0m-67 -11h0m106 -42h0m49 31h0m-94 -10h0m-101 -39h0m33 79h0m83 -3h0m34 -52h0m-52 26h0m59 15h0m-136 22h0m55 -11h0m-28 37h0m-3 -91h0m-28 62h0m76 -75h0m13 32h0m-22 7h0m-26 83h0m-82 -62h0m158 -32h0m2 44h0m38 -14h0m-80 19h0m-21 -37h0m-49 15h0m40 2h0m128 -31h0m-81 56h0m109 -68h0m-73 46h0m-88 8h0m-11 -46h0m81 33h0m-79 21h0m-9 3h0m29 -60h0m6 -1h0m36 -8h0m-125 17h0m62 -29h0m69 76h0m-19 -11h0m-13 -57h0m30 62h0m29 14h0m-72 -9h0m-36 -18h0m29 -11h0m139 -2h0m-147 90h0m-88 -132h0m216 72h0m-52 7h0m-17 62h0m-46 -142h0m-24 77h0m104 -39h0m-41 9h0m-19 0h0m82 10h0m-33 -15h0m-17 -60h0m58 71h0m-23 74h0m-84 -56h0m37 -34h0m-57 99h0m74 -103h0m-2 -11h0m-31 -6h0m-77 43h0m100 -2h0m-19 51h0m68 -92h0m-151 34h0m109 29h0m19 -77h0m57 62h0m-55 -20h0m-6 8h0m19 -12h0m-51 11h0m73 -41h0m-63 79h0m108 -14h0m-45 -34h0m-51 -10h0m30 14h0m-1 7h0m-12 -8h0m-4 -22h0m2 20h0m-11 39h0m22 -8h0m6 15h0m15 -50h0m-57 91h0m78 -75h0m-20 22h0m-3 -10h0m42 14h0m-34 36h0m16 -95h0m-23 85h0m-36 -84h0m11 31h0m13 36h0m-2 -30h0m-3 25h0m40 5h0m-25 -79h0m-24 86h0m-6 -8h0m10 -73h0m-1 62h0m22 -91h0m-24 60h0m-1 -9h0m-33 17h0m45 2h0m31 -34h0m-22 46h0m-12 -6h0m-14 8h0m37 3h0m-9 -6h0m-14 -21h0m25 -38h0m-16 59h0m17 -16h0m-46 -5h0m27 26h0m-11 -18h0m3 -2h0m-18 -23h0m14 25h0m-11 -1h0m28 13h0m2 -18h0m-26 42h0m71 -1h0m-51 -32h0m-7 25h0m-11 -47h0m15 11h0m18 -3h0m0 31h0m-45 -23h0m19 -14h0m-2 -37h0m11 76h0m-43 32h0m1 -15h0m2 -12h0m38 -17h0m-1 -49h0m-13 -12h0m29 66h0m-44 -5h0m17 -20h0m13 -11h0m-1 31h0m-1 -27h0m-12 8h0m-39 -21h0m16 22h0m31 28h0m-20 -30h0m16 -8h0m26 17h0m6 -8h0m-37 24h0m26 15h0m9 2h0m-30 28h0m61 5h0m-98 -41h0m56 -81h0m-9 34h0m30 18h0m-12 19h0m-22 5h0m16 -23h0m-45 30h0m37 -40h0m-30 -23h0m-4 86h0m-21 -11h0m30 -65h0m22 7h0m28 20h0m-84 -18h0m25 24h0m35 77h0m46 -18h0m-50 -69h0m9 29h0m1 -27h0m-43 3h0m16 9h0m10 -15h0m0 24h0m-19 -2h0m83 -49h0m-51 40h0m-4 -29h0m9 19h0m-3 -30h0m-16 60h0m9 14h0m-25 -48h0m40 10h0m-44 -6h0m30 -21h0m-13 -1h0m-12 50h0m-10 -11h0m12 -16h0m41 34h0m-22 -57h0m-18 31h0m11 11h0m-12 34h0m27 -47h0m-15 -13h0m-13 -23h0m16 82h0m-15 -56h0m22 5h0m16 8h0m-2 2h0m-48 -23h0m46 -14h0m8 93h0m-26 -52h0m47 -15h0m-41 34h0m8 -34h0m-16 31h0m-40 -28h0m46 -30h0m-33 -3h0m23 10h0m21 46h0m-1 -32h0m-29 43h0m18 -63h0m47 31h0m-19 2h0m-57 13h0m33 -16h0m-10 21h0m-15 -28h0m46 -12h0m-47 20h0m-10 7h0m84 -28h0m-15 -1h0m-10 -33h0m19 84h0m-1 34h0m1 -17h0m33 -93h0m-26 -21h0m-18 59h0m19 16h0m29 38h0m-57 -131h0m21 161h0m-10 -50h0m-7 -111h0m24 146h0m21 -54h0" stroke="#d8cbc8" stroke-width="3.4" stroke-linecap="round"/>
<path d="M705 1982h0m-13 9h0m101 8h0m-106 -13h0m30 8h0m51 -6h0m28 57h0m9 2h0m36 27h0m-18 -2h0m-6 -19h0m12 0h0m-11 10h0m16 11h0m-57 -19h0m49 4h0m-25 -10h0m20 20h0m11 -9h0m-24 -11h0m-21 -1h0m18 -15h0m-2 34h0m20 -10h0m-60 -31h0m61 44h0m-195 -49h0m43 33h0m-4 -24h0m82 -4h0m-14 2h0m-121 10h0m169 48h0m-105 -6h0m-79 -8h0m164 -43h0m-140 73h0m81 -10h0m-83 -24h0m38 -30h0m120 6h0m-177 51h0m56 -32h0m-26 -7h0m-46 -18h0m120 -1h0m-111 24h0m-6 41h0m63 -1h0m145 43h0m-128 -43h0m-47 17h0m-24 -17h0m209 52h0m-53 -11h0m-129 -36h0m88 21h0m-127 -45h0m198 46h0m-173 -17h0m24 -5h0m-30 -7h0m184 51h0m-155 -31h0m11 -7h0m-41 0h0m130 24h0m-37 -11h0m10 -10h0m-26 7h0m48 -10h0m49 32h0m30 7h0m-164 -49h0m34 24h0m-69 -49h0m1 22h0m99 11h0m-27 15h0m-10 -22h0m44 20h0m-93 -4h0m158 22h0m-139 -22h0m-30 -3h0m119 -11h0m64 44h0m-146 -42h0m-65 -23h0m217 56h0m-65 -30h0m16 7h0m-45 10h0m-76 -8h0m103 3h0m-97 -16h0m81 30h0m-74 -18h0m116 12h0m9 -4h0m-2 18h0m-42 -12h0m-95 -46h0m53 43h0m-61 -27h0m67 27h0m52 10h0m25 -14h0m-5 -5h0m-93 1h0m-62 -18h0m2 -8h0m150 19h0m37 21h0m-172 -29h0m80 7h0m-52 0h0m-47 -31h0m59 38h0m79 10h0m-106 -13h0m28 -23h0m51 41h0m-38 -25h0m5 8h0m-74 -11h0m-35 32h0m19 -38h0m-22 -5h0m45 -1h0m-58 1h0m72 38h0m-74 -25h0m10 6h0m43 -32h0m-12 32h0m23 6h0m-29 -14h0m4 8h0m6 3h0m-22 30h0m27 -17h0m-24 -17h0m0 -15h0m7 15h0m-19 12h0m15 -19h0m-16 32h0m27 -59h0m-55 36h0m20 23h0m34 -26h0m-38 1h0m55 -12h0m-43 0h0m-26 22h0m31 -27h0m3 9h0m-22 8h0m3 -3h0m7 8h0m29 -15h0m-23 14h0m-4 -23h0m-4 6h0m49 31h0m-37 14h0m12 -52h0m-29 17h0m1 27h0m0 -20h0m75 -13h0m-61 -5h0m23 16h0m-25 -28h0m-29 47h0m40 -33h0m126 18h0m-22 59h0m101 -60h0m-13 29h0m-31 30h0m27 -5h0m44 5h0m-18 0h0m-127 -26h0m117 37h0m-91 -80h0m65 47h0m-52 1h0m25 -18h0m-42 34h0m74 38h0m-59 -98h0m82 42h0m27 -54h0m-46 107h0m-7 -12h0m13 -18h0m33 22h0m-86 -16h0m0 -51h0m115 25h0m-79 1h0m-19 8h0m-28 -62h0m31 13h0m-40 97h0m26 -50h0m-53 87h0m27 -160h0m9 28h0m12 18h0m102 -33h0m-186 80h0m65 -2h0m7 -26h0m79 -33h0m-45 -8h0m-31 88h0m22 -80h0m-60 3h0m44 61h0m-83 -15h0m68 -24h0m65 -56h0m18 111h0m10 -16h0m-82 -5h0m9 -56h0m-18 78h0m-37 -7h0m140 -77h0m67 63h0m-125 4h0m-85 -117h0m84 64h0m-40 18h0m6 -9h0m-9 24h0m83 48h0m-75 -46h0m-37 -34h0m18 94h0m46 -13h0m0 -39h0m29 -20h0m-45 -2h0m1 -3h0m55 -31h0m-76 66h0m83 31h0m-109 -63h0m-42 -10h0m74 40h0m15 -51h0m-32 40h0m-20 -35h0m92 83h0m-87 -12h0m49 -127h0m27 85h0m3 -60h0m-41 87h0m-4 20h0m-70 25h0m45 -74h0m69 27h0m-62 -64h0m1 95h0m-25 -95h0m45 21h0m-3 5h0m-22 3h0m18 -4h0m-57 2h0m158 36h0m-54 -34h0m-31 82h0m-16 -104h0m-141 -5h0m221 66h0m-36 -44h0m-26 69h0m58 -27h0m17 -33h0m-192 5h0m136 -38h0m21 114h0m-51 -75h0m44 -47h0m-40 11h0m-10 48h0m127 50h0m-59 -75h0m-110 -3h0m103 19h0m-12 29h0m-54 1h0m7 -29h0m-9 39h0m-40 -42h0m112 102h0m-39 -120h0m-18 12h0m6 86h0m-22 -54h0m-11 -17h0m-4 -12h0m-7 -7h0m15 3h0m97 32h0m-151 -60h0m84 29h0m-1 -26h0m80 -29h0m-94 17h0m-4 98h0m7 -10h0m-57 -85h0m64 30h0m55 46h0m-66 -83h0m71 60h0m-9 -23h0m-57 5h0m15 25h0m51 -64h0m-94 48h0m-17 -1h0m95 -40h0m-120 54h0m103 -58h0m-15 -24h0m10 39h0m-99 -14h0m80 131h0m-16 -86h0m85 -80h0m9 86h0m-51 -81h0m-1 58h0m-48 -17h0m43 59h0m19 -86h0m-12 22h0m-79 60h0m-18 -61h0m66 65h0m-28 -85h0m-53 47h0m145 -21h0m-14 12h0m-33 89h0m33 -81h0m-6 31h0m-53 73h0m31 -43h0m16 -74h0m12 38h0m34 -68h0m-62 99h0m16 -70h0m-40 28h0m-58 -45h0m81 94h0m6 -91h0m-25 -4h0m-23 64h0m-113 11h0m149 -47h0m20 -62h0m29 42h0m-97 93h0m93 -50h0m-26 14h0m-31 -63h0m75 53h0m-115 -32h0m146 49h0m-55 -18h0m-31 -18h0m96 20h0m-60 -24h0m-2 -41h0m-48 -15h0m20 135h0m-11 -18h0m16 10h0m20 18h0m-69 18h0m13 -46h0m23 -14h0m-47 5h0m19 21h0m13 14h0m24 24h0m-29 -35h0m46 -15h0m-23 -5h0m7 -5h0m6 45h0m6 -16h0m-38 -35h0m44 2h0m-37 47h0m24 -6h0m-32 -24h0m6 8h0m-12 24h0m-30 -12h0m94 -15h0m-39 -23h0m61 59h0m-40 -30h0m-94 -16h0m68 4h0m-2 -47h0m-7 27h0m59 3h0m1 6h0m-64 2h0m57 12h0m-69 29h0m25 3h0m74 -60h0m-58 37h0m-48 -16h0m52 21h0m-17 -2h0m-37 -39h0m42 -10h0" stroke="#dec4be" stroke-width="3.4" stroke-linecap="round"/>
<path d="M799 2136h0m-48 -11h0m-18 8h0m-123 -29h0m-10 4h0m109 -16h0m-23 36h0m123 5h0m-8 2h0m-192 -28h0m112 15h0m38 6h0m-73 -9h0m41 -13h0m-73 17h0m-51 -42h0m80 20h0m-47 9h0m-29 -14h0m146 35h0m43 9h0m-103 -13h0m-2 -20h0m-83 -1h0m81 12h0m-96 -16h0m-42 -6h0m43 23h0m8 8h0m-9 -10h0m25 18h0m-14 -32h0m-5 13h0m-42 2h0m-16 -17h0m57 24h0m145 144h0m-8 -45h0m-6 43h0m-47 -63h0m22 -82h0m56 141h0m-84 -52h0m73 24h0m-71 -32h0m26 9h0m17 1h0m52 -9h0m-52 -71h0m-62 58h0m108 33h0m-44 -19h0m15 -3h0m56 -3h0m-3 11h0m-54 -16h0m-57 45h0m34 -35h0m-18 32h0m171 26h0m-190 -48h0m-1 18h0m104 -16h0m-67 -12h0m-10 45h0m-39 6h0m26 -65h0m15 4h0m62 51h0m-22 -103h0m-22 109h0m-64 -31h0m59 -86h0m37 124h0m20 -49h0m-82 -115h0m23 115h0m-63 -5h0m104 -107h0m-82 22h0m58 112h0m71 -34h0m-72 -4h0m50 1h0m-57 -75h0m51 76h0m68 43h0m-220 -9h0m138 16h0m-30 -25h0m33 9h0m-5 -24h0m-40 9h0m25 -13h0m-36 5h0m63 34h0m-36 -14h0m33 -1h0m-1 22h0m-52 -21h0m48 -17h0m-15 8h0m-18 7h0m-22 -27h0m56 -13h0m22 17h0m-80 13h0m14 -1h0m76 17h0m-98 15h0m38 -2h0m-37 -13h0m31 13h0m49 -21h0m-91 -11h0" stroke="#deada0" stroke-width="3.4" stroke-linecap="round"/>
<path d="M681 2130h0m42 8h0m-160 -35h0m43 22h0m-21 -8h0m176 82h0m-55 7h0m131 -56h0m-40 42h0m-75 49h0m99 -6h0m-36 -74h0m-69 40h0m-53 13h0m143 -32h0m-141 19h0m-6 -11h0m105 45h0m-43 -19h0m-33 -26h0m59 17h0m-123 -15h0m127 28h0m-63 3h0m89 -47h0m-31 16h0m44 -41h0m42 85h0m-268 29h0m71 -146h0m73 81h0m16 12h0m20 0h0m33 -9h0m77 64h0m-48 -40h0m-55 -35h0m-10 29h0m-15 26h0m36 -34h0m3 -30h0m-23 41h0m-16 1h0m5 -18h0m-51 -22h0m192 -26h0m-120 -22h0m-50 55h0m-26 -16h0m-29 -19h0m67 53h0m-82 -29h0m-10 37h0m48 -65h0m73 5h0m49 37h0m-96 -26h0m101 35h0m-112 40h0m-16 -12h0m92 22h0m81 -101h0m-182 4h0m61 9h0m79 -71h0m-72 67h0m110 55h0m-17 -85h0m-151 62h0m6 -3h0m87 29h0m-105 -6h0m18 -31h0m-12 18h0m47 34h0m12 -46h0m-31 -15h0m108 39h0m30 -12h0m-143 -20h0m-18 26h0m81 26h0m9 -15h0m-81 12h0m-17 24h0m77 -20h0m-2 -6h0m53 8h0m-129 -28h0m72 -42h0m-75 74h0m112 31h0m-14 -31h0m3 -6h0m-4 14h0m-38 -24h0m24 46h0m61 -53h0m-101 -9h0m34 6h0m30 12h0m-34 -3h0m-25 24h0m17 -64h0m10 66h0m-28 -21h0m9 -52h0m26 64h0m-5 -40h0m-22 -2h0m-12 51h0m54 -23h0m14 22h0m-27 -2h0m-11 -33h0m34 -23h0m-20 45h0m-6 3h0m37 -28h0m-112 -9h0m86 63h0m-39 -36h0m14 4h0m49 -9h0m-16 -79h0m-54 29h0m49 53h0m17 29h0m-28 -45h0m51 1h0m-4 -5h0m-40 15h0m-3 15h0m39 -7h0m-17 -29h0m-82 19h0m35 49h0m60 -23h0m-45 -57h0m-2 49h0m-16 1h0m23 -20h0m-39 2h0m51 11h0m-102 -25h0m59 1h0m68 6h0m-73 27h0m16 -15h0m-18 -8h0m50 3h0m-91 11h0m51 -4h0m16 -14h0m10 32h0m-12 -3h0m0 -27h0m27 48h0m-41 -62h0m81 24h0m-61 10h0m58 -32h0m19 -90h0m0 41h0m-38 27h0m9 10h0m5 3h0m15 -79h0" stroke="#da6c50" stroke-width="3.4" stroke-linecap="round"/>
<path d="M801 2148h0m-155 -34h0m110 30h0m-103 -22h0m-71 26h0m-13 -39h0m11 13h0m-3 27h0m143 9h0m-23 59h0m25 -46h0m61 36h0m19 -10h0m-36 23h0m54 6h0m-1 -17h0m-78 -61h0m113 55h0m-188 -28h0m117 13h0m-74 19h0m15 2h0m-20 -9h0m120 68h0m-92 -42h0m1 -13h0m13 13h0m-110 3h0m48 -9h0m22 -10h0m-13 3h0m61 -21h0m34 23h0m-49 -25h0m41 33h0m-44 14h0m28 -47h0m-50 -32h0m20 47h0m74 45h0m-25 -57h0m-53 19h0m-130 -41h0m160 48h0m-92 22h0m119 -35h0m-51 38h0m-144 -90h0m-1 42h0m108 -22h0m-7 21h0m155 31h0m-116 -16h0m36 -5h0m-66 33h0m70 -71h0m2 49h0m-105 -44h0m131 48h0m-84 17h0m0 -27h0m-63 -13h0m208 -5h0m-163 11h0m61 -49h0m-78 16h0m130 13h0m-117 -8h0m-54 -18h0m19 52h0m61 26h0m51 -28h0m-95 -67h0m130 46h0m-20 51h0m-96 -143h0m63 115h0m-79 16h0m41 -77h0m102 64h0m-122 -36h0m64 72h0m4 -56h0m-84 18h0m52 -42h0m-32 33h0m55 12h0m20 -5h0m5 -75h0m-112 99h0m72 -55h0m12 -3h0m-57 46h0m4 -22h0m-12 -8h0m133 20h0m-59 -64h0m-66 51h0m136 -38h0m-134 53h0m-25 0h0m37 0h0m-25 -11h0m67 -14h0m-2 19h0m-50 33h0m25 12h0m58 -48h0m-63 51h0m16 -59h0m23 4h0m-19 50h0m-26 -22h0m33 7h0m-45 6h0m114 -8h0m-84 7h0m32 -13h0m-4 25h0m-15 -29h0m7 -7h0m22 37h0m-64 -57h0m74 -1h0m-6 44h0m-56 7h0m53 7h0m-34 -30h0m-17 16h0m32 -7h0m16 9h0m21 -65h0m-40 20h0m-20 35h0m-28 -8h0m19 -2h0m-70 0h0m101 4h0m-10 -11h0m0 4h0m43 1h0m1 18h0m-128 3h0m102 -26h0m-42 22h0m42 -19h0m-89 -2h0m110 38h0m-50 -67h0m-4 12h0m15 44h0m-12 -28h0m14 13h0m-29 -24h0m-13 51h0m38 -71h0m-7 52h0m-34 17h0m38 -49h0m-37 69h0m26 -35h0m55 -4h0m-144 -38h0m130 42h0m-70 -15h0m30 29h0m-52 0h0m-17 -38h0m89 17h0m-1 -10h0m23 9h0m-39 -34h0m7 40h0m-7 -4h0m6 -15h0m-37 22h0m53 -39h0m-23 37h0m-36 6h0m65 -24h0m-70 -11h0m3 22h0m94 -8h0m-35 23h0m-48 -31h0m40 15h0m13 -13h0m2 16h0m-17 25h0m-71 -14h0m24 -7h0m9 -11h0m24 1h0m51 25h0m-35 -31h0m-87 9h0m88 -23h0m-33 -4h0m60 28h0m0 8h0m-55 22h0m-9 -16h0m9 -1h0m24 -64h0m-2 61h0m28 -4h0m-21 2h0m-13 34h0m-23 -51h0m40 12h0m-21 -19h0m-1 20h0m2 3h0m-4 24h0m-52 -47h0m141 30h0m-78 -2h0m-19 -29h0m34 -54h0m7 23h0m42 8h0m-4 -31h0m-26 3h0m30 15h0m30 -35h0m-29 51h0m60 17h0m2 15h0m-6 -22h0" stroke="#d2573e" stroke-width="3.4" stroke-linecap="round"/>
<path d="M803 2150h0m-218 -55h0m16 49h0m-28 3h0m200 53h0m-53 47h0m-60 -45h0m85 23h0m-62 -12h0m103 -5h0m-47 -61h0m-39 71h0m39 -67h0m27 50h0m-70 64h0m9 -52h0m-31 -41h0m102 46h0m-61 -50h0m9 39h0m1 -32h0m82 15h0m-84 4h0m-39 -26h0m-54 10h0m145 67h0m-17 -31h0m7 46h0m-59 -89h0m65 58h0m-71 -70h0m23 48h0m31 -31h0m21 -14h0m-41 -15h0m-59 67h0m87 -16h0m-70 -28h0m-70 45h0m17 -12h0m47 37h0m70 -46h0m-60 -10h0m49 21h0m1 -9h0m45 -15h0m73 -15h0m-145 64h0m-91 -79h0m103 66h0m-53 17h0m63 -18h0m40 13h0m-27 -16h0m-41 25h0m46 -12h0m-11 -19h0m-60 22h0m89 10h0m-18 -10h0m-63 10h0m-22 -29h0m58 37h0m40 0h0m-53 -45h0m-2 40h0m41 -30h0m-48 46h0m-16 -34h0m34 17h0m-16 -12h0m-1 1h0m32 -16h0m10 10h0m16 34h0m-54 -28h0m2 -53h0m58 38h0m-17 -1h0m16 36h0m-101 -14h0m91 -27h0m-73 -10h0m23 33h0m31 24h0m-16 -33h0m-43 -4h0m27 3h0m76 44h0m-65 -73h0m-34 62h0m23 -14h0m81 -25h0m-27 18h0m12 -34h0m-8 45h0m34 -23h0m-40 -35h0m2 47h0m-44 -6h0m-16 6h0m4 -4h0m23 -50h0m8 26h0m14 10h0m22 41h0m-67 -22h0m-22 7h0m60 -33h0m-8 20h0m-29 -16h0m51 30h0m13 1h0m-28 10h0m-12 6h0m-5 -22h0m99 -110h0m18 -26h0m-46 12h0m-12 12h0m-3 56h0m32 43h0m4 -74h0m61 16h0" stroke="#cb422c" stroke-width="3.4" stroke-linecap="round"/>
<path d="M552 2099C553 2096 553.5 2086 558 2081C562.5 2076 571 2072.8 579 2069C587 2065.2 597.7 2062.2 606 2058C614.3 2053.8 621.2 2049.5 629 2044C636.8 2038.5 645.2 2031.2 653 2025C660.8 2018.8 666.7 2012 676 2007C685.3 2002 699 1996 709 1995C719 1994 727 1996.7 736 2001C745 2005.3 754.5 2014.7 763 2021C771.5 2027.3 779.2 2033.8 787 2039C794.8 2044.2 803.5 2048.5 810 2052C816.5 2055.5 821.5 2057.5 826 2060C830.5 2062.5 834.2 2064.8 837 2067C839.8 2069.2 841.5 2071 843 2073C844.5 2075 845.5 2078 846 2079" fill="none" stroke="#5a5a5a" stroke-opacity="0.88" stroke-width="3.5" stroke-linecap="round"/>
<path d="M552 2099C552.5 2100.5 552 2105.8 555 2108C558 2110.2 563.5 2110.8 570 2112C576.5 2113.2 586.2 2114.2 594 2115C601.8 2115.8 608.2 2115.3 617 2117C625.8 2118.7 637.2 2122.7 647 2125C656.8 2127.3 666.2 2129 676 2131C685.8 2133 695.7 2134.8 706 2137C716.3 2139.2 728.2 2141.8 738 2144C747.8 2146.2 757.5 2148.7 765 2150C772.5 2151.3 775.7 2151.5 783 2152C790.3 2152.5 801.7 2151.5 809 2153C816.3 2154.5 824 2159.7 827 2161" fill="none" stroke="#5a5a5a" stroke-opacity="0.88" stroke-width="3.5" stroke-linecap="round"/>
<path d="M571 2107C574.8 2108.7 587.3 2113.5 594 2117C600.7 2120.5 606.2 2123.2 611 2128C615.8 2132.8 619 2139 623 2146C627 2153 630 2162 635 2170C640 2178 646.2 2188.2 653 2194C659.8 2199.8 666.2 2202.2 676 2205C685.8 2207.8 703 2211 712 2211C721 2211 725.3 2207.2 730 2205C734.7 2202.8 735 2202 740 2198C745 2194 753.5 2185 760 2181C766.5 2177 770.8 2176 779 2174C787.2 2172 801 2170 809 2169C817 2168 824 2168.2 827 2168" fill="none" stroke="#5a5a5a" stroke-opacity="0.88" stroke-width="3.5" stroke-linecap="round"/>
<path d="M87 2346V2661H469" fill="none" stroke="#111" stroke-width="1.6"/>
<path d="M87 2355h-3M87 2437h-3M87 2520h-3M87 2602h-3M191 2661v3M315 2661v3M448 2661v3" stroke="#111" stroke-width="1.2"/>
<path d="M268 2360h0m22 5h0m34 -1h0m17 4h0m-25 -5h0m-39 -7h0m17 14h0m-16 -1h0m26 -9h0m-57 18h0m37 -16h0m62 16h0m-14 -5h0m-9 -5h0m-51 8h0m25 -14h0m-27 3h0m15 9h0m-8 -17h0m36 6h0m3 13h0m-5 -10h0m31 -6h0m-57 8h0m-16 -1h0m64 -4h0m-63 -1h0m78 5h0m-17 5h0m-87 -3h0m-1 -7h0m61 9h0m-56 -6h0m53 -1h0m-38 6h0m35 9h0m0 -10h0m13 -5h0m2 3h0m-73 4h0m85 -9h0m-86 18h0m20 -21h0m74 8h0m-14 1h0m-3 2h0m-68 1h0m40 -14h0m0 7h0m-34 3h0m-18 4h0m50 -8h0m102 85h0m-32 -10h0m-17 -29h0m69 50h0m-54 -53h0m21 22h0m-5 -3h0m34 32h0m-79 -50h0m15 8h0m74 39h0m-43 -29h0m-10 20h0m23 -14h0m-41 -22h0m1 12h0m44 22h0m-19 -15h0m8 -11h0m-22 -10h0m2 13h0m22 18h0m50 24h0m-67 -28h0m-3 5h0m-2 -15h0m17 10h0m-5 9h0m21 4h0m-6 -19h0m-19 13h0m2 -1h0m3 -16h0m-18 4h0m26 -8h0m-32 10h0m38 10h0m-7 -21h0m-9 9h0m27 8h0m-32 -10h0m13 6h0m2 -7h0m-19 -11h0m31 38h0m-7 -17h0m-39 -5h0m39 8h0m-7 -12h0m7 7h0m7 6h0m-20 -19h0m-11 2h0m5 8h0m5 3h0m14 -6h0m-36 -5h0m53 3h0m-42 -10h0m32 30h0m-29 -33h0m-9 -8h0m20 14h0m12 22h0m-38 -18h0m-41 -40h0m50 45h0m-2 3h0m40 34h0m-24 -37h0m-5 -13h0m-12 -13h0m6 28h0m43 0h0m-27 1h0m2 3h0m5 1h0m-51 -29h0m66 39h0m-29 -24h0m-4 11h0m-11 -8h0m70 31h0m-42 -17h0m25 4h0m-38 -8h0m18 4h0m-32 -13h0m-7 -14h0m23 7h0m17 19h0m0 -8h0m-32 -1h0m-12 -21h0m56 53h0m4 -8h0m-26 -27h0m-11 -1h0m18 2h0m-14 -11h0m46 18h0m-60 -4h0m29 0h0m28 27h0m-24 -12h0m-12 -6h0m-21 -7h0m47 17h0m-38 -17h0m31 11h0m-17 -5h0m-31 -4h0m7 -5h0m25 1h0m4 4h0m26 6h0m-13 3h0m-37 -25h0m30 1h0m-4 0h0m35 27h0m-22 -7h0m-31 -21h0m51 30h0m-53 -3h0m40 4h0m13 7h0m-59 -17h0m15 7h0m8 -14h0m-49 4h0m15 -33h0m5 9h0m7 16h0m6 2h0m15 -7h0m-154 6h0m-17 -29h0m107 11h0m-154 -6h0m183 17h0m-173 61h0m-3 -61h0m123 62h0m71 17h0m-203 -25h0m0 12h0m191 13h0m-106 -18h0m74 -3h0m-140 10h0m-8 -23h0m4 38h0m-8 0h0m-7 -3h0m-29 2h0m180 43h0m-6 -7h0m-18 -17h0m36 25h0m-18 -32h0m-14 -1h0m75 22h0m-64 -2h0m-9 -13h0m-47 -18h0m42 27h0m-23 13h0m29 0h0m-2 -1h0m10 -48h0m-29 45h0m47 -23h0m76 -1h0m-4 21h0m-21 4h0m-76 -21h0m74 -1h0m-121 -4h0m107 9h0m-117 17h0m97 -3h0m15 -1h0m-39 26h0m-16 47h0m12 1h0m28 -1h0m-31 -20h0m-36 -20h0m120 -71h0m-25 36h0m16 -41h0m-10 14h0m-24 5h0m27 33h0m2 -49h0m-23 32h0m0 -10h0m7 8h0m54 -50h0m-48 36h0m-6 2h0m21 -5h0m-16 -1h0m9 -2h0m-7 8h0m17 -8h0m1 -3h0m-22 36h0m-7 -37h0m-14 -32h0m20 61h0m-24 -2h0m5 -26h0m70 -23h0m-56 46h0m-1 15h0m51 -52h0m-51 19h0m-4 10h0m15 -27h0m8 20h0m-19 -32h0m14 32h0m18 13h0m-47 -27h0m50 31h0m-40 -24h0m17 6h0m9 28h0m36 -39h0m-26 -15h0m-58 38h0m30 -32h0m16 -1h0m-23 9h0m16 11h0m-7 -3h0m-19 18h0m11 30h0m8 -12h0m8 -37h0m-23 4h0m2 -24h0m37 48h0m-8 -13h0m-59 -16h0m44 3h0m8 21h0m7 -37h0m-50 23h0m31 3h0m-8 -6h0m18 3h0m1 26h0m10 -15h0m-27 -2h0m-7 -18h0m43 17h0m7 -11h0m5 -10h0m-12 -10h0m-26 0h0m7 31h0m13 -43h0m-13 0h0m17 19h0m-16 13h0m18 -4h0m6 28h0m-58 -34h0m12 25h0m29 -14h0m0 -3h0m-26 -8h0m-4 -32h0m-20 46h0m54 27h0m19 -54h0m22 7h0m-27 20h0m-27 19h0m-10 -29h0m1 3h0m13 14h0m-12 -23h0m23 30h0m-21 -18h0m20 -4h0m-47 -19h0m46 30h0m7 10h0m-11 1h0m-3 -7h0m6 -27h0m-7 5h0m-19 8h0m32 -14h0m-31 21h0m62 -15h0m-25 7h0m-53 -19h0m11 45h0m-43 -26h0m42 31h0m1 -27h0m11 16h0m-6 0h0m20 -11h0m1 -8h0m-6 29h0m-12 -39h0m13 8h0m21 27h0m-65 -38h0m66 0h0m-10 14h0m-33 24h0m79 -17h0m-78 36h0m4 -38h0m-9 -8h0m-15 -50h0m20 43h0m30 7h0m14 5h0m-31 -5h0m8 -4h0m-21 8h0m20 15h0m-26 2h0m-13 2h0m82 -17h0m-37 0h0m-25 25h0m3 -43h0m-24 42h0m15 -40h0m23 -17h0m16 13h0m-52 43h0m31 -65h0m-1 63h0m30 -15h0m-28 -9h0m-17 -2h0m29 14h0m19 15h0m-29 14h0m-34 -40h0m39 -1h0m-10 -24h0m2 52h0m-17 22h0m35 -61h0m21 21h0m-56 -7h0m42 7h0m-40 2h0m-4 -6h0m14 -22h0m12 11h0m13 30h0m-37 16h0m34 -42h0m-39 6h0m-1 -2h0m14 14h0m34 -27h0m-50 -20h0m37 46h0m12 -9h0m-17 62h0m-6 23h0m33 -32h0m-35 -16h0m-4 33h0m31 -40h0m-27 27h0m5 -18h0m-2 36h0m26 -65h0m8 58h0m-27 -8h0m-9 17h0m10 -5h0m29 -52h0m-41 9h0m26 9h0m-43 -16h0m30 33h0m13 -4h0m-31 -9h0m33 2h0m-22 3h0m20 -16h0m11 72h0m-4 -21h0m-34 -30h0m6 0h0m7 -3h0m8 -9h0m13 -35h0m1 29h0m-34 48h0m-1 -63h0m-24 26h0m-6 -19h0m70 30h0m-80 -13h0m41 20h0m23 4h0m3 -73h0m-14 12h0m-25 24h0m16 4h0m41 15h0m-21 -10h0m6 -19h0m-12 -19h0m6 88h0m6 -99h0m-12 57h0m-29 -42h0m39 83h0m-47 -21h0m44 6h0m-30 -11h0m29 -22h0m-34 -23h0m44 -6h0m-47 -18h0m48 56h0m-13 27h0m-57 -19h0m40 11h0m13 -24h0m-16 -5h0m11 9h0m-42 31h0m36 -55h0m2 -27h0m15 48h0m17 7h0m-31 11h0m17 -11h0m-25 16h0m3 -6h0m26 -26h0m-18 28h0m17 -33h0m-28 -23h0m-12 21h0m-1 -22h0m9 2h0m14 37h0m-18 -2h0m4 -36h0m12 36h0m-37 -35h0m29 6h0m61 37h0m30 -69h0m-39 52h0m11 -14h0m-19 -73h0m17 18h0m30 27h0m-4 -5h0m-57 77h0m11 2h0m47 -105h0m-20 24h0m-10 -8h0m-8 90h0m16 -116h0" stroke="#d2d2d2" stroke-width="3.4" stroke-linecap="round"/>
<path d="M328 2365h0m9 3h0m-10 4h0m-86 -5h0m51 -5h0m31 7h0m-10 -6h0m21 3h0m-22 -10h0m-33 8h0m-18 3h0m60 -10h0m-74 20h0m68 -10h0m36 -2h0m-20 2h0m1 0h0m-82 6h0m21 5h0m44 -12h0m-35 3h0m70 1h0m-59 -6h0m43 -3h0m-80 5h0m60 7h0m21 0h0m-84 -1h0m60 -4h0m29 -6h0m-90 -3h0m36 5h0m68 -3h0m-7 10h0m-103 0h0m-4 3h0m35 -11h0m11 2h0m16 -4h0m-43 9h0m58 -7h0m-57 15h0m13 -4h0m73 -9h0m-106 -1h0m72 3h0m-40 3h0m-11 1h0m-25 -10h0m74 5h0m-13 -6h0m-17 11h0m33 -2h0m-61 -2h0m94 1h0m-97 6h0m135 66h0m0 3h0m-6 -15h0m-3 3h0m-29 -4h0m37 11h0m-26 -17h0m-19 1h0m11 9h0m38 5h0m14 1h0m-30 -2h0m-5 -8h0m-10 10h0m74 11h0m-61 -16h0m-26 -4h0m27 11h0m31 -2h0m2 12h0m15 6h0m23 7h0m-82 -48h0m52 26h0m-12 -7h0m2 11h0m-28 -14h0m13 5h0m30 20h0m-53 -33h0m-30 -8h0m-8 -18h0m50 36h0m-12 -6h0m16 8h0m2 -2h0m4 9h0m30 2h0m-12 -16h0m-19 0h0m-27 -3h0m13 8h0m-16 -17h0m44 31h0m-19 -20h0m13 16h0m-32 -23h0m41 27h0m-32 -31h0m3 23h0m-28 -24h0m42 28h0m-52 -31h0m68 21h0m-25 5h0m17 -2h0m-26 -7h0m-7 8h0m21 -5h0m-32 -6h0m20 14h0m31 -3h0m-11 9h0m-29 -21h0m-5 -10h0m11 12h0m-8 -5h0m60 33h0m-62 -32h0m-3 -18h0m12 25h0m-12 -1h0m30 20h0m27 6h0m-31 -37h0m-24 14h0m7 -7h0m23 13h0m5 1h0m-33 -28h0m39 17h0m6 -5h0m-73 -11h0m28 23h0m9 -20h0m9 19h0m-3 -15h0m-11 7h0m-14 0h0m44 1h0m-20 3h0m-1 14h0m-9 -24h0m2 2h0m-16 4h0m26 7h0m27 9h0m-28 -11h0m23 11h0m-25 -16h0m2 -23h0m-4 29h0m18 11h0m46 10h0m-60 -28h0m19 29h0m-32 -38h0m28 15h0m-13 -15h0m3 28h0m-19 -16h0m1 4h0m-11 -9h0m8 -6h0m14 17h0m19 -7h0m-12 9h0m28 12h0m-27 -19h0m9 -9h0m-40 10h0m60 9h0m-15 1h0m-34 -40h0m-38 59h0m-127 -20h0m124 -18h0m-140 60h0m-22 -15h0m188 -7h0m-27 -57h0m-126 71h0m88 -63h0m-45 68h0m27 -74h0m14 12h0m-128 41h0m40 -4h0m107 13h0m-64 -6h0m53 -47h0m-73 32h0m0 53h0m-51 -14h0m108 -18h0m-90 25h0m156 3h0m-33 10h0m-26 -28h0m64 10h0m-30 -1h0m17 20h0m30 -15h0m-88 13h0m74 -4h0m27 14h0m-123 -23h0m-13 -27h0m71 26h0m29 23h0m-109 -15h0m85 9h0m-64 -14h0m43 13h0m86 2h0m-60 -24h0m-124 6h0m83 5h0m-7 -9h0m-11 19h0m72 -6h0m-23 -2h0m-54 -3h0m-92 -29h0m-8 10h0m126 18h0m101 19h0m-110 -9h0m106 -20h0m-16 28h0m10 -27h0m-21 -2h0m-45 3h0m9 12h0m-58 4h0m22 1h0m80 0h0m-183 -27h0m133 21h0m-53 0h0m-31 -11h0m128 22h0m-62 -31h0m-85 5h0m2 16h0m93 1h0m-45 -5h0m46 8h0m-110 -12h0m-18 -7h0m36 17h0m-62 -5h0m19 2h0m-38 -43h0m10 45h0m2 14h0m24 -33h0m-34 6h0m2 14h0m47 1h0m-28 13h0m-4 -10h0m-19 -30h0m7 27h0m20 1h0m0 4h0m-23 -10h0m1 -15h0m32 9h0m-29 11h0m48 -70h0m-78 66h0m65 -32h0m-29 15h0m27 15h0m-8 7h0m-50 -6h0m40 15h0m17 -31h0m-23 10h0m296 52h0m-106 -21h0m-75 -12h0m23 9h0m-22 -17h0m60 2h0m37 14h0m-95 3h0m13 20h0m20 -61h0m11 -18h0m29 38h0m-8 -42h0m-51 71h0m71 10h0m-93 -15h0m75 24h0m-5 -37h0m42 36h0m-41 -11h0m-190 -54h0m255 41h0m-85 -24h0m-25 -19h0m68 36h0m-44 -12h0m-19 -6h0m52 -32h0m-74 77h0m38 2h0m76 0h0m46 -17h0m-160 -43h0m115 33h0m-102 29h0m-19 -13h0m46 8h0m3 -1h0m-22 -7h0m-9 -13h0m-1 -1h0m52 11h0m-20 -44h0m-8 23h0m99 -1h0m-143 -4h0m46 24h0m14 -10h0m-40 -8h0m121 -15h0m-75 17h0m55 13h0m-64 4h0m-5 -14h0m-10 30h0m48 -27h0m87 21h0m-123 -27h0m66 -39h0m-68 31h0m-19 22h0m46 13h0m19 -94h0m-108 51h0m117 6h0m19 -15h0m-9 -7h0m9 48h0m-90 20h0m-22 -6h0m37 -1h0m26 98h0m-77 -64h0m42 32h0m-38 -31h0m20 -37h0m-30 47h0m118 -6h0m-91 18h0m-5 43h0m103 -128h0m45 -24h0m-35 18h0m20 -28h0m-12 58h0m22 -24h0m-38 -25h0m-24 -24h0m28 80h0m-21 -14h0m32 -23h0m15 -8h0m-59 10h0m37 33h0m10 -2h0m-14 -33h0m5 -3h0m-1 -7h0m-18 16h0m-35 -10h0m39 17h0m-10 2h0m37 22h0m-36 -19h0m-6 -3h0m21 -18h0m1 13h0m-9 -24h0m16 17h0m-9 8h0m-22 -10h0m12 24h0m10 -26h0m-19 3h0m48 -6h0m-19 -16h0m-14 40h0m8 -26h0m30 0h0m-29 27h0m-3 -19h0m-17 13h0m45 -2h0m-67 -3h0m40 -12h0m-28 23h0m40 -10h0m6 -20h0m-32 -10h0m23 9h0m-14 45h0m43 20h0m-33 -42h0m-23 -10h0m4 5h0m-8 10h0m19 -26h0m-17 0h0m-15 24h0m44 -34h0m-3 4h0m-51 4h0m66 12h0m-40 -12h0m-17 34h0m79 -13h0m-128 -12h0m52 22h0m38 -3h0m-2 -54h0m1 57h0m-21 2h0m-18 -19h0m25 -11h0m-3 12h0m39 30h0m-57 -12h0m22 -30h0m-30 37h0m4 5h0m67 -39h0m-29 -1h0m-4 0h0m-25 34h0m1 -15h0m40 8h0m-31 -36h0m-28 10h0m40 -32h0m-34 25h0m32 13h0m-23 15h0m31 -10h0m-10 -4h0m10 -3h0m-43 -13h0m42 28h0m-15 18h0m-10 -53h0m36 57h0m14 -34h0m-43 -9h0m7 0h0m-18 19h0m69 11h0m-48 -55h0m-13 28h0m-28 8h0m14 30h0m2 -49h0m28 83h0m-22 -40h0m-4 -34h0m22 25h0m51 -30h0m-56 20h0m30 -2h0m-21 -2h0m-18 13h0m1 -28h0m16 19h0m19 -20h0m-7 9h0m-7 21h0m-20 -6h0m6 -41h0m7 51h0m15 -13h0m17 -9h0m-24 -19h0m0 31h0m18 -26h0m7 17h0m7 32h0m-3 -67h0m-57 52h0m3 9h0m-24 4h0m55 0h0m-26 -39h0m50 29h0m-67 -19h0m-23 -25h0m44 88h0m15 -73h0m-30 29h0m9 -14h0m25 18h0m8 -12h0m-21 -23h0m46 37h0m-65 49h0m21 -62h0m-1 15h0m11 32h0m16 -15h0m-33 9h0m13 -3h0m-6 14h0m-4 13h0m6 4h0m-19 -42h0m11 -10h0m18 70h0m-26 -49h0m22 -16h0m-31 16h0m26 38h0m13 -20h0m-47 12h0m29 -56h0m22 50h0m-28 -15h0m-6 31h0m17 -57h0m-8 7h0m18 -24h0m-10 22h0m22 14h0m5 18h0m-43 -60h0m3 52h0m20 -60h0m-25 33h0m-5 27h0m21 -33h0m-2 8h0m10 28h0m19 -76h0m-21 59h0m-3 -3h0m-24 5h0m52 29h0m-22 -32h0m42 23h0m-44 -33h0m8 -12h0m-57 48h0m75 -38h0m7 16h0m-28 21h0m-25 -32h0m17 -36h0m-5 -4h0m25 48h0m22 -21h0m-27 -8h0m-4 29h0m-9 -20h0m31 23h0m-19 -12h0m-23 -21h0m10 37h0m2 37h0m-8 -36h0m27 8h0m-21 -29h0m4 -22h0m-7 8h0m-6 8h0m-25 10h0m-6 -1h0m77 -2h0m-1 -33h0m-51 66h0m9 -28h0m37 57h0m-4 -98h0m40 12h0m-35 16h0m24 -8h0m-36 -32h0m61 -15h0m-18 131h0m-26 -134h0m43 39h0m-34 -59h0m-9 45h0m2 93h0m8 -26h0m-2 43h0m32 -33h0m-57 -23h0" stroke="#d8cbc8" stroke-width="3.4" stroke-linecap="round"/>
<path d="M248 2480h0m-58 -53h0m95 26h0m18 22h0m-151 -25h0m189 -21h0m-37 12h0m-39 -42h0m76 82h0m-1 -25h0m-32 -7h0m1 -7h0m-76 11h0m-62 26h0m139 -3h0m63 34h0m-81 -9h0m5 -28h0m21 33h0m4 3h0m-103 -11h0m-34 -7h0m75 -8h0m78 5h0m-186 -12h0m48 1h0m-4 -6h0m-21 -1h0m115 12h0m-39 17h0m-101 -9h0m208 2h0m-137 -5h0m140 24h0m-42 -18h0m-19 6h0m-50 -12h0m109 17h0m-17 4h0m31 -2h0m-45 -8h0m-34 -8h0m-9 -2h0m63 12h0m-99 -16h0m-37 9h0m12 -2h0m118 14h0m-168 -43h0m160 26h0m18 17h0m8 7h0m-63 -29h0m-20 -7h0m19 29h0m-8 -3h0m-26 -20h0m65 11h0m-67 6h0m24 2h0m74 -14h0m-3 17h0m-29 6h0m-1 -15h0m-121 -14h0m41 17h0m-93 -14h0m146 5h0m-74 8h0m-60 -9h0m91 9h0m109 3h0m-181 -26h0m153 24h0m-48 8h0m-72 -51h0m-53 21h0m36 16h0m35 1h0m117 15h0m-193 -16h0m29 -13h0m9 4h0m-42 -12h0m12 39h0m17 -20h0m-35 0h0m62 -18h0m-88 21h0m9 -17h0m15 12h0m21 -22h0m1 11h0m-13 25h0m-13 -27h0m16 1h0m-36 12h0m50 21h0m-43 -15h0m72 4h0m-71 -21h0m7 11h0m-2 5h0m10 -35h0m7 47h0m5 -16h0m-30 1h0m29 17h0m-18 -1h0m34 2h0m-25 -6h0m-2 -9h0m11 -7h0m-27 9h0m1 2h0m23 2h0m-21 12h0m199 22h0m-53 -36h0m-13 20h0m39 -26h0m-164 98h0m212 -97h0m-164 1h0m175 0h0m-18 39h0m-40 -6h0m45 2h0m-38 9h0m-66 -10h0m169 11h0m-181 -40h0m47 22h0m-42 -17h0m66 41h0m-23 -56h0m59 27h0m51 -27h0m-52 29h0m-68 3h0m18 -16h0m29 -12h0m-70 26h0m74 -24h0m45 33h0m-177 -21h0m149 -2h0m-74 -41h0m14 71h0m10 3h0m-22 -14h0m-36 -40h0m53 34h0m114 20h0m-168 -30h0m36 102h0m-37 -86h0m69 27h0m-41 -21h0m85 -41h0m7 36h0m-40 -19h0m-111 -10h0m76 50h0m90 -31h0m-108 27h0m71 3h0m-48 -30h0m-30 7h0m98 8h0m-109 -68h0m5 82h0m155 -5h0m-133 -4h0m48 -15h0m-39 5h0m23 8h0m76 -29h0m15 15h0m-69 -40h0m-74 62h0m32 -57h0m-5 -22h0m87 58h0m-115 2h0m17 -51h0m-11 65h0m85 -52h0m21 30h0" stroke="#dec4be" stroke-width="3.4" stroke-linecap="round"/>
<path d="M175 2493h0m153 13h0m-124 -31h0m82 10h0m-5 9h0m89 -13h0m7 25h0m-220 -52h0m118 47h0m97 -24h0m-71 10h0m-144 -6h0m34 15h0m174 16h0m-191 -37h0m43 -7h0m86 38h0m21 -23h0m-176 3h0m92 14h0m-117 -4h0m32 -2h0m13 -7h0m-26 -8h0m-14 11h0m-9 22h0m135 -15h0m73 64h0m-20 -87h0m-101 36h0m103 -15h0m32 95h0m-113 -13h0m-56 -47h0m87 40h0m27 -19h0m6 10h0m125 -13h0m-176 52h0m-12 -28h0m-10 -20h0m14 -18h0m129 -24h0m-133 43h0m-84 -40h0m82 44h0m51 -55h0m34 103h0m-7 -29h0m-38 -72h0m64 100h0m-26 -35h0m89 24h0m-62 -34h0m-70 -11h0m-28 13h0m48 -56h0m-38 -11h0m79 75h0m-4 -87h0m-55 116h0m-30 -9h0m105 -26h0m-129 22h0" stroke="#deada0" stroke-width="3.4" stroke-linecap="round"/>
<path d="M174 2483h0m61 -14h0m30 33h0m56 4h0m-64 -10h0m3 -1h0m-62 -6h0m-12 -7h0m30 6h0m22 6h0m-75 -9h0m33 10h0m-35 -13h0m-31 10h0m22 -34h0m-20 31h0m28 14h0m-17 -5h0m21 1h0m-54 -14h0m30 27h0m1 -50h0m29 21h0m-31 0h0m-8 -17h0m52 41h0m-29 -22h0m171 62h0m-75 26h0m18 -114h0m12 37h0m10 14h0m42 -3h0m-132 78h0m152 -17h0m-144 -79h0m137 72h0m-217 30h0m141 -100h0m-16 83h0m26 20h0m-7 15h0m-14 -103h0m-5 -62h0m0 37h0m105 10h0m19 90h0m-116 -108h0m3 32h0m-71 18h0m212 67h0m-111 -106h0m-114 69h0m152 8h0m-33 -1h0m-21 16h0m-49 -66h0m92 39h0m-28 24h0m-17 0h0m72 22h0m-19 -127h0m-34 13h0m28 -2h0m22 9h0" stroke="#df9682" stroke-width="3.4" stroke-linecap="round"/>
<path d="M203 2490h0m148 -19h0m-200 13h0m78 -1h0m-73 3h0m5 -6h0m31 -11h0m150 33h0m-124 -15h0m64 6h0m31 15h0m-42 -4h0m-17 -8h0m-80 -23h0m12 17h0m-36 -2h0m212 -1h0m-98 6h0m-112 10h0m-20 -12h0m-7 6h0m4 -2h0m22 -8h0m-24 4h0m19 3h0m-8 -2h0m-18 -10h0m4 7h0m26 22h0m-20 -3h0m35 -13h0m-26 -14h0m17 -9h0m-10 38h0m105 -35h0m23 13h0m21 13h0m146 -2h0m-229 9h0m27 2h0m81 0h0m-18 -3h0m-55 -16h0m75 -49h0m-92 38h0m108 -16h0m-192 37h0m204 10h0" stroke="#dc8169" stroke-width="3.4" stroke-linecap="round"/>
<path d="M220 2455h0m-33 -24h0m149 -27h0m-108 50h0m-24 31h0m65 18h0m-50 -5h0m-36 -21h0m21 -19h0m-41 30h0m60 1h0m-28 -5h0m-36 1h0m53 11h0m159 -4h0m-170 2h0m-18 -14h0m120 17h0m-82 -7h0m-6 -27h0m9 12h0m153 27h0m-230 -39h0m-9 45h0m25 -30h0m-24 40h0m-27 -23h0m30 18h0m13 -1h0m30 4h0m-27 -49h0m19 41h0m-29 4h0m24 2h0m-38 7h0m53 -25h0m-11 5h0m-64 32h0m53 6h0m-36 -45h0m45 30h0m-41 -10h0m23 -40h0m-5 15h0m-12 21h0m0 1h0m211 53h0m-69 -94h0m-2 -19h0m-9 121h0m-4 -116h0m5 19h0m-47 55h0m65 39h0m30 -38h0m14 10h0m-149 58h0m34 -34h0m79 -1h0m-45 -14h0m38 4h0m-22 -14h0m-6 17h0m-10 0h0m10 16h0m-52 -36h0m83 68h0m15 -87h0m-19 25h0m53 16h0m-13 37h0m-50 -30h0m-23 -69h0m31 107h0m-31 -73h0m101 21h0m-38 4h0m-88 -22h0m19 45h0m-15 -6h0m99 -4h0m-88 -38h0m90 -7h0m36 64h0m-113 -37h0m48 13h0m-61 -53h0m-44 1h0m27 108h0m134 -34h0m-179 -104h0m131 87h0m-27 -36h0m-100 -3h0m249 37h0m-170 -21h0m71 45h0m-26 -27h0m-90 -22h0m15 18h0m98 29h0m-92 -14h0m-16 -12h0m21 35h0m65 -69h0m24 68h0m92 -40h0m-242 8h0m135 76h0m19 -104h0m-44 58h0m3 -35h0m52 -8h0m-37 13h0m-140 13h0m86 -28h0m-6 0h0m75 -1h0m52 -33h0m-121 42h0m55 20h0m-62 11h0m-20 -31h0m148 2h0m-123 31h0m46 -55h0m19 53h0m-89 -2h0m55 2h0m41 11h0m-43 -50h0m129 6h0m-68 -2h0m-121 5h0m85 24h0m-90 -13h0m-27 -25h0m192 -30h0m-40 117h0m-123 -38h0m73 -40h0m-46 45h0m137 -73h0m-49 29h0m-8 27h0m-34 16h0m37 -49h0m-74 49h0m-42 -65h0m111 73h0m-56 -51h0m97 45h0m-50 -49h0m8 20h0m-54 13h0m-27 7h0m106 1h0m-202 -60h0m114 -2h0m56 100h0m-7 -116h0m10 60h0m-9 -14h0m-138 2h0m205 -3h0m-154 -40h0m58 23h0m-16 39h0m57 11h0m-6 -44h0m29 4h0m-187 27h0m154 -20h0m-32 -40h0m51 -46h0m-101 169h0m78 -40h0m-19 -37h0m2 4h0m-44 -29h0m-28 30h0m93 5h0m-22 -45h0m-64 12h0m15 58h0m73 -93h0m18 49h0m-65 25h0m50 16h0m-78 -13h0m49 -45h0m-50 17h0m73 -6h0m-72 2h0m24 -74h0m66 42h0m-114 44h0m95 22h0m42 -36h0m-90 83h0m18 -35h0m42 22h0m-55 -3h0m37 -17h0m-8 -15h0m-17 17h0m13 0h0m-4 15h0m5 -20h0m60 7h0m-35 33h0m-49 -27h0m10 -15h0m-55 23h0m65 31h0m86 -45h0m-80 -34h0m-9 37h0m25 12h0m-34 -28h0m31 -5h0m-19 23h0m0 19h0m103 -20h0m-76 12h0m-43 -33h0m-11 32h0m30 -3h0m22 -13h0m31 -3h0m-15 19h0m-64 -55h0m89 73h0m-35 -5h0m-8 -18h0m-36 -20h0m-1 31h0m-8 -13h0m5 -39h0m-6 34h0m-2 -13h0m27 -1h0m59 9h0m-50 -25h0m-11 38h0m-25 -13h0m36 30h0m-2 -38h0m34 43h0m51 -33h0m-60 -4h0m-48 -1h0m41 27h0m-49 -4h0m38 -54h0m-16 29h0m-25 3h0m64 0h0m-58 45h0m-14 -3h0m117 -53h0m-58 14h0m6 10h0m-56 -6h0m-37 4h0m29 8h0m40 5h0m-27 -17h0m-33 -6h0m16 3h0m27 -10h0m5 2h0m-11 16h0m16 16h0m11 7h0m-46 -27h0m5 20h0m36 -6h0m-34 -24h0m8 9h0m39 -12h0m-21 42h0m62 -63h0m-54 56h0m33 -18h0m-36 -10h0m23 10h0m-5 25h0m-15 -72h0m-9 19h0m-11 18h0m-3 4h0m-4 36h0m38 -42h0m5 11h0m-36 -3h0m21 23h0m-19 4h0m23 -45h0m-40 23h0m88 -79h0m2 -7h0m17 -3h0m-21 -5h0m9 -2h0m-10 18h0m-1 -41h0m-3 13h0m26 -11h0m-22 18h0m27 59h0m-9 -24h0m0 1h0m-20 -28h0m-2 51h0m10 -26h0m4 10h0m8 25h0m7 -26h0m-26 15h0m44 -34h0m41 40h0m-92 -16h0m35 -61h0m-7 90h0m-30 -50h0m20 36h0m-11 -20h0m-1 19h0m-10 -49h0m15 23h0m28 10h0m-8 -22h0m28 6h0m-52 -7h0m32 28h0m-13 -7h0m-18 14h0m-2 -36h0m12 21h0m3 -31h0m27 38h0m20 -2h0m-73 0h0m18 23h0m-4 -66h0m11 38h0m15 35h0m-6 -46h0m-15 -56h0m51 60h0m-36 5h0m-22 28h0m41 -46h0m-42 9h0m-8 -24h0m38 41h0m-24 -23h0m54 -4h0m4 20h0m-39 -23h0m-15 18h0m26 -1h0m-31 -49h0m33 76h0m-17 -20h0m30 6h0m-29 -33h0m12 -37h0m12 61h0m-45 15h0m45 15h0m-19 -2h0m-15 -60h0m4 6h0m8 56h0m-12 2h0m-1 -31h0m11 -1h0m-22 -27h0m16 30h0m-14 -20h0m-34 21h0m95 -24h0m-59 7h0" stroke="#da6c50" stroke-width="3.4" stroke-linecap="round"/>
<path d="M235 2491h0m-37 -24h0m-18 18h0m-12 6h0m38 -30h0m9 25h0m161 10h0m-131 -15h0m-39 6h0m6 -7h0m-26 -2h0m50 -17h0m-53 19h0m120 10h0m-91 5h0m-34 -14h0m47 -22h0m100 34h0m-145 -18h0m15 18h0m-26 -3h0m-6 -20h0m22 -4h0m-23 53h0m0 5h0m-8 0h0m-17 0h0m-9 6h0m95 78h0m41 -52h0m19 58h0m-54 -34h0m-48 -17h0m164 -19h0m-60 12h0m63 25h0m-71 -23h0m-60 30h0m113 -32h0m33 -32h0m-112 -6h0m61 31h0m3 66h0m-25 -24h0m5 49h0m-56 -104h0m109 53h0m-93 -31h0m-48 29h0m-36 -69h0m144 124h0m-16 -86h0m3 2h0m-11 73h0m-36 -19h0m23 -44h0m-1 10h0m-4 21h0m-100 -67h0m125 15h0m-32 10h0m74 5h0m-20 66h0m-15 -52h0m6 -18h0m-92 -42h0m132 40h0m-84 12h0m-18 30h0m112 13h0m-118 -51h0m125 17h0m-147 -51h0m90 -9h0m-26 60h0m-5 -21h0m76 30h0m-45 -70h0m-26 5h0m-43 69h0m47 11h0m13 -5h0m114 -24h0m-90 13h0m-104 29h0m49 11h0m-37 -40h0m-31 -64h0m82 34h0m49 63h0m-93 -54h0m40 84h0m74 -124h0m-35 -8h0m45 79h0m-168 -67h0m63 80h0m-78 -93h0m140 83h0m-51 -64h0m28 105h0m-16 -42h0m-53 -73h0m71 62h0m14 -26h0m-40 -3h0m20 -36h0m36 25h0m-105 -11h0m55 26h0m-118 -9h0m39 35h0m61 -7h0m45 -32h0m-128 10h0m160 0h0m-78 -20h0m-57 -1h0m102 70h0m-9 -27h0m-117 -29h0m-36 -5h0m162 3h0m57 47h0m-85 -18h0m-25 24h0m41 2h0m-75 -37h0m49 50h0m-1 -37h0m46 -14h0m-48 16h0m-42 -63h0m33 25h0m-44 52h0m114 7h0m95 -12h0m-175 -31h0m78 20h0m31 -62h0m-69 71h0m-1 -32h0m7 32h0m-147 12h0m117 -27h0m-52 16h0m96 -73h0m29 38h0m-82 26h0m121 -8h0m-140 -2h0m111 -31h0m-39 -18h0m-100 21h0m77 52h0m-17 10h0m-15 11h0m52 -57h0m-2 -8h0m-21 8h0m-18 29h0m-24 -5h0m57 -13h0m1 -53h0m-90 -4h0m76 72h0m-51 -32h0m-6 27h0m85 18h0m-77 -78h0m82 38h0m-22 85h0m0 -43h0m-40 -63h0m44 55h0m45 -48h0m14 -29h0m-77 90h0m31 -39h0m-6 41h0m20 -80h0m-102 17h0m7 83h0m119 -67h0m-36 4h0m33 12h0m-37 -11h0m-14 -52h0m30 37h0m100 60h0m-66 -46h0m-68 -2h0m-141 -31h0m224 47h0m-99 -14h0m-1 13h0m-85 13h0m119 3h0m6 -15h0m3 6h0m56 -33h0m-159 90h0m120 -117h0m-53 29h0m-67 1h0m16 30h0m-31 -6h0m36 -14h0m-9 8h0m116 -42h0m-166 20h0m191 3h0m-10 -6h0m-97 69h0m122 -61h0m-109 -5h0m-43 77h0m31 -46h0m6 -5h0m47 -56h0m-41 80h0m-14 -12h0m-8 30h0m94 -30h0m-29 8h0m25 -5h0m-109 21h0m17 -1h0m39 -1h0m23 -14h0m-28 27h0m-1 15h0m7 -47h0m-3 12h0m25 5h0m33 8h0m-48 2h0m-30 3h0m6 -13h0m16 20h0m-21 -60h0m1 27h0m65 -7h0m-43 38h0m-62 -11h0m63 -60h0m-40 57h0m115 6h0m-79 -51h0m-7 -21h0m55 60h0m-23 -32h0m31 54h0m-32 -9h0m-25 27h0m18 -20h0m21 -15h0m-30 -8h0m-68 -15h0m1 2h0m74 24h0m42 -27h0m-49 35h0m-4 -1h0m-29 15h0m64 -78h0m-21 79h0m-36 -55h0m-20 -13h0m1 23h0m14 23h0m47 20h0m-1 -38h0m-72 48h0m62 -2h0m8 -33h0m39 17h0m-134 8h0m82 -17h0m43 31h0m-76 -46h0m32 22h0m4 -12h0m-6 -13h0m-47 -10h0m55 11h0m54 37h0m-87 -54h0m65 23h0m-17 3h0m1 -3h0m-12 24h0m-8 -31h0m-27 8h0m8 21h0m-21 -45h0m29 33h0m47 14h0m-18 -30h0m-23 14h0m-21 -1h0m14 20h0m39 -20h0m-35 -24h0m51 44h0m-58 -33h0m-47 -24h0m101 47h0m8 -14h0m-20 -7h0m2 2h0m-45 5h0m10 -8h0m-64 -1h0m64 31h0m-12 -72h0m-5 29h0m39 -29h0m-13 39h0m-1 -1h0m-18 -30h0m55 -10h0m-60 23h0m-6 28h0m91 -24h0m-25 40h0m-65 1h0m-63 8h0m52 -71h0m55 44h0m-26 -23h0m-14 -31h0m-5 35h0m-22 15h0m97 18h0m-72 10h0m9 -22h0m-38 1h0m102 36h0m-40 -56h0m-3 45h0m2 -1h0m3 -35h0m-12 -7h0m7 38h0m-47 -32h0m58 -10h0m-7 -24h0m-84 58h0m136 0h0m-99 -34h0m29 5h0m-16 3h0m67 -21h0m-2 -19h0m-26 62h0m-25 -39h0m23 18h0m-19 2h0m-12 8h0m25 12h0m5 -10h0m53 -105h0m-25 -44h0m10 83h0m60 -58h0m-25 -8h0m-67 31h0m9 11h0m-2 -9h0m25 -5h0m-37 17h0m30 -31h0m30 7h0m-12 53h0m17 14h0m-1 -16h0m-26 12h0m17 -9h0m-15 -15h0m11 17h0m21 -28h0m16 26h0m-5 -6h0m-30 -1h0m25 29h0m-61 24h0m42 -62h0m21 15h0m6 11h0m-27 8h0m39 -12h0m-41 -13h0m-21 14h0m0 -8h0m-33 -7h0m79 14h0m-48 4h0m15 -63h0m-23 27h0m-23 84h0m50 -68h0m40 -18h0m-48 23h0m20 -10h0m18 -38h0m-42 81h0m25 -62h0m39 77h0m-43 -53h0m13 23h0m18 -4h0m-44 -2h0m4 -30h0m-4 62h0m3 1h0m-8 -26h0m11 9h0m-54 -2h0m43 -5h0m23 -10h0m24 10h0m-77 -33h0m50 9h0m7 -22h0m25 14h0m-18 13h0m-35 2h0m62 24h0m-54 -20h0m-39 -11h0m71 -11h0m-33 28h0m50 32h0m-69 -61h0m23 -14h0m-1 -12h0m16 35h0m-2 1h0m-46 25h0m24 -57h0m1 75h0m12 -33h0m-23 8h0m25 -63h0m6 106h0m-25 -66h0m36 -23h0m39 73h0m-33 9h0m-1 10h0m26 -39h0" stroke="#d2573e" stroke-width="3.4" stroke-linecap="round"/>
<path d="M331 2460h0m-136 19h0m-61 50h0m0 -4h0m-19 0h0m41 -9h0m10 6h0m-6 17h0m-14 -27h0m230 62h0m-134 -24h0m10 30h0m-6 -63h0m44 69h0m39 -29h0m-43 -14h0m-54 89h0m17 -106h0m47 71h0m55 -9h0m-165 28h0m45 -4h0m89 -25h0m-15 -68h0m-5 62h0m13 -30h0m-18 19h0m20 -20h0m-51 -14h0m-77 67h0m106 6h0m-4 -15h0m-45 -62h0m121 54h0m-6 13h0m-110 15h0m50 11h0m-70 -97h0m119 109h0m-68 -125h0m91 66h0m-32 5h0m-55 -71h0m62 65h0m-144 -55h0m189 76h0m-42 6h0m-77 -71h0m61 47h0m-60 10h0m-20 4h0m91 -77h0m-85 97h0m23 -48h0m47 38h0m-59 -51h0m55 25h0m-6 -21h0m-16 -44h0m86 45h0m-170 -28h0m99 59h0m-95 -36h0m99 -5h0m-13 27h0m11 -14h0m36 -41h0m-32 60h0m7 -53h0m24 38h0m-28 4h0m-75 -29h0m122 49h0m-21 10h0m13 -62h0m-127 -1h0m53 43h0m54 -8h0m-59 27h0m51 -27h0m-2 -16h0m-6 8h0m-115 58h0m107 -59h0m5 -15h0m-31 81h0m13 -73h0m49 37h0m-56 -36h0m-60 25h0m-25 0h0m80 -29h0m-3 68h0m-122 -89h0m192 68h0m-61 -75h0m71 88h0m-125 -65h0m65 9h0m-96 66h0m104 -17h0m27 -34h0m-30 4h0m-4 -44h0m-83 45h0m162 -7h0m-171 -28h0m39 59h0m52 -38h0m-89 -17h0m124 47h0m-63 -46h0m-25 7h0m-66 22h0m95 34h0m78 -64h0m-129 72h0m-48 -56h0m66 21h0m32 -30h0m24 66h0m-16 -20h0m39 4h0m-39 -26h0m-11 17h0m-27 -23h0m50 12h0m21 29h0m-45 -36h0m13 -14h0m37 30h0m-77 15h0m32 -46h0m-1 25h0m8 49h0m-14 13h0m-6 -11h0m2 -29h0m-8 -49h0m48 28h0m-20 11h0m48 19h0m6 -22h0m-58 45h0m20 -33h0m-36 -16h0m-1 18h0m20 12h0m50 -17h0m-34 23h0m-60 -7h0m26 -36h0m3 5h0m37 35h0m4 -78h0m-15 66h0m-3 -15h0m31 2h0m-53 16h0m-37 32h0m54 -52h0m-5 23h0m44 -11h0m-72 -31h0m63 49h0m-36 -21h0m-3 -37h0m49 26h0m12 -5h0m-31 41h0m-45 -10h0m-78 11h0m91 -63h0m31 16h0m-43 49h0m54 -45h0m-21 -14h0m54 28h0m-67 7h0m39 18h0m-37 -62h0m-15 73h0m1 -10h0m42 -25h0m-66 -19h0m89 -1h0m-69 -4h0m11 54h0m3 -19h0m5 -4h0m-31 3h0m111 -118h0m-30 -20h0m-12 45h0m13 -1h0m-14 -19h0m52 -3h0m3 2h0m-18 76h0m-15 2h0m15 -15h0m-22 -7h0m11 20h0m24 15h0m-13 -43h0m-42 6h0m16 26h0m-13 -26h0m40 -9h0m-37 -18h0m14 24h0m39 15h0m-11 13h0m-23 25h0m12 -46h0m-32 -13h0m16 -8h0m25 37h0m-11 -28h0m-18 16h0m31 -15h0m12 61h0m-40 -96h0m8 40h0m11 -18h0m31 40h0m-26 5h0m20 -17h0m-17 -17h0m-28 33h0m27 6h0m2 -44h0m6 -1h0m-40 -1h0m15 -26h0m6 58h0m0 -12h0m9 -3h0m-7 31h0m5 -56h0m-4 77h0" stroke="#cb422c" stroke-width="3.4" stroke-linecap="round"/>
<path d="M117 2482C117.5 2479.8 117.5 2472.8 120 2469C122.5 2465.2 125.5 2463.7 132 2459C138.5 2454.3 148.2 2447 159 2441C169.8 2435 185.7 2429 197 2423C208.3 2417 217.2 2411.3 227 2405C236.8 2398.7 247.2 2389.2 256 2385C264.8 2380.8 271.2 2379 280 2380C288.8 2381 300.7 2386.8 309 2391C317.3 2395.2 323.5 2400.7 330 2405C336.5 2409.3 340.5 2412.7 348 2417C355.5 2421.3 367.8 2427.2 375 2431C382.2 2434.8 386.7 2437.2 391 2440C395.3 2442.8 398.2 2445.2 401 2448C403.8 2450.8 406.8 2455.5 408 2457" fill="none" stroke="#5a5a5a" stroke-opacity="0.88" stroke-width="3.5" stroke-linecap="round"/>
<path d="M117 2482C117.3 2483.5 115.5 2489 119 2491C122.5 2493 129.3 2493 138 2494C146.7 2495 158.7 2495.8 171 2497C183.3 2498.2 197.8 2499.5 212 2501C226.2 2502.5 241.2 2504.7 256 2506C270.8 2507.3 286.2 2508 301 2509C315.8 2510 332.7 2511 345 2512C357.3 2513 367.7 2513.8 375 2515C382.3 2516.2 386.7 2518.3 389 2519" fill="none" stroke="#5a5a5a" stroke-opacity="0.88" stroke-width="3.5" stroke-linecap="round"/>
<path d="M142 2491C145.8 2492 158.3 2492.5 165 2497C171.7 2501.5 176.7 2509.7 182 2518C187.3 2526.3 191 2537.2 197 2547C203 2556.8 210.7 2569.5 218 2577C225.3 2584.5 229.7 2588.8 241 2592C252.3 2595.2 274.7 2596.5 286 2596C297.3 2595.5 301.7 2593.7 309 2589C316.3 2584.3 322.5 2574.2 330 2568C337.5 2561.8 346.2 2555.2 354 2552C361.8 2548.8 371.2 2549.3 377 2549C382.8 2548.7 387 2549.8 389 2550" fill="none" stroke="#5a5a5a" stroke-opacity="0.88" stroke-width="3.5" stroke-linecap="round"/>
<path d="M524 2346V2661H906" fill="none" stroke="#111" stroke-width="1.6"/>
<path d="M524 2355h-3M524 2437h-3M524 2520h-3M524 2602h-3M628 2661v3M752 2661v3M885 2661v3" stroke="#111" stroke-width="1.2"/>
<path d="M705 2360h0m73 8h0m-25 -5h0m-24 -1h0m21 1h0m-36 -7h0m-16 11h0m-14 10h0m37 -15h0m62 16h0m-75 0h0m14 -4h0m6 -10h0m-14 -7h0m36 6h0m-63 -4h0m54 12h0m-56 -6h0m27 -2h0m26 1h0m16 -1h0m-45 7h0m-36 -9h0m52 3h0m22 2h0m-30 5h0m6 -8h0m53 46h0m36 19h0m-29 -1h0m-21 -20h0m32 14h0m57 33h0m-76 -32h0m28 5h0m18 4h0m-41 -3h0m16 -14h0m40 19h0m-36 -11h0m27 25h0m-6 -19h0m-3 4h0m4 9h0m18 -14h0m-19 0h0m-27 -3h0m-5 4h0m-6 2h0m17 -4h0m27 26h0m-18 -14h0m-28 -24h0m39 21h0m-7 -9h0m-12 4h0m5 3h0m14 -6h0m-25 -12h0m32 30h0m-23 -19h0m52 28h0m-64 -27h0m38 37h0m-36 -42h0m54 32h0m-31 -37h0m-28 -16h0m6 28h0m43 0h0m-15 8h0m5 1h0m-24 -18h0m-4 11h0m40 -9h0m19 32h0m-76 -44h0m2 15h0m17 -2h0m-3 -4h0m2 2h0m-9 7h0m18 2h0m11 -2h0m28 27h0m-24 -12h0m-33 -13h0m47 17h0m-38 -17h0m31 11h0m-48 -9h0m31 11h0m11 -26h0m-32 -1h0m33 10h0m28 28h0m-44 -10h0m-26 -43h0m40 18h0m20 19h0m-48 -12h0m6 2h0m15 -7h0m-161 34h0m-33 -24h0m7 7h0m-3 34h0m150 -43h0m-154 23h0m41 2h0m103 6h0m-121 -16h0m-51 39h0m21 2h0m117 -12h0m61 19h0m-77 2h0m-49 -32h0m-11 25h0m140 24h0m-58 -23h0m-88 -2h0m158 20h0m3 -10h0m-82 -6h0m48 12h0m-97 -21h0m68 27h0m-77 -47h0m13 31h0m47 13h0m-8 -3h0m-131 -21h0m170 12h0m-175 -9h0m72 13h0m121 -17h0m19 20h0m-139 -41h0m111 39h0m-48 8h0m-125 -21h0m17 -10h0m15 4h0m78 21h0m-112 -14h0m22 -6h0m-25 12h0m61 -9h0m-32 -4h0m-33 -8h0m170 12h0m-172 20h0m-27 -6h0m37 22h0m14 -16h0m-15 -9h0m-28 2h0m-8 -13h0m21 28h0m16 13h0m-47 1h0m28 -27h0m21 1h0m-6 -23h0m-24 45h0m-4 -13h0m7 -20h0m9 24h0m-7 -31h0m40 -53h0m-13 34h0m-2 30h0m-8 -18h0m-27 21h0m1 2h0m16 11h0m-7 3h0m1 -24h0m-8 24h0m304 28h0m-181 -33h0m-31 24h0m62 13h0m62 38h0m3 7h0m-63 -67h0m-82 -11h0m146 -18h0m-142 45h0m98 -19h0m-52 -21h0m92 92h0m-3 -28h0m70 -23h0m-81 31h0m-88 -38h0m-7 -28h0m63 -45h0m63 128h0m-83 -98h0m16 59h0m-96 -35h0m64 45h0m26 4h0m-104 -31h0m123 28h0m-92 -42h0m132 40h0m10 55h0m7 -34h0m-83 0h0m34 -85h0m-47 41h0m-43 39h0m115 -60h0m-63 -18h0m52 -32h0m-18 103h0m-82 -31h0m86 23h0m-53 -94h0m14 71h0m-12 -11h0m40 25h0m-128 10h0m82 -20h0m-81 13h0m51 -68h0m-87 63h0m177 2h0m-34 2h0m14 -13h0m-82 30h0m60 -37h0m137 26h0m5 35h0m-194 -32h0m-5 11h0m143 -33h0m-18 95h0m-50 -78h0m32 9h0m-50 -49h0m66 26h0m-11 9h0m-96 -88h0m65 98h0m-8 11h0m1 -53h0m59 5h0m-54 34h0m-76 24h0m163 -62h0m-143 22h0m8 -3h0m12 -7h0m117 29h0m-139 -65h0m69 70h0m-26 -22h0m32 -60h0m2 67h0m-30 13h0m-15 11h0m75 -21h0m-187 27h0m170 -55h0m-16 51h0m-119 3h0m139 -22h0m-44 -17h0m-73 25h0m68 -12h0m12 -14h0m43 49h0m3 40h0m-7 -21h0m1 -14h0m24 8h0m-5 -15h0m29 -88h0m25 -11h0m-44 20h0m9 -2h0m-33 7h0m27 33h0m-21 -27h0m7 8h0m28 9h0m26 -59h0m-52 29h0m-2 9h0m50 -3h0m-29 -2h0m-16 -1h0m-17 -46h0m19 52h0m17 -8h0m-29 22h0m32 -23h0m15 -8h0m-59 10h0m19 24h0m28 7h0m-14 -33h0m5 -3h0m-38 1h0m70 -23h0m-56 46h0m-20 -65h0m19 80h0m-9 3h0m35 -50h0m-2 1h0m-24 13h0m-4 10h0m10 -7h0m5 -20h0m-40 10h0m39 17h0m-10 2h0m0 -41h0m37 63h0m-36 -19h0m31 1h0m-47 -27h0m31 5h0m1 13h0m18 13h0m-40 -24h0m56 -18h0m-39 24h0m9 28h0m36 -39h0m-26 -15h0m-58 38h0m30 -32h0m12 14h0m-19 -6h0m0 9h0m30 -29h0m-14 31h0m-7 -3h0m-19 18h0m11 30h0m28 -69h0m-12 20h0m-15 15h0m-8 -11h0m2 -24h0m37 48h0m-18 -8h0m10 -5h0m28 -21h0m-35 29h0m7 -37h0m-50 23h0m-12 -5h0m43 8h0m10 -3h0m1 26h0m-17 -17h0m21 -16h0m15 15h0m12 -21h0m-66 14h0m6 4h0m48 -28h0m-14 12h0m-12 -12h0m7 31h0m13 -43h0m4 37h0m-23 2h0m-3 -32h0m23 9h0m-14 -16h0m17 19h0m26 62h0m-42 -49h0m18 -4h0m6 28h0m-46 -9h0m29 -14h0m-17 1h0m-36 7h0m53 -11h0m-23 -12h0m-3 4h0m-12 20h0m-12 -6h0m54 27h0m19 -54h0m-17 -1h0m39 8h0m-70 0h0m20 27h0m-10 -11h0m20 -4h0m-1 11h0m-43 11h0m39 0h0m-3 -7h0m6 -27h0m-91 9h0m52 22h0m14 -11h0m62 -15h0m-38 23h0m-2 -54h0m15 38h0m-14 19h0m-21 2h0m-50 -21h0m42 31h0m1 -27h0m11 -1h0m0 17h0m-6 0h0m45 13h0m-57 -12h0m22 -30h0m-30 37h0m40 -19h0m-5 21h0m7 -37h0m-4 0h0m-25 34h0m1 -15h0m22 -13h0m21 27h0m-34 -42h0m35 4h0m-10 14h0m-53 -8h0m20 32h0m20 -64h0m-2 38h0m-23 15h0m31 -10h0m0 -7h0m-43 -13h0m17 -7h0m-4 21h0m40 36h0m-55 -86h0m20 43h0m6 0h0m7 7h0m-18 12h0m3 -10h0m26 -11h0m16 -1h0m24 33h0m-48 -55h0m-13 28h0m-28 8h0m25 0h0m-11 30h0m5 -13h0m-1 -27h0m9 15h0m13 10h0m51 -30h0m-26 18h0m-39 24h0m18 -26h0m-15 -17h0m-3 30h0m1 -28h0m-22 40h0m15 -40h0m23 -17h0m16 13h0m-4 12h0m-7 21h0m-20 -6h0m9 14h0m36 -26h0m-6 11h0m-28 -9h0m10 -21h0m2 33h0m19 15h0m-21 -17h0m-42 -9h0m39 -1h0m28 1h0m-36 27h0m43 5h0m-60 17h0m35 -61h0m22 -23h0m-1 44h0m-56 -7h0m2 9h0m-4 -6h0m14 -22h0m25 41h0m-3 -26h0m24 22h0m-90 -44h0m44 88h0m11 -75h0m-15 27h0m34 -27h0m-45 31h0m-5 -51h0m39 55h0m-2 -9h0m0 49h0m-11 -75h0m-4 77h0m14 -10h0m-27 -4h0m17 -9h0m-15 -15h0m15 63h0m33 -32h0m-52 16h0m21 -62h0m-6 32h0m10 -5h0m6 20h0m16 -15h0m-34 31h0m31 -40h0m-30 18h0m3 9h0m0 -27h0m25 29h0m-61 24h0m42 -62h0m31 47h0m-10 -32h0m-27 6h0m13 3h0m-3 15h0m-2 7h0m-19 -11h0m21 -11h0m-10 27h0m1 5h0m-14 -43h0m24 38h0m-12 -43h0m46 14h0m-47 -19h0m35 -2h0m-21 33h0m-8 -25h0m-22 16h0m28 29h0m15 -24h0m-25 10h0m29 -18h0m-2 1h0m-22 3h0m7 -18h0m-21 9h0m-13 -27h0m3 34h0m26 38h0m-34 -72h0m20 23h0m5 18h0m15 -30h0m-9 30h0m7 -3h0m-38 26h0m46 -35h0m13 -35h0m1 29h0m-7 39h0m15 -45h0m-52 -7h0m11 6h0m-2 -8h0m23 30h0m-50 -13h0m3 9h0m16 11h0m-2 -36h0m24 2h0m-22 63h0m48 -29h0m-51 6h0m16 -52h0m-45 33h0m72 5h0m-13 -37h0m-10 22h0m22 14h0m23 33h0m-18 -15h0m-25 -38h0m5 0h0m8 40h0m-45 -58h0m45 41h0m-31 -45h0m49 41h0m-46 11h0m8 -16h0m12 -44h0m3 79h0m-6 -46h0m-25 0h0m10 -56h0m47 75h0m-13 -1h0m-41 -18h0m7 14h0m26 -5h0m-3 22h0m-35 -4h0m21 -33h0m42 10h0m-34 26h0m17 -39h0m2 -37h0m-10 105h0m6 -99h0m-40 40h0m-1 -25h0m24 38h0m-31 -37h0m-1 61h0m39 -20h0m5 26h0m-30 -11h0m15 -22h0m-16 -21h0m-8 26h0m64 -25h0m8 45h0m-44 -33h0m40 8h0m-32 -20h0m-32 -3h0m14 43h0m11 -43h0m-65 41h0m58 -30h0m-15 25h0m-3 -9h0m-25 24h0m75 -38h0m0 23h0m-77 -33h0m37 15h0m47 11h0m-34 -17h0m9 47h0m-57 -19h0m30 -72h0m25 22h0m-26 28h0m34 26h0m-23 7h0m40 -47h0m-24 8h0m-10 -30h0m-9 40h0m9 2h0m-19 -5h0m39 7h0m-38 -49h0m48 53h0m13 13h0m-1 -38h0m-27 -8h0m-25 20h0m-1 6h0m22 3h0m-51 36h0m42 -56h0m31 23h0m-32 -32h0m0 2h0m31 40h0m-18 -22h0m-26 12h0m3 -33h0m10 37h0m5 11h0m-8 -64h0m15 48h0m13 -1h0m-23 43h0m27 -35h0m-61 -35h0m30 46h0m-7 -60h0m30 56h0m-31 -68h0m18 36h0m16 41h0m-44 -8h0m25 6h0m-15 -60h0m4 6h0m8 56h0m2 -60h0m-14 60h0m19 -46h0m-5 5h0m-46 25h0m24 -57h0m37 41h0m-18 28h0m-11 6h0m28 -39h0m-28 -23h0m-1 31h0m11 -1h0m-22 -9h0m-1 -22h0m9 2h0m-26 24h0m40 13h0m37 -15h0m-40 -49h0m-15 62h0m3 20h0m13 -20h0m5 -32h0m-42 -3h0m33 27h0m-4 -21h0m63 57h0m-54 17h0m-17 -64h0m49 68h0m20 -41h0m30 -69h0m-39 52h0m-15 -40h0m26 26h0m-19 -73h0m17 18h0m-31 115h0m47 -74h0m-35 16h0m24 -8h0m-36 -32h0m61 -15h0m0 25h0m-4 -5h0m-57 77h0m43 34h0m-32 -32h0m6 -102h0m41 -3h0m-59 129h0m61 -87h0m-34 -59h0m-9 45h0m8 62h0m-6 31h0m8 -26h0m-2 43h0m13 -114h0m19 81h0m-29 -89h0m-28 66h0m20 24h0m16 -116h0" stroke="#d2d2d2" stroke-width="3.4" stroke-linecap="round"/>
<path d="M765 2365h0m-38 0h0m47 3h0m-10 4h0m-3 -8h0m-83 3h0m82 2h0m11 -3h0m-56 3h0m26 -9h0m17 -3h0m-6 10h0m36 -2h0m-19 8h0m-9 -5h0m8 -1h0m1 0h0m-82 6h0m22 3h0m43 -10h0m-18 -4h0m-17 7h0m70 1h0m-16 -9h0m-80 5h0m60 7h0m21 0h0m-84 -1h0m60 -4h0m5 8h0m-5 -10h0m29 -4h0m2 -2h0m-57 8h0m1 -4h0m-17 3h0m64 -4h0m21 -2h0m-84 1h0m78 5h0m-17 5h0m-88 -10h0m104 9h0m-103 0h0m-4 3h0m46 -9h0m16 -4h0m-43 9h0m4 0h0m35 9h0m0 -10h0m13 -5h0m2 3h0m-73 4h0m85 -9h0m-86 18h0m21 -2h0m13 -4h0m73 -9h0m-87 -6h0m-19 5h0m72 3h0m21 0h0m-72 4h0m58 -3h0m-3 2h0m-68 1h0m40 -14h0m-34 10h0m-18 4h0m61 -11h0m16 9h0m-61 -2h0m94 1h0m-97 6h0m139 74h0m-32 -10h0m28 2h0m24 19h0m-24 -16h0m-6 -15h0m-24 -22h0m21 25h0m8 7h0m-13 -13h0m34 32h0m-64 -42h0m9 16h0m38 5h0m-16 -1h0m-15 2h0m74 11h0m-61 -16h0m2 -7h0m-1 14h0m31 -2h0m-57 -16h0m59 28h0m-15 -6h0m30 12h0m23 7h0m-72 -34h0m8 -11h0m-22 -10h0m2 13h0m44 24h0m-22 -6h0m-6 -8h0m56 32h0m-43 -27h0m-27 4h0m57 16h0m-59 -31h0m-24 -10h0m-8 -18h0m49 38h0m-5 9h0m-6 -17h0m16 8h0m-14 7h0m2 -1h0m48 3h0m-45 -19h0m-16 -9h0m24 5h0m20 26h0m-19 -20h0m13 16h0m-32 -23h0m24 21h0m-7 -21h0m-8 -4h0m-1 13h0m27 8h0m-19 -4h0m2 -7h0m-19 -11h0m27 28h0m-52 -31h0m68 21h0m-58 -2h0m39 8h0m-6 -1h0m17 -2h0m-26 -7h0m15 5h0m7 6h0m-20 -19h0m-9 16h0m-2 -14h0m23 9h0m-35 -9h0m3 3h0m50 0h0m-30 14h0m31 -3h0m-11 9h0m-29 -21h0m0 -12h0m-9 -8h0m4 10h0m16 4h0m12 22h0m-25 -19h0m-54 -39h0m48 48h0m1 -26h0m15 23h0m-3 2h0m-2 -15h0m-10 14h0m30 20h0m-8 -15h0m5 1h0m-25 -3h0m-26 -26h0m33 19h0m33 20h0m-38 -34h0m39 17h0m-45 -4h0m-22 -12h0m28 23h0m22 3h0m25 4h0m-38 -8h0m18 4h0m-32 -13h0m14 -10h0m9 19h0m-7 -16h0m17 19h0m-24 -11h0m24 3h0m-44 -22h0m56 53h0m4 -8h0m-10 -25h0m-16 -2h0m-4 5h0m11 -4h0m-12 18h0m-2 -29h0m46 18h0m-67 -7h0m26 7h0m27 9h0m-5 0h0m-25 -16h0m2 -23h0m3 35h0m-7 -6h0m18 11h0m46 10h0m-60 -28h0m19 29h0m-38 -26h0m25 1h0m9 2h0m-13 -15h0m8 17h0m26 6h0m-13 3h0m-37 -25h0m0 11h0m1 4h0m-11 -9h0m36 -5h0m35 27h0m-22 -7h0m-31 -21h0m4 17h0m-6 10h0m40 4h0m-27 -12h0m4 -5h0m24 17h0m-73 -13h0m46 -6h0m-31 1h0m5 -19h0m6 -11h0m-149 -1h0m111 60h0m-158 -55h0m15 77h0m-22 -15h0m188 -7h0m-27 -57h0m-32 52h0m18 22h0m-24 -66h0m57 -5h0m-75 -1h0m43 38h0m-29 -26h0m71 5h0m-81 -21h0m76 82h0m-194 -25h0m26 25h0m-3 -61h0m124 45h0m-61 -12h0m-62 26h0m112 -67h0m27 64h0m-41 27h0m-2 -38h0m-32 26h0m-32 -1h0m-5 -23h0m94 34h0m-73 -3h0m-36 -21h0m21 -19h0m96 45h0m22 6h0m-147 -16h0m99 -18h0m-70 0h0m61 27h0m73 -17h0m-109 -2h0m-6 6h0m102 15h0m-125 -27h0m-4 -6h0m71 31h0m-92 -32h0m115 12h0m-140 8h0m73 6h0m85 9h0m69 1h0m-133 -15h0m115 13h0m-17 4h0m31 -2h0m-181 -37h0m-3 19h0m76 -4h0m83 16h0m-73 1h0m51 -4h0m-114 -4h0m0 -13h0m-26 -2h0m-12 -16h0m160 26h0m-37 -5h0m-26 21h0m-59 -8h0m50 -14h0m-61 12h0m-27 -21h0m86 26h0m24 2h0m74 -14h0m-3 17h0m-29 6h0m-122 -29h0m94 8h0m-112 1h0m69 7h0m109 2h0m-64 -16h0m-117 -9h0m34 -6h0m86 38h0m-52 -7h0m102 1h0m-1 -1h0m-153 -7h0m104 2h0m-108 -1h0m55 1h0m112 -7h0m-15 18h0m-44 -8h0m-103 -18h0m-4 4h0m54 8h0m46 8h0m-110 -12h0m-18 -7h0m56 -5h0m-94 17h0m8 16h0m-9 -13h0m23 -37h0m58 14h0m-59 15h0m-24 10h0m47 1h0m-62 -3h0m19 -19h0m11 25h0m0 12h0m-19 -42h0m37 32h0m-5 9h0m-1 12h0m13 -58h0m1 11h0m-18 22h0m0 4h0m-2 9h0m-6 -37h0m-18 14h0m16 23h0m-13 -19h0m-5 -5h0m50 26h0m-17 -20h0m6 6h0m15 1h0m-26 10h0m15 -16h0m-30 -2h0m10 -35h0m20 81h0m-34 -41h0m1 4h0m5 22h0m4 -62h0m-2 21h0m-38 11h0m26 -4h0m56 17h0m-36 -5h0m-14 12h0m23 -28h0m-10 24h0m7 -11h0m223 75h0m-134 -24h0m83 -3h0m-46 -96h0m-27 129h0m31 34h0m47 -96h0m-18 27h0m-46 -89h0m5 19h0m7 40h0m-29 11h0m7 -28h0m60 2h0m-66 73h0m95 -29h0m-48 20h0m-29 -105h0m-14 38h0m73 64h0m-14 -10h0m-9 -60h0m-53 -16h0m-111 114h0m172 -40h0m-22 -39h0m63 4h0m-95 3h0m6 19h0m99 -43h0m-54 2h0m-4 31h0m47 42h0m-58 -48h0m-86 -31h0m149 63h0m-107 27h0m5 -21h0m26 -38h0m-53 57h0m43 -40h0m-100 -19h0m1 12h0m72 2h0m58 26h0m-11 -82h0m-32 94h0m0 -19h0m18 27h0m9 -27h0m-17 -60h0m74 44h0m-90 39h0m40 -33h0m32 3h0m-26 81h0m-70 -97h0m45 10h0m41 31h0m-48 -23h0m13 -34h0m-59 14h0m90 -9h0m51 26h0m9 35h0m-33 13h0m1 -8h0m-54 -62h0m61 56h0m46 -89h0m-190 34h0m184 -3h0m-73 10h0m27 -12h0m-19 -2h0m108 42h0m-157 -37h0m145 28h0m-214 -27h0m50 -77h0m-66 121h0m162 39h0m-64 -49h0m-44 9h0m100 -27h0m-8 43h0m-121 -72h0m185 6h0m-97 46h0m52 -8h0m-170 -37h0m211 20h0m-49 -18h0m-61 80h0m46 7h0m-100 -51h0m32 5h0m54 2h0m25 -56h0m-9 42h0m-105 -11h0m77 -22h0m-42 -40h0m113 41h0m-34 44h0m32 -19h0m-167 -2h0m22 20h0m80 50h0m-2 -71h0m2 13h0m-54 -19h0m37 59h0m74 7h0m-44 -35h0m50 -44h0m29 20h0m-94 39h0m-74 -69h0m36 102h0m0 -105h0m47 62h0m29 -78h0m6 66h0m-125 -35h0m47 -2h0m79 7h0m-103 36h0m108 5h0m-28 4h0m4 35h0m-37 -120h0m80 105h0m-175 -94h0m123 32h0m-47 18h0m113 -30h0m-86 -8h0m-8 -1h0m42 49h0m-125 35h0m39 -89h0m46 24h0m44 30h0m54 38h0m-159 -22h0m113 -42h0m-41 -7h0m-127 31h0m152 8h0m-88 -18h0m40 52h0m-37 -104h0m5 125h0m50 -65h0m-36 -17h0m125 -42h0m-110 67h0m33 -40h0m7 32h0m8 20h0m-13 -62h0m-54 39h0m-55 -35h0m25 40h0m66 -21h0m76 -29h0m-126 88h0m72 -113h0m-86 42h0m88 -78h0m-25 110h0m-3 68h0m49 -76h0m-32 22h0m14 -39h0m0 47h0m-102 -30h0m93 16h0m-138 2h0m196 50h0m-125 -65h0m65 9h0m-85 -37h0m94 50h0m23 7h0m-73 -115h0m55 131h0m-36 -50h0m48 -27h0m-47 58h0m32 -23h0m100 60h0m-76 -39h0m-119 -91h0m85 51h0m-83 45h0m128 -57h0m14 59h0m-26 17h0m-73 -31h0m-52 -23h0m91 21h0m-31 -39h0m46 -55h0m0 68h0m-104 9h0m70 -64h0m43 -17h0m-2 72h0m-74 -66h0m33 95h0m-55 -72h0m57 76h0m-44 -29h0m-28 30h0m71 -40h0m-64 12h0m-37 33h0m78 6h0m-47 -9h0m19 12h0m97 -54h0m34 -46h0m-9 -7h0m-123 79h0m101 -68h0m-9 -5h0m21 64h0m-112 5h0m137 3h0m-113 -77h0m66 42h0m-68 56h0m30 22h0m61 -48h0m-13 38h0m-4 3h0m-51 35h0m57 -10h0m51 -8h0m-61 -10h0m-64 14h0m83 -10h0m-18 47h0m0 -12h0m16 1h0m-43 -70h0m-49 74h0m29 -27h0m48 19h0m-69 -8h0m32 4h0m42 -9h0m-62 -13h0m87 -98h0m-5 23h0m16 -41h0m19 -16h0m-24 19h0m-23 32h0m13 -16h0m6 -26h0m-16 49h0m18 -29h0m-16 22h0m18 14h0m9 -39h0m-22 36h0m-7 -37h0m-14 -32h0m38 70h0m-42 -11h0m69 -40h0m-32 22h0m-5 0h0m-19 9h0m13 -29h0m16 17h0m-9 8h0m-22 -10h0m12 24h0m14 -41h0m0 36h0m25 -24h0m-39 41h0m14 -43h0m-57 5h0m44 3h0m-10 -33h0m24 52h0m-26 -15h0m29 14h0m-34 -20h0m11 15h0m45 -2h0m-6 -7h0m-49 15h0m46 -30h0m-23 44h0m-33 -39h0m43 17h0m-23 -10h0m-4 15h0m19 -26h0m-24 -28h0m6 67h0m27 -45h0m15 24h0m-27 19h0m-10 -29h0m1 3h0m-30 -13h0m66 12h0m-35 -8h0m23 30h0m-28 -34h0m-20 -7h0m53 40h0m29 -12h0m-44 -16h0m-19 8h0m32 -14h0m-47 -6h0m11 45h0m-11 -24h0m25 -11h0m12 10h0m-37 32h0m67 -39h0m-48 -3h0m-5 20h0m36 9h0m-62 -32h0m9 -1h0m93 22h0m-63 -8h0m-44 3h0m29 41h0m4 -38h0m20 6h0m-15 18h0m40 -30h0m-19 -2h0m-42 -7h0m56 12h0m-31 -12h0m8 3h0m-30 -11h0m28 83h0m1 -49h0m-23 9h0m-16 -5h0m82 -17h0m-53 3h0m16 -3h0m17 -14h0m-47 8h0m22 9h0m19 -20h0m-28 -17h0m7 51h0m-34 6h0m31 -65h0m18 46h0m-34 -9h0m19 43h0m26 -57h0m-31 -8h0m-52 38h0m30 -31h0m7 35h0m3 9h0m39 -17h0m-63 21h0m55 0h0m-10 -36h0m-16 -3h0m-8 49h0m-9 -39h0m4 3h0m-1 -2h0m33 -11h0m-21 15h0m35 0h0m-30 36h0m28 -30h0m-15 56h0m3 -28h0m37 -14h0m-31 38h0m-14 -36h0m-3 15h0m8 -2h0m-20 -28h0m31 4h0m-33 47h0m49 -21h0m-30 2h0m25 -8h0m-27 44h0m26 -65h0m-33 22h0m19 9h0m-11 18h0m2 17h0m27 -29h0m7 -27h0m-34 35h0m19 -17h0m-43 -16h0m1 22h0m91 18h0m-91 -26h0m34 -51h0m-1 109h0m-36 -69h0m14 17h0m-44 -13h0m39 12h0m-8 6h0m44 -16h0m-37 29h0m2 -15h0m6 -61h0m6 74h0m34 45h0m-4 -21h0m-11 -38h0m-1 19h0m-18 -44h0m-52 76h0m49 -13h0m14 -52h0m27 -21h0m-48 23h0m32 37h0m-16 -27h0m-12 12h0m4 -13h0m30 -57h0m-62 42h0m20 39h0m-14 -29h0m33 -8h0m6 -25h0m37 43h0m-51 -11h0m0 28h0m-22 -17h0m18 23h0m-4 -66h0m34 -9h0m-14 12h0m-20 27h0m11 1h0m-2 -20h0m3 18h0m8 7h0m-22 28h0m7 19h0m32 -66h0m-12 -19h0m0 46h0m-20 29h0m3 1h0m27 11h0m-35 -37h0m17 -11h0m-14 -16h0m-18 3h0m46 13h0m14 34h0m-22 -32h0m3 14h0m15 -45h0m-47 -18h0m48 56h0m-19 -6h0m10 -9h0m-7 33h0m8 -33h0m-9 10h0m-12 -49h0m27 95h0m-20 -42h0m-52 -19h0m46 -5h0m17 -47h0m8 41h0m4 20h0m13 40h0m-43 -27h0m-15 2h0m36 -1h0m-15 -22h0m6 -4h0m1 40h0m-10 -50h0m-4 46h0m22 -41h0m-32 49h0m8 -46h0m-16 -4h0m3 -9h0m16 30h0m-4 -47h0m5 43h0m1 15h0m0 -12h0m-16 -19h0m25 16h0m-39 -3h0m6 11h0m-26 -3h0m52 26h0m38 -70h0m-33 90h0m-25 -66h0m63 -4h0m-55 -10h0m28 -9h0" stroke="#d8cbc8" stroke-width="3.4" stroke-linecap="round"/>
<path d="M731 2370h0m18 -14h0m-33 8h0m-32 14h0m23 -13h0m-26 4h0m157 68h0m-40 8h0m-18 -36h0m68 31h0m-49 -6h0m13 -2h0m-5 0h0m31 14h0m-55 -24h0m28 8h0m-1 -12h0m-19 9h0m6 -12h0m18 21h0m40 10h0m-59 -9h0m34 2h0m-166 -12h0m90 -18h0m1 11h0m-70 60h0m-58 -53h0m-38 23h0m82 27h0m106 -21h0m-32 -7h0m1 -7h0m-79 17h0m-20 38h0m163 13h0m-138 -41h0m83 37h0m-99 -8h0m-56 -10h0m188 -17h0m-23 35h0m-160 -15h0m92 -8h0m78 5h0m-186 -12h0m54 -15h0m80 24h0m-130 1h0m165 20h0m20 -8h0m27 14h0m-123 -23h0m74 4h0m51 -12h0m-70 18h0m-50 -12h0m-55 -3h0m92 20h0m-27 -9h0m53 -13h0m15 16h0m-43 -10h0m-79 -1h0m-8 2h0m56 14h0m-5 -19h0m54 11h0m-85 -8h0m64 6h0m60 12h0m10 0h0m8 7h0m-177 -32h0m-24 5h0m95 11h0m49 -6h0m-117 -8h0m-37 -9h0m126 18h0m97 -10h0m-156 7h0m140 21h0m-111 -11h0m-67 -17h0m-14 7h0m27 8h0m174 16h0m-204 -38h0m-11 14h0m66 -33h0m-20 40h0m50 -14h0m-12 12h0m117 15h0m-31 -30h0m-140 10h0m84 5h0m-43 -3h0m64 -16h0m-83 21h0m93 1h0m-134 -14h0m2 -12h0m9 -5h0m43 -2h0m-30 3h0m192 36h0m-173 -5h0m-72 -6h0m34 19h0m17 -20h0m-36 -27h0m1 27h0m-25 -39h0m40 27h0m-28 32h0m24 -33h0m-27 12h0m7 29h0m-5 11h0m34 -26h0m-41 -12h0m7 34h0m12 -31h0m-16 4h0m26 18h0m2 -49h0m19 41h0m-39 -16h0m17 10h0m11 20h0m-46 -40h0m-10 3h0m62 24h0m-43 -15h0m58 2h0m-27 -9h0m41 11h0m-71 -21h0m38 10h0m-12 -15h0m14 11h0m-42 47h0m14 -51h0m15 10h0m-26 -23h0m43 58h0m-37 -47h0m-18 35h0m53 -4h0m-16 -9h0m-50 -6h0m45 -4h0m-12 21h0m24 -33h0m187 87h0m-86 -8h0m17 -86h0m-35 47h0m24 55h0m61 -39h0m-102 47h0m100 -23h0m-10 -26h0m-101 34h0m67 -9h0m21 -18h0m-54 12h0m25 8h0m3 -62h0m83 28h0m-73 30h0m-12 -57h0m-13 20h0m35 64h0m24 -35h0m-17 -72h0m-56 44h0m64 97h0m-25 -24h0m-28 -18h0m53 -23h0m-9 -36h0m26 -7h0m-144 -14h0m157 39h0m-3 27h0m25 -24h0m-72 105h0m34 -44h0m-50 -30h0m24 -33h0m-64 3h0m-52 67h0m69 -72h0m-9 -29h0m42 27h0m61 -1h0m-119 6h0m81 3h0m-66 -10h0m-12 -29h0m1 75h0m31 -31h0m70 -18h0m36 64h0m-57 54h0m-16 -86h0m6 -12h0m-27 24h0m45 -114h0m-16 110h0m-61 -53h0m4 9h0m45 22h0m45 20h0m-20 66h0m-17 -135h0m-29 -5h0m31 88h0m15 -69h0m-77 53h0m37 -4h0m76 30h0m-134 -44h0m15 18h0m47 -48h0m5 89h0m-31 -95h0m63 26h0m-190 -54h0m170 17h0m-67 90h0m7 15h0m200 -101h0m-165 -23h0m-27 42h0m106 6h0m-55 -24h0m-47 -19h0m70 13h0m-104 58h0m-22 -24h0m-22 50h0m147 20h0m-61 -48h0m101 -40h0m-123 0h0m16 40h0m42 -9h0m-67 -17h0m100 25h0m-139 -43h0m68 -25h0m66 97h0m52 3h0m-102 -24h0m20 -36h0m21 57h0m-171 -65h0m136 48h0m9 -24h0m-27 43h0m119 -20h0m7 -2h0m-125 -53h0m-71 18h0m105 57h0m-79 -50h0m101 -20h0m-97 43h0m12 34h0m74 -12h0m-10 -37h0m-20 40h0m6 -61h0m71 3h0m-32 60h0m-56 0h0m31 -30h0m-41 -21h0m-1 15h0m-44 52h0m114 7h0m4 -76h0m-21 -22h0m15 75h0m-73 -40h0m153 50h0m-52 9h0m3 -81h0m-86 -2h0m-31 20h0m53 43h0m73 -65h0m-63 -31h0m-15 106h0m-1 -32h0m19 12h0m-42 5h0m44 -57h0m-50 24h0m132 -15h0m4 -21h0m-83 10h0m65 58h0m-160 48h0m35 -100h0m82 38h0m-71 39h0m61 -36h0m5 -15h0m-78 -34h0m21 -6h0m129 31h0m-28 62h0m-62 -45h0m49 37h0m13 -70h0m-96 2h0m8 61h0m-5 -9h0m33 22h0m5 -40h0m-9 -32h0m-78 -16h0m73 2h0m-68 49h0m-82 -29h0m170 98h0m42 -31h0m-49 -85h0m-33 -9h0m67 55h0m-78 21h0m7 -98h0m31 82h0m118 -29h0m-188 3h0m83 9h0m-88 41h0m61 -76h0m64 51h0m-209 -33h0m169 44h0m75 -6h0m-24 -99h0m-96 107h0m-12 23h0m56 -41h0m-32 -40h0m62 -77h0m1 150h0m-35 -14h0m59 -27h0m-92 2h0m-67 1h0m109 -75h0m-93 105h0m-84 -83h0m101 99h0m4 -65h0m69 -28h0m30 4h0m18 34h0m-29 18h0m-100 54h0m-63 -67h0m181 -37h0m-97 103h0m13 -66h0m78 -15h0m-65 10h0m28 -25h0m-50 19h0m52 47h0m20 16h0m-50 -4h0m-27 -28h0m26 5h0m-10 35h0m-9 11h0m24 -61h0m2 47h0m-24 -12h0m15 -4h0m-6 45h0m-27 -64h0m45 56h0m71 -10h0m-13 -24h0m-18 12h0m8 22h0m5 -25h0m3 -3h0m-79 -36h0m89 73h0m-52 -26h0m-28 14h0m-32 -56h0m87 39h0m-36 35h0m8 -33h0m-7 -16h0m5 38h0m-2 -38h0m58 -17h0m27 27h0m-108 -5h0m98 -10h0m-102 40h0m-21 -45h0m30 10h0m-6 18h0m63 -2h0m-20 -7h0m-27 25h0m-6 4h0m22 -72h0m-37 21h0m60 44h0m-35 -62h0m-7 21h0m-14 22h0m-20 -18h0m80 -13h0m-32 15h0m-40 23h0" stroke="#dec4be" stroke-width="3.4" stroke-linecap="round"/>
<path d="M641 2485h0m-30 -2h0m3 7h0m156 3h0m-182 -9h0m34 7h0m123 -7h0m47 5h0m-194 -9h0m90 19h0m42 -17h0m39 29h0m-75 -15h0m-100 -42h0m115 39h0m-48 -2h0m148 -14h0m-71 10h0m-24 -11h0m-120 -13h0m214 29h0m-159 3h0m164 15h0m-110 -9h0m59 -6h0m-87 -1h0m128 -12h0m-57 13h0m-135 -20h0m151 18h0m-162 -17h0m7 -3h0m-1 17h0m-21 -4h0m92 14h0m-98 -8h0m-20 1h0m63 23h0m-39 -28h0m14 51h0m-37 -43h0m5 -18h0m24 27h0m-23 -11h0m27 13h0m-2 -22h0m-16 21h0m-10 -16h0m17 3h0m78 115h0m-42 -45h0m115 34h0m34 -41h0m-62 -16h0m37 -21h0m-10 51h0m-43 -13h0m40 -44h0m49 77h0m-22 -34h0m-26 53h0m-2 22h0m68 -32h0m-28 -103h0m-59 29h0m-99 7h0m56 88h0m134 -34h0m-91 23h0m-88 -127h0m164 155h0m-60 -104h0m-21 35h0m74 -53h0m-29 49h0m-1 -48h0m24 73h0m-40 -88h0m-53 89h0m-15 -27h0m189 9h0m-25 26h0m-101 -94h0m-9 144h0m39 -132h0m45 79h0m-106 -56h0m12 -5h0m28 105h0m-17 -73h0m76 -75h0m-88 62h0m112 -37h0m-9 25h0m46 -17h0m-256 28h0m71 6h0m-32 29h0m57 4h0m37 -73h0m35 82h0m-53 -98h0m34 103h0m-82 -82h0m36 59h0m-70 -37h0m142 26h0m-2 -16h0m-84 44h0m76 -55h0m-121 -1h0m67 12h0m20 88h0m60 -51h0m3 -77h0m-185 16h0m133 76h0m-2 -83h0m-73 103h0m-12 -5h0m86 -113h0m-2 -8h0m-57 20h0m41 25h0m51 -73h0m-101 169h0m25 -89h0m96 -54h0m-122 65h0m132 -11h0m-176 8h0m126 -11h0m-107 35h0m41 33h0m46 -42h0m-11 17h0m24 7h0m-61 11h0m37 -8h0m95 1h0m-93 24h0m-9 -21h0m8 -40h0m5 37h0m6 16h0m10 -11h0m-54 -36h0m-10 10h0m20 32h0m47 20h0m-98 0h0m102 -25h0m6 -7h0m1 25h0m-31 -32h0m30 -14h0m-41 28h0m-12 -12h0m88 -24h0m-84 57h0m-10 -49h0m55 55h0m-95 -15h0m136 0h0m-74 13h0m-12 -39h0m65 -40h0m-26 62h0" stroke="#deada0" stroke-width="3.4" stroke-linecap="round"/>
<path d="M549 2533h0m105 55h0m76 17h0m-4 -62h0m-10 51h0m-30 20h0m0 -16h0m-6 -23h0m59 21h0m-54 2h0m-26 16h0m100 27h0m-49 -51h0m-13 18h0m-1 6h0m65 -25h0m-55 28h0m44 -34h0m33 -12h0m-48 27h0m-31 7h0m29 23h0m3 -68h0m-1 32h0m-34 6h0m53 -14h0m-3 18h0m-100 39h0m76 -32h0m86 -84h0m-103 75h0m54 36h0m-68 -48h0m53 -27h0m-1 35h0m19 15h0m-28 -26h0m-4 -24h0m13 47h0m48 -4h0m-63 4h0m48 8h0m-20 21h0m-39 -42h0m10 54h0m6 -79h0m32 18h0m-50 59h0m31 -61h0m-43 -28h0m28 39h0m-4 12h0m27 11h0m-54 -1h0m27 20h0m20 -33h0m-3 -32h0m-8 52h0m21 -15h0m-5 -8h0m-66 16h0m-26 -29h0m46 -54h0m6 47h0m22 31h0m-7 8h0m25 1h0m4 -78h0m-46 28h0m-6 34h0m-2 -13h0m-32 51h0m68 -68h0m-11 41h0m0 -3h0m-25 -13h0m-8 1h0m36 10h0m31 -13h0m-7 26h0m-55 -42h0m28 13h0m-25 3h0m22 -34h0m-23 42h0m63 23h0m-98 -20h0m36 3h0m14 20h0m39 -20h0m-64 -10h0m-60 25h0m79 2h0m54 -45h0m-42 16h0m17 33h0m-9 -37h0m-22 9h0m-7 2h0m-10 -46h0m55 44h0m-40 -54h0m-5 35h0m-22 15h0m81 -2h0m-85 9h0m62 -22h0m-36 -20h0m30 34h0m6 -12h0m46 -9h0m-56 11h0m-40 6h0m58 -10h0m-4 9h0m-13 15h0m5 -4h0m-31 3h0" stroke="#da6c50" stroke-width="3.4" stroke-linecap="round"/>
<path d="M727 2586h0m-104 30h0m45 -4h0m89 -25h0m-33 17h0m-80 -17h0m82 7h0m-161 -3h0m127 21h0m18 -13h0m53 -14h0m11 12h0m-66 28h0m63 -7h0m-37 -23h0m-44 -1h0m48 -8h0m-47 3h0m18 -46h0m46 46h0m-31 9h0m-33 -17h0m78 1h0m-2 24h0m-67 -18h0m-24 -5h0m36 1h0m-33 -3h0m52 19h0m-105 -10h0m119 3h0m-78 34h0m83 -9h0m-45 15h0m60 -13h0m-40 -10h0m21 -28h0m-20 9h0m-4 11h0m9 15h0m5 -20h0m-69 21h0m105 -27h0m-77 15h0m14 2h0m25 26h0m-6 -79h0m-40 57h0m27 -4h0m33 11h0m-84 -31h0m109 31h0m-10 13h0m-35 -11h0m-29 15h0m64 -78h0m-21 79h0m13 -23h0m-36 -20h0m-13 -12h0m-19 10h0m60 5h0m-26 17h0m13 -21h0m-50 53h0m49 -29h0m35 7h0m-39 -24h0m-47 -10h0m55 11h0m-27 21h0m22 -19h0m-19 42h0m28 -14h0m-8 -31h0m31 13h0m-56 -18h0m14 22h0m29 -16h0m-43 6h0m-8 12h0m13 -12h0m1 11h0m11 -28h0m2 -24h0m35 39h0m-64 3h0m5 20h0m-40 -27h0m85 -29h0m-33 -12h0m2 8h0m55 -10h0m-20 37h0m-21 42h0m4 -30h0m39 18h0m-130 9h0m81 -50h0m-3 52h0m-4 -27h0m64 37h0m-23 -34h0m-20 23h0m2 -1h0m3 -35h0m-25 3h0m24 -38h0m-31 78h0m38 -42h0m-20 31h0m10 0h0m-15 -38h0m-2 -14h0m4 20h0m13 20h0m5 -10h0" stroke="#d2573e" stroke-width="3.4" stroke-linecap="round"/>
<path d="M669 2632h0m57 -63h0m44 -28h0m-149 58h0m78 -42h0m-62 28h0m237 -18h0m-69 -40h0m-114 75h0m41 2h0m-70 -10h0m68 -5h0m-147 12h0m73 -68h0m-2 48h0m63 24h0m42 0h0m1 -8h0m-66 -15h0m4 -1h0m12 36h0m43 -21h0m-84 16h0m51 11h0m-1 15h0m16 -36h0m-2 16h0m-7 -33h0m-22 -17h0m50 51h0m-89 -4h0m91 -29h0m-40 1h0m19 29h0m-18 -70h0m-1 44h0m7 56h0m9 -43h0m19 23h0m-31 -38h0m23 8h0m-38 -21h0m26 50h0m38 -18h0m-16 0h0m18 -7h0m19 -13h0m-50 37h0m-60 -23h0m38 0h0m-47 -24h0m101 47h0m-33 -2h0m-36 16h0m7 -49h0m26 10h0m-13 27h0m49 -14h0m-33 -47h0m0 65h0m-20 -53h0m36 34h0m-40 -4h0" stroke="#cb422c" stroke-width="3.4" stroke-linecap="round"/>
<path d="M554 2482C554.5 2479.8 554.5 2472.8 557 2469C559.5 2465.2 562.5 2463.7 569 2459C575.5 2454.3 585.2 2447 596 2441C606.8 2435 622.7 2429 634 2423C645.3 2417 654.2 2411.3 664 2405C673.8 2398.7 684.2 2389.2 693 2385C701.8 2380.8 708.2 2379 717 2380C725.8 2381 737.7 2386.8 746 2391C754.3 2395.2 760.5 2400.7 767 2405C773.5 2409.3 777.5 2412.7 785 2417C792.5 2421.3 804.8 2427.2 812 2431C819.2 2434.8 823.7 2437.2 828 2440C832.3 2442.8 835.2 2445.2 838 2448C840.8 2450.8 843.8 2455.5 845 2457" fill="none" stroke="#5a5a5a" stroke-opacity="0.88" stroke-width="3.5" stroke-linecap="round"/>
<path d="M554 2482C554.3 2483.5 552.5 2489 556 2491C559.5 2493 566.3 2493 575 2494C583.7 2495 595.7 2495.8 608 2497C620.3 2498.2 634.8 2499.5 649 2501C663.2 2502.5 678.2 2504.7 693 2506C707.8 2507.3 723.2 2508 738 2509C752.8 2510 769.7 2511 782 2512C794.3 2513 804.7 2513.8 812 2515C819.3 2516.2 823.7 2518.3 826 2519" fill="none" stroke="#5a5a5a" stroke-opacity="0.88" stroke-width="3.5" stroke-linecap="round"/>
<path d="M579 2491C582.8 2492 595.3 2492.5 602 2497C608.7 2501.5 613.7 2509.7 619 2518C624.3 2526.3 628 2537.2 634 2547C640 2556.8 647.7 2569.5 655 2577C662.3 2584.5 666.7 2588.8 678 2592C689.3 2595.2 711.7 2596.5 723 2596C734.3 2595.5 738.7 2593.7 746 2589C753.3 2584.3 759.5 2574.2 767 2568C774.5 2561.8 783.2 2555.2 791 2552C798.8 2548.8 808.2 2549.3 814 2549C819.8 2548.7 824 2549.8 826 2550" fill="none" stroke="#5a5a5a" stroke-opacity="0.88" stroke-width="3.5" stroke-linecap="round"/>
<text x="274" y="53" font-size="46" text-anchor="middle" font-style="italic">Sell</text>
<text x="706" y="53" font-size="46" text-anchor="middle" font-style="italic">Ccr7</text>
<defs><linearGradient id="cb40819" x1="0" y1="1" x2="0" y2="0"><stop offset="0" stop-color="#d9d9d9"/><stop offset="0.3" stop-color="#ddb3aa"/><stop offset="0.65" stop-color="#d7674f"/><stop offset="1" stop-color="#b3172a"/></linearGradient></defs>
<rect x="408" y="19" width="22" height="113" fill="url(#cb40819)"/>
<path d="M408 41h4M430 41h-4M408 67h4M430 67h-4M408 93h4M430 93h-4M408 121h4M430 121h-4" stroke="#fff" stroke-width="1"/>
<text x="436" y="47.5" font-size="18">7.5</text>
<text x="436" y="73.5" font-size="18">5.0</text>
<text x="436" y="99.5" font-size="18">2.5</text>
<text x="436" y="127.5" font-size="18">0.0</text>
<defs><linearGradient id="cb83828" x1="0" y1="1" x2="0" y2="0"><stop offset="0" stop-color="#d9d9d9"/><stop offset="0.3" stop-color="#ddb3aa"/><stop offset="0.65" stop-color="#d7674f"/><stop offset="1" stop-color="#b3172a"/></linearGradient></defs>
<rect x="838" y="28" width="23" height="117" fill="url(#cb83828)"/>
<path d="M838 33h4M861 33h-4M838 58h4M861 58h-4M838 83h4M861 83h-4M838 108h4M861 108h-4M838 133h4M861 133h-4" stroke="#fff" stroke-width="1"/>
<text x="861" y="39.5" font-size="18">10.0</text>
<text x="861" y="64.5" font-size="18">7.5</text>
<text x="861" y="89.5" font-size="18">5.0</text>
<text x="861" y="114.5" font-size="18">2.5</text>
<text x="861" y="139.5" font-size="18">0.0</text>
<text transform="translate(38 224) rotate(-90)" font-size="45" text-anchor="middle">Saline</text>
<text transform="translate(38 603) rotate(-90)" font-size="45" text-anchor="middle">IAT</text>
<line x1="62" y1="123" x2="62" y2="337" stroke="#000" stroke-width="1.5"/>
<line x1="62" y1="463" x2="62" y2="679" stroke="#000" stroke-width="1.5"/>
<text transform="translate(68.5 397.5) rotate(-90)" font-size="26" text-anchor="middle">LV2</text>
<line x1="157" y1="800.5" x2="463.5" y2="800.5" stroke="#000" stroke-width="1.5"/>
<line x1="529.5" y1="800.5" x2="837.5" y2="800.5" stroke="#000" stroke-width="1.5"/>
<text x="497" y="809" font-size="26" text-anchor="middle">LV1</text>
<text x="407" y="256" font-size="27" fill="#2b3f8e">Tfh</text>
<text x="832" y="256" font-size="27" fill="#2b3f8e">Tfh</text>
<text x="405" y="327" font-size="27" fill="#b31b2e">T<tspan font-size="16.7" dy="8.1">H</tspan><tspan dy="-8.1">1</tspan></text>
<text x="829" y="327" font-size="27" fill="#b31b2e">T<tspan font-size="16.7" dy="8.1">H</tspan><tspan dy="-8.1">1</tspan></text>
<text x="403" y="636" font-size="27" fill="#2b3f8e">Tfh</text>
<text x="830" y="636" font-size="27" fill="#2b3f8e">Tfh</text>
<text x="401" y="713" font-size="27" fill="#b31b2e">T<tspan font-size="16.7" dy="8.1">H</tspan><tspan dy="-8.1">1</tspan></text>
<text x="830" y="713" font-size="27" fill="#b31b2e">T<tspan font-size="16.7" dy="8.1">H</tspan><tspan dy="-8.1">1</tspan></text>
<text x="1153" y="1031" font-size="46" text-anchor="middle" font-style="italic">Pdcd1</text>
<defs><linearGradient id="cb1269992" x1="0" y1="1" x2="0" y2="0"><stop offset="0" stop-color="#d9d9d9"/><stop offset="0.3" stop-color="#ddb3aa"/><stop offset="0.65" stop-color="#d7674f"/><stop offset="1" stop-color="#b3172a"/></linearGradient></defs>
<rect x="1269" y="992" width="26" height="128" fill="url(#cb1269992)"/>
<path d="M1269 1003h4M1295 1003h-4M1269 1031h4M1295 1031h-4M1269 1058h4M1295 1058h-4M1269 1085h4M1295 1085h-4M1269 1111h4M1295 1111h-4" stroke="#fff" stroke-width="1"/>
<text x="1298" y="1009.5" font-size="18">8</text>
<text x="1298" y="1037.5" font-size="18">6</text>
<text x="1298" y="1064.5" font-size="18">4</text>
<text x="1298" y="1091.5" font-size="18">2</text>
<text x="1298" y="1117.5" font-size="18">0</text>
<text transform="translate(900 1196) rotate(-90)" font-size="45" text-anchor="middle">Saline</text>
<text transform="translate(899 1575) rotate(-90)" font-size="45" text-anchor="middle">IAT</text>
<line x1="923" y1="1094" x2="923" y2="1310" stroke="#000" stroke-width="1.5"/>
<line x1="923" y1="1434" x2="923" y2="1650" stroke="#000" stroke-width="1.5"/>
<text transform="translate(931 1370) rotate(-90)" font-size="26" text-anchor="middle">LV2</text>
<text x="1131.5" y="1765" font-size="26" text-anchor="middle">LV1</text>
<text x="1278" y="1251" font-size="27" fill="#2b3f8e">Tfh</text>
<text x="1276" y="1289" font-size="27" fill="#b31b2e">T<tspan font-size="16.7" dy="8.1">H</tspan><tspan dy="-8.1">1</tspan></text>
<text x="1271" y="1596" font-size="27" fill="#2b3f8e">Tfh</text>
<text x="1269" y="1634" font-size="27" fill="#b31b2e">T<tspan font-size="16.7" dy="8.1">H</tspan><tspan dy="-8.1">1</tspan></text>
<text x="262" y="1922" font-size="46" text-anchor="middle" font-style="italic">Ifng</text>
<text x="714" y="1924" font-size="46" text-anchor="middle" font-style="italic">Il10</text>
<defs><linearGradient id="cb4211942" x1="0" y1="1" x2="0" y2="0"><stop offset="0" stop-color="#d9d9d9"/><stop offset="0.3" stop-color="#ddb3aa"/><stop offset="0.65" stop-color="#d7674f"/><stop offset="1" stop-color="#b3172a"/></linearGradient></defs>
<rect x="421" y="1942" width="22" height="112" fill="url(#cb4211942)"/>
<path d="M421 1949h4M443 1949h-4M421 1974h4M443 1974h-4M421 1999h4M443 1999h-4M421 2024h4M443 2024h-4M421 2049h4M443 2049h-4" stroke="#fff" stroke-width="1"/>
<text x="444" y="1955.5" font-size="18">10.0</text>
<text x="444" y="1980.5" font-size="18">7.5</text>
<text x="444" y="2005.5" font-size="18">5.0</text>
<text x="444" y="2030.5" font-size="18">2.5</text>
<text x="444" y="2055.5" font-size="18">0.0</text>
<defs><linearGradient id="cb8661941" x1="0" y1="1" x2="0" y2="0"><stop offset="0" stop-color="#d9d9d9"/><stop offset="0.3" stop-color="#ddb3aa"/><stop offset="0.65" stop-color="#d7674f"/><stop offset="1" stop-color="#b3172a"/></linearGradient></defs>
<rect x="866" y="1941" width="23" height="114" fill="url(#cb8661941)"/>
<path d="M866 1971h4M889 1971h-4M866 1997h4M889 1997h-4M866 2022h4M889 2022h-4M866 2048h4M889 2048h-4" stroke="#fff" stroke-width="1"/>
<text x="889" y="1977.5" font-size="18">7.5</text>
<text x="889" y="2003.5" font-size="18">5.0</text>
<text x="889" y="2028.5" font-size="18">2.5</text>
<text x="889" y="2054.5" font-size="18">0.0</text>
<text transform="translate(44 2119) rotate(-90)" font-size="47" text-anchor="middle">Saline</text>
<text transform="translate(44 2498) rotate(-90)" font-size="45" text-anchor="middle">IAT</text>
<line x1="68" y1="2018" x2="68" y2="2234" stroke="#000" stroke-width="1.5"/>
<line x1="68" y1="2358" x2="68" y2="2573" stroke="#000" stroke-width="1.5"/>
<text transform="translate(77 2291) rotate(-90)" font-size="26" text-anchor="middle">LV2</text>
<line x1="139" y1="2678" x2="446" y2="2678" stroke="#000" stroke-width="1.5"/>
<line x1="511" y1="2678" x2="819" y2="2678" stroke="#000" stroke-width="1.5"/>
<text x="479" y="2687" font-size="26" text-anchor="middle">LV1</text>
<text x="399" y="2163" font-size="27" fill="#2b3f8e">Tfh</text>
<text x="398" y="2216" font-size="27" fill="#b31b2e">T<tspan font-size="16.7" dy="8.1">H</tspan><tspan dy="-8.1">1</tspan></text>
<text x="835" y="2159" font-size="27" fill="#2b3f8e">Tfh</text>
<text x="833" y="2212" font-size="27" fill="#b31b2e">T<tspan font-size="16.7" dy="8.1">H</tspan><tspan dy="-8.1">1</tspan></text>
<text x="411" y="2526" font-size="27" fill="#2b3f8e">Tfh</text>
<text x="411" y="2578" font-size="27" fill="#b31b2e">T<tspan font-size="16.7" dy="8.1">H</tspan><tspan dy="-8.1">1</tspan></text>
<text x="844" y="2526" font-size="27" fill="#2b3f8e">Tfh</text>
<text x="842" y="2578" font-size="27" fill="#b31b2e">T<tspan font-size="16.7" dy="8.1">H</tspan><tspan dy="-8.1">1</tspan></text>
<defs><marker id="mc" markerUnits="userSpaceOnUse" markerWidth="14" markerHeight="14" refX="7" refY="7" overflow="visible"><circle cx="7" cy="7" r="4.6" fill="#dcdcdc" stroke="#383838" stroke-width="1.4"/></marker></defs>
<text x="1253" y="55" font-size="46" text-anchor="middle" fill="#2b3f8e">Tfh</text>
<text x="1684" y="55" font-size="46" fill="#b31b2e">T<tspan font-size="27" dy="14">H</tspan><tspan dy="-14" dx="-1">1</tspan></text>
<path d="M1049 81V378H1437" fill="none" stroke="#111" stroke-width="1.7"/>
<path d="M1049 337h-3M1049 268h-3M1049 199h-3M1049 130h-3M1090 378v3M1183 378v3M1276 378v3M1369 378v3" stroke="#111" stroke-width="1.2"/>
<text x="1046" y="343.1" font-size="17" text-anchor="end" fill="#222">0.0</text>
<text x="1046" y="274.1" font-size="17" text-anchor="end" fill="#222">2.5</text>
<text x="1046" y="205.1" font-size="17" text-anchor="end" fill="#222">5.0</text>
<text x="1046" y="136.1" font-size="17" text-anchor="end" fill="#222">7.5</text>
<text x="1090" y="397" font-size="17" text-anchor="middle" fill="#222">0.0</text>
<text x="1183" y="397" font-size="17" text-anchor="middle" fill="#222">2.5</text>
<text x="1276" y="397" font-size="17" text-anchor="middle" fill="#222">5.0</text>
<text x="1369" y="397" font-size="17" text-anchor="middle" fill="#222">7.5</text>
<clipPath id="cp1"><rect x="1049" y="81" width="388" height="297"/></clipPath>
<g clip-path="url(#cp1)">
<path d="M1068.1 195.2L1069.2 185.1 1068.3 150.9 1068.9 193.9 1068.7 190 1068.3 182.5 1069.1 220.3 1068.2 189.6 1069 178.5 1068.2 163.2 1068.7 228.8 1068.4 209.2 1068.5 229.1 1069.5 161.7 1069.2 172.6 1068.5 233.7 1069.4 145.5 1068.4 147.1 1068.6 176.3 1069.3 179.9 1069 222.9 1068.2 236.2 1069.5 188.1 1068.4 232.1 1068.4 219.8 1069.2 214.9 1068.5 234.8 1068.5 194.1 1068.2 196.3 1068.2 158.6 1068.9 188.9 1068.4 177.6 1068.9 190.7 1068.6 175.5 1068.7 194.7 1069.5 211.5 1068.8 144 1068.9 144.2 1069.3 158.8 1068.3 171.2 1068.3 208.1 1069.4 216.1 1069.3 210.5 1068.4 231.1 1068.3 165.7 1069.2 274 1069.5 247 1068.3 274.9 1069.5 240.2 1069.4 246.9 1069 298.3 1068.7 285.6 1068.2 243.1 1068.1 269.8 1069.5 238.8 1068.4 274.2 1069.1 293.9 1068.4 334 1069.3 327.5 1068.9 349.9 1068.5 358 1068.3 347.2 1069.1 319.3 1068.2 328.4 1068.4 356.6 1068.9 351 1069.3 357.4 1069 110.7 1124.3 96.9 1125.2 105.2 1124.2 116.2 1123.9 132.8 1124.3 141 1106.6 347.6 1079.4 348.5 1087.6 347.8 1101.2 348 1115.6 348.3 1084.4 347.7 1100.7 348.6 1138.1 348.4 1144.4 348.1 1121.6 348.6 1124 347.7 1116.4 348.3 1085 348.4 1077.6 348.5 1076.4 347.9 1139.5 348.1 1124.7 347.9 1143.2 347.9 1076.6 347.7 1120.1 347.5 1109.2 347.8 1126.8 348.4 1097.7 348.1 1145.8 348.4 1080.4 348.6 1113.7 348.1 1223.5 347.8 1239.9 348.4 1223.6 348.3 1220.2 348.2 1229.2 347.8 1241.4 348 1184.9 347.9 1218.3 347.8 1240 348.2 1237 347.7 1191.4 347.6 1228.9 348.5 1236.2 347.6 1207.1 347.8 1212.3 348.4 1187.9 348.1 1299.8 347.9 1302.1 347.6 1256.8 348.2 1304.7 348 1334.9 347.6 1325.2 347.7 1312.3 347.5 1283.2 348.1 1312.8 347.9 1299.7 348.4 1287.7 347.8 1321.7 347.7 1257.1 347.9 1314.1 347.8 1252.5 348.4 1301.4 347.6 1291.1 347.5 1269.7 347.5 1309.7 348 1292.5 347.7 1302.5 348.2 1328.7 347.6 1271.8 347.6 1250.9 348.2 1275.7 348.5 1308 348.1 1267.3 348 1264.5 347.7 1327.5 348.1 1306.4 348.6 1287.8 347.7 1326.3 348.5 1277.9 347.7 1306.9 348.4 1266.9 348.2 1286.8 347.7 1318.9 348.4 1328.2 348.4 1325.3 348 1282.9 347.8 1299.9 347.7 1277 347.8 1261.6 347.5 1292.4 348 1321.6 347.5 1322.6 348.5 1310.8 348.3 1331.2 348 1273.6 348.3 1264.4 347.8 1360.7 347.9 1350.9 348 1347.5 347.7 1358.6 348 1370.4 348.2 1363.1 348.2 1353.1 347.7 1382.3 347.6 1390.3 348.4 1360.8 347.7 1339.7 347.5 1337.3 348 1067.7 365.1 1088.1 365.5 1093.7 365.1 1103 365.1 1116 365 1162.5 365.7 1166.3 364.6 1276 365.1 1289 365.3 1296.5 364.8 1123.5 299.1 1132.8 299.2 1142.1 299 1143.9 299.7 1181.1 299.1 1196 299.3 1272.3 298.7 1285.3 298.7 1290.9 299.4 1324.4 299.2 1354.1 299.6 1372.7 299.3 1382 298.8 1329.5 193.5 1294.1 167.4 1337.6 153.5 1321.4 177.7 1308.5 148.4 1289.8 162.2 1291.8 186.3 1300.2 190.2 1279.5 180.7 1313.8 155.6 1275.4 171.9 1270.8 166.5 1312.8 167.9 1273.2 201.4 1257.2 206 1307.4 145.9 1325.9 221.2 1291.6 163.2 1320.5 186.5 1364.3 180.1 1316.7 168.3 1298.7 195.6 1348.1 157.3 1255.7 162.4 1323.3 164.7 1299.8 183.3 1315.7 149.8 1368.4 208.4 1328.5 163.4 1303.8 204.1 1294.5 192 1314.8 175.5 1338.7 173.6 1263.6 182.2 1313.5 169.2 1318.3 141.7 1310.8 175.5 1333.7 186.6 1304.5 198 1267 174.5 1265.5 167.7 1348.1 177 1312.5 190.5 1255.3 170 1285.8 172 1320.2 158.3 1364.7 175.4 1316.9 210.3 1328.9 202.1 1268.8 163.9 1309.8 194.7 1343.8 197.8 1311.6 217.1 1335.4 201.5 1307.5 214.7 1262.5 161.2 1326.6 171.6 1297.8 179.1 1275.9 156.4 1286.7 190.3 1343.5 190.1 1279.1 153.8 1268.8 190.5 1273.1 204.8 1342.8 175.6 1300.4 195.6 1294.2 175.8 1311.7 160.8 1320.5 170.6 1333.2 194.3 1267 208.4 1337.7 166.8 1302.6 186 1317.9 184.9 1284.2 177.5 1279.7 116.2 1294.6 116.2 1316.9 127.2 1369 113.4 1391.3 124.5 1417.4 107.9 1391.3 221.1 1090 157.6 1103 157.6 1088.1 171.4 1090 176.9 1097.4 182.4 1099.3 190.7 1101.2 199 1104.9 204.5 1116 204.5 1097.4 215.6 1108.6 223.8 1101.2 226.6 1145.8 215.6 1142.1 190.7 1138.4 146.6 1160.7 165.9 1201.6 152.1 1220.2 143.8 1171.8 196.2 1183 196.2 1223.9 190.7 1227.6 190.7 1231.4 199 1231.4 207.3 1246.2 179.7 1250 185.2 1253.7 182.4 1246.2 193.5 1250 196.2 1257.4 199 1253.7 215.6 1251.8 221.1 1255.5 149.3 1255.5 160.4 1229.5 234.9 1238.8 229.4 1138.4 237.6 1183 248.7 1201.6 254.2 1127.2 268 1164.4 268 1166.3 279 1164.4 284.6 1186.7 281.8 1229.5 284.6 1231.4 276.3 1227.6 287.3 1242.5 292.8 1240.7 303.9 1251.8 284.6 1261.1 290.1 1283.4 237.6 1294.6 245.9 1309.5 251.4 1315.1 254.2 1320.6 259.7 1324.4 257 1309.5 268 1298.3 281.8 1298.3 292.8 1413.6 276.3 1409.9 287.3 1309.5 320.4 1335.5 317.7 1350.4 330.1 1253.7 323.2 1283.4 319.1 1123.5 287.3 1130.9 292.8 1138.4 290.1" fill="none" stroke="none" marker-start="url(#mc)" marker-mid="url(#mc)" marker-end="url(#mc)"/>
<path d="M1066.9 360.5A14.1 11.9 0 0 0 1066.9 336.7M1066.9 363.5A20.8 14.9 0 0 0 1066.9 333.7M1066.9 366.5A27.9 17.9 0 0 0 1066.9 330.7M1066.9 369.6A35 21 0 0 0 1066.9 327.6M1066.9 372.6A42 24 0 0 0 1066.9 324.6M1066.9 375.6A49.8 27 0 0 0 1066.9 321.5" fill="none" stroke="#64a6da" stroke-width="3.5" stroke-opacity="0.85" stroke-linecap="round"/>
<path d="M1066 310C1071.2 309.9 1090.4 309.7 1097.4 309.4C1104.4 309.1 1105.4 309.6 1108 308C1110.6 306.5 1111.5 302.4 1113.1 300C1114.6 297.7 1116.5 295 1117.2 293.9" fill="none" stroke="#64a6da" stroke-width="3.5" stroke-opacity="0.85" stroke-linecap="round"/>
<path d="M1113.1 303.9C1115 306.5 1121.3 313.9 1125 319.9C1128.6 325.9 1134.1 332.5 1135 340C1135.9 347.5 1131 360.7 1130.2 364.9" fill="none" stroke="#64a6da" stroke-width="3.5" stroke-opacity="0.85" stroke-linecap="round"/>
<ellipse cx="1283.4" cy="348.6" rx="34.2" ry="14.4" fill="none" stroke="#64a6da" stroke-width="3.6" stroke-opacity="0.85"/>
</g>
<text x="1249" y="96" font-size="25" text-anchor="end">12.78</text>
<text x="1447" y="96" font-size="25" text-anchor="end">10.04</text>
<text x="1445" y="367" font-size="25" text-anchor="end">11.59</text>
<path d="M1504 84V379H1908" fill="none" stroke="#111" stroke-width="1.7"/>
<path d="M1504 334h-3M1504 265.7h-3M1504 197.4h-3M1504 129h-3M1547 379v3M1642 379v3M1737 379v3M1832 379v3" stroke="#111" stroke-width="1.2"/>
<text x="1501" y="340.1" font-size="17" text-anchor="end" fill="#222">0.0</text>
<text x="1501" y="271.8" font-size="17" text-anchor="end" fill="#222">2.5</text>
<text x="1501" y="203.5" font-size="17" text-anchor="end" fill="#222">5.0</text>
<text x="1501" y="135.1" font-size="17" text-anchor="end" fill="#222">7.5</text>
<text x="1547" y="397" font-size="17" text-anchor="middle" fill="#222">0.0</text>
<text x="1642" y="397" font-size="17" text-anchor="middle" fill="#222">2.5</text>
<text x="1737" y="397" font-size="17" text-anchor="middle" fill="#222">5.0</text>
<text x="1832" y="397" font-size="17" text-anchor="middle" fill="#222">7.5</text>
<clipPath id="cp2"><rect x="1504" y="84" width="404" height="295"/></clipPath>
<g clip-path="url(#cp2)">
<path d="M1553.4 181L1552.1 191.9 1553.3 202.8 1552.6 216.5 1552.7 252 1553.4 287.5 1552.3 297.1 1552.7 299.8 1553.4 316.3 1553 313.5 1552.7 327.1 1553.4 305.3 1553.2 318.2 1552.9 315.6 1552.1 313.8 1552.9 319.5 1552.6 321.5 1552.2 312.4 1552 314.7 1552.7 321.6 1552.1 310.9 1552.6 321.3 1553 328.2 1552.6 322.5 1552.3 327.5 1552.8 324.7 1552.6 333.2 1553.1 340.2 1552.7 330.5 1553.5 333.3 1553.4 346.7 1553.1 328.7 1566.9 339.8 1556.5 339.8 1621.6 339.8 1612.6 340.4 1599.2 340 1577 340.5 1569.7 340.5 1604.3 340.4 1594.2 339.8 1596.5 339.9 1599.9 340.6 1610 340.4 1562.9 340.4 1567.8 340.4 1628.9 340.4 1623.6 340.4 1620.5 340.6 1550.3 340.2 1552.1 340 1569.7 340.2 1582.5 339.9 1599.1 340.2 1653.2 340.6 1750 340 1646.6 339.9 1649.7 340.5 1779.7 340.8 1752 340.3 1769.7 340.2 1712.8 340.2 1736.1 339.8 1677 340.1 1706.4 340 1794.8 340.8 1815.4 340.2 1647 340 1657 340.7 1808.9 340.7 1768.1 340 1800 339.8 1677.6 340.7 1724.1 340.1 1687.5 340.7 1809.1 340 1711.9 340.1 1774.7 340.6 1848.6 340.6 1702.3 340 1751.5 340.3 1795 340 1833.5 340.4 1724.9 340.5 1712 339.8 1652 340.1 1823.5 340.3 1647.9 340.2 1648.9 340 1755 340.1 1737.5 339.8 1781.6 340.4 1696.5 339.9 1801.5 340.1 1647.4 339.9 1677.6 340 1776.5 339.9 1648.6 339.9 1697.6 339.8 1790.4 340.1 1783.6 340.3 1693 340.1 1662.1 340 1709.5 340.4 1790.6 340.4 1711.4 340.7 1656.5 340 1786.9 339.7 1756.1 340.4 1548.9 358.4 1567.9 358.2 1571.7 357.9 1575.5 358.8 1579.3 358.8 1585 358.7 1602.1 358.6 1649.6 358.6 1706 358.1 1708.4 358.2 1722.7 358.6 1714.1 358.7 1757.8 358.6 1699 358.7 1715.1 358 1702.6 358.5 1737.1 358.3 1745.3 358 1706.8 358.3 1699.2 358.6 1786.4 357.9 1792.1 357.9 1797.8 358.5 1607.8 294 1624.9 293.6 1640.1 294.1 1664.8 294.4 1737 294.6 1740.8 293.6 1775 293.8 1776.9 294.2 1786.4 294.1 1790.2 294.1 1843.4 294.3 1862.4 293.6 1881.4 293.9 1581.2 306.7 1569.8 321.7 1558.4 321.7 1564.1 325.8 1577.4 323.1 1588.8 321.7 1590.7 325.8 1604 302.6 1607.8 282.1 1607.8 286.2 1636.3 320.3 1653.4 323.1 1664.8 282.1 1640.1 290.3 1638.2 283.4 1754.1 321.7 1757.9 323.1 1765.5 306.7 1769.3 310.8 1786.4 320.3 1788.3 325.8 1794 320.3 1803.5 284.8 1809.2 288.9 1811.1 299.8 1830.1 317.6 1830.1 321.7 1735.1 328.5 1655.3 335.4 1763.6 167.3 1794 172.8 1820.6 175.5 1811.1 194.6 1767.4 216.5 1773.1 216.5 1706.6 228.8" fill="none" stroke="none" marker-start="url(#mc)" marker-mid="url(#mc)" marker-end="url(#mc)"/>
</g>
<text x="1736" y="93" font-size="25" text-anchor="end">0.60</text>
<text x="1907" y="97" font-size="25" text-anchor="end">0.72</text>
<text x="1915" y="367" font-size="25" text-anchor="end">18.18</text>
<path d="M1049 443V740H1437" fill="none" stroke="#111" stroke-width="1.7"/>
<path d="M1049 698h-3M1049 629h-3M1049 560h-3M1049 491h-3M1090 740v3M1183 740v3M1276 740v3M1369 740v3" stroke="#111" stroke-width="1.2"/>
<text x="1046" y="704.1" font-size="17" text-anchor="end" fill="#222">0.0</text>
<text x="1046" y="635.1" font-size="17" text-anchor="end" fill="#222">2.5</text>
<text x="1046" y="566.1" font-size="17" text-anchor="end" fill="#222">5.0</text>
<text x="1046" y="497.1" font-size="17" text-anchor="end" fill="#222">7.5</text>
<text x="1090" y="759" font-size="17" text-anchor="middle" fill="#222">0.0</text>
<text x="1183" y="759" font-size="17" text-anchor="middle" fill="#222">2.5</text>
<text x="1276" y="759" font-size="17" text-anchor="middle" fill="#222">5.0</text>
<text x="1369" y="759" font-size="17" text-anchor="middle" fill="#222">7.5</text>
<clipPath id="cp3"><rect x="1049" y="443" width="388" height="297"/></clipPath>
<g clip-path="url(#cp3)">
<path d="M1068.5 569.8L1069.3 597.3 1068.2 541.2 1068.3 553.5 1068.2 501.9 1069.1 512 1069.1 525 1068.3 579.5 1068.7 579.6 1069.3 559.6 1068.9 567.1 1068.2 493.1 1068.4 536 1068.3 521.3 1068.2 478 1068.7 566.3 1068.2 533.7 1069.4 580.3 1068.7 505.1 1068.8 598.5 1069 498.9 1069.2 495.9 1069.3 498.8 1068.6 588.6 1068.5 565.9 1068.7 511.6 1068.1 586.8 1068.6 540.3 1069.1 541.7 1069.5 482.6 1069.2 527.4 1069 494.5 1069 561.8 1068.1 502.8 1068.5 548 1068.6 487.3 1069 587.6 1068.2 498.3 1068.6 573.3 1068.8 532.7 1069.2 534.8 1069.3 579.5 1069 497.6 1068.3 560.8 1069.2 560.9 1069.4 589.4 1068.9 561.5 1068.6 541.9 1068.8 511.8 1068.3 555 1069.1 515.2 1069.5 585.8 1068.8 550.8 1069.1 542.6 1069.3 481.2 1068.3 497.9 1069.5 519.2 1069 597.1 1068.3 552.8 1068.2 512.4 1068.4 642.7 1068.9 627.4 1069.1 632.3 1068.5 653.3 1069.4 607.3 1068.6 616.3 1068.7 644.1 1068.2 624.9 1069.5 708.8 1068.3 703.8 1069.4 694.3 1068.9 708.3 1068.9 706 1068.9 702.9 1068.4 687 1069.4 710.7 1069.5 714 1069.3 683.2 1068.9 706.5 1068.2 670.8 1069.3 693 1068.5 683.6 1069.4 471.7 1124.2 457.9 1124.7 466.2 1125.1 477.2 1124.1 493.8 1124.7 502 1083.7 710.1 1080.9 709.2 1090.2 709.2 1141.3 709.7 1138.3 709.8 1120.5 709.5 1098.3 710.1 1121.3 710.1 1125.5 709.2 1103 709.8 1116.3 709.6 1129.7 709.1 1079.9 709.1 1091.5 709.6 1108.4 709.9 1087.9 709.8 1103.3 709.1 1114.9 709.2 1089.8 709.9 1111.7 709.2 1095.5 709.8 1114.8 709.6 1187.8 710 1216.6 709.2 1160.5 709 1219.4 709.9 1170.4 709.4 1246.2 709.9 1212.8 709.2 1200.7 710.1 1195.2 710 1215 709.3 1221.1 709.8 1227.5 709.2 1226.9 709.2 1202.1 709.4 1249.5 710 1234.9 709.4 1236.5 709.1 1195 709.7 1293.5 710.1 1306.8 709.9 1340.9 709.8 1302.8 709.4 1302.7 709.9 1293.4 709.9 1340.8 709.9 1282.2 709.4 1255.5 709.3 1322.8 709.7 1340.4 709.4 1323.5 709.2 1310 709.5 1325.5 709.9 1280.6 709.8 1309.6 709.1 1257 709.4 1262.5 709.8 1294.9 709.4 1300.4 710 1289.8 709.1 1255.2 709.7 1319.8 709.6 1302.8 709.6 1274 710.1 1280.7 709.5 1289.7 709.8 1273.7 709.9 1256.8 709.3 1341.5 710 1347 709.8 1316.8 709.3 1337 709.9 1292.3 709.8 1330.8 709.5 1272.2 709.9 1325 709.2 1306.9 709.1 1340.7 710.1 1259.9 709.6 1329.5 709.3 1262.4 709.7 1304 709.1 1345.5 709.6 1250 709.9 1274.5 709.5 1280 709.4 1282.6 709.7 1067.7 726 1088.1 725.8 1093.7 726.1 1101.2 726.1 1140.2 725.8 1164.4 725.9 1168.1 726.1 1274.1 725.7 1287.2 726.5 1292.7 725.8 1097.4 660.6 1125.3 660.1 1134.6 660.5 1142.1 660.3 1145.8 659.9 1181.1 659.9 1196 659.9 1274.1 660.5 1290.9 660.2 1292.7 660.5 1328.1 660.1 1361.6 660.2 1389.5 660.7 1398.8 660.1 1297.8 569.8 1318 552.8 1308.8 540.2 1276 542.9 1285.4 537.6 1309 551.1 1336 558.2 1258.2 553.3 1306.9 531.8 1302.7 537.8 1290.5 516.9 1284.2 546 1295.6 548.2 1313.1 554.9 1305.3 531.2 1286.6 579.8 1308 550.6 1283.3 532.9 1321.3 489.7 1337 537.2 1324.7 525.4 1305.5 549.3 1309.2 500 1323.3 527.4 1297 522.7 1312.3 540.9 1353.1 544.3 1303.7 558.3 1305 517.2 1307.4 520.4 1329.9 551.5 1264.8 493.6 1299.7 547.2 1272.6 526.3 1329.6 536.6 1286.8 582.3 1278.7 538.6 1320.8 560.4 1309.6 557.6 1295.5 532.6 1289.9 547.2 1311.3 529.7 1282.3 539.9 1281.8 580.7 1313.5 523.9 1344.1 529.4 1291.2 530.9 1323.3 541.9 1303.6 522.8 1345 558.6 1302.7 524 1343.1 503.5 1275.5 516.2 1295.7 587.9 1330.2 541.1 1297.1 537.7 1324.1 555.8 1310.1 568.3 1332 536.4 1306.4 537.5 1327.7 520.8 1329.4 539.9 1274.7 531.5 1334.4 519 1302.8 510.2 1297.8 553.5 1312.1 527.3 1299.2 564 1263.5 516.3 1309.2 526.4 1294.8 531.5 1311.8 542.3 1281.2 563 1333.2 596 1293.4 514 1093.7 463.4 1298.3 477.2 1372.7 474.4 1395 485.5 1421.1 468.9 1387.6 582.1 1316.9 488.2 1320.6 496.5 1078.8 535.2 1090 551.7 1091.9 557.2 1090 573.8 1090 579.3 1106.7 554.5 1104.9 584.8 1103 590.4 1117.9 566.9 1116 525.5 1127.2 543.4 1138.4 551.7 1138.4 579.3 1138.4 598.6 1160.7 526.9 1164.4 535.2 1164.4 537.9 1168.1 557.2 1183 557.2 1190.4 515.8 1171.8 510.3 1205.3 502 1212.8 504.8 1220.2 504.8 1201.6 537.9 1223.9 549 1227.6 549 1235.1 568.3 1235.1 496.5 1246.2 513.1 1250 557.2 1242.5 582.1 1264.8 529.6 1229.5 595.9 1238.8 590.4 1233.2 606.9 1248.1 609.7 1259.3 551.7 1201.6 615.2 1145.8 620.7 1127.2 629 1164.4 629 1166.3 640 1164.4 645.6 1186.7 642.8 1229.5 642.8 1227.6 648.3 1242.5 656.6 1259.3 631.8 1257.4 651.1 1290.9 642.8 1305.8 642.8 1305.8 653.8 1315.1 615.2 1331.8 618 1413.6 637.3 1409.9 648.3 1287.2 692.5 1235.1 689.7 1246.2 692.5 1106.7 678.7 1117.9 684.2 1101.2 695.2 1138.4 687" fill="none" stroke="none" marker-start="url(#mc)" marker-mid="url(#mc)" marker-end="url(#mc)"/>
<ellipse cx="1073.3" cy="543.4" rx="11.2" ry="27.6" fill="#6aa9da" fill-opacity="0.45"/>
<ellipse cx="1073.3" cy="543.4" rx="11.2" ry="27.6" fill="none" stroke="#64a6da" stroke-width="3" stroke-opacity="0.8"/>
<ellipse cx="1071.4" cy="543.4" rx="6.3" ry="16.6" fill="none" stroke="#64a6da" stroke-width="3" stroke-opacity="0.8"/>
<path d="M1067.7 670.4A26 38.6 0 0 1 1067.7 733.9Z" fill="#6aa9da" fill-opacity="0.4"/>
<path d="M1067.7 721.5A11.2 15.2 0 0 0 1067.7 691.1M1067.7 728.4A16.7 22.1 0 0 0 1067.7 684.2M1067.7 735.3A22.3 29 0 0 0 1067.7 677.3M1067.7 742.2A26.8 35.9 0 0 0 1067.7 670.4" fill="none" stroke="#64a6da" stroke-width="3" stroke-opacity="0.85" stroke-linecap="round"/>
</g>
<text x="1249" y="462" font-size="25" text-anchor="end">20.58</text>
<text x="1444" y="462" font-size="25" text-anchor="end">8.65</text>
<text x="1444" y="726" font-size="25" text-anchor="end">7.60</text>
<path d="M1505 450V741H1908" fill="none" stroke="#111" stroke-width="1.7"/>
<path d="M1505 691h-3M1505 622.2h-3M1505 553.5h-3M1505 484.8h-3M1547 741v3M1642 741v3M1737 741v3M1832 741v3" stroke="#111" stroke-width="1.2"/>
<text x="1502" y="697.1" font-size="17" text-anchor="end" fill="#222">0.0</text>
<text x="1502" y="628.4" font-size="17" text-anchor="end" fill="#222">2.5</text>
<text x="1502" y="559.6" font-size="17" text-anchor="end" fill="#222">5.0</text>
<text x="1502" y="490.9" font-size="17" text-anchor="end" fill="#222">7.5</text>
<text x="1547" y="759" font-size="17" text-anchor="middle" fill="#222">0.0</text>
<text x="1642" y="759" font-size="17" text-anchor="middle" fill="#222">2.5</text>
<text x="1737" y="759" font-size="17" text-anchor="middle" fill="#222">5.0</text>
<text x="1832" y="759" font-size="17" text-anchor="middle" fill="#222">7.5</text>
<clipPath id="cp4"><rect x="1505" y="450" width="403" height="291"/></clipPath>
<g clip-path="url(#cp4)">
<path d="M1552.5 523.2L1552.4 531.5 1552.7 600.2 1552.4 614 1552.2 620.9 1552.6 636 1552.7 647 1552.2 662.1 1553 674.2 1552.3 695.5 1552.1 681.2 1552.5 681.8 1552.6 673.1 1552.2 675.7 1552.8 694.9 1553 682.9 1552.8 699.3 1553 689.1 1552 690.1 1552.5 700.2 1577.5 699.7 1552.3 699 1580.8 699.7 1551.6 699.3 1588.4 699 1596 699.3 1586.2 699.6 1574.2 698.8 1568.2 698.8 1549 699.7 1576 699.5 1621.6 699.2 1594.3 698.9 1568.9 699.4 1602.8 699 1562.5 699.5 1586.2 699 1598.4 699.4 1626.8 699.4 1577.3 699 1595.2 698.9 1625.8 698.9 1611.5 699.2 1599.4 699.3 1765.6 699 1722.5 699.1 1723.5 698.9 1694.9 698.9 1808.4 699.7 1818.7 699.4 1716.6 699.1 1824.9 699.5 1646 699.6 1666.1 699.8 1742.3 699.2 1701.5 698.8 1712.2 698.7 1838.7 699.7 1669 699 1677.7 699.3 1685.1 699.1 1777.8 699.4 1686.3 698.8 1638.4 698.7 1749.8 699.7 1719 699 1687.3 699.7 1739.5 699.8 1771.6 699.5 1750.7 699 1766.3 698.7 1753.3 699.7 1808.7 699.4 1837 699.8 1706.6 699.2 1709.3 699.3 1820.1 699.4 1702.5 699.5 1785.1 698.9 1780.9 698.9 1779.1 699.5 1836 699.4 1807.4 699.1 1670.9 699 1765.8 698.7 1738.9 699.4 1753.9 699 1714 699.2 1696.8 698.9 1791.9 699.6 1747.8 699.6 1686.8 699.7 1689.4 698.8 1704.9 699.5 1674.7 699.3 1743.6 699.7 1664.1 699.4 1651.2 699.8 1652.3 699.2 1547 717.5 1548.9 717.1 1564.1 716.6 1567.9 717.5 1569.8 716.7 1571.7 717.1 1577.4 717.2 1583.1 716.8 1600.2 717.2 1647.7 717.6 1702.3 717.1 1738.9 717 1712.2 717 1708.7 717.4 1728 716.6 1719.2 716.7 1711.1 716.6 1695.3 717.2 1696.3 716.8 1759.2 716.9 1714.9 717.5 1697.4 717.6 1786.4 717.5 1790.2 717.5 1799.7 717.6 1605.9 655.4 1623 655 1645.8 655.5 1662.9 655.2 1735.1 655.8 1740.8 655.6 1773.1 654.7 1776.9 655.8 1784.5 655.2 1788.3 654.9 1843.4 654.9 1862.4 655 1881.4 655.4 1577.4 666.2 1577.4 677.2 1567.9 686.9 1588.8 681.4 1590.7 684.1 1605.9 641.5 1605.9 644.2 1613.5 630.5 1619.2 623.6 1619.2 669 1623 658 1645.8 652.5 1661 666.2 1662.9 655.2 1752.2 640.1 1752.2 681.4 1794 673.1 1797.8 673.1 1803.5 647 1809.2 651.1 1811.1 662.1 1653.4 696.5 1672.4 695.1 1756 542.5 1801.6 550.8 1767.4 581 1773.1 581 1706.6 592" fill="none" stroke="none" marker-start="url(#mc)" marker-mid="url(#mc)" marker-end="url(#mc)"/>
</g>
<text x="1734" y="469" font-size="25" text-anchor="end">0.38</text>
<text x="1922" y="469" font-size="25" text-anchor="end">0.50</text>
<text x="1920" y="726" font-size="25" text-anchor="end">8.31</text>
<path d="M1260.4 378V81M1049 234.9H1440" stroke="#111" stroke-width="2.7" stroke-dasharray="15.5 15.5"/>
<path d="M1746.9 379V84M1504 230.1H1897" stroke="#111" stroke-width="2.7" stroke-dasharray="15.5 15.5"/>
<path d="M1260.4 740V443M1049 595.1H1440" stroke="#111" stroke-width="2.7" stroke-dasharray="15.5 15.5"/>
<path d="M1746.9 741V450M1505 593.1H1897" stroke="#111" stroke-width="2.7" stroke-dasharray="15.5 15.5"/>
<text transform="translate(968 226) rotate(-90)" font-size="45" text-anchor="middle">Saline</text>
<text transform="translate(968 607) rotate(-90)" font-size="45" text-anchor="middle">IAT</text>
<text transform="translate(1012 361.5) rotate(-90)" font-size="29.6" text-anchor="middle">Ccr7 (Corrected Gene Values)</text>
<text x="1502" y="795" font-size="29.6" text-anchor="middle">Sell (Corrected Gene Values)</text>
<text x="1714" y="1051" font-size="46" text-anchor="middle" fill="#2b3f8e">Tfh</text>
<path d="M1475 1066V1368H1903" fill="none" stroke="#111" stroke-width="1.7"/>
<path d="M1475 1325h-3M1475 1254.5h-3M1475 1184h-3M1475 1113.5h-3M1517.5 1368v3M1611.9 1368v3M1706.3 1368v3M1800.7 1368v3M1895.1 1368v3" stroke="#111" stroke-width="1.2"/>
<text x="1472" y="1331.1" font-size="17" text-anchor="end" fill="#222">0.0</text>
<text x="1472" y="1260.6" font-size="17" text-anchor="end" fill="#222">2.5</text>
<text x="1472" y="1190.1" font-size="17" text-anchor="end" fill="#222">5.0</text>
<text x="1472" y="1119.6" font-size="17" text-anchor="end" fill="#222">7.5</text>
<text x="1517.5" y="1388" font-size="17" text-anchor="middle" fill="#222">0</text>
<text x="1611.9" y="1388" font-size="17" text-anchor="middle" fill="#222">2</text>
<text x="1706.3" y="1388" font-size="17" text-anchor="middle" fill="#222">4</text>
<text x="1800.7" y="1388" font-size="17" text-anchor="middle" fill="#222">6</text>
<text x="1895.1" y="1388" font-size="17" text-anchor="middle" fill="#222">8</text>
<clipPath id="cp5"><rect x="1475" y="1066" width="428" height="302"/></clipPath>
<g clip-path="url(#cp5)">
<path d="M1493.5 1200.2L1493.2 1126.2 1493.1 1133.9 1494.5 1155.9 1494.4 1193 1493.7 1111.7 1494.2 1109.6 1494.2 1151.2 1494.7 1152.3 1494.8 1190.2 1493.7 1223 1494.8 1171.2 1494.8 1140.9 1494.1 1213.7 1494.6 1111.6 1493.9 1190.7 1493.7 1190.7 1493.4 1217.5 1494.6 1082.8 1493.3 1119.3 1493.1 1100.1 1494.5 1136.6 1494.4 1218.7 1493.9 1177.1 1494.5 1153.3 1493.1 1207.2 1493.4 1089.3 1493.5 1171.5 1493.7 1201.7 1493.3 1108.2 1493.1 1205.9 1493.6 1092.6 1494.7 1159.6 1494.8 1145.6 1494.4 1175.1 1493.9 1155.1 1493.4 1197.1 1494.8 1218.2 1493.9 1101.4 1494.3 1190.4 1493 1113.5 1493.4 1194.1 1494.5 1086.9 1494.5 1097.4 1494.6 1117.1 1494.1 1115.9 1493.8 1141.6 1494.1 1120.6 1494.6 1206.2 1493.5 1156.3 1494 1106.9 1493.5 1195.1 1494.4 1093.3 1493 1098.3 1494.2 1165.7 1494.8 1172 1493 1159.8 1494.1 1169.1 1494.2 1083.2 1494.6 1169 1494.1 1270.3 1493.4 1267.5 1493.7 1241 1494.8 1229.4 1494.7 1250.4 1493.2 1250.6 1493.1 1311.2 1493.1 1301.1 1493 1327.8 1493.8 1308.2 1493.2 1310.9 1494.6 1307.5 1494.2 1329.9 1493.2 1330.5 1494 1321.4 1493.6 1292 1493.9 1321.5 1493.4 1308.8 1524.9 1203.3 1524.5 1201.5 1524.6 1181.2 1524.4 1146.6 1524.4 1163.3 1524.1 1215.8 1523.7 1146.5 1524.5 1129.5 1524.1 1139.9 1525 1138.2 1525.2 1219.8 1525 1172.3 1524.5 1214 1524.1 1141 1524.4 1202.4 1524.6 1146.4 1524.8 1194.3 1525.5 1148 1523.8 1187.9 1524.5 1216.3 1524.6 1180.1 1525 1188.4 1525.3 1126.7 1525.1 1189.9 1524.8 1168.2 1525.1 1163.3 1524.9 1121.7 1525.3 1210.4 1525 1157.9 1524.9 1167.6 1524.1 1144 1525.4 1119.8 1524.4 1188.3 1524.8 1147.7 1525.2 1165.8 1525.5 1162.2 1525.5 1214 1523.6 1135.7 1524.2 1118.7 1524.2 1183.6 1524.4 1187.5 1523.9 1117 1524.7 1209.4 1523.8 1212.7 1524.2 1213 1525.4 1241.6 1525 1243.6 1524.5 1255 1523.8 1248.6 1525.4 1270.7 1525 1353.2 1538.2 1078.2 1538.4 1085.3 1539 1090.9 1539.1 1105 1538.3 1110.7 1539.6 1114.9 1538.4 1124.8 1538.3 1136.1 1539.4 1144.5 1538.1 1147.3 1539.1 1158.6 1538.2 1172.7 1538.9 1198.1 1538.3 1254.5 1538.5 1274.2 1539.6 1282.7 1542.4 1337.4 1539.3 1337.5 1558 1338.1 1523 1337.2 1512 1337.6 1533.8 1337.3 1522.2 1338 1513.5 1337.1 1593.7 1337.6 1497.5 1337.4 1578.1 1337.4 1591 1337.3 1567.1 1337.8 1495.9 1338.2 1545.9 1337.8 1498 1338.1 1557 1337.6 1566.6 1337.3 1518.8 1337.8 1494.7 1338.1 1550.4 1338.2 1503.7 1337.8 1629.8 1337.6 1644.9 1338.2 1690.6 1337.5 1636.2 1338 1611.8 1338.1 1680 1337.2 1683.1 1337.7 1652.7 1337.2 1602.8 1337.7 1617.2 1338.1 1639.6 1338 1655 1337.8 1621.1 1337.5 1681.1 1337.4 1852.9 1337.4 1867.5 1337.5 1860.1 1338 1704.7 1337.8 1806 1337.8 1716 1337.7 1862.9 1338 1835.5 1337.6 1837.8 1337.7 1735.4 1338.2 1712.3 1337.3 1847.8 1337.6 1810.4 1337.3 1812.8 1337.4 1786.1 1337.4 1845.1 1337.1 1762.2 1337.8 1750 1337.8 1764.9 1338.2 1755 1337.5 1814.1 1337.6 1861.2 1337.6 1714.3 1337.1 1713.7 1338 1793.4 1338 1823.2 1337.4 1735.6 1337.3 1750 1337.7 1712.1 1338.2 1708.2 1337.8 1790.4 1337.3 1823.7 1337.7 1818.7 1337.7 1730 1337.8 1720.3 1337.5 1868.5 1337.6 1798.2 1337.5 1774.8 1337.3 1825.5 1337.4 1832.1 1337.8 1795.7 1338 1715.6 1337.4 1850 1337.4 1739.9 1337.2 1708.8 1338 1764.8 1337.3 1797.1 1337.2 1814.3 1338.2 1732.8 1337.9 1828.9 1337.5 1790.2 1338.1 1730.6 1337.3 1854.2 1338 1846.3 1337.5 1864.1 1337.9 1823.5 1338 1740.6 1338 1841.1 1337.7 1863.5 1337.4 1797.2 1338 1864.5 1337.5 1875.6 1337.9 1771.6 1337.5 1870.5 1337.8 1869.6 1338 1844 1338.1 1703.6 1338.2 1764.7 1337.5 1811.6 1337.8 1810.5 1338.1 1524.6 1353 1538.7 1353.3 1569.4 1353.5 1640.2 1353.1 1687.4 1353.1 1701.6 1353.7 1786.4 1353.2 1768.3 1353.6 1717.4 1352.9 1773.9 1353.4 1763.5 1353.4 1751.3 1353.5 1755.9 1353.7 1792.9 1353.6 1745.7 1353.6 1766.8 1353.1 1766.8 1352.8 1745.1 1353.5 1743.5 1353.6 1776.3 1353.2 1766.8 1353.6 1752.4 1353.3 1757 1352.9 1733.7 1353.5 1779.1 1353 1717.3 1353.2 1541.1 1286 1550.5 1285.8 1555.3 1285.4 1564.7 1286 1571.8 1285.9 1576.5 1285.4 1593 1285.2 1637.9 1285.5 1678 1285.3 1701.6 1286.1 1713.4 1285.7 1739.3 1285.7 1751.1 1285.1 1762.9 1285.7 1767.7 1285.2 1805.4 1286 1810.1 1285.5 1833.7 1285.1 1847.9 1285.2 1857.3 1285.4 1862.1 1285.9 1869.1 1285 1878.6 1286 1808.5 1192.6 1740.5 1211.2 1765.4 1166.3 1722.2 1212.3 1776.3 1177.9 1775.2 1173.2 1764.6 1220.4 1766.7 1168.4 1788.5 1162.5 1724.7 1178.2 1720.9 1202.4 1717.2 1191.4 1762 1159 1738.1 1165 1727.7 1177.2 1772.9 1180.9 1770.5 1199 1736 1198.2 1726.1 1204 1745.1 1211.6 1728.4 1171.1 1734.3 1208.1 1713.5 1142.1 1760.1 1194.4 1722.6 1219 1768.1 1195.7 1780.3 1184.4 1766.4 1164.4 1728.9 1196.8 1742.1 1144.1 1704.4 1208.2 1800.5 1210 1790 1187.6 1736 1209.9 1799.5 1190.3 1743.6 1172.6 1734.3 1176 1764.4 1183.7 1796.8 1174.4 1781.2 1166.6 1737.9 1160.5 1740.1 1206.6 1704.3 1161.1 1773.3 1170.1 1775.8 1186.2 1727.1 1197.8 1770.3 1168.4 1779.2 1192.2 1704.7 1214.8 1737.7 1145.2 1781.1 1183.5 1765 1166 1750.6 1179 1755.9 1197.2 1708.5 1196.7 1762.9 1099.4 1786.5 1105 1876.2 1099.4 1720.5 1119.1 1744.1 1130.4 1630.8 1127.6 1583.6 1138.9 1574.1 1150.2 1609.5 1158.6 1621.3 1155.8 1626.1 1155.8 1597.7 1175.5 1649.7 1172.7 1682.7 1169.9 1687.4 1164.3 1680.3 1147.3 1682.7 1150.2 1692.1 1178.4 1703.9 1178.4 1640.2 1203.7 1663.8 1220.7 1678 1217.8 1545.8 1153 1550.5 1167.1 1557.6 1178.4 1574.1 1189.6 1567.1 1206.6 1562.3 1220.7 1571.8 1220.7 1578.9 1231.9 1588.3 1240.4 1574.1 1243.2 1701.6 1237.6 1715.7 1243.2 1696.9 1268.6 1663.8 1260.1 1640.2 1268.6 1635.5 1277.1 1659.1 1279.9 1635.5 1285.5 1526.9 1263 1534 1251.7 1536.4 1268.6 1758.2 1271.4 1824.3 1274.2 1838.5 1277.1 1843.2 1285.5 1777.1 1296.8 1781.8 1296.8 1588.3 1310.9 1616.6 1308.1 1673.3 1322.2 1715.7 1322.2 1729.9 1310.9 1744.1 1308.1 1748.8 1319.4" fill="none" stroke="none" marker-start="url(#mc)" marker-mid="url(#mc)" marker-end="url(#mc)"/>
<path d="M1493.9 1184.3A25.5 20.6 0 0 0 1493.9 1143.1M1493.9 1201.2A50.5 37.5 0 0 0 1493.9 1126.2M1493.9 1222.4A73.6 58.7 0 0 0 1493.9 1105" fill="none" stroke="#64a6da" stroke-width="3.5" stroke-opacity="0.85" stroke-linecap="round"/>
<path d="M1507.1 1356A11.8 8.5 0 0 0 1495.3 1347.6M1515.1 1356A19.8 14.1 0 0 0 1495.3 1341.9M1523.6 1356A28.3 19.7 0 0 0 1495.3 1336.3M1535 1356A39.6 28.2 0 0 0 1495.3 1327.8M1546.3 1356A51 36.9 0 0 0 1495.3 1319.1M1557.6 1356A62.3 46.8 0 0 0 1495.3 1309.2M1568.9 1356A73.6 56.4 0 0 0 1495.3 1299.6" fill="none" stroke="#64a6da" stroke-width="3.5" stroke-opacity="0.85" stroke-linecap="round"/>
<path d="M1495.3 1276.8C1500.5 1273.6 1516.6 1259.7 1526.5 1257.6C1536.4 1255.5 1546.3 1259.7 1554.8 1264.1C1563.3 1268.5 1572.6 1275.3 1577.4 1283.8C1582.2 1292.3 1582.2 1306.2 1583.6 1315.1C1585 1324.1 1586.6 1330.9 1585.9 1337.7C1585.2 1344.5 1580.4 1353 1579.3 1356" fill="none" stroke="#64a6da" stroke-width="3.5" stroke-opacity="0.85" stroke-linecap="round"/>
<path d="M1783.9 1341.7A21.2 6.2 0 1 0 1751.4 1341.7M1798.4 1345.8A40.1 12.7 0 1 0 1736.9 1345.8M1812.9 1351.3A59 21.1 0 1 0 1722.5 1351.3M1827.3 1356.7A77.9 29.6 0 1 0 1708 1356.7M1840 1360.3A94.4 35.2 0 1 0 1695.3 1360.3" fill="none" stroke="#64a6da" stroke-width="3.5" stroke-opacity="0.85" stroke-linecap="round"/>
</g>
<path d="M1706.3 1368V1066M1475 1227.1H1899" stroke="#111" stroke-width="2.7" stroke-dasharray="15.5 15.5"/>
<text x="1701" y="1090" font-size="25" text-anchor="end">16.72</text>
<text x="1897" y="1090" font-size="25" text-anchor="end">6.81</text>
<text x="1909" y="1251" font-size="25" text-anchor="end">33.81</text>
<path d="M1466 1428V1730H1892" fill="none" stroke="#111" stroke-width="1.7"/>
<path d="M1466 1688h-3M1466 1617.5h-3M1466 1547h-3M1466 1476.5h-3M1507.5 1730v3M1601.7 1730v3M1695.9 1730v3M1790.1 1730v3M1884.3 1730v3" stroke="#111" stroke-width="1.2"/>
<text x="1463" y="1694.1" font-size="17" text-anchor="end" fill="#222">0.0</text>
<text x="1463" y="1623.6" font-size="17" text-anchor="end" fill="#222">2.5</text>
<text x="1463" y="1553.1" font-size="17" text-anchor="end" fill="#222">5.0</text>
<text x="1463" y="1482.6" font-size="17" text-anchor="end" fill="#222">7.5</text>
<text x="1507.5" y="1750" font-size="17" text-anchor="middle" fill="#222">0</text>
<text x="1601.7" y="1750" font-size="17" text-anchor="middle" fill="#222">2</text>
<text x="1695.9" y="1750" font-size="17" text-anchor="middle" fill="#222">4</text>
<text x="1790.1" y="1750" font-size="17" text-anchor="middle" fill="#222">6</text>
<text x="1884.3" y="1750" font-size="17" text-anchor="middle" fill="#222">8</text>
<clipPath id="cp6"><rect x="1466" y="1428" width="426" height="302"/></clipPath>
<g clip-path="url(#cp6)">
<path d="M1483.9 1466.7L1484.5 1467.1 1484.3 1498.8 1483.6 1562.7 1484.2 1479.2 1484.4 1572.7 1484 1455.6 1484.4 1543 1484.2 1550.8 1484.8 1555.9 1483.5 1530.6 1484.3 1474.9 1484.8 1465.9 1484 1481.3 1484.7 1483.6 1483.2 1552.1 1484.4 1541.2 1483.5 1543.6 1484.4 1525.4 1483.8 1463.2 1484 1446.1 1483.5 1574.7 1483.5 1450.5 1484.6 1457 1484.2 1521.5 1484.2 1488.8 1483.2 1475.9 1483.6 1560.1 1484.8 1499.6 1483.4 1448.1 1484 1462.3 1484.3 1457.9 1484 1574.5 1484.1 1485.7 1484.8 1517.9 1484.5 1458.3 1483.5 1562.9 1483.8 1509.1 1483.8 1569.5 1484.3 1473.1 1484.3 1484.6 1483.5 1582.1 1484.3 1542.8 1483.8 1566.5 1483 1496.9 1483.6 1497.7 1483.7 1577.6 1483.4 1452.4 1484.3 1450.4 1484.9 1524.3 1484.8 1505.5 1484.2 1535.2 1484.6 1501 1483.9 1530.3 1484.1 1524.3 1484.7 1480.8 1483.1 1560.2 1483.7 1544.4 1483.7 1478.8 1483.7 1554.8 1483.8 1631.5 1483.1 1595.9 1484.3 1627.7 1484.8 1617 1483.4 1621.2 1483.4 1623.4 1483.6 1684.2 1484.5 1674.8 1483.4 1696.2 1484.5 1675 1483.3 1699.5 1484.1 1698.1 1484.4 1691.8 1484.3 1689.9 1483.2 1684.8 1484.8 1687.3 1484.6 1659.6 1483.9 1668.7 1514.5 1494 1514.1 1521 1515.1 1566.1 1514.4 1542.2 1515.1 1498 1515.4 1535.3 1515.1 1579.3 1514.3 1566.4 1514.3 1564.2 1515.4 1522.5 1515.3 1516.5 1514 1536.9 1514.3 1541.5 1515.1 1483.2 1515 1547.9 1514.2 1513.5 1514.5 1562.3 1515.4 1530 1513.8 1564.9 1514.1 1571.8 1514.9 1548.5 1515.3 1571.7 1515.4 1543.9 1514.5 1515.5 1515.1 1526.4 1515.5 1500.6 1514.2 1533.9 1514.1 1574.9 1514.1 1507.8 1515.1 1541.7 1513.9 1505.2 1514.7 1481.9 1515.4 1529 1514 1557.5 1514.8 1546.3 1514.6 1531.6 1515.4 1550.4 1514.6 1573.1 1514.5 1542.1 1515.3 1515.2 1515 1498.5 1513.9 1504.2 1515.1 1491.4 1514.4 1500.1 1515.4 1540.7 1515.4 1610.8 1514.6 1632.4 1514.4 1605.3 1514.1 1608.5 1514.1 1624.7 1514 1716.2 1528.1 1441.2 1529.1 1448.3 1527.8 1453.9 1528.9 1468 1528.9 1473.7 1529.1 1477.9 1528.8 1487.8 1529.5 1499.1 1528.3 1507.5 1527.9 1510.3 1528.9 1521.6 1528.3 1535.7 1529.6 1561.1 1529.5 1617.5 1529 1637.2 1529.3 1645.7 1509.3 1700.7 1534.2 1701.2 1523.6 1700.7 1519.7 1700.2 1522.7 1700.1 1533.5 1700.8 1551.7 1701 1486.6 1700.2 1539.8 1700.9 1497.2 1701.2 1584.3 1701 1541.1 1700.7 1545 1700.5 1516.6 1701.2 1557.1 1700.9 1557.5 1700.4 1578.3 1700.9 1544.1 1701.1 1511.9 1700.5 1549.1 1700.8 1489.2 1700.5 1561 1700.7 1619.3 1700.3 1662.1 1700.7 1601.2 1700.2 1649.5 1700.3 1605.1 1700.4 1591.4 1700.7 1614.9 1700.6 1675.5 1700.8 1627.8 1701.2 1641.7 1700.3 1669.5 1700.3 1688.9 1700.4 1614.4 1700.3 1659.5 1700.6 1831.1 1700.1 1833.3 1700.7 1753.3 1700.1 1776.1 1701.2 1831.5 1700.8 1736.1 1700.6 1778.1 1700.3 1804.6 1700.7 1843.5 1700.4 1734.8 1700.8 1810.3 1700.5 1730.1 1700.4 1719.3 1700.6 1776.6 1701.2 1807.1 1700.5 1805.8 1701.3 1860.9 1700.9 1720.6 1701.1 1786.1 1700.4 1777.1 1701.1 1737.5 1700.4 1855.4 1701.2 1716.9 1701 1737.8 1700.5 1698.4 1700.2 1806.4 1701.2 1808.9 1700.6 1731.2 1700.8 1856.2 1700.6 1804.8 1701.2 1727.3 1701.2 1859.7 1701.2 1843.9 1700.2 1747.4 1700.7 1846 1700.6 1714.5 1701.1 1753.5 1700.5 1766.2 1700.2 1862.1 1701 1744.7 1700.4 1760.2 1700.3 1728.3 1700.1 1837.8 1700.6 1724 1700.5 1842.9 1700.9 1752.2 1700.4 1789.6 1700.9 1848.1 1700.6 1738.9 1700.5 1785.8 1700.1 1805 1700.4 1794.6 1701.1 1764.1 1701.1 1806.8 1700.9 1747.5 1700.8 1718.9 1700.4 1692.8 1701 1799.6 1700.6 1794 1700.7 1834.3 1700.9 1719.3 1700.5 1811.6 1700.8 1772.3 1700.1 1785.2 1701.1 1840 1700.2 1784.1 1700.5 1769.2 1700.7 1806.7 1701.2 1717.6 1700.5 1847.4 1700.3 1514.6 1716.3 1528.7 1716.6 1559.3 1716.4 1630 1716.5 1677.1 1715.9 1691.2 1716.6 1733.3 1715.7 1762.4 1716.1 1747.9 1716.3 1712.5 1716.6 1774.1 1716.3 1730.3 1716.1 1743.8 1716.6 1766.3 1715.7 1775.5 1716.4 1773.7 1716.3 1734.7 1716.4 1773.2 1716.3 1717.6 1716.5 1749.5 1715.8 1739.9 1716.7 1774.7 1716.4 1763.2 1716.1 1758.1 1716.2 1770.2 1716.4 1733.2 1716.2 1531 1649 1540.5 1648.7 1545.2 1648.6 1554.6 1648.2 1561.7 1648.6 1566.4 1648.6 1582.9 1648.3 1627.6 1648.8 1667.6 1648.5 1691.2 1648.9 1703 1648.4 1728.9 1648.5 1740.6 1648.3 1752.4 1648.1 1757.1 1648.2 1794.8 1648 1799.5 1648.8 1823.1 1648 1837.2 1648.6 1846.6 1648.7 1851.3 1648.6 1858.4 1648 1867.8 1648 1748.4 1565 1755.8 1536.7 1712.5 1578 1741 1546.2 1770.4 1547.6 1776.5 1540.5 1791.3 1523.1 1754.7 1552.1 1751.8 1508.3 1708.6 1562.1 1707.9 1522.4 1744 1543 1751 1561.9 1699 1550.5 1776 1551 1754.1 1535.6 1791.7 1570.6 1796.3 1502.3 1698.8 1520.8 1729.6 1546.6 1706.8 1540 1722.2 1534.4 1752.9 1527.4 1707.9 1557.7 1774 1523 1767.3 1549.3 1734.4 1526.9 1754.6 1533.7 1760.9 1558 1710.2 1578.3 1746.6 1547 1724.8 1570.8 1773.1 1530.6 1762.4 1534.3 1779.8 1541 1710 1543.2 1740.6 1538.8 1756.4 1545 1747.4 1547.6 1730.1 1571.3 1712.6 1557.1 1802 1551.9 1707.3 1533.5 1756.2 1553.5 1772.8 1569.3 1698.5 1558.4 1725.3 1552.3 1738.5 1525.9 1741 1537.6 1729.7 1570 1736.3 1569.5 1763 1553.1 1701.4 1548.8 1743.1 1558.6 1701.1 1554.1 1752.4 1462.4 1776 1468 1865.5 1462.4 1710 1482.1 1733.6 1493.4 1620.5 1490.6 1573.4 1501.9 1564 1513.2 1599.3 1521.6 1611.1 1518.8 1615.8 1518.8 1587.6 1538.5 1639.4 1535.7 1672.3 1532.9 1677.1 1527.3 1670 1510.3 1672.3 1513.2 1681.8 1541.4 1693.5 1541.4 1630 1566.7 1653.5 1583.7 1667.6 1580.8 1535.8 1516 1540.5 1530.1 1547.5 1541.4 1564 1552.6 1557 1569.6 1552.2 1583.7 1561.7 1583.7 1568.7 1594.9 1578.2 1603.4 1564 1606.2 1691.2 1600.6 1705.3 1606.2 1686.5 1631.6 1653.5 1623.1 1630 1631.6 1625.2 1640.1 1648.8 1642.9 1625.2 1648.5 1516.9 1626 1524 1614.7 1526.3 1631.6 1747.7 1634.4 1813.7 1637.2 1827.8 1640.1 1832.5 1648.5 1766.5 1659.8 1771.3 1659.8 1578.2 1673.9 1606.4 1671.1 1662.9 1685.2 1705.3 1685.2 1719.5 1673.9 1733.6 1671.1 1738.3 1682.4" fill="none" stroke="none" marker-start="url(#mc)" marker-mid="url(#mc)" marker-end="url(#mc)"/>
<path d="M1484 1547.3A25.4 20.6 0 0 0 1484 1506.1M1484 1564.2A50.4 37.5 0 0 0 1484 1489.2M1484 1585.4A73.5 58.7 0 0 0 1484 1468" fill="none" stroke="#64a6da" stroke-width="3.5" stroke-opacity="0.85" stroke-linecap="round"/>
<path d="M1497.1 1719A11.8 8.5 0 0 0 1485.4 1710.6M1505.1 1719A19.8 14.1 0 0 0 1485.4 1704.9M1513.6 1719A28.3 19.7 0 0 0 1485.4 1699.3M1524.9 1719A39.6 28.2 0 0 0 1485.4 1690.8M1536.2 1719A50.9 36.9 0 0 0 1485.4 1682.1M1547.5 1719A62.2 46.8 0 0 0 1485.4 1672.2M1558.8 1719A73.5 56.4 0 0 0 1485.4 1662.6" fill="none" stroke="#64a6da" stroke-width="3.5" stroke-opacity="0.85" stroke-linecap="round"/>
<path d="M1485.4 1639.8C1490.5 1636.6 1506.6 1622.7 1516.4 1620.6C1526.3 1618.5 1536.2 1622.7 1544.7 1627.1C1553.2 1631.5 1562.5 1638.3 1567.3 1646.8C1572.1 1655.3 1572 1669.2 1573.4 1678.1C1574.9 1687.1 1576.5 1693.9 1575.8 1700.7C1575.1 1707.5 1570.3 1716 1569.2 1719" fill="none" stroke="#64a6da" stroke-width="3.5" stroke-opacity="0.85" stroke-linecap="round"/>
<path d="M1773.4 1704.7A21.2 6.2 0 1 0 1740.9 1704.7M1787.8 1708.8A40 12.7 0 1 0 1726.5 1708.8M1802.2 1714.3A58.9 21.1 0 1 0 1712 1714.3M1816.7 1719.7A77.7 29.6 0 1 0 1697.6 1719.7M1829.3 1723.3A94.2 35.2 0 1 0 1685 1723.3" fill="none" stroke="#64a6da" stroke-width="3.5" stroke-opacity="0.85" stroke-linecap="round"/>
</g>
<path d="M1695.9 1730V1428M1466 1590.1H1888" stroke="#111" stroke-width="2.7" stroke-dasharray="15.5 15.5"/>
<text x="1686" y="1452" font-size="25" text-anchor="end">24.80</text>
<text x="1879" y="1452" font-size="25" text-anchor="end">5.38</text>
<text x="1896" y="1617" font-size="25" text-anchor="end">24.09</text>
<text transform="translate(1381 1201) rotate(-90)" font-size="45" text-anchor="middle">Saline</text>
<text transform="translate(1381 1581) rotate(-90)" font-size="45" text-anchor="middle">IAT</text>
<text transform="translate(1425.5 1377) rotate(-90)" font-size="29.6" text-anchor="middle">Corrected gene values (Ccr7)</text>
<text x="1697" y="1789" font-size="29.6" text-anchor="middle">Corrected gene values (Pdcd1)</text>
<text x="1275" y="1923" font-size="46" fill="#b31b2e">T<tspan font-size="26" dy="14">H</tspan><tspan dy="-14" dx="-2">1</tspan></text>
<path d="M1100 1960V2263H1520" fill="none" stroke="#111" stroke-width="1.7"/>
<path d="M1100 2236h-3M1100 2169.5h-3M1100 2103h-3M1100 2036.5h-3M1100 1970h-3M1128 2263v3M1221.2 2263v3M1314.5 2263v3M1407.8 2263v3M1501 2263v3" stroke="#111" stroke-width="1.2"/>
<text x="1097" y="2242.1" font-size="17" text-anchor="end" fill="#222">0.0</text>
<text x="1097" y="2175.6" font-size="17" text-anchor="end" fill="#222">2.5</text>
<text x="1097" y="2109.1" font-size="17" text-anchor="end" fill="#222">5.0</text>
<text x="1097" y="2042.6" font-size="17" text-anchor="end" fill="#222">7.5</text>
<text x="1097" y="1976.1" font-size="17" text-anchor="end" fill="#222">10.0</text>
<text x="1128" y="2283" font-size="17" text-anchor="middle" fill="#222">0.0</text>
<text x="1221.2" y="2283" font-size="17" text-anchor="middle" fill="#222">2.5</text>
<text x="1314.5" y="2283" font-size="17" text-anchor="middle" fill="#222">5.0</text>
<text x="1407.8" y="2283" font-size="17" text-anchor="middle" fill="#222">7.5</text>
<text x="1501" y="2283" font-size="17" text-anchor="middle" fill="#222">10.0</text>
<clipPath id="cp7"><rect x="1100" y="1960" width="420" height="303"/></clipPath>
<g clip-path="url(#cp7)">
<path d="M1116.6 2128.3L1116.6 2117.6 1116.7 2087.8 1117 2056.8 1117.3 2114.8 1117.5 2117.6 1117.5 2104.9 1117.5 2049 1117.2 2113.9 1116.5 2050.8 1116.3 2059.1 1117 2115.1 1116.9 2072.6 1117.1 2082 1116.2 2085.7 1116.4 2023.6 1117.4 2119.7 1117 2127.4 1117.1 2029.6 1116.2 2086.7 1116.7 2108.5 1117.4 2094.5 1117 2090.8 1117.5 2028 1116.4 2107.2 1116.7 2106.5 1117.3 2067.4 1116.7 2071.4 1117.2 2028.1 1116.9 2040.4 1116.2 2158.3 1116.2 2162 1117.5 2146.8 1116.2 2143.2 1116.4 2166.1 1116.6 2149.2 1117.1 2146.1 1117.3 2205.6 1116.8 2224 1116.8 2199.4 1117.2 2202.3 1116.5 2225.1 1116.6 2206.1 1117 2224 1117 2231.6 1116.1 2249.3 1163.4 2248.9 1167.2 2249.3 1254.8 2249.5 1250 2249.7 1291.8 2249.2 1261.2 2249.6 1184.7 2249.4 1260.9 2249.3 1293.6 2248.8 1198.7 2249.1 1148.3 2249.3 1202.6 2248.9 1188.8 2249.5 1172.9 2249.4 1153.4 2249.1 1165.3 2249.2 1275.7 2249.6 1154.1 2249.4 1238.3 2249 1177.5 2249.6 1175.5 2249.1 1269.1 2249.8 1191.2 2248.8 1174.1 2249.1 1367.1 2249.5 1404.7 2248.8 1378 2249 1430.5 2249.8 1358.7 2249.6 1377.9 2249.3 1408.2 2248.8 1368.2 2249.7 1408.2 2249.8 1369 2249.5 1316.8 2249.8 1315.2 2249.4 1418.5 2249.3 1412.5 2249.4 1443.5 2249.7 1404 2249.8 1386.7 2249 1321.9 2249.4 1429.5 2249.3 1314.5 2249.3 1362.4 2249.1 1317.9 2248.9 1355.5 2249 1344 2249.1 1362.5 2249.5 1407.2 2249.7 1380.7 2249.7 1333.9 2248.9 1417.9 2249.8 1411 2249.2 1425.4 2248.9 1301 2249.5 1392.2 2249.4 1436.1 2249.4 1336.4 2248.8 1327.5 2249.1 1423.4 2248.9 1352.9 2249.8 1358.7 2249.1 1423.9 2249.4 1356 2249.4 1326.9 2249 1329.4 2249 1350 2248.9 1405.2 2249 1353.5 2248.9 1416.6 2249.4 1306.2 2249.2 1334.9 2249 1393.8 2249.3 1371 2249.7 1374.2 2249.2 1442.4 2248.9 1339.3 2248.9 1324.3 2249.7 1301.1 2249.4 1371.4 2249.6 1342.4 2249.5 1370.1 2248.8 1296.7 2249.4 1295.9 2249.5 1355.3 2249.5 1414.5 2249.4 1342.9 2249.1 1438.8 2249.5 1386.6 2249.6 1359.1 2249.6 1417.6 2249.6 1332.4 2248.9 1390.7 2249.7 1497.3 2249 1437.5 2029.3 1382.9 2010.2 1376.1 2058 1441.8 2032.4 1349.6 2072.3 1356.6 2025.5 1376.5 2061.9 1364.3 2078.8 1414.6 2094.8 1391.8 2078.4 1376.1 2103.6 1432.7 2114.3 1344.1 2076.1 1392.1 2086.9 1329.3 2078.1 1352.4 2084.5 1448.6 2128.6 1388.3 2051.1 1373.9 2074.4 1428.6 2069.7 1325.3 2075.1 1402.5 2075.5 1367.7 2057.5 1370.7 2059.1 1412.9 2083.1 1331.1 2021.2 1403.4 2087.9 1336.8 2063.1 1396.4 2047.8 1402.3 2077.3 1373.9 2111.4 1361.7 2078.4 1428.1 2105 1457.3 2034.9 1370 2082.2 1397 2051 1415 2118.1 1376.2 2047.4 1421.9 2049 1385.7 2053.6 1369.7 2008.9 1422.2 2050.7 1368.1 2064.7 1402.7 2060.4 1448.5 1998 1424.9 2099.6 1414.5 2079.1 1389.4 2001.3 1326 2106 1366 2038.6 1374.4 2125.1 1403.1 2042.5 1434.3 2059.7 1429.8 2081.4 1421.4 2025.4 1379.3 2074.8 1433.8 2086.2 1356.6 2061.4 1410.3 2034 1371.9 2046.5 1357.5 2098.9 1478.5 2085.9 1334.1 2052.8 1362.4 2040.1 1427.2 2054.2 1356 2015.8 1427.2 2073.7 1430.8 2043.4 1343.4 2087.3 1395.7 2096.8 1331.5 2079 1415 2059.2 1351.8 2141 1416.1 2071.8 1417.3 2067.4 1369.2 2057.8 1360.9 2081.4 1353.8 2133.6 1425.1 2030.9 1366.3 2077.7 1470.9 2047.2 1372.3 2103.4 1449.9 2023.7 1357.2 2042.8 1353 2074.6 1427.2 2073 1362.3 2110.4 1408.9 2070.8 1342.8 1999.8 1362.2 2081.4 1402.2 2073.5 1388.8 2051.5 1369.5 2094.1 1376.3 2032.1 1387.9 2015 1391.2 2093 1396.4 2069.9 1370.4 2070.2 1422.6 2036.8 1401 2056.9 1412 2040.9 1403.2 2085.2 1432.6 2026.8 1409.4 2057.5 1317.9 2078.8 1395.5 2029 1379.3 2083.3 1323.6 2071.1 1411 2106.4 1367.9 2077.3 1391.2 2052.8 1429.4 2082.5 1331.6 2100.5 1376.2 2091.5 1376.5 2069.6 1388.4 2035 1403.5 2106.4 1360.9 2081.7 1368.3 2038.9 1421 2054.1 1443.9 2093.4 1389.3 2027.2 1388.3 2083.5 1360 2031.2 1418.7 2001.1 1461.7 2055.6 1371.8 2090 1372.1 2003.3 1383.3 2083.5 1382.7 2050.8 1363.4 2086.3 1366.3 2019.6 1388.6 2046.2 1410.2 2124.3 1405.1 2099.7 1374.6 2122.8 1418.1 2056.9 1353.6 2023.9 1358.1 2018.5 1385.1 1989.2 1345.6 2046.9 1343.6 2104.1 1366.6 2071.3 1346.7 2048.8 1448.9 2037.8 1361 1998.7 1328.7 2009 1382.9 2093.2 1388.9 2063.8 1429.5 2042.5 1376.3 2033.9 1377.9 2096.4 1344.7 2095.7 1397.7 2075.5 1416.8 2107.5 1391.2 2050.4 1394.5 2050.7 1360.7 2060.9 1434.7 1991 1364.1 2069.6 1420.4 2080 1431.3 2066.6 1388.6 2043.4 1453.8 2057.3 1362.3 2019.5 1408.7 2089.1 1332.6 2066.3 1368.1 2085.8 1398.4 2039.3 1439 2057.4 1350.4 2103.9 1335.7 2044.7 1324.6 2084.8 1338.8 2077.3 1369.8 2075.2 1447.2 2036.7 1374.1 2097.3 1408.3 2073.1 1384.5 2099.1 1403.8 2053.2 1411.8 2059.9 1395.9 2097.5 1428.6 2052.6 1450.5 2072.2 1376.3 2029.7 1371.9 2046.6 1384.9 2068.7 1309 2051.4 1391.2 2107.8 1432 2128.7 1378.1 1989.8 1421.6 2085.2 1417.9 2034.7 1390.6 2014.4 1391.8 2104.5 1372.7 1998.1 1386.8 2002.7 1422.5 2087.4 1415.9 2055.3 1409.9 2055.1 1360.5 2031.7 1392.8 2072.1 1388.5 2077.9 1387.9 2067.5 1338.8 2008.1 1397.3 2070.3 1329.2 2019.3 1406.5 2032.7 1387 2037.5 1369.8 2062 1443.7 1994.6 1392.8 2104.2 1401.5 2050.8 1353.7 2092.3 1369.2 2046 1337.3 2114.1 1364.3 2033.5 1427 2052.7 1456.4 2106.8 1347.8 2013.9 1419.2 2063.9 1406.8 2082.7 1463.3 2077.5 1424.8 2068.8 1367.5 2107.1 1379.1 2068 1357.1 2110.8 1341.2 2114.6 1438.4 2073 1363 2034.5 1399.5 2043.3 1427 2067.5 1316.6 2050.1 1392.2 2071.9 1351.9 2043.3 1394 2011.2 1338.8 2103.7 1404.2 2048.3 1374.5 2028.4 1387.9 2026.4 1381.9 2054.1 1409.5 2097 1423.9 2084.8 1420 2095.4 1326.5 1998.6 1315.6 2102.5 1425.9 2042 1363 2011.3 1448.6 2095.3 1378.6 2055.4 1412.9 2066.5 1410.9 2099.5 1382.6 2110.7 1392 2033 1347.8 2031.4 1343.1 2147.6 1357.1 2069.7 1417 2040.5 1344.5 2089.5 1412.2 2059.6 1348.4 2103.6 1407.1 2069 1383.8 2096.2 1343.8 2088.2 1348.8 2040 1396.3 2064.5 1408.2 2079.5 1405 2129.4 1351.4 2042.3 1411.1 2019.5 1411.6 2089.3 1453.9 2085.9 1358.9 2048.9 1374.2 2039.3 1355.9 2076.7 1390.6 2063.4 1359.3 2082.9 1376.2 2111.3 1349.2 2030.6 1391.8 2006.9 1366.2 2073.1 1397.7 2033.7 1359.5 2025.8 1380 2061.3 1371.3 2033.2 1469.8 2067.6 1320.8 2115.7 1403.1 2046.2 1405 2044 1380.7 2025.7 1414.2 2081.7 1371.3 2032.1 1429 2074.6 1419.3 2066.1 1341.8 2077 1376.3 2120.3 1406.7 2049 1437.3 2030.6 1347.8 2061.7 1451.1 2050.8 1394.9 2064 1429.7 2065.8 1395.5 2058.1 1369.8 2115.5 1328.7 2030.1 1460.6 2061.9 1401.5 2046.6 1372.8 2039.6 1422.8 2084.7 1330.7 2039 1361.3 2052.1 1362.4 2029.9 1457.2 2100.5 1422.6 2058.9 1375.7 2097 1381.5 2134.9 1441.6 2049.7 1392.2 2018.7 1396.3 2047.4 1419 2099.6 1365 2088 1388.7 2052.1 1448.8 2080.2 1389.4 2075.5 1428.7 2060.5 1428.5 2038.2 1367.3 2013.5 1410.4 2032.2 1367.2 2051.4 1377.9 2045.7 1373 2206.4 1344.9 2207.9 1415.9 2233.3 1398.5 2204.8 1425.1 2198.6 1414.1 2220.2 1427.3 2229.9 1380.2 2218.1 1414.4 2196.2 1433.7 2210.9 1416.4 2200.3 1399.5 2216.3 1414.4 2187.5 1425.5 2219.5 1430 2233.3 1437.4 2219.3 1376.2 2211.7 1397 2216 1330.4 2230.8 1426.2 2233.7 1424.3 2192.4 1429.3 2223.4 1362.6 2220.4 1369.6 2210.1 1378.1 2228.6 1371.1 2236.8 1418.2 2228.5 1385 2229.6 1428.5 2199 1396.8 2231.2 1332.5 2209.6 1432 2210.3 1446.6 2221.8 1433.8 2203.3 1400.7 2211.4 1401.9 2237 1319.9 2207.3 1402.5 2231.4 1375.2 2230.8 1340.9 2225.2 1372.7 2197.8 1401.3 2215.3 1416 2225.5 1422.3 2200.9 1397.5 2236.3 1380.5 2221.2 1439.1 2228.4 1371.6 2235.1 1366.5 2199 1389.1 2227.3 1395.3 2217.7 1374.1 2237.5 1422.6 2213.5 1441.3 2231 1399.7 2204 1393.1 2220.9 1399 2220.2 1364.9 2202.3 1417.4 2214 1357.9 2228.3 1382.4 2212.5 1376.2 2215.9 1442.1 2221.6 1397.3 2223 1424.4 2207.5 1420.9 2223.6 1371.6 2207.8 1409.2 2221.2 1397.2 2214.8 1436.1 2224.9 1403.7 2234.8 1352.3 2224.4 1324.3 2215.6 1376.6 2229 1380.5 2200.2 1341.4 2222.3 1413.3 2217.9 1400.3 2222.4 1364.9 2217.2 1344.3 2211.2 1351.2 2234.9 1394.8 2212.7 1371.6 2221.2 1349.3 2207.3 1367.9 2225.1 1337.1 2230.9 1398.7 2194.4 1403.5 2201.6 1450.9 2230.4 1386.4 2233.5 1320.9 2205.7 1361.5 2220.8 1378.1 2216.6 1418.7 2225.2 1373 2220.8 1370.7 2227.4 1403.3 2197.3 1340.4 2219.4 1383.5 2215.7 1368 2208.9 1429.4 2235.8 1342 2216.6 1386.9 2233.3 1362.5 2214 1338 2202.3 1375 2220 1382.8 2234.7 1422.7 2232.1 1426.4 2216 1398.5 2220.1 1419.1 2238.5 1368.5 2227.6 1386 2209 1394.3 2231.4 1325.5 2235.8 1415.1 2213 1385.8 2201.9 1342.4 2188.5 1351.4 2195.9 1351.2 2211.6 1371.4 2230.3 1372 2219.7 1392.5 2205.3 1380 2198.2 1439.1 2223.5 1411.3 2233.3 1347.5 2225.7 1349.3 2230.5 1375.5 2222.9 1380.7 2230.5 1443.7 2201.4 1367.2 2217.6 1372.3 2216 1359.9 2217.6 1316.5 2208.1 1404.6 2224.3 1327.7 2238 1429.3 2223.6 1385.6 2228.6 1367.3 2198.9 1399.1 2226.8 1427.3 2210.3 1366.4 2195.3 1329.3 2200.4 1378.9 2232.4 1339.8 2220.4 1327.3 2207.1 1435.4 2198.9 1412.9 2226.8 1403.7 2226.2 1385.1 2238.2 1379.4 2222 1422.7 2205.6 1434.2 2236.4 1405.7 2211.7 1348.9 2228.4 1408.2 2224.4 1316.2 2206.9 1369.1 2209.6 1429.8 2209.6 1400.7 2228.3 1386.7 2212.8 1397.9 2230 1415.1 2233.4 1368.7 2225.5 1404.8 2215.3 1430.8 2208.6 1385.4 2221 1411.9 2222.2 1331.9 2228.8 1389.9 2222.4 1410.7 2212.7 1334.2 2238.1 1375.9 2231.4 1423.5 2236.6 1363.4 2228.7 1374.9 2186.5 1345.2 2225.4 1386.3 2210.2 1419.2 2201.7 1359.8 2229.8 1370.2 2203.5 1350.2 2197.4 1420.6 2223.6 1395.3 2235.5 1415.4 2221.4 1406 2222.8 1383.9 2203.1 1392.6 2203.6 1351.3 2231.4 1379.6 2202.9 1348.7 2201.2 1437.1 2237.1 1436.3 2198.2 1454.1 2216.2 1384.8 2213 1403.9 2208.4 1375.3 2226.7 1415.8 2218 1360.3 2226.8 1392.5 2213.9 1426.2 2186.6 1375.2 2224.2 1399.4 2234.6 1356.5 2234.1 1415 2208 1338.3 2194.6 1365.2 2214.6 1374.8 2215.3 1431.1 2216.4 1434 2232 1378.3 2216.9 1407.9 2197.3 1362.1 2237.3 1361 2230.2 1368.9 2219 1364.1 2203.5 1402.4 2228.2 1344.5 2223.7 1417.6 2238.5 1376.2 2218.4 1406.5 2226.7 1439 2226 1346.3 2225 1371.1 2226.3 1399.5 2224.1 1403 2213.7 1389.8 2224.7 1403.5 2236.1 1388.8 2232.3 1146.7 2012.6 1150.4 2047.1 1150.4 2055.1 1154.1 2057.8 1154.1 2079.1 1157.8 2076.4 1172.8 2057.8 1191.4 2063.1 1206.3 2052.5 1221.2 2041.8 1225 2036.5 1232.4 2049.8 1228.7 2071.1 1236.2 2079.1 1251.1 2081.7 1258.5 2076.4 1187.7 2092.4 1191.4 2108.3 1169 2103 1161.6 2105.7 1213.8 2103 1236.2 2111 1258.5 2103 1258.5 2108.3 1284.7 2103 1157.8 2121.6 1187.7 2121.6 1180.2 2142.9 1277.2 2071.1 1284.7 2073.7 1288.4 2084.4 1228.7 2166.8 1198.9 2182.8 1254.8 2185.5 1247.4 2196.1 1243.6 2209.4 1288.4 2196.1 1307 2206.7 1310.8 2193.4 1295.8 2222.7 1286.5 2228 1184 2222.7 1176.5 2228 1191.4 2230.7 1146.7 2204.1 1146.7 2217.4 1146.7 2230.7 1128 2228 1348.1 1991.3 1400.3 1972.7 1471.2 1996.6 1493.5 1986 1478.6 2039.2 1493.5 2063.1 1471.2 2071.1 1489.8 2108.3 1325.7 2124.3 1333.2 2132.3 1344.3 2153.5 1363 2156.2 1370.5 2164.2 1404 2166.8 1411.5 2166.8 1426.4 2174.8 1437.6 2201.4 1430.1 2182.8 1318.2 2164.2 1329.4 2177.5" fill="none" stroke="none" marker-start="url(#mc)" marker-mid="url(#mc)" marker-end="url(#mc)"/>
<ellipse cx="1387.2" cy="2065.8" rx="59.7" ry="49.2" fill="#5a8fd0" fill-opacity="0.2"/>
<ellipse cx="1389.1" cy="2224" rx="65.3" ry="27.9" fill="#5a8fd0" fill-opacity="0.2"/>
<path d="M1124.3 2031.2C1126.8 2035.2 1136.1 2043.1 1139.2 2055.1C1142.3 2067.1 1144.2 2088.8 1142.9 2103C1141.7 2117.2 1135.5 2131.4 1131.7 2140.2C1128 2149.1 1122.4 2153.5 1120.5 2156.2" fill="none" stroke="#64a6da" stroke-width="3.9" stroke-opacity="0.85" stroke-linecap="round"/>
<path d="M1288.4 2084.4C1292.7 2076.8 1303.9 2052.9 1314.5 2039.2C1325.1 2025.4 1336.3 2010.8 1351.8 2001.9C1367.3 1993.1 1390.3 1985.5 1407.8 1986C1425.2 1986.4 1445 1993.9 1456.2 2004.6C1467.4 2015.2 1473.6 2034.3 1474.9 2049.8C1476.1 2065.3 1469.3 2085.3 1463.7 2097.7C1458.1 2110.1 1448.2 2115.9 1441.3 2124.3C1434.5 2132.7 1425.8 2140.2 1422.7 2148.2C1419.6 2156.2 1417.7 2162 1422.7 2172.2C1427.6 2182.4 1445.7 2197.4 1452.5 2209.4C1459.3 2221.4 1461.8 2238.2 1463.7 2244" fill="none" stroke="#64a6da" stroke-width="3.9" stroke-opacity="0.85" stroke-linecap="round"/>
<path d="M1288.4 2084.4C1292.7 2089.7 1303.9 2107 1314.5 2116.3C1325.1 2125.6 1344.3 2131.8 1351.8 2140.2C1359.3 2148.7 1361.1 2158.9 1359.3 2166.8C1357.4 2174.8 1348.7 2181 1340.6 2188.1C1332.5 2195.2 1320.1 2200.1 1310.8 2209.4C1301.4 2218.7 1289 2238.2 1284.7 2244" fill="none" stroke="#64a6da" stroke-width="3.9" stroke-opacity="0.85" stroke-linecap="round"/>
<ellipse cx="1387.2" cy="2065.8" rx="72.7" ry="61.2" fill="none" stroke="#64a6da" stroke-width="3.9" stroke-opacity="0.85"/>
<ellipse cx="1387.2" cy="2065.8" rx="59.7" ry="49.2" fill="none" stroke="#64a6da" stroke-width="3.9" stroke-opacity="0.85"/>
<ellipse cx="1387.2" cy="2065.8" rx="48.5" ry="39.9" fill="none" stroke="#64a6da" stroke-width="3.9" stroke-opacity="0.85"/>
<ellipse cx="1387.2" cy="2065.8" rx="39.2" ry="31.9" fill="none" stroke="#64a6da" stroke-width="3.9" stroke-opacity="0.85"/>
<ellipse cx="1387.2" cy="2065.8" rx="29.8" ry="24.5" fill="none" stroke="#64a6da" stroke-width="3.9" stroke-opacity="0.85"/>
<ellipse cx="1387.2" cy="2065.8" rx="21.6" ry="17.6" fill="none" stroke="#64a6da" stroke-width="3.9" stroke-opacity="0.85"/>
<ellipse cx="1387.2" cy="2065.8" rx="14.2" ry="11.4" fill="none" stroke="#64a6da" stroke-width="3.9" stroke-opacity="0.85"/>
<ellipse cx="1387.2" cy="2065.8" rx="7.5" ry="5.9" fill="none" stroke="#64a6da" stroke-width="3.9" stroke-opacity="0.85"/>
<path d="M1463.7 2244A74.6 50.5 0 0 0 1314.5 2244" fill="none" stroke="#64a6da" stroke-width="3.9" stroke-opacity="0.85" stroke-linecap="round"/>
<path d="M1454.4 2244A65.3 44.2 0 0 0 1323.8 2244" fill="none" stroke="#64a6da" stroke-width="3.9" stroke-opacity="0.85" stroke-linecap="round"/>
<path d="M1445 2244A55.9 37.9 0 0 0 1333.1 2244" fill="none" stroke="#64a6da" stroke-width="3.9" stroke-opacity="0.85" stroke-linecap="round"/>
<path d="M1435.7 2244A46.6 31.6 0 0 0 1342.5 2244" fill="none" stroke="#64a6da" stroke-width="3.9" stroke-opacity="0.85" stroke-linecap="round"/>
<path d="M1426.4 2244A37.3 25.3 0 0 0 1351.8 2244" fill="none" stroke="#64a6da" stroke-width="3.9" stroke-opacity="0.85" stroke-linecap="round"/>
<path d="M1417.1 2244A28 19 0 0 0 1361.1 2244" fill="none" stroke="#64a6da" stroke-width="3.9" stroke-opacity="0.85" stroke-linecap="round"/>
<path d="M1407.8 2244A18.6 12.6 0 0 0 1370.4 2244" fill="none" stroke="#64a6da" stroke-width="3.9" stroke-opacity="0.85" stroke-linecap="round"/>
<path d="M1131.7 2246.6A14.9 13.3 0 0 0 1116.8 2233.3" fill="none" stroke="#64a6da" stroke-width="3.9" stroke-opacity="0.85" stroke-linecap="round"/>
<path d="M1144.8 2246.6A28 23.9 0 0 0 1116.8 2222.7" fill="none" stroke="#64a6da" stroke-width="3.9" stroke-opacity="0.85" stroke-linecap="round"/>
<path d="M1157.8 2246.6A41 34.6 0 0 0 1116.8 2212.1" fill="none" stroke="#64a6da" stroke-width="3.9" stroke-opacity="0.85" stroke-linecap="round"/>
<path d="M1174.6 2246.6A57.8 50.5 0 0 0 1116.8 2196.1" fill="none" stroke="#64a6da" stroke-width="3.9" stroke-opacity="0.85" stroke-linecap="round"/>
</g>
<path d="M1314.5 2263V1960M1100 2136.8H1520" stroke="#111" stroke-width="2.7" stroke-dasharray="15.5 15.5"/>
<text x="1294" y="1983" font-size="25" text-anchor="end">9.69</text>
<text x="1494" y="1980" font-size="25" text-anchor="end">34.21</text>
<text x="1510" y="2164" font-size="25" text-anchor="end">41.51</text>
<path d="M1094 2354V2655H1514" fill="none" stroke="#111" stroke-width="1.7"/>
<path d="M1094 2628h-3M1094 2560.5h-3M1094 2493h-3M1094 2425.5h-3M1094 2358h-3M1122.5 2655v3M1217.8 2655v3M1313 2655v3M1408.2 2655v3M1503.5 2655v3" stroke="#111" stroke-width="1.2"/>
<text x="1091" y="2634.1" font-size="17" text-anchor="end" fill="#222">0.0</text>
<text x="1091" y="2566.6" font-size="17" text-anchor="end" fill="#222">2.5</text>
<text x="1091" y="2499.1" font-size="17" text-anchor="end" fill="#222">5.0</text>
<text x="1091" y="2431.6" font-size="17" text-anchor="end" fill="#222">7.5</text>
<text x="1091" y="2364.1" font-size="17" text-anchor="end" fill="#222">10.0</text>
<text x="1122.5" y="2673" font-size="17" text-anchor="middle" fill="#222">0.0</text>
<text x="1217.8" y="2673" font-size="17" text-anchor="middle" fill="#222">2.5</text>
<text x="1313" y="2673" font-size="17" text-anchor="middle" fill="#222">5.0</text>
<text x="1408.2" y="2673" font-size="17" text-anchor="middle" fill="#222">7.5</text>
<text x="1503.5" y="2673" font-size="17" text-anchor="middle" fill="#222">10.0</text>
<clipPath id="cp8"><rect x="1094" y="2354" width="420" height="301"/></clipPath>
<g clip-path="url(#cp8)">
<path d="M1109.5 2459.4L1109.8 2491.7 1109.6 2464.4 1109.7 2505.2 1109.6 2439.4 1109.4 2444.6 1108.4 2485.1 1108.5 2508.1 1108.7 2454.6 1109.3 2499.3 1109.8 2451.3 1109.3 2490.2 1108.9 2449 1109.6 2435.2 1108.4 2433.2 1109.2 2451.9 1108.7 2476 1108.9 2465.4 1109 2498.6 1108.9 2485 1108.6 2468.6 1109.8 2482.9 1109 2436.5 1108.9 2485.5 1109.3 2412 1109.8 2544.3 1109.2 2555.1 1109 2557.8 1109.9 2568.6 1108.9 2571.3 1108.9 2579.4 1108.8 2582.1 1108.6 2613.2 1108.8 2626.7 1109.5 2641.5 1109.3 2641.5 1274.9 2641.6 1138.8 2642 1134.3 2641.2 1233.9 2641.8 1147.5 2641.9 1282.9 2641.2 1286.3 2641.9 1115.9 2641.2 1189.4 2641.7 1246.4 2641.8 1236.2 2641 1128.2 2641.6 1174.9 2641 1234.6 2641.2 1285.8 2641.5 1242.4 2641.7 1207.6 2641.9 1254.7 2641.2 1143.4 2641.9 1179.5 2641.1 1121.6 2641.6 1172.4 2641.7 1219.9 2641.2 1238.7 2641.1 1227 2641.2 1129 2642 1156.1 2641.8 1288.5 2641.5 1190.2 2641.4 1204.1 2641.2 1274.2 2641.9 1222.5 2641 1275.6 2641.1 1140.4 2641.4 1220.6 2641.4 1370.6 2641.4 1370.9 2641.7 1405.2 2641.7 1428.1 2641.6 1313.6 2641.1 1333.2 2641.6 1314.7 2641.6 1315.4 2641.5 1438.3 2641.6 1328.2 2641.6 1341.9 2641.3 1384.8 2641.4 1305.1 2641.4 1443.4 2641.8 1410.4 2641.6 1321.3 2641.4 1318.7 2641.4 1312.7 2641.2 1365.2 2641.7 1380.9 2641.6 1371.6 2641.8 1436.5 2642 1353.3 2641.6 1409.7 2641.1 1354.6 2641.3 1343.1 2641 1381.6 2641.3 1375.2 2641.2 1423.5 2641.5 1347.1 2641.9 1344.6 2641.1 1383.4 2641.4 1371.1 2641.3 1354.4 2641.6 1422.2 2641.4 1324.8 2641 1337.5 2641.7 1313.6 2641.7 1294.8 2641.3 1428.3 2641.2 1443.7 2642 1321.2 2641.1 1427.3 2641.3 1440.8 2641.5 1378.7 2641.7 1318 2642 1415.4 2641.8 1439.2 2641.1 1390.1 2641.7 1413.5 2641.3 1433.8 2641.7 1358.5 2641.4 1438.9 2641.4 1408.9 2642 1363.1 2641.4 1400.6 2641.3 1328.2 2641.7 1431 2642 1416 2641.5 1420.3 2641.3 1473 2641 1382.1 2442.7 1377.7 2452 1441.9 2486.5 1406.6 2468.9 1312.3 2431 1401.7 2488.1 1449.1 2418 1401.6 2451 1381.9 2430.2 1385.9 2445.8 1440.2 2480.8 1385.2 2503 1379.9 2418.1 1358.4 2485.5 1434.1 2435.2 1343.7 2416.9 1375.4 2452.1 1449.9 2456.8 1391.7 2465.6 1363.8 2469.9 1421.7 2478.2 1435.1 2435.3 1338.9 2457.7 1344.6 2456.9 1435.1 2456.8 1313.2 2495.4 1411.6 2438.3 1383.6 2413.4 1347.3 2443.6 1380.4 2483.8 1414.3 2422.9 1392 2451.6 1363.2 2423.7 1383.6 2489.1 1385.1 2454 1379 2491.8 1410.1 2451.4 1393.7 2427.8 1401.6 2424.6 1389.1 2479 1389.6 2430.9 1433 2477.1 1389.6 2479.3 1352.9 2431.6 1396.2 2449.1 1370.8 2450.1 1372.9 2448.6 1380.8 2435.9 1406.7 2462.3 1312.5 2446.3 1384.4 2423.2 1408.8 2476.5 1425.5 2469.9 1376 2474.7 1404.5 2455.8 1395.3 2443.2 1392 2485.7 1342.4 2456.8 1393.6 2473 1372.7 2457.9 1423.9 2443.1 1399.1 2499 1369 2470.9 1371.7 2428.9 1387.2 2475.5 1417.2 2429.3 1406 2468.2 1328.7 2425.8 1323.9 2473.8 1348.8 2482.6 1358.2 2486.6 1434.6 2468.2 1347.8 2475.6 1379.9 2484.8 1333.8 2488 1421.7 2457.2 1439.2 2425.5 1397.9 2425.9 1452.9 2462.8 1421.4 2511.3 1425.7 2472.8 1395.7 2477.6 1341.3 2411.1 1358.4 2452.6 1381.7 2477 1330 2477.8 1450 2421.7 1426.9 2472.8 1431.6 2478.3 1411.8 2450.6 1348 2449.4 1467.4 2521.1 1352.4 2431.7 1360.5 2443.4 1435.3 2438.7 1387.4 2430.3 1412.1 2473.1 1382.9 2484.8 1436.9 2440.2 1374.2 2434.4 1395.4 2461.9 1324.2 2462.4 1400.4 2410.4 1376.1 2520.4 1408.9 2453.4 1363 2453.4 1441.8 2462 1414.9 2488 1409.8 2481.5 1420.7 2459.2 1412.4 2456.3 1326.7 2473.1 1362.1 2469.4 1329.4 2405.3 1398.5 2482.8 1320.7 2488.1 1439 2432.6 1346.1 2420 1427.9 2443.7 1430.5 2446.6 1347.7 2425 1460.8 2444.3 1371.5 2425.6 1339.7 2475.9 1410.3 2468.2 1454.3 2432.5 1406.7 2466.6 1394.9 2423.7 1341.7 2423.3 1420.8 2527.8 1394.9 2484.1 1395.2 2511.4 1451.2 2477.6 1355.9 2476.4 1388.9 2462.4 1426.2 2450.8 1414.3 2437.5 1418.4 2463 1425.9 2437.1 1352.7 2439.3 1418.7 2459.8 1387.7 2433.7 1390.5 2444.9 1424 2465.7 1380 2447.2 1438.5 2466.3 1365.4 2432.7 1433.3 2456.1 1426.6 2472.9 1424.6 2446.7 1364.1 2479.1 1385.4 2429.3 1416.3 2515 1354.5 2481.6 1416.5 2472.9 1390.7 2425 1377.4 2497.7 1428.2 2505.6 1368.4 2493.5 1320.1 2421.8 1381.5 2435.9 1425.8 2445.3 1448.5 2443.1 1364.7 2413.2 1336.7 2468.1 1358.1 2493.3 1311.3 2446.7 1422.8 2436.1 1387.9 2466.6 1383.7 2477.4 1360.6 2500 1387.1 2458.8 1414.8 2439 1372.6 2486.3 1357 2422.5 1392.1 2490.4 1395.4 2476.8 1381.8 2465.9 1370.2 2457.4 1406.2 2474.4 1362.5 2457.9 1379.4 2454.2 1472 2454 1322.8 2446.4 1399.4 2516.6 1372.7 2452.9 1441.7 2463 1368.5 2453.5 1328.6 2411.4 1410 2521.7 1439 2605.4 1381.5 2612.5 1428.7 2617 1390.3 2618.3 1392.6 2604.4 1384.4 2615.1 1392.6 2598 1366.2 2620.8 1309.2 2615 1412.8 2610.5 1394 2593.8 1395.4 2626.6 1407.9 2612.8 1353.8 2598.7 1365.2 2607.5 1337.3 2596.9 1356.2 2616.9 1395 2616.2 1319 2600.9 1393.9 2623.4 1346.8 2614.1 1372.2 2609.8 1415.7 2610.9 1334.7 2597.6 1410.3 2610 1337.9 2610.3 1426 2611 1377 2608.1 1345.5 2604.3 1415.9 2607.6 1371.3 2612.1 1399.2 2596.6 1317.3 2593.1 1397.7 2606.2 1397.8 2614 1414.6 2592.7 1384.3 2621.6 1363.5 2600.2 1373.4 2617.6 1357.3 2620.4 1348.4 2618.8 1396.6 2601.4 1435.1 2600.5 1396.7 2594 1403.1 2615.6 1353.3 2629.8 1368.8 2610.4 1410 2610.4 1349.5 2628.9 1359.4 2620.9 1378 2610.9 1433.3 2616 1341.2 2623.9 1341.3 2609.2 1406.7 2621.8 1415.9 2613 1346.8 2597.8 1334.1 2610.3 1403.2 2614.7 1394.7 2598.9 1397.1 2613 1361.9 2614.3 1404.6 2608.6 1438 2593 1358.9 2611.6 1346.7 2619.2 1418.4 2622.5 1420 2616.2 1381.1 2616.6 1411.8 2614.4 1428.1 2607.3 1393.2 2600.6 1387.7 2618.9 1406.3 2625 1369.5 2630.3 1376.1 2608.7 1413.7 2609.9 1382.4 2605.9 1344.2 2618.2 1320 2587.9 1410.4 2629.7 1362 2606.3 1375.1 2598.9 1409.6 2628.2 1363.1 2617.1 1351.5 2624.3 1337.6 2619.2 1382.6 2621.9 1340.2 2608 1398.6 2602 1415.1 2616.3 1383.5 2602.8 1331 2627.8 1316.3 2616.7 1330.4 2627.2 1350.6 2629.2 1344 2593.3 1401 2608.3 1356.1 2591.5 1315.4 2613.9 1351.7 2598.2 1344.5 2602.3 1387.2 2623.2 1382.9 2619.2 1356.6 2620.9 1408.9 2615.4 1394.6 2629.7 1388.7 2616 1332.8 2617.9 1392.7 2601.5 1337.1 2610.9 1414 2601.8 1392 2611.5 1370.5 2630.6 1376.7 2606.4 1387.4 2613.3 1403.9 2608.2 1354.2 2611.6 1323.6 2591.8 1391.7 2620.5 1141.5 2401.2 1141.5 2444.4 1179.7 2452.5 1189.2 2452.5 1172 2463.3 1153 2466 1160.6 2474.1 1164.4 2471.4 1168.2 2474.1 1179.7 2476.8 1164.4 2487.6 1221.6 2468.7 1248.2 2466 1273 2460.6 1301.6 2457.9 1297.8 2457.9 1210.1 2490.3 1255.8 2503.8 1274.9 2493 1274.9 2425.5 1191.1 2552.4 1193 2555.1 1244.4 2601 1294 2587.5 1311.1 2598.3 1282.5 2618.6 1183.5 2622.6 1191.1 2618.6 1143.5 2595.6 1141.5 2596.9 1158.7 2610.4 1143.5 2609.1 1126.3 2618.6 1132 2619.9 1141.5 2622.6 1353 2414.7 1438.7 2385 1484.5 2368.8 1486.4 2428.2 1492.1 2452.5 1484.5 2498.4 1314.9 2514.6 1324.4 2522.7 1332 2528.1 1370.2 2536.2 1385.4 2536.2 1389.2 2541.6 1408.2 2547 1431.1 2563.2 1461.6 2555.1 1362.5 2557.8 1370.2 2560.5 1393 2571.3 1332 2568.6 1313 2579.4 1347.3 2576.7" fill="none" stroke="none" marker-start="url(#mc)" marker-mid="url(#mc)" marker-end="url(#mc)"/>
<ellipse cx="1393" cy="2459.2" rx="57.2" ry="40.5" fill="#5a8fd0" fill-opacity="0.2"/>
<ellipse cx="1377.8" cy="2615.8" rx="80" ry="20.2" fill="#5a8fd0" fill-opacity="0.2"/>
<ellipse cx="1389.2" cy="2463.3" rx="87.6" ry="62.1" fill="none" stroke="#64a6da" stroke-width="3.5" stroke-opacity="0.85"/>
<ellipse cx="1394.9" cy="2457.9" rx="55.2" ry="40.5" fill="none" stroke="#64a6da" stroke-width="3.5" stroke-opacity="0.85"/>
<ellipse cx="1387.3" cy="2455.2" rx="21" ry="12.2" fill="none" stroke="#64a6da" stroke-width="3.5" stroke-opacity="0.85"/>
<path d="M1107.3 2587.5C1114.9 2587.9 1137.7 2587 1153 2590.2C1168.2 2593.3 1184.7 2602.3 1198.7 2606.4C1212.7 2610.5 1224.1 2614.9 1236.8 2614.5C1249.5 2614.1 1262.2 2608.6 1274.9 2603.7C1287.6 2598.8 1297.1 2590.9 1313 2584.8C1328.9 2578.7 1351.1 2567.7 1370.2 2567.2C1389.2 2566.8 1411.4 2574.7 1427.3 2582.1C1443.2 2589.5 1457.8 2602.8 1465.4 2611.8C1473 2620.8 1471.8 2632.1 1473 2636.1" fill="none" stroke="#64a6da" stroke-width="3.9" stroke-opacity="0.85" stroke-linecap="round"/>
<path d="M1107.3 2595.6C1114.9 2596.3 1139 2596.1 1153 2599.7C1167 2603.2 1182.2 2610.2 1191.1 2617.2C1200 2624.2 1203.8 2637.4 1206.3 2641.5" fill="none" stroke="#64a6da" stroke-width="3.9" stroke-opacity="0.85" stroke-linecap="round"/>
<path d="M1126.3 2638.8A15.2 12.2 0 0 0 1111.1 2626.7" fill="none" stroke="#64a6da" stroke-width="3.9" stroke-opacity="0.85" stroke-linecap="round"/>
<path d="M1141.5 2638.8A30.5 18.9 0 0 0 1111.1 2619.9" fill="none" stroke="#64a6da" stroke-width="3.9" stroke-opacity="0.85" stroke-linecap="round"/>
<path d="M1156.8 2638.8A45.7 24.3 0 0 0 1111.1 2614.5" fill="none" stroke="#64a6da" stroke-width="3.9" stroke-opacity="0.85" stroke-linecap="round"/>
<path d="M1172 2638.8A61 27 0 0 0 1111.1 2611.8" fill="none" stroke="#64a6da" stroke-width="3.9" stroke-opacity="0.85" stroke-linecap="round"/>
<path d="M1503.5 2637.4A129.5 41.9 0 0 0 1244.4 2637.4" fill="none" stroke="#64a6da" stroke-width="3.9" stroke-opacity="0.85" stroke-linecap="round"/>
<path d="M1488.3 2637.4A114.3 37.8 0 0 0 1259.7 2637.4" fill="none" stroke="#64a6da" stroke-width="3.9" stroke-opacity="0.85" stroke-linecap="round"/>
<path d="M1473 2637.4A99.1 33.8 0 0 0 1274.9 2637.4" fill="none" stroke="#64a6da" stroke-width="3.9" stroke-opacity="0.85" stroke-linecap="round"/>
<path d="M1457.8 2637.4A83.8 29.7 0 0 0 1290.1 2637.4" fill="none" stroke="#64a6da" stroke-width="3.9" stroke-opacity="0.85" stroke-linecap="round"/>
<path d="M1442.5 2637.4A68.6 25.6 0 0 0 1305.4 2637.4" fill="none" stroke="#64a6da" stroke-width="3.9" stroke-opacity="0.85" stroke-linecap="round"/>
<path d="M1427.3 2637.4A53.3 21.6 0 0 0 1320.6 2637.4" fill="none" stroke="#64a6da" stroke-width="3.9" stroke-opacity="0.85" stroke-linecap="round"/>
<path d="M1412.1 2637.4A38.1 16.2 0 0 0 1335.9 2637.4" fill="none" stroke="#64a6da" stroke-width="3.9" stroke-opacity="0.85" stroke-linecap="round"/>
<path d="M1396.8 2637.4A22.9 10.8 0 0 0 1351.1 2637.4" fill="none" stroke="#64a6da" stroke-width="3.9" stroke-opacity="0.85" stroke-linecap="round"/>
</g>
<path d="M1311.1 2655V2354M1094 2525.4H1514" stroke="#111" stroke-width="2.7" stroke-dasharray="15.5 15.5"/>
<text x="1291" y="2365" font-size="25" text-anchor="end">6.05</text>
<text x="1499" y="2365" font-size="25" text-anchor="end">19.40</text>
<text x="1520" y="2548" font-size="25" text-anchor="end">40.81</text>
<text transform="translate(1019 2115) rotate(-90)" font-size="45" text-anchor="middle">Saline</text>
<text transform="translate(1017 2494.5) rotate(-90)" font-size="46" text-anchor="middle">IAT</text>
<text transform="translate(1048 2279.5) rotate(-90)" font-size="29.6" text-anchor="middle">Corrected gene values (Il10)</text>
<text x="1318" y="2710" font-size="29.6" text-anchor="middle">Corrected gene values (Ifng)</text>
<text x="160" y="1052" font-size="38" text-anchor="middle">Spleen</text>
<text x="385" y="1024" font-size="38" text-anchor="middle">Lymph</text>
<text x="385" y="1059" font-size="38" text-anchor="middle">node</text>
<path d="M34.2 1147V1088" stroke="#000" stroke-width="2"/><path d="M26 1091L34.2 1075.5L42.5 1091Z" fill="#000"/>
<text transform="translate(44 1233) rotate(-90)" font-size="29" text-anchor="middle">CCL5 - PE</text>
<text x="50" y="1343" font-size="29">CXCR6 - APC</text>
<path d="M258 1330H452" stroke="#000" stroke-width="2"/><path d="M449 1323.5L463 1330L449 1336.5Z" fill="#000"/>
<path d="M144 1261h0m6 -10h0m9 -4h0m-47 1h0m21 -9h0m9 -12h0m-17 16h0m6 2h0m13 -2h0m7 4h0m-24 -12h0m7 3h0m23 3h0m-12 0h0m20 -4h0m-57 18h0m24 -5h0m1 -10h0m9 -9h0m-16 13h0m20 3h0m-32 12h0m-15 -8h0m27 0h0m-1 -4h0m-12 1h0m16 -3h0m9 -5h0m-1 -9h0m14 16h0m-22 6h0m10 -1h0m-22 -16h0m44 10h0m-39 1h0m-13 -2h0m30 -2h0m10 -9h0m-38 -6h0m-2 21h0m5 -3h0m14 -7h0m21 12h0m-6 -9h0m-23 3h0" stroke="#3fb8c6" stroke-width="3.3" stroke-linecap="round"/>
<path d="M97 1244h0m31 -12h0m18 17h0m10 -12h0m5 12h0m-43 -6h0m4 3h0m-24 16h0m30 -20h0m0 5h0m35 -12h0m-38 8h0m24 12h0m-12 -13h0m-6 7h0m4 -1h0m-29 -10h0m11 6h0m32 1h0m-10 -1h0m-21 2h0m-8 -3h0m-4 0h0m47 7h0m-19 -8h0m-2 -5h0m1 16h0m18 -18h0m-7 7h0m-11 20h0m-22 -26h0m7 15h0m-14 -2h0m6 -9h0m32 8h0m-25 6h0m-4 -15h0m56 9h0m-33 -6h0m14 5h0m-36 -4h0m3 6h0m17 8h0m-4 7h0m-3 -31h0m-1 16h0m20 -4h0m-17 7h0m36 3h0m3 -7h0m-24 -3h0m-2 12h0m-37 -16h0m45 12h0m-8 -2h0m-8 5h0m-17 -7h0m-1 0h0m18 -3h0m0 14h0m-20 -12h0m8 5h0m39 -10h0m-48 4h0m39 -7h0m4 9h0m-23 2h0m-3 -10h0m-34 0h0m20 3h0m5 -9h0m17 18h0m-1 -10h0m-23 8h0m21 -4h0m31 14h0m-55 -25h0m-1 7h0m34 3h0m-24 -4h0m11 5h0m7 -4h0m-15 2h0m2 7h0m-3 0h0m19 -12h0m14 6h0m-3 2h0m15 -5h0m-52 -12h0m-22 15h0m1 -4h0m40 17h0m21 -23h0m-46 -3h0m8 3h0m-5 8h0m47 5h0m5 14h0m-25 -12h0m16 -11h0m-32 10h0m21 -8h0m-38 6h0m56 3h0m6 -11h0m-50 4h0m37 -5h0m-18 8h0m5 -4h0m-1 -8h0m-49 -7h0m35 14h0m-5 -3h0m21 6h0m8 -4h0m-56 14h0m16 -23h0m39 12h0m-24 0h0m18 19h0m-38 -15h0m43 1h0" stroke="#26a05a" stroke-width="3.3" stroke-linecap="round"/>
<path d="M135 1238h0m-26 7h0m31 -9h0m-42 7h0m28 4h0m8 -12h0m-3 12h0m-13 -18h0m9 25h0m19 -11h0m-17 10h0m12 -19h0m-3 9h0m4 0h0m-29 2h0m14 7h0m-1 -11h0m-9 -9h0m22 7h0m27 10h0m-53 -12h0m23 2h0m5 -2h0m2 12h0m-34 3h0m20 -13h0m-3 0h0m-11 -7h0m-1 8h0m4 -9h0m25 8h0m-48 10h0m34 8h0m4 -1h0m-9 -10h0m-15 -3h0m19 -4h0m-3 -3h0m-9 8h0m7 2h0m10 7h0m-15 -16h0m-5 8h0m22 -1h0m4 -7h0m2 6h0m-18 -9h0m12 20h0m-21 -6h0m34 4h0m-24 -18h0m7 12h0m-21 -5h0m25 -4h0m-30 2h0m18 8h0m38 1h0m-32 -1h0m19 -12h0m-2 7h0m-43 10h0m31 1h0m-8 -6h0m8 -8h0m-34 1h0m35 13h0m-19 0h0m12 -8h0m2 -5h0m20 1h0m-30 -6h0m26 11h0m15 8h0m2 -6h0m-57 -3h0m-1 -2h0m9 -1h0m-2 5h0m-6 1h0m28 12h0m-25 -15h0m17 6h0m-3 -7h0m34 1h0m-24 -10h0m6 -2h0m-13 12h0m-5 1h0m23 -3h0m-2 -3h0m-5 12h0m-8 -11h0m-5 8h0m6 5h0m4 -8h0m33 -6h0m-30 1h0" stroke="#2a3b98" stroke-width="3.3" stroke-linecap="round"/>
<path d="M132 1254h0m-4 -13h0m25 6h0m-27 -8h0m-15 7h0m26 -9h0m-35 9h0m41 -3h0m10 -9h0m-26 13h0m10 -1h0m-4 -1h0m5 -2h0m-17 -5h0m-7 14h0m19 -10h0m13 -14h0m-7 13h0m-5 4h0m12 -4h0m-30 -6h0m6 3h0m-24 12h0m10 11h0m17 -14h0m24 -11h0m-31 0h0m27 14h0m-7 -3h0m-1 -5h0m-6 3h0m22 -8h0m-22 5h0m6 7h0m-8 10h0m-3 -9h0m-15 -6h0m39 -12h0m-14 7h0m-6 12h0m20 -9h0m-35 -2h0m0 0h0m4 -3h0m-8 14h0m18 -4h0m-28 11h0m21 -24h0m-3 8h0m24 5h0m11 -4h0m-34 5h0m9 -7h0m1 11h0m-34 -16h0m31 14h0m15 -1h0m-3 -7h0m9 -6h0m-46 17h0m3 -10h0m11 -11h0m25 7h0m9 7h0m-9 -9h0" stroke="#e2322b" stroke-width="3.3" stroke-linecap="round"/>
<path d="M137 1240h0m-4 5h0m13 -2h0m-23 1h0m18 -5h0m-10 8h0m6 -6h0m7 0h0m-41 3h0m4 -11h0m8 5h0m10 6h0m-3 1h0m19 -1h0" stroke="#7a4ea0" stroke-width="3.3" stroke-linecap="round"/>
<path d="M121 1245h0m3 10h0m-3 -10h0m14 -4h0m-7 2h0m2 5h0m7 1h0m-17 2h0m9 3h0m-7 -11h0m15 -2h0" stroke="#26a05a" stroke-width="3.3" stroke-linecap="round"/>
<path d="M134 1249h0m1 -13h0m-1 12h0m-12 -2h0m10 1h0m-16 1h0m9 -8h0m12 6h0m-6 -9h0m13 3h0m-18 -1h0m-1 0h0m-8 9h0m23 -3h0m-27 7h0m13 -11h0m7 7h0m7 -1h0m2 -6h0m-13 14h0m9 -10h0m-18 -1h0m31 -3h0" stroke="#2a3b98" stroke-width="3.3" stroke-linecap="round"/>
<path d="M152 1248h0m-27 2h0m11 -4h0m-13 4h0m5 -10h0m9 -2h0m-10 8h0m-2 -8h0m19 6h0m-41 7h0m14 -14h0" stroke="#e2322b" stroke-width="3.3" stroke-linecap="round"/>
<path d="M123 1247h0m12 -11h0m3 -2h0m-1 4h0m-3 7h0m-11 -4h0m2 -2h0m-20 -1h0m0 4h0m5 -5h0m28 4h0m-21 7h0m10 -9h0m3 -8h0m-4 9h0m11 6h0m-36 -8h0m35 0h0m-17 15h0m5 -21h0m-16 3h0m20 2h0m14 7h0m-11 10h0m12 -3h0m-16 -15h0m-10 1h0m9 3h0m-10 9h0m9 -5h0m5 1h0m4 -7h0m-24 3h0m24 -7h0m-14 7h0m4 0h0m11 3h0" stroke="#f07f2a" stroke-width="3.3" stroke-linecap="round"/>
<path d="M147 1234h0m-24 1h0m-16 13h0m-5 -9h0m31 8h0m5 -9h0m-20 9h0m9 -17h0m-8 20h0m-5 -15h0m-3 7h0m13 10h0m-4 -7h0m11 13h0" stroke="#7a4ea0" stroke-width="3.3" stroke-linecap="round"/>
<path d="M118 1239h0m4 -5h0m-1 14h0m12 -1h0m-26 -3h0m0 -5h0m29 11h0m-12 0h0m19 -3h0m-8 2h0m-6 -5h0" stroke="#26a05a" stroke-width="3.3" stroke-linecap="round"/>
<path d="M114 1248h0m13 -2h0m18 6h0m-21 -15h0m-2 12h0m11 -5h0m-9 -5h0m12 -1h0m-8 9h0m-15 -8h0m7 8h0m7 -10h0m-9 9h0m8 -13h0m20 12h0m-36 4h0m14 0h0m13 -10h0m8 6h0m-29 -5h0m16 10h0m-6 -12h0m-5 8h0" stroke="#2a3b98" stroke-width="3.3" stroke-linecap="round"/>
<path d="M127 1243h0m-11 -11h0m21 19h0m-8 -6h0m-28 -4h0m19 4h0m7 -1h0m12 2h0m-14 -6h0m-2 -4h0m-5 8h0" stroke="#e2322b" stroke-width="3.3" stroke-linecap="round"/>
<path d="M140 1238h0m17 9h0m-55 8h0m35 -4h0m-8 0h0m-6 -12h0m11 5h0m-8 -3h0m13 1h0m-6 1h0m16 2h0m-24 -7h0m4 10h0m-15 3h0m3 -5h0m21 1h0m-5 5h0m5 -6h0m-3 -8h0m14 -1h0m-15 5h0m-5 -7h0m4 16h0m2 -7h0m-13 -2h0m-11 -11h0m3 23h0m28 -19h0m-3 7h0m-17 1h0m10 2h0m-4 4h0m4 -8h0m-12 2h0m-5 1h0m30 -1h0m-1 -3h0" stroke="#f07f2a" stroke-width="3.3" stroke-linecap="round"/>
<path d="M138 1252h0m-4 -12h0m-5 5h0m12 -10h0m-21 6h0m-2 10h0m28 -7h0m-10 -5h0m-4 -2h0m4 3h0m-6 8h0m-1 -14h0m-10 10h0m19 3h0" stroke="#7a4ea0" stroke-width="3.3" stroke-linecap="round"/>
<path d="M117 1249h0m8 -2h0m0 8h0m18 -11h0m-33 5h0m-3 0h0m15 -6h0m14 8h0m8 -8h0m-4 2h0m-21 -1h0" stroke="#26a05a" stroke-width="3.3" stroke-linecap="round"/>
<path d="M128 1242h0m-19 10h0m8 -3h0m0 -10h0m8 4h0m-13 4h0m27 4h0m-12 3h0m-8 -18h0m3 8h0m-7 6h0m-6 -1h0m18 0h0m11 -11h0m-2 2h0m9 -1h0m-24 1h0m8 3h0m-5 4h0m-2 1h0m-9 -3h0m9 3h0m2 -5h0" stroke="#2a3b98" stroke-width="3.3" stroke-linecap="round"/>
<path d="M156 1246h0m-38 0h0m6 -3h0m-8 -4h0m26 -1h0m-17 12h0m1 4h0m-2 -9h0m5 -5h0m11 -3h0m1 8h0" stroke="#e2322b" stroke-width="3.3" stroke-linecap="round"/>
<path d="M135 1245h0m-17 0h0m10 4h0m1 -5h0m-12 -11h0m5 17h0m15 7h0m-9 -15h0m8 4h0m-13 -5h0m22 -8h0m-24 3h0m2 -1h0m3 1h0m16 -4h0m-33 20h0m23 -11h0m-27 8h0m10 7h0m23 -6h0m-8 -10h0m11 -5h0m-14 -1h0m-2 9h0m-15 -2h0m30 -3h0m-24 3h0m19 -5h0m-2 4h0m16 -5h0m-14 15h0m-15 -5h0m21 -7h0m-28 0h0m24 2h0m0 0h0" stroke="#f07f2a" stroke-width="3.3" stroke-linecap="round"/>
<path d="M120 1231h0m9 12h0m-14 -2h0m28 6h0m-15 -7h0m11 2h0m-31 1h0m18 3h0m-4 -14h0m-9 13h0m12 1h0m14 1h0m-11 -8h0" stroke="#7a4ea0" stroke-width="3.3" stroke-linecap="round"/>
<path d="M125 1242h0m0 6h0m-4 -12h0m5 12h0m4 -6h0m5 4h0m-11 -2h0m-3 0h0m-7 -7h0m19 9h0m-22 -10h0" stroke="#26a05a" stroke-width="3.3" stroke-linecap="round"/>
<path d="M110 1252h0m12 -10h0m2 0h0m0 1h0m-11 -1h0m41 -11h0m5 15h0m-34 -4h0m-12 10h0m-2 -18h0m22 5h0m12 2h0m-19 1h0m3 -7h0m10 16h0m-9 -13h0m18 6h0m-45 -7h0m31 10h0m-10 -10h0m6 4h0m-8 9h0" stroke="#2a3b98" stroke-width="3.3" stroke-linecap="round"/>
<path d="M131 1252h0m18 -6h0m-18 -3h0m-1 -5h0m-6 9h0m18 -6h0m-19 2h0m-8 -6h0m25 6h0m-9 4h0m-4 -9h0" stroke="#e2322b" stroke-width="3.3" stroke-linecap="round"/>
<path d="M126 1248h0m4 -11h0m-2 6h0m-4 4h0m-6 -1h0m17 -7h0m-17 5h0m3 2h0m16 -4h0m-35 1h0m21 7h0m14 -6h0m-22 -2h0m13 3h0m8 -1h0m-17 1h0m32 0h0m-26 0h0m22 -3h0m-28 -12h0m5 18h0m19 -4h0m-8 1h0m-5 -1h0m-6 -1h0m0 -3h0m-1 9h0m-1 -7h0m18 8h0m-11 -8h0m-10 4h0m17 -7h0m6 5h0m-16 -4h0m23 -1h0m-21 -4h0" stroke="#f07f2a" stroke-width="3.3" stroke-linecap="round"/>
<path d="M191 1215h0m4 18h0m4 9h0m-45 -9h0m68 -10h0m-8 -11h0m-19 28h0m23 -23h0m-18 -11h0m-5 13h0m-27 -2h0m30 4h0m2 3h0m28 10h0m-14 -13h0m-7 32h0m-40 -39h0m20 24h0m10 -7h0m-15 -13h0m-6 0h0m45 -2h0m-54 -25h0m49 24h0m-21 15h0m7 11h0m11 -17h0m20 4h0m-28 18h0m5 -34h0m8 16h0" stroke="#f07f2a" stroke-width="3" stroke-linecap="round"/>
<path d="M191 1230h0m-11 4h0m-13 -9h0m29 -14h0m-12 42h0m17 -27h0m3 27h0m11 -13h0m-4 -23h0m14 1h0m-33 14h0m4 -12h0m16 -3h0m22 2h0m-55 18h0m35 -8h0m3 1h0m-44 3h0" stroke="#2a3b98" stroke-width="3" stroke-linecap="round"/>
<path d="M224 1204h0m-39 50h0m19 -42h0m-38 18h0m48 4h0m-41 6h0m8 -12h0m45 -10h0m-22 26h0m10 -6h0m-6 -20h0m-37 3h0m32 2h0m-35 -4h0m32 22h0m-13 -22h0m-32 10h0m35 2h0m-3 22h0m12 -41h0m0 18h0m9 -26h0m-31 20h0m31 22h0" stroke="#26a05a" stroke-width="3" stroke-linecap="round"/>
<path d="M193 1225h0m13 -1h0m-34 19h0m51 -6h0m-16 -14h0m-24 9h0m-7 -3h0m37 -5h0m-26 14h0m13 -25h0m9 25h0m-4 -12h0m-23 13h0" stroke="#e2322b" stroke-width="3" stroke-linecap="round"/>
<path d="M223 1227h0m-5 13h0m19 -18h0m-44 -17h0m5 37h0m9 -29h0m-48 2h0m64 16h0m-8 -2h0m-27 -5h0m15 15h0m12 -24h0m-34 34h0m32 -13h0m-24 14h0m26 -13h0m6 -25h0m-4 38h0m-20 -4h0m22 -19h0" stroke="#3fb8c6" stroke-width="3" stroke-linecap="round"/>
<path d="M223 1225h0m-30 -8h0m-17 28h0m1 -29h0m3 6h0m18 -10h0m-20 13h0m16 16h0m15 -11h0m-21 -8h0m-20 3h0m-3 26h0m38 -2h0m-24 -23h0m-8 -8h0m32 -1h0m-35 20h0m-13 -8h0m25 -18h0m-8 22h0m18 -32h0m2 27h0m22 -9h0m24 7h0" stroke="#7a4ea0" stroke-width="3" stroke-linecap="round"/>
<path d="M353 1244h0m6 3h0m5 3h0m-14 3h0m18 -18h0m-13 11h0m2 -3h0m-22 -1h0m31 -6h0m-11 -2h0m-2 14h0m-13 1h0m5 -4h0m6 9h0m1 -4h0m3 -12h0m-8 -3h0m8 8h0m0 -5h0m0 8h0m-4 10h0m-13 -10h0m-2 -7h0m-4 7h0m16 -16h0m-9 12h0m3 16h0m-4 -20h0m16 2h0m-32 -3h0m0 14h0m38 7h0m-19 -18h0m-7 3h0m32 -12h0" stroke="#f4a460" stroke-width="2.4" stroke-linecap="round"/>
<path d="M332 1238h0m12 -2h0m31 -8h0m-49 14h0m-3 -4h0m0 -9h0m7 13h0m10 4h0m5 -6h0m-1 7h0m-9 -6h0m17 5h0m2 -2h0m4 -2h0m-14 -5h0m11 15h0m-7 -8h0m10 -8h0m-5 0h0m-3 17h0m9 -7h0m-3 8h0m-17 -16h0m9 -2h0m0 11h0m1 7h0m6 -4h0m-3 -9h0m-30 2h0m20 0h0m-5 -6h0m-2 9h0m29 -4h0m-29 -2h0m24 -7h0m-23 3h0m31 -3h0m-15 12h0m4 3h0m-18 2h0" stroke="#b39ddb" stroke-width="2.4" stroke-linecap="round"/>
<path d="M347 1234h0m17 9h0m-36 -5h0m13 7h0m-4 7h0m28 -16h0m-8 0h0m-8 20h0m-24 -19h0m16 14h0m-18 -14h0m24 7h0m-16 -3h0m-2 -3h0m-1 -4h0m30 -1h0m-23 12h0m14 -9h0m-18 2h0m23 10h0m10 -17h0m-1 6h0m-24 6h0m8 8h0m12 2h0m-16 -12h0m-2 -5h0m22 1h0m-34 8h0m17 -5h0m-10 5h0m3 0h0m4 -6h0" stroke="#9ccc65" stroke-width="2.4" stroke-linecap="round"/>
<path d="M358 1249h0m-13 -12h0m-21 16h0m27 1h0m18 -15h0m-40 -2h0m36 5h0m-36 -10h0m16 9h0m-11 3h0m34 6h0m-24 -11h0m-1 17h0m12 -6h0m-13 -2h0m16 -16h0m-25 18h0m1 -15h0m-5 11h0m24 -9h0m-1 1h0m9 -1h0m-6 7h0m0 8h0m-13 -8h0m-1 9h0m4 -23h0m-7 9h0m10 3h0m-8 -3h0m0 5h0m14 0h0m-25 -10h0m8 7h0m11 -2h0m-21 -4h0m29 5h0m-27 11h0m9 -14h0m11 5h0m3 12h0m-6 -9h0m-13 -8h0m13 0h0" stroke="#f48fb1" stroke-width="2.4" stroke-linecap="round"/>
<path d="M373 1246h0m-5 -5h0m-23 -5h0m16 -1h0m5 17h0m10 -12h0m-21 6h0m0 -12h0m5 11h0m-21 0h0m27 -6h0m-38 -1h0m16 5h0m-25 -4h0m28 5h0m-10 -2h0m25 0h0m-4 4h0m-4 -5h0m-10 -8h0m-4 10h0m19 -5h0m13 7h0m-7 -7h0m-14 5h0m12 8h0m-11 -8h0m-4 2h0m5 0h0m-10 1h0m5 1h0m-13 -2h0m24 -1h0m-9 5h0m-17 -3h0m11 -8h0m9 8h0" stroke="#90caf9" stroke-width="2.4" stroke-linecap="round"/>
<path d="M340 1239h0m-4 12h0m-7 -8h0m10 10h0m-8 -22h0m4 11h0m12 6h0m7 -3h0m-23 -5h0m24 15h0m-11 -15h0m7 -2h0m3 -5h0m10 8h0m-23 5h0m-7 5h0m16 -4h0m-7 -14h0m3 12h0m-20 2h0m17 4h0m-1 -12h0m14 -1h0m-16 -4h0m-15 7h0m20 7h0m15 4h0m-2 -7h0m-12 -4h0m30 3h0m-42 -2h0m-4 -1h0m38 -10h0m-27 13h0m9 -1h0m8 -10h0" stroke="#ffb74d" stroke-width="2.4" stroke-linecap="round"/>
<path d="M336 1238h0m17 10h0m6 1h0m-17 0h0m6 0h0m10 -10h0m-7 3h0m-5 -5h0m11 17h0m-3 -10h0m-28 -2h0m12 5h0m24 -5h0m2 -13h0m-20 13h0m0 -1h0m20 -7h0m-41 11h0m38 -10h0m-4 24h0m-12 -12h0m22 3h0m-30 -7h0m15 -7h0m-9 -4h0m7 12h0m-19 7h0m16 -13h0m24 0h0m-13 21h0m-36 -18h0m16 9h0m-2 -17h0m27 14h0m-9 -1h0" stroke="#ce93d8" stroke-width="2.4" stroke-linecap="round"/>
<path d="M395 1235h0m5 -4h0m4 5h0m8 3h0m5 -2h0m-29 9h0m21 -3h0" stroke="#b0b0c8" stroke-width="2.2" stroke-linecap="round"/>
<path d="M83 1095H279V1291H83Z M83 1223.5H172.5V1291 M307 1097H503V1293H307Z M307 1224.5H387V1293" fill="none" stroke="#000" stroke-width="2.2"/>
<path d="M83 1114.5h-5M307 1115.5h-5M83 1160.7h-5M307 1161.7h-5M83 1215h-5M307 1216h-5M83 1279h-5M307 1280h-5M115 1291v5M181 1291v5M222.6 1291v5M262 1291v5M339 1293v5M405 1293v5M446.6 1293v5M486 1293v5M95 1291v2.5M319 1293v2.5M99.4 1291v2.5M323.4 1293v2.5M103.8 1291v2.5M327.8 1293v2.5M108.2 1291v2.5M332.2 1293v2.5M112.6 1291v2.5M336.6 1293v2.5M117 1291v2.5M341 1293v2.5M121.4 1291v2.5M345.4 1293v2.5M125.8 1291v2.5M349.8 1293v2.5M130.2 1291v2.5M354.2 1293v2.5M134.6 1291v2.5M358.6 1293v2.5M139 1291v2.5M363 1293v2.5M143.4 1291v2.5M367.4 1293v2.5M147.8 1291v2.5M371.8 1293v2.5M152.2 1291v2.5M376.2 1293v2.5M156.6 1291v2.5M380.6 1293v2.5M161 1291v2.5M385 1293v2.5M165.4 1291v2.5M389.4 1293v2.5M169.8 1291v2.5M393.8 1293v2.5M174.2 1291v2.5M398.2 1293v2.5M178.6 1291v2.5M402.6 1293v2.5M183 1291v2.5M407 1293v2.5M187.4 1291v2.5M411.4 1293v2.5M191.8 1291v2.5M415.8 1293v2.5M196.2 1291v2.5M420.2 1293v2.5M200.6 1291v2.5M424.6 1293v2.5M205 1291v2.5M429 1293v2.5M209.4 1291v2.5M433.4 1293v2.5M213.8 1291v2.5M437.8 1293v2.5M218.2 1291v2.5M442.2 1293v2.5M222.6 1291v2.5M446.6 1293v2.5M227 1291v2.5M451 1293v2.5M231.4 1291v2.5M455.4 1293v2.5M235.8 1291v2.5M459.8 1293v2.5M240.2 1291v2.5M464.2 1293v2.5M244.6 1291v2.5M468.6 1293v2.5M249 1291v2.5M473 1293v2.5M253.4 1291v2.5M477.4 1293v2.5M257.8 1291v2.5M481.8 1293v2.5M262.2 1291v2.5M486.2 1293v2.5M266.6 1291v2.5M490.6 1293v2.5M83 1100h-2.5M307 1101h-2.5M83 1106.3h-2.5M307 1107.3h-2.5M83 1112.6h-2.5M307 1113.6h-2.5M83 1118.9h-2.5M307 1119.9h-2.5M83 1125.2h-2.5M307 1126.2h-2.5M83 1131.5h-2.5M307 1132.5h-2.5M83 1137.8h-2.5M307 1138.8h-2.5M83 1144.1h-2.5M307 1145.1h-2.5M83 1150.4h-2.5M307 1151.4h-2.5M83 1156.7h-2.5M307 1157.7h-2.5M83 1163h-2.5M307 1164h-2.5M83 1169.3h-2.5M307 1170.3h-2.5M83 1175.6h-2.5M307 1176.6h-2.5M83 1181.9h-2.5M307 1182.9h-2.5M83 1188.2h-2.5M307 1189.2h-2.5M83 1194.5h-2.5M307 1195.5h-2.5M83 1200.8h-2.5M307 1201.8h-2.5M83 1207.1h-2.5M307 1208.1h-2.5M83 1213.4h-2.5M307 1214.4h-2.5M83 1219.7h-2.5M307 1220.7h-2.5M83 1226h-2.5M307 1227h-2.5M83 1232.3h-2.5M307 1233.3h-2.5M83 1238.6h-2.5M307 1239.6h-2.5M83 1244.9h-2.5M307 1245.9h-2.5M83 1251.2h-2.5M307 1252.2h-2.5M83 1257.5h-2.5M307 1258.5h-2.5M83 1263.8h-2.5M307 1264.8h-2.5M83 1270.1h-2.5M307 1271.1h-2.5M83 1276.4h-2.5M307 1277.4h-2.5M83 1282.7h-2.5M307 1283.7h-2.5" stroke="#000" stroke-width="1.2"/>
<path d="M80 1236v20M304 1237v20M120 1291v6M344 1293v6" stroke="#000" stroke-width="3"/>
<text x="56" y="1119" font-size="13">10<tspan font-size="10.4" dy="-5.9">5</tspan></text>
<text x="56" y="1165" font-size="13">10<tspan font-size="10.4" dy="-5.9">4</tspan></text>
<text x="56" y="1219" font-size="13">10<tspan font-size="10.4" dy="-5.9">3</tspan></text>
<text x="69" y="1249" font-size="13" text-anchor="middle">0</text>
<text x="49" y="1284" font-size="13">-10<tspan font-size="10.4" dy="-5.9">3</tspan></text>
<text x="115.5" y="1312" font-size="14" text-anchor="middle">0</text>
<text x="170" y="1312" font-size="14">10<tspan font-size="11.2" dy="-6.3">3</tspan></text>
<text x="211" y="1312" font-size="14">10<tspan font-size="11.2" dy="-6.3">4</tspan></text>
<text x="251" y="1312" font-size="14">10<tspan font-size="11.2" dy="-6.3">5</tspan></text>
<text x="262" y="1123" font-size="24" text-anchor="end">13.1</text>
<text x="486" y="1123" font-size="24" text-anchor="end">4.03</text>
<path d="M585 1134H599.5V1344H718 M585 1204H599.5M585 1274H599.5M585 1344H599.5 M633 1344v7M683 1344v7" fill="none" stroke="#000" stroke-width="1.8"/>
<text x="582" y="1144" font-size="28" text-anchor="end">30</text>
<text x="582" y="1214" font-size="28" text-anchor="end">20</text>
<text x="582" y="1284" font-size="28" text-anchor="end">10</text>
<text x="582" y="1354" font-size="28" text-anchor="end">0</text>
<text transform="translate(543 1239) rotate(-90)" font-size="37" text-anchor="middle">% Th1 cells</text>
<path d="M633 1145H680" stroke="#000" stroke-width="1.6"/>
<text x="656" y="1154" font-size="30" text-anchor="middle">*</text>
<path d="M633 1176L683 1344M633 1228L683 1321M633 1244.5L683 1316M633 1266L683 1279M633 1271L683 1344M633 1274L683 1338" stroke="#000" stroke-width="1.5"/>
<path d="M683 1271L690.5 1284L675.5 1284ZM683 1308L690.5 1321L675.5 1321ZM683 1313L690.5 1326L675.5 1326ZM683 1336L690.5 1349L675.5 1349Z" fill="#f19a9a" stroke="#333" stroke-width="1.3"/>
<g fill="#ef7c7c" stroke="#333" stroke-width="1.3"><circle cx="633" cy="1176" r="7.6"/><circle cx="633" cy="1228" r="7.6"/><circle cx="633" cy="1244.5" r="7.6"/><circle cx="633" cy="1266" r="7.6"/><circle cx="633" cy="1271" r="7.6"/><circle cx="633" cy="1274" r="7.6"/></g>
<text transform="translate(652 1374) rotate(-42)" font-size="29" text-anchor="end">Spleen</text>
<text transform="translate(703 1374) rotate(-45)" font-size="29" text-anchor="end">LN</text>
</svg></body></html>
